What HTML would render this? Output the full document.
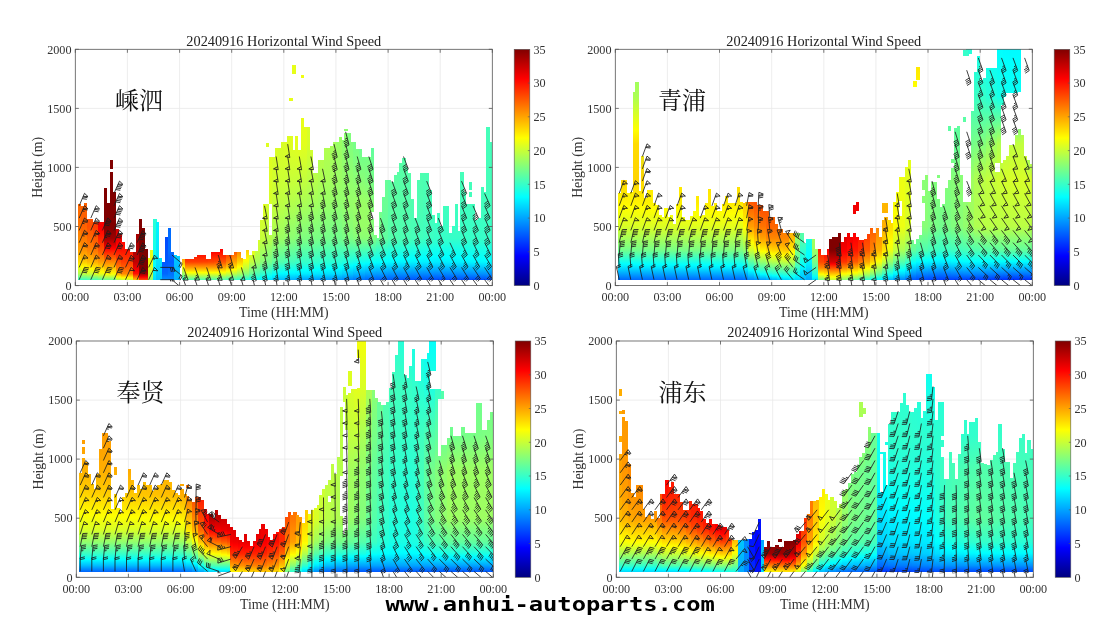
<!DOCTYPE html>
<html lang="zh"><head><meta charset="utf-8"><title>20240916 Horizontal Wind Speed</title>
<style>
html,body{margin:0;padding:0;background:#fff}
body{width:1105px;height:624px;overflow:hidden;position:relative}
svg{display:block;position:absolute;left:0;top:0}
text{font-family:"Liberation Serif","Noto Serif CJK SC",serif;fill:#333}
.tk{font-size:12.2px}
.lb{font-size:13.8px}
.tt{font-size:14.3px;fill:#222}
.cn{font-size:24px;fill:#111;font-family:"Liberation Serif","Noto Serif CJK SC",serif}
.wm{font-family:"DejaVu Sans Mono","Liberation Mono",monospace;font-weight:bold;font-size:20px;fill:#000}
</style></head><body>
<svg width="1105" height="624" viewBox="0 0 1105 624">
<defs>
<linearGradient id="cb" x1="0" x2="0" y1="1" y2="0"><stop offset="0" stop-color="#000080"/><stop offset="0.125" stop-color="#0000ff"/><stop offset="0.375" stop-color="#00ffff"/><stop offset="0.625" stop-color="#ffff00"/><stop offset="0.875" stop-color="#ff0000"/><stop offset="1" stop-color="#800000"/></linearGradient>
<linearGradient id="g0_0" gradientUnits="userSpaceOnUse" x1="0" x2="0" y1="285.6" y2="49.3"><stop offset="0.025" stop-color="#38ffc7"/><stop offset="0.05" stop-color="#afff50"/><stop offset="0.075" stop-color="#e9ff16"/><stop offset="0.08438" stop-color="#ffff00"/><stop offset="0.1" stop-color="#ffdb00"/><stop offset="0.15" stop-color="#ffa000"/><stop offset="0.2" stop-color="#ff8a00"/><stop offset="0.25" stop-color="#ff7400"/><stop offset="0.35" stop-color="#ff6800"/><stop offset="0.6" stop-color="#ff6800"/></linearGradient>
<linearGradient id="g0_1" gradientUnits="userSpaceOnUse" x1="0" x2="0" y1="285.6" y2="49.3"><stop offset="0.025" stop-color="#40ffbf"/><stop offset="0.05" stop-color="#bdff42"/><stop offset="0.075" stop-color="#f8ff07"/><stop offset="0.07812" stop-color="#ffff00"/><stop offset="0.1" stop-color="#ffcc00"/><stop offset="0.15" stop-color="#ff9200"/><stop offset="0.2" stop-color="#ff7a00"/><stop offset="0.25" stop-color="#ff6100"/><stop offset="0.35" stop-color="#ff6100"/><stop offset="0.6" stop-color="#ff6100"/></linearGradient>
<linearGradient id="g0_2" gradientUnits="userSpaceOnUse" x1="0" x2="0" y1="285.6" y2="49.3"><stop offset="0.025" stop-color="#47ffb8"/><stop offset="0.05" stop-color="#ccff33"/><stop offset="0.07187" stop-color="#ffff00"/><stop offset="0.075" stop-color="#fff800"/><stop offset="0.1" stop-color="#ffbd00"/><stop offset="0.15" stop-color="#ff8300"/><stop offset="0.2" stop-color="#ff6900"/><stop offset="0.25" stop-color="#ff4f00"/><stop offset="0.45" stop-color="#ff5900"/></linearGradient>
<linearGradient id="g0_3" gradientUnits="userSpaceOnUse" x1="0" x2="0" y1="285.6" y2="49.3"><stop offset="0.025" stop-color="#4effb1"/><stop offset="0.05" stop-color="#dbff24"/><stop offset="0.06563" stop-color="#ffff00"/><stop offset="0.075" stop-color="#ffe900"/><stop offset="0.1" stop-color="#ffaf00"/><stop offset="0.15" stop-color="#ff7500"/><stop offset="0.2" stop-color="#ff5900"/><stop offset="0.25" stop-color="#ff3d00"/><stop offset="0.45" stop-color="#ff5200"/></linearGradient>
<linearGradient id="g0_4" gradientUnits="userSpaceOnUse" x1="0" x2="0" y1="285.6" y2="49.3"><stop offset="0.025" stop-color="#5bffa4"/><stop offset="0.05" stop-color="#edff12"/><stop offset="0.05781" stop-color="#ffff00"/><stop offset="0.075" stop-color="#ffd700"/><stop offset="0.1" stop-color="#ff9d00"/><stop offset="0.15" stop-color="#ff5400"/><stop offset="0.2" stop-color="#ff2100"/><stop offset="0.2375" stop-color="#ff0000"/><stop offset="0.25" stop-color="#f40000"/><stop offset="0.3" stop-color="#ff0000"/><stop offset="0.45" stop-color="#ff0b00"/></linearGradient>
<linearGradient id="g0_5" gradientUnits="userSpaceOnUse" x1="0" x2="0" y1="285.6" y2="49.3"><stop offset="0.025" stop-color="#71ff8e"/><stop offset="0.04937" stop-color="#ffff00"/><stop offset="0.05" stop-color="#fffb00"/><stop offset="0.075" stop-color="#ffc100"/><stop offset="0.1" stop-color="#ff8700"/><stop offset="0.15" stop-color="#ff1200"/><stop offset="0.1578" stop-color="#ff0000"/><stop offset="0.2" stop-color="#9d0000"/><stop offset="0.25" stop-color="#800000"/><stop offset="0.35" stop-color="#800000"/><stop offset="0.6" stop-color="#800000"/></linearGradient>
<linearGradient id="g0_6" gradientUnits="userSpaceOnUse" x1="0" x2="0" y1="285.6" y2="49.3"><stop offset="0.025" stop-color="#71ff8e"/><stop offset="0.04938" stop-color="#ffff00"/><stop offset="0.05" stop-color="#fffb00"/><stop offset="0.075" stop-color="#ffc100"/><stop offset="0.1" stop-color="#ff8700"/><stop offset="0.15" stop-color="#ff1200"/><stop offset="0.1578" stop-color="#ff0000"/><stop offset="0.2" stop-color="#9d0000"/><stop offset="0.25" stop-color="#800000"/><stop offset="0.35" stop-color="#800000"/><stop offset="0.45" stop-color="#800000"/><stop offset="0.8" stop-color="#800000"/></linearGradient>
<linearGradient id="g0_7" gradientUnits="userSpaceOnUse" x1="0" x2="0" y1="285.6" y2="49.3"><stop offset="0.025" stop-color="#b3ff4c"/><stop offset="0.03641" stop-color="#ffff00"/><stop offset="0.05" stop-color="#ffa400"/><stop offset="0.075" stop-color="#ff7a00"/><stop offset="0.1" stop-color="#ff5000"/><stop offset="0.15" stop-color="#ff1200"/><stop offset="0.1727" stop-color="#ff0000"/><stop offset="0.2" stop-color="#e90000"/><stop offset="0.25" stop-color="#c80000"/><stop offset="0.45" stop-color="#c80000"/></linearGradient>
<linearGradient id="g0_8" gradientUnits="userSpaceOnUse" x1="0" x2="0" y1="285.6" y2="49.3"><stop offset="0.025" stop-color="#c8ff37"/><stop offset="0.03281" stop-color="#ffff00"/><stop offset="0.05" stop-color="#ff8700"/><stop offset="0.075" stop-color="#ff6200"/><stop offset="0.1" stop-color="#ff3e00"/><stop offset="0.15" stop-color="#ff1200"/><stop offset="0.2" stop-color="#ff0400"/><stop offset="0.2125" stop-color="#ff0000"/><stop offset="0.35" stop-color="#f40000"/></linearGradient>
<linearGradient id="g0_9" gradientUnits="userSpaceOnUse" x1="0" x2="0" y1="285.6" y2="49.3"><stop offset="0.025" stop-color="#c8ff37"/><stop offset="0.03281" stop-color="#ffff00"/><stop offset="0.05" stop-color="#ff8700"/><stop offset="0.075" stop-color="#ff6200"/><stop offset="0.1" stop-color="#ff3e00"/><stop offset="0.15" stop-color="#ff1200"/><stop offset="0.25" stop-color="#f40000"/></linearGradient>
<linearGradient id="g0_10" gradientUnits="userSpaceOnUse" x1="0" x2="0" y1="285.6" y2="49.3"><stop offset="0.025" stop-color="#ffc100"/><stop offset="0.05" stop-color="#ff1200"/><stop offset="0.06136" stop-color="#ff0000"/><stop offset="0.075" stop-color="#e90000"/><stop offset="0.1" stop-color="#c10000"/><stop offset="0.15" stop-color="#ab0000"/><stop offset="0.2" stop-color="#a40000"/><stop offset="0.35" stop-color="#9d0000"/></linearGradient>
<linearGradient id="g0_11" gradientUnits="userSpaceOnUse" x1="0" x2="0" y1="285.6" y2="49.3"><stop offset="0.025" stop-color="#ff4c00"/><stop offset="0.03594" stop-color="#ff0000"/><stop offset="0.05" stop-color="#9d0000"/><stop offset="0.075" stop-color="#800000"/><stop offset="0.1" stop-color="#800000"/><stop offset="0.15" stop-color="#800000"/><stop offset="0.2" stop-color="#800000"/><stop offset="0.25" stop-color="#800000"/><stop offset="0.45" stop-color="#800000"/></linearGradient>
<linearGradient id="o0_24" gradientUnits="userSpaceOnUse" x1="0" x2="0" y1="285.6" y2="49.3"><stop offset="0.025" stop-color="#ff4c00"/><stop offset="0.03594" stop-color="#ff0000"/><stop offset="0.05" stop-color="#9d0000"/><stop offset="0.075" stop-color="#800000"/><stop offset="0.1" stop-color="#800000"/><stop offset="0.15" stop-color="#800000"/><stop offset="0.25" stop-color="#800000"/></linearGradient>
<linearGradient id="o0_25" gradientUnits="userSpaceOnUse" x1="0" x2="0" y1="285.6" y2="49.3"><stop offset="0.025" stop-color="#abff54"/><stop offset="0.05" stop-color="#d7ff28"/><stop offset="0.075" stop-color="#e5ff1a"/><stop offset="0.1" stop-color="#f4ff0b"/><stop offset="0.15" stop-color="#f4ff0b"/><stop offset="0.25" stop-color="#f4ff0b"/></linearGradient>
<linearGradient id="o0_26" gradientUnits="userSpaceOnUse" x1="0" x2="0" y1="285.6" y2="49.3"><stop offset="0.025" stop-color="#8eff71"/><stop offset="0.05" stop-color="#c8ff37"/><stop offset="0.075" stop-color="#d7ff28"/><stop offset="0.1" stop-color="#e5ff1a"/><stop offset="0.15" stop-color="#e5ff1a"/><stop offset="0.2" stop-color="#e5ff1a"/><stop offset="0.25" stop-color="#e5ff1a"/><stop offset="0.45" stop-color="#e5ff1a"/></linearGradient>
<linearGradient id="o0_27" gradientUnits="userSpaceOnUse" x1="0" x2="0" y1="285.6" y2="49.3"><stop offset="0.025" stop-color="#00deff"/><stop offset="0.05" stop-color="#00edff"/><stop offset="0.075" stop-color="#00fbff"/><stop offset="0.08125" stop-color="#00ffff"/><stop offset="0.1" stop-color="#0bfff4"/><stop offset="0.15" stop-color="#15ffea"/><stop offset="0.2" stop-color="#1effe1"/><stop offset="0.25" stop-color="#28ffd7"/><stop offset="0.45" stop-color="#28ffd7"/></linearGradient>
<linearGradient id="g0_14" gradientUnits="userSpaceOnUse" x1="0" x2="0" y1="285.6" y2="49.3"><stop offset="0.025" stop-color="#00c1ff"/><stop offset="0.05" stop-color="#00cdff"/><stop offset="0.075" stop-color="#00d9ff"/><stop offset="0.1" stop-color="#00e5ff"/><stop offset="0.15" stop-color="#00eaff"/><stop offset="0.2" stop-color="#00efff"/><stop offset="0.25" stop-color="#00f4ff"/><stop offset="0.45" stop-color="#00f4ff"/></linearGradient>
<linearGradient id="g0_15" gradientUnits="userSpaceOnUse" x1="0" x2="0" y1="285.6" y2="49.3"><stop offset="0.025" stop-color="#008eff"/><stop offset="0.05" stop-color="#0066ff"/><stop offset="0.075" stop-color="#005fff"/><stop offset="0.1" stop-color="#0057ff"/><stop offset="0.15" stop-color="#0051ff"/><stop offset="0.2" stop-color="#004bff"/><stop offset="0.35" stop-color="#0045ff"/></linearGradient>
<linearGradient id="g0_16" gradientUnits="userSpaceOnUse" x1="0" x2="0" y1="285.6" y2="49.3"><stop offset="0.025" stop-color="#0087ff"/><stop offset="0.05" stop-color="#0071ff"/><stop offset="0.075" stop-color="#0066ff"/><stop offset="0.1" stop-color="#005bff"/><stop offset="0.15" stop-color="#006eff"/><stop offset="0.2" stop-color="#006cff"/><stop offset="0.25" stop-color="#006aff"/><stop offset="0.45" stop-color="#006aff"/></linearGradient>
<linearGradient id="g0_17" gradientUnits="userSpaceOnUse" x1="0" x2="0" y1="285.6" y2="49.3"><stop offset="0.025" stop-color="#00b2ff"/><stop offset="0.05" stop-color="#00b7ff"/><stop offset="0.075" stop-color="#00bcff"/><stop offset="0.1" stop-color="#00c1ff"/><stop offset="0.15" stop-color="#00deff"/><stop offset="0.25" stop-color="#00deff"/></linearGradient>
<linearGradient id="g0_18" gradientUnits="userSpaceOnUse" x1="0" x2="0" y1="285.6" y2="49.3"><stop offset="0.025" stop-color="#2fffd0"/><stop offset="0.05" stop-color="#9fff60"/><stop offset="0.075" stop-color="#f9ff06"/><stop offset="0.07692" stop-color="#ffff00"/><stop offset="0.1" stop-color="#ffb600"/><stop offset="0.2" stop-color="#ff7800"/></linearGradient>
<linearGradient id="g0_19" gradientUnits="userSpaceOnUse" x1="0" x2="0" y1="285.6" y2="49.3"><stop offset="0.025" stop-color="#54ffab"/><stop offset="0.05" stop-color="#e5ff1a"/><stop offset="0.05547" stop-color="#ffff00"/><stop offset="0.075" stop-color="#ffa400"/><stop offset="0.1" stop-color="#ff3e00"/><stop offset="0.1425" stop-color="#ff0000"/><stop offset="0.2" stop-color="#f40000"/></linearGradient>
<linearGradient id="g0_20" gradientUnits="userSpaceOnUse" x1="0" x2="0" y1="285.6" y2="49.3"><stop offset="0.025" stop-color="#54ffab"/><stop offset="0.05" stop-color="#e5ff1a"/><stop offset="0.05547" stop-color="#ffff00"/><stop offset="0.075" stop-color="#ffa400"/><stop offset="0.1" stop-color="#ff3e00"/><stop offset="0.1425" stop-color="#ff0000"/><stop offset="0.2" stop-color="#f40000"/></linearGradient>
<linearGradient id="g0_21" gradientUnits="userSpaceOnUse" x1="0" x2="0" y1="285.6" y2="49.3"><stop offset="0.025" stop-color="#54ffab"/><stop offset="0.05" stop-color="#e5ff1a"/><stop offset="0.05547" stop-color="#ffff00"/><stop offset="0.075" stop-color="#ffa400"/><stop offset="0.1" stop-color="#ff3e00"/><stop offset="0.1425" stop-color="#ff0000"/><stop offset="0.15" stop-color="#f40000"/><stop offset="0.25" stop-color="#f40000"/></linearGradient>
<linearGradient id="g0_22" gradientUnits="userSpaceOnUse" x1="0" x2="0" y1="285.6" y2="49.3"><stop offset="0.025" stop-color="#54ffab"/><stop offset="0.05" stop-color="#e5ff1a"/><stop offset="0.05547" stop-color="#ffff00"/><stop offset="0.075" stop-color="#ffa400"/><stop offset="0.1" stop-color="#ff3f00"/><stop offset="0.1426" stop-color="#ff0000"/><stop offset="0.15" stop-color="#f40000"/><stop offset="0.25" stop-color="#f40000"/></linearGradient>
<linearGradient id="g0_23" gradientUnits="userSpaceOnUse" x1="0" x2="0" y1="285.6" y2="49.3"><stop offset="0.025" stop-color="#54ffab"/><stop offset="0.05" stop-color="#e5ff1a"/><stop offset="0.05547" stop-color="#ffff00"/><stop offset="0.075" stop-color="#ffa400"/><stop offset="0.1" stop-color="#ff4400"/><stop offset="0.1431" stop-color="#ff0000"/><stop offset="0.15" stop-color="#f40000"/><stop offset="0.25" stop-color="#f40000"/></linearGradient>
<linearGradient id="g0_24" gradientUnits="userSpaceOnUse" x1="0" x2="0" y1="285.6" y2="49.3"><stop offset="0.025" stop-color="#54ffab"/><stop offset="0.05" stop-color="#e5ff1a"/><stop offset="0.05547" stop-color="#ffff00"/><stop offset="0.075" stop-color="#ffa400"/><stop offset="0.1" stop-color="#ff4900"/><stop offset="0.1435" stop-color="#ff0000"/><stop offset="0.15" stop-color="#f40000"/><stop offset="0.25" stop-color="#f40000"/></linearGradient>
<linearGradient id="g0_25" gradientUnits="userSpaceOnUse" x1="0" x2="0" y1="285.6" y2="49.3"><stop offset="0.025" stop-color="#51ffae"/><stop offset="0.05" stop-color="#e1ff1e"/><stop offset="0.05665" stop-color="#ffff00"/><stop offset="0.075" stop-color="#ffab00"/><stop offset="0.1" stop-color="#ff5600"/><stop offset="0.1493" stop-color="#ff0000"/><stop offset="0.15" stop-color="#fe0000"/><stop offset="0.25" stop-color="#fe0000"/></linearGradient>
<linearGradient id="g0_26" gradientUnits="userSpaceOnUse" x1="0" x2="0" y1="285.6" y2="49.3"><stop offset="0.025" stop-color="#48ffb7"/><stop offset="0.05" stop-color="#cdff32"/><stop offset="0.06192" stop-color="#ffff00"/><stop offset="0.075" stop-color="#ffc800"/><stop offset="0.1" stop-color="#ff7d00"/><stop offset="0.15" stop-color="#ff2600"/><stop offset="0.25" stop-color="#ff2600"/></linearGradient>
<linearGradient id="g0_27" gradientUnits="userSpaceOnUse" x1="0" x2="0" y1="285.6" y2="49.3"><stop offset="0.025" stop-color="#3effc1"/><stop offset="0.05" stop-color="#baff45"/><stop offset="0.06827" stop-color="#ffff00"/><stop offset="0.075" stop-color="#ffe500"/><stop offset="0.1" stop-color="#ffa400"/><stop offset="0.15" stop-color="#ff4c00"/><stop offset="0.25" stop-color="#ff4c00"/></linearGradient>
<linearGradient id="g0_28" gradientUnits="userSpaceOnUse" x1="0" x2="0" y1="285.6" y2="49.3"><stop offset="0.025" stop-color="#33ffcc"/><stop offset="0.05" stop-color="#a4ff5b"/><stop offset="0.075" stop-color="#f6ff09"/><stop offset="0.07903" stop-color="#ffff00"/><stop offset="0.1" stop-color="#ffd000"/><stop offset="0.15" stop-color="#ff7e00"/><stop offset="0.25" stop-color="#ff7e00"/></linearGradient>
<linearGradient id="g0_29" gradientUnits="userSpaceOnUse" x1="0" x2="0" y1="285.6" y2="49.3"><stop offset="0.025" stop-color="#24ffdb"/><stop offset="0.05" stop-color="#87ff78"/><stop offset="0.075" stop-color="#c3ff3c"/><stop offset="0.1" stop-color="#f4ff0b"/><stop offset="0.1091" stop-color="#ffff00"/><stop offset="0.15" stop-color="#ffce00"/><stop offset="0.25" stop-color="#ffce00"/></linearGradient>
<linearGradient id="g0_30" gradientUnits="userSpaceOnUse" x1="0" x2="0" y1="285.6" y2="49.3"><stop offset="0.025" stop-color="#16ffe9"/><stop offset="0.05" stop-color="#6aff95"/><stop offset="0.075" stop-color="#95ff6a"/><stop offset="0.1" stop-color="#c1ff3e"/><stop offset="0.15" stop-color="#ebff14"/><stop offset="0.25" stop-color="#f0ff0f"/></linearGradient>
<linearGradient id="g0_31" gradientUnits="userSpaceOnUse" x1="0" x2="0" y1="285.6" y2="49.3"><stop offset="0.025" stop-color="#07fff8"/><stop offset="0.05" stop-color="#4dffb2"/><stop offset="0.075" stop-color="#78ff87"/><stop offset="0.1" stop-color="#a4ff5b"/><stop offset="0.15" stop-color="#c7ff38"/><stop offset="0.2" stop-color="#d9ff26"/><stop offset="0.35" stop-color="#ebff14"/></linearGradient>
<linearGradient id="g0_32" gradientUnits="userSpaceOnUse" x1="0" x2="0" y1="285.6" y2="49.3"><stop offset="0.025" stop-color="#00f6ff"/><stop offset="0.02865" stop-color="#00ffff"/><stop offset="0.05" stop-color="#32ffcd"/><stop offset="0.075" stop-color="#5dffa2"/><stop offset="0.1" stop-color="#89ff76"/><stop offset="0.15" stop-color="#a7ff58"/><stop offset="0.2" stop-color="#c5ff3a"/><stop offset="0.25" stop-color="#cfff30"/><stop offset="0.35" stop-color="#e2ff1d"/><stop offset="0.6" stop-color="#e4ff1b"/></linearGradient>
<linearGradient id="g0_33" gradientUnits="userSpaceOnUse" x1="0" x2="0" y1="285.6" y2="49.3"><stop offset="0.025" stop-color="#00e3ff"/><stop offset="0.03698" stop-color="#00ffff"/><stop offset="0.05" stop-color="#1effe1"/><stop offset="0.075" stop-color="#4affb5"/><stop offset="0.1" stop-color="#76ff89"/><stop offset="0.15" stop-color="#96ff69"/><stop offset="0.2" stop-color="#b6ff49"/><stop offset="0.25" stop-color="#c0ff3f"/><stop offset="0.35" stop-color="#d5ff2a"/><stop offset="0.45" stop-color="#dbff24"/><stop offset="0.6" stop-color="#dfff20"/><stop offset="1" stop-color="#dfff20"/></linearGradient>
<linearGradient id="g0_34" gradientUnits="userSpaceOnUse" x1="0" x2="0" y1="285.6" y2="49.3"><stop offset="0.025" stop-color="#00d0ff"/><stop offset="0.04531" stop-color="#00ffff"/><stop offset="0.05" stop-color="#0bfff4"/><stop offset="0.075" stop-color="#37ffc8"/><stop offset="0.1" stop-color="#62ff9d"/><stop offset="0.15" stop-color="#85ff7a"/><stop offset="0.2" stop-color="#a8ff57"/><stop offset="0.25" stop-color="#b2ff4d"/><stop offset="0.35" stop-color="#c7ff38"/><stop offset="0.45" stop-color="#d2ff2d"/><stop offset="0.6" stop-color="#dbff24"/><stop offset="1" stop-color="#dbff24"/></linearGradient>
<linearGradient id="g0_35" gradientUnits="userSpaceOnUse" x1="0" x2="0" y1="285.6" y2="49.3"><stop offset="0.025" stop-color="#00bfff"/><stop offset="0.05" stop-color="#00faff"/><stop offset="0.05263" stop-color="#00ffff"/><stop offset="0.075" stop-color="#27ffd8"/><stop offset="0.1" stop-color="#52ffad"/><stop offset="0.15" stop-color="#76ff89"/><stop offset="0.2" stop-color="#9bff64"/><stop offset="0.25" stop-color="#a6ff59"/><stop offset="0.35" stop-color="#bcff43"/><stop offset="0.45" stop-color="#ccff33"/><stop offset="0.6" stop-color="#d8ff27"/><stop offset="1" stop-color="#d9ff26"/></linearGradient>
<linearGradient id="g0_36" gradientUnits="userSpaceOnUse" x1="0" x2="0" y1="285.6" y2="49.3"><stop offset="0.025" stop-color="#00b8ff"/><stop offset="0.05" stop-color="#00f7ff"/><stop offset="0.05495" stop-color="#00ffff"/><stop offset="0.075" stop-color="#21ffde"/><stop offset="0.1" stop-color="#4bffb4"/><stop offset="0.15" stop-color="#6fff90"/><stop offset="0.2" stop-color="#94ff6b"/><stop offset="0.25" stop-color="#a0ff5f"/><stop offset="0.35" stop-color="#b8ff47"/><stop offset="0.45" stop-color="#caff35"/><stop offset="0.6" stop-color="#dbff24"/><stop offset="1" stop-color="#e0ff1f"/></linearGradient>
<linearGradient id="g0_37" gradientUnits="userSpaceOnUse" x1="0" x2="0" y1="285.6" y2="49.3"><stop offset="0.025" stop-color="#00b1ff"/><stop offset="0.05" stop-color="#00f3ff"/><stop offset="0.05747" stop-color="#00ffff"/><stop offset="0.075" stop-color="#1cffe3"/><stop offset="0.1" stop-color="#43ffbc"/><stop offset="0.15" stop-color="#68ff97"/><stop offset="0.2" stop-color="#8cff73"/><stop offset="0.25" stop-color="#99ff66"/><stop offset="0.35" stop-color="#b3ff4c"/><stop offset="0.45" stop-color="#c8ff37"/><stop offset="0.6" stop-color="#dfff20"/><stop offset="0.8" stop-color="#e7ff18"/><stop offset="1" stop-color="#e7ff18"/></linearGradient>
<linearGradient id="g0_38" gradientUnits="userSpaceOnUse" x1="0" x2="0" y1="285.6" y2="49.3"><stop offset="0.025" stop-color="#00a9ff"/><stop offset="0.05" stop-color="#00f0ff"/><stop offset="0.06024" stop-color="#00ffff"/><stop offset="0.075" stop-color="#16ffe9"/><stop offset="0.1" stop-color="#3cffc3"/><stop offset="0.15" stop-color="#61ff9e"/><stop offset="0.2" stop-color="#85ff7a"/><stop offset="0.25" stop-color="#93ff6c"/><stop offset="0.35" stop-color="#afff50"/><stop offset="0.45" stop-color="#c6ff39"/><stop offset="0.6" stop-color="#e3ff1c"/><stop offset="1" stop-color="#efff10"/></linearGradient>
<linearGradient id="g0_39" gradientUnits="userSpaceOnUse" x1="0" x2="0" y1="285.6" y2="49.3"><stop offset="0.025" stop-color="#00a3ff"/><stop offset="0.05" stop-color="#00ecff"/><stop offset="0.06292" stop-color="#00ffff"/><stop offset="0.075" stop-color="#12ffed"/><stop offset="0.1" stop-color="#36ffc9"/><stop offset="0.15" stop-color="#5affa5"/><stop offset="0.2" stop-color="#7fff80"/><stop offset="0.25" stop-color="#8dff72"/><stop offset="0.35" stop-color="#aaff55"/><stop offset="0.45" stop-color="#c3ff3c"/><stop offset="0.6" stop-color="#e2ff1d"/><stop offset="0.8" stop-color="#f0ff0f"/><stop offset="1" stop-color="#f0ff0f"/></linearGradient>
<linearGradient id="g0_40" gradientUnits="userSpaceOnUse" x1="0" x2="0" y1="285.6" y2="49.3"><stop offset="0.025" stop-color="#00a1ff"/><stop offset="0.05" stop-color="#00eaff"/><stop offset="0.06458" stop-color="#00ffff"/><stop offset="0.075" stop-color="#0ffff0"/><stop offset="0.1" stop-color="#34ffcb"/><stop offset="0.15" stop-color="#58ffa7"/><stop offset="0.2" stop-color="#7cff83"/><stop offset="0.25" stop-color="#8aff75"/><stop offset="0.35" stop-color="#a6ff59"/><stop offset="0.45" stop-color="#bcff43"/><stop offset="0.6" stop-color="#d6ff29"/><stop offset="1" stop-color="#e2ff1d"/></linearGradient>
<linearGradient id="g0_41" gradientUnits="userSpaceOnUse" x1="0" x2="0" y1="285.6" y2="49.3"><stop offset="0.025" stop-color="#009eff"/><stop offset="0.05" stop-color="#00e7ff"/><stop offset="0.06625" stop-color="#00ffff"/><stop offset="0.075" stop-color="#0dfff2"/><stop offset="0.1" stop-color="#31ffce"/><stop offset="0.15" stop-color="#56ffa9"/><stop offset="0.2" stop-color="#7aff85"/><stop offset="0.25" stop-color="#87ff78"/><stop offset="0.35" stop-color="#a2ff5d"/><stop offset="0.45" stop-color="#b6ff49"/><stop offset="0.8" stop-color="#d3ff2c"/></linearGradient>
<linearGradient id="g0_42" gradientUnits="userSpaceOnUse" x1="0" x2="0" y1="285.6" y2="49.3"><stop offset="0.025" stop-color="#009cff"/><stop offset="0.05" stop-color="#00e5ff"/><stop offset="0.06792" stop-color="#00ffff"/><stop offset="0.075" stop-color="#0afff5"/><stop offset="0.1" stop-color="#2fffd0"/><stop offset="0.15" stop-color="#53ffac"/><stop offset="0.2" stop-color="#78ff87"/><stop offset="0.25" stop-color="#84ff7b"/><stop offset="0.35" stop-color="#9dff62"/><stop offset="0.45" stop-color="#afff50"/><stop offset="0.8" stop-color="#c5ff3a"/></linearGradient>
<linearGradient id="g0_43" gradientUnits="userSpaceOnUse" x1="0" x2="0" y1="285.6" y2="49.3"><stop offset="0.025" stop-color="#009aff"/><stop offset="0.05" stop-color="#00e2ff"/><stop offset="0.06958" stop-color="#00ffff"/><stop offset="0.075" stop-color="#08fff7"/><stop offset="0.1" stop-color="#2cffd3"/><stop offset="0.15" stop-color="#51ffae"/><stop offset="0.2" stop-color="#75ff8a"/><stop offset="0.25" stop-color="#81ff7e"/><stop offset="0.35" stop-color="#99ff66"/><stop offset="0.45" stop-color="#a8ff57"/><stop offset="0.6" stop-color="#b2ff4d"/><stop offset="1" stop-color="#b6ff49"/></linearGradient>
<linearGradient id="g0_44" gradientUnits="userSpaceOnUse" x1="0" x2="0" y1="285.6" y2="49.3"><stop offset="0.025" stop-color="#0097ff"/><stop offset="0.05" stop-color="#00e0ff"/><stop offset="0.07125" stop-color="#00ffff"/><stop offset="0.075" stop-color="#05fffa"/><stop offset="0.1" stop-color="#2affd5"/><stop offset="0.15" stop-color="#4effb1"/><stop offset="0.2" stop-color="#73ff8c"/><stop offset="0.25" stop-color="#7eff81"/><stop offset="0.35" stop-color="#95ff6a"/><stop offset="0.45" stop-color="#a2ff5d"/><stop offset="0.6" stop-color="#a6ff59"/><stop offset="1" stop-color="#a8ff57"/></linearGradient>
<linearGradient id="g0_45" gradientUnits="userSpaceOnUse" x1="0" x2="0" y1="285.6" y2="49.3"><stop offset="0.025" stop-color="#0093ff"/><stop offset="0.05" stop-color="#00dbff"/><stop offset="0.07402" stop-color="#00ffff"/><stop offset="0.075" stop-color="#01fffe"/><stop offset="0.1" stop-color="#27ffd8"/><stop offset="0.15" stop-color="#4cffb3"/><stop offset="0.2" stop-color="#72ff8d"/><stop offset="0.25" stop-color="#7dff82"/><stop offset="0.35" stop-color="#92ff6d"/><stop offset="0.45" stop-color="#9bff64"/><stop offset="0.6" stop-color="#9aff65"/><stop offset="1" stop-color="#9aff65"/></linearGradient>
<linearGradient id="g0_46" gradientUnits="userSpaceOnUse" x1="0" x2="0" y1="285.6" y2="49.3"><stop offset="0.025" stop-color="#008aff"/><stop offset="0.05" stop-color="#00d0ff"/><stop offset="0.075" stop-color="#00f8ff"/><stop offset="0.07955" stop-color="#00ffff"/><stop offset="0.1" stop-color="#21ffde"/><stop offset="0.15" stop-color="#4dffb2"/><stop offset="0.2" stop-color="#78ff87"/><stop offset="0.25" stop-color="#84ff7b"/><stop offset="0.35" stop-color="#94ff6b"/><stop offset="0.45" stop-color="#96ff69"/><stop offset="0.6" stop-color="#8eff71"/><stop offset="1" stop-color="#8eff71"/></linearGradient>
<linearGradient id="g0_47" gradientUnits="userSpaceOnUse" x1="0" x2="0" y1="285.6" y2="49.3"><stop offset="0.025" stop-color="#0082ff"/><stop offset="0.05" stop-color="#00c4ff"/><stop offset="0.075" stop-color="#00efff"/><stop offset="0.08432" stop-color="#00ffff"/><stop offset="0.1" stop-color="#1bffe4"/><stop offset="0.15" stop-color="#4dffb2"/><stop offset="0.2" stop-color="#7eff81"/><stop offset="0.25" stop-color="#8bff74"/><stop offset="0.35" stop-color="#97ff68"/><stop offset="0.45" stop-color="#91ff6e"/><stop offset="0.6" stop-color="#82ff7d"/><stop offset="1" stop-color="#82ff7d"/></linearGradient>
<linearGradient id="g0_48" gradientUnits="userSpaceOnUse" x1="0" x2="0" y1="285.6" y2="49.3"><stop offset="0.025" stop-color="#0079ff"/><stop offset="0.05" stop-color="#00b8ff"/><stop offset="0.075" stop-color="#00e6ff"/><stop offset="0.08849" stop-color="#00ffff"/><stop offset="0.1" stop-color="#15ffea"/><stop offset="0.15" stop-color="#4dffb2"/><stop offset="0.2" stop-color="#84ff7b"/><stop offset="0.25" stop-color="#91ff6e"/><stop offset="0.35" stop-color="#99ff66"/><stop offset="0.45" stop-color="#8cff73"/><stop offset="0.6" stop-color="#77ff88"/><stop offset="1" stop-color="#77ff88"/></linearGradient>
<linearGradient id="g0_49" gradientUnits="userSpaceOnUse" x1="0" x2="0" y1="285.6" y2="49.3"><stop offset="0.025" stop-color="#0070ff"/><stop offset="0.05" stop-color="#00adff"/><stop offset="0.075" stop-color="#00ddff"/><stop offset="0.09216" stop-color="#00ffff"/><stop offset="0.1" stop-color="#0ffff0"/><stop offset="0.15" stop-color="#4dffb2"/><stop offset="0.2" stop-color="#8aff75"/><stop offset="0.25" stop-color="#98ff67"/><stop offset="0.35" stop-color="#9bff64"/><stop offset="0.45" stop-color="#87ff78"/><stop offset="0.6" stop-color="#6bff94"/><stop offset="1" stop-color="#6bff94"/></linearGradient>
<linearGradient id="g0_50" gradientUnits="userSpaceOnUse" x1="0" x2="0" y1="285.6" y2="49.3"><stop offset="0.025" stop-color="#0069ff"/><stop offset="0.05" stop-color="#00a3ff"/><stop offset="0.075" stop-color="#00d6ff"/><stop offset="0.09509" stop-color="#00ffff"/><stop offset="0.1" stop-color="#0afff5"/><stop offset="0.15" stop-color="#4affb5"/><stop offset="0.2" stop-color="#8aff75"/><stop offset="0.25" stop-color="#98ff67"/><stop offset="0.35" stop-color="#99ff66"/><stop offset="0.45" stop-color="#81ff7e"/><stop offset="0.8" stop-color="#61ff9e"/></linearGradient>
<linearGradient id="g0_51" gradientUnits="userSpaceOnUse" x1="0" x2="0" y1="285.6" y2="49.3"><stop offset="0.025" stop-color="#0065ff"/><stop offset="0.05" stop-color="#009fff"/><stop offset="0.075" stop-color="#00d2ff"/><stop offset="0.09688" stop-color="#00ffff"/><stop offset="0.1" stop-color="#06fff9"/><stop offset="0.15" stop-color="#41ffbe"/><stop offset="0.2" stop-color="#7cff83"/><stop offset="0.25" stop-color="#87ff78"/><stop offset="0.35" stop-color="#89ff76"/><stop offset="0.45" stop-color="#78ff87"/><stop offset="0.6" stop-color="#5effa1"/><stop offset="1" stop-color="#5effa1"/></linearGradient>
<linearGradient id="g0_52" gradientUnits="userSpaceOnUse" x1="0" x2="0" y1="285.6" y2="49.3"><stop offset="0.025" stop-color="#0061ff"/><stop offset="0.05" stop-color="#009cff"/><stop offset="0.075" stop-color="#00cfff"/><stop offset="0.09866" stop-color="#00ffff"/><stop offset="0.1" stop-color="#03fffc"/><stop offset="0.15" stop-color="#38ffc7"/><stop offset="0.2" stop-color="#6dff92"/><stop offset="0.25" stop-color="#76ff89"/><stop offset="0.45" stop-color="#6fff90"/></linearGradient>
<linearGradient id="g0_53" gradientUnits="userSpaceOnUse" x1="0" x2="0" y1="285.6" y2="49.3"><stop offset="0.025" stop-color="#005eff"/><stop offset="0.05" stop-color="#0098ff"/><stop offset="0.075" stop-color="#00cbff"/><stop offset="0.1" stop-color="#00feff"/><stop offset="0.101" stop-color="#00ffff"/><stop offset="0.15" stop-color="#2fffd0"/><stop offset="0.2" stop-color="#5fffa0"/><stop offset="0.25" stop-color="#64ff9b"/><stop offset="0.35" stop-color="#6aff95"/><stop offset="0.45" stop-color="#66ff99"/><stop offset="0.8" stop-color="#57ffa8"/></linearGradient>
<linearGradient id="g0_54" gradientUnits="userSpaceOnUse" x1="0" x2="0" y1="285.6" y2="49.3"><stop offset="0.025" stop-color="#005bff"/><stop offset="0.05" stop-color="#0095ff"/><stop offset="0.075" stop-color="#00c8ff"/><stop offset="0.1" stop-color="#00fbff"/><stop offset="0.1047" stop-color="#00ffff"/><stop offset="0.15" stop-color="#27ffd8"/><stop offset="0.2" stop-color="#53ffac"/><stop offset="0.25" stop-color="#57ffa8"/><stop offset="0.35" stop-color="#5effa1"/><stop offset="0.45" stop-color="#5effa1"/><stop offset="0.8" stop-color="#53ffac"/></linearGradient>
<linearGradient id="g0_55" gradientUnits="userSpaceOnUse" x1="0" x2="0" y1="285.6" y2="49.3"><stop offset="0.025" stop-color="#0059ff"/><stop offset="0.05" stop-color="#0093ff"/><stop offset="0.075" stop-color="#00c6ff"/><stop offset="0.1" stop-color="#00f9ff"/><stop offset="0.1068" stop-color="#00ffff"/><stop offset="0.15" stop-color="#25ffda"/><stop offset="0.2" stop-color="#4fffb0"/><stop offset="0.25" stop-color="#53ffac"/><stop offset="0.35" stop-color="#5affa5"/><stop offset="0.45" stop-color="#5bffa4"/><stop offset="0.8" stop-color="#52ffad"/></linearGradient>
<linearGradient id="g0_56" gradientUnits="userSpaceOnUse" x1="0" x2="0" y1="285.6" y2="49.3"><stop offset="0.025" stop-color="#0057ff"/><stop offset="0.05" stop-color="#0092ff"/><stop offset="0.075" stop-color="#00c5ff"/><stop offset="0.1" stop-color="#00f7ff"/><stop offset="0.109" stop-color="#00ffff"/><stop offset="0.15" stop-color="#22ffdd"/><stop offset="0.2" stop-color="#4cffb3"/><stop offset="0.25" stop-color="#50ffaf"/><stop offset="0.35" stop-color="#57ffa8"/><stop offset="0.45" stop-color="#58ffa7"/><stop offset="0.8" stop-color="#50ffaf"/></linearGradient>
<linearGradient id="g0_57" gradientUnits="userSpaceOnUse" x1="0" x2="0" y1="285.6" y2="49.3"><stop offset="0.025" stop-color="#0056ff"/><stop offset="0.05" stop-color="#0090ff"/><stop offset="0.075" stop-color="#00c3ff"/><stop offset="0.1" stop-color="#00f6ff"/><stop offset="0.1113" stop-color="#00ffff"/><stop offset="0.15" stop-color="#20ffdf"/><stop offset="0.2" stop-color="#49ffb6"/><stop offset="0.25" stop-color="#4cffb3"/><stop offset="0.35" stop-color="#54ffab"/><stop offset="0.45" stop-color="#55ffaa"/><stop offset="0.8" stop-color="#4effb1"/></linearGradient>
<linearGradient id="g0_58" gradientUnits="userSpaceOnUse" x1="0" x2="0" y1="285.6" y2="49.3"><stop offset="0.025" stop-color="#0054ff"/><stop offset="0.05" stop-color="#008eff"/><stop offset="0.075" stop-color="#00c1ff"/><stop offset="0.1" stop-color="#00f4ff"/><stop offset="0.1136" stop-color="#00ffff"/><stop offset="0.15" stop-color="#1dffe2"/><stop offset="0.2" stop-color="#45ffba"/><stop offset="0.25" stop-color="#49ffb6"/><stop offset="0.35" stop-color="#50ffaf"/><stop offset="0.6" stop-color="#4dffb2"/></linearGradient>
<linearGradient id="g0_59" gradientUnits="userSpaceOnUse" x1="0" x2="0" y1="285.6" y2="49.3"><stop offset="0.025" stop-color="#0052ff"/><stop offset="0.05" stop-color="#008cff"/><stop offset="0.075" stop-color="#00bfff"/><stop offset="0.1" stop-color="#00f2ff"/><stop offset="0.1161" stop-color="#00ffff"/><stop offset="0.15" stop-color="#1bffe4"/><stop offset="0.2" stop-color="#42ffbd"/><stop offset="0.25" stop-color="#45ffba"/><stop offset="0.35" stop-color="#4dffb2"/><stop offset="0.45" stop-color="#4fffb0"/><stop offset="0.8" stop-color="#4bffb4"/></linearGradient>
<linearGradient id="g0_60" gradientUnits="userSpaceOnUse" x1="0" x2="0" y1="285.6" y2="49.3"><stop offset="0.025" stop-color="#0050ff"/><stop offset="0.05" stop-color="#008bff"/><stop offset="0.075" stop-color="#00beff"/><stop offset="0.1" stop-color="#00f1ff"/><stop offset="0.1187" stop-color="#00ffff"/><stop offset="0.15" stop-color="#18ffe7"/><stop offset="0.2" stop-color="#3effc1"/><stop offset="0.25" stop-color="#42ffbd"/><stop offset="0.35" stop-color="#49ffb6"/><stop offset="0.45" stop-color="#4cffb3"/><stop offset="0.8" stop-color="#49ffb6"/></linearGradient>
<linearGradient id="g0_61" gradientUnits="userSpaceOnUse" x1="0" x2="0" y1="285.6" y2="49.3"><stop offset="0.025" stop-color="#004fff"/><stop offset="0.05" stop-color="#0089ff"/><stop offset="0.075" stop-color="#00bcff"/><stop offset="0.1" stop-color="#00efff"/><stop offset="0.1214" stop-color="#00ffff"/><stop offset="0.15" stop-color="#15ffea"/><stop offset="0.2" stop-color="#3bffc4"/><stop offset="0.25" stop-color="#3fffc0"/><stop offset="0.35" stop-color="#46ffb9"/><stop offset="0.6" stop-color="#47ffb8"/></linearGradient>
<linearGradient id="g0_62" gradientUnits="userSpaceOnUse" x1="0" x2="0" y1="285.6" y2="49.3"><stop offset="0.025" stop-color="#004dff"/><stop offset="0.05" stop-color="#0087ff"/><stop offset="0.075" stop-color="#00baff"/><stop offset="0.1" stop-color="#00edff"/><stop offset="0.1243" stop-color="#00ffff"/><stop offset="0.15" stop-color="#13ffec"/><stop offset="0.2" stop-color="#37ffc8"/><stop offset="0.25" stop-color="#3bffc4"/><stop offset="0.45" stop-color="#46ffb9"/></linearGradient>
<linearGradient id="g0_63" gradientUnits="userSpaceOnUse" x1="0" x2="0" y1="285.6" y2="49.3"><stop offset="0.025" stop-color="#004cff"/><stop offset="0.05" stop-color="#0088ff"/><stop offset="0.075" stop-color="#00bbff"/><stop offset="0.1" stop-color="#00eeff"/><stop offset="0.1237" stop-color="#00ffff"/><stop offset="0.15" stop-color="#13ffec"/><stop offset="0.2" stop-color="#37ffc8"/><stop offset="0.25" stop-color="#3affc5"/><stop offset="0.35" stop-color="#42ffbd"/><stop offset="0.6" stop-color="#45ffba"/></linearGradient>
<linearGradient id="g0_64" gradientUnits="userSpaceOnUse" x1="0" x2="0" y1="285.6" y2="49.3"><stop offset="0.025" stop-color="#004dff"/><stop offset="0.05" stop-color="#008aff"/><stop offset="0.075" stop-color="#00bdff"/><stop offset="0.1" stop-color="#00f0ff"/><stop offset="0.122" stop-color="#00ffff"/><stop offset="0.15" stop-color="#14ffeb"/><stop offset="0.2" stop-color="#37ffc8"/><stop offset="0.25" stop-color="#3affc5"/><stop offset="0.35" stop-color="#42ffbd"/><stop offset="0.6" stop-color="#45ffba"/></linearGradient>
<linearGradient id="g0_65" gradientUnits="userSpaceOnUse" x1="0" x2="0" y1="285.6" y2="49.3"><stop offset="0.025" stop-color="#004dff"/><stop offset="0.05" stop-color="#008bff"/><stop offset="0.075" stop-color="#00beff"/><stop offset="0.1" stop-color="#00f1ff"/><stop offset="0.1201" stop-color="#00ffff"/><stop offset="0.15" stop-color="#14ffeb"/><stop offset="0.2" stop-color="#37ffc8"/><stop offset="0.25" stop-color="#3affc5"/><stop offset="0.35" stop-color="#42ffbd"/><stop offset="0.6" stop-color="#45ffba"/></linearGradient>
<linearGradient id="g0_66" gradientUnits="userSpaceOnUse" x1="0" x2="0" y1="285.6" y2="49.3"><stop offset="0.025" stop-color="#004dff"/><stop offset="0.05" stop-color="#008dff"/><stop offset="0.075" stop-color="#00c0ff"/><stop offset="0.1" stop-color="#00f3ff"/><stop offset="0.1182" stop-color="#00ffff"/><stop offset="0.15" stop-color="#15ffea"/><stop offset="0.2" stop-color="#37ffc8"/><stop offset="0.25" stop-color="#3affc5"/><stop offset="0.35" stop-color="#42ffbd"/><stop offset="0.45" stop-color="#45ffba"/><stop offset="0.8" stop-color="#45ffba"/></linearGradient>
<linearGradient id="g0_67" gradientUnits="userSpaceOnUse" x1="0" x2="0" y1="285.6" y2="49.3"><stop offset="0.025" stop-color="#004dff"/><stop offset="0.05" stop-color="#008eff"/><stop offset="0.075" stop-color="#00c1ff"/><stop offset="0.1" stop-color="#00f4ff"/><stop offset="0.1161" stop-color="#00ffff"/><stop offset="0.15" stop-color="#16ffe9"/><stop offset="0.2" stop-color="#37ffc8"/><stop offset="0.25" stop-color="#3affc5"/><stop offset="0.35" stop-color="#42ffbd"/><stop offset="0.6" stop-color="#45ffba"/></linearGradient>
<linearGradient id="g0_68" gradientUnits="userSpaceOnUse" x1="0" x2="0" y1="285.6" y2="49.3"><stop offset="0.025" stop-color="#004dff"/><stop offset="0.05" stop-color="#0090ff"/><stop offset="0.075" stop-color="#00c3ff"/><stop offset="0.1" stop-color="#00f6ff"/><stop offset="0.114" stop-color="#00ffff"/><stop offset="0.15" stop-color="#17ffe8"/><stop offset="0.2" stop-color="#37ffc8"/><stop offset="0.25" stop-color="#3affc5"/><stop offset="0.35" stop-color="#42ffbd"/><stop offset="0.45" stop-color="#45ffba"/><stop offset="0.8" stop-color="#45ffba"/></linearGradient>
<linearGradient id="g0_69" gradientUnits="userSpaceOnUse" x1="0" x2="0" y1="285.6" y2="49.3"><stop offset="0.025" stop-color="#004dff"/><stop offset="0.05" stop-color="#0092ff"/><stop offset="0.075" stop-color="#00c5ff"/><stop offset="0.1" stop-color="#00f8ff"/><stop offset="0.1118" stop-color="#00ffff"/><stop offset="0.15" stop-color="#18ffe7"/><stop offset="0.2" stop-color="#37ffc8"/><stop offset="0.25" stop-color="#3affc5"/><stop offset="0.45" stop-color="#45ffba"/></linearGradient>
<linearGradient id="g0_70" gradientUnits="userSpaceOnUse" x1="0" x2="0" y1="285.6" y2="49.3"><stop offset="0.025" stop-color="#004dff"/><stop offset="0.05" stop-color="#0093ff"/><stop offset="0.075" stop-color="#00c6ff"/><stop offset="0.1" stop-color="#00f9ff"/><stop offset="0.1094" stop-color="#00ffff"/><stop offset="0.15" stop-color="#18ffe7"/><stop offset="0.2" stop-color="#37ffc8"/><stop offset="0.25" stop-color="#3affc5"/><stop offset="0.35" stop-color="#42ffbd"/><stop offset="0.6" stop-color="#45ffba"/></linearGradient>
<linearGradient id="g0_71" gradientUnits="userSpaceOnUse" x1="0" x2="0" y1="285.6" y2="49.3"><stop offset="0.025" stop-color="#004dff"/><stop offset="0.05" stop-color="#0095ff"/><stop offset="0.075" stop-color="#00c8ff"/><stop offset="0.1" stop-color="#00fbff"/><stop offset="0.1069" stop-color="#00ffff"/><stop offset="0.15" stop-color="#19ffe6"/><stop offset="0.2" stop-color="#37ffc8"/><stop offset="0.25" stop-color="#3affc5"/><stop offset="0.35" stop-color="#42ffbd"/><stop offset="0.45" stop-color="#45ffba"/><stop offset="0.6" stop-color="#45ffba"/><stop offset="1" stop-color="#45ffba"/></linearGradient>
<clipPath id="clip0"><rect x="75.3" y="49.3" width="417.0" height="236.3"/></clipPath>
<clipPath id="clipf0"><rect x="75.3" y="49.3" width="417.0" height="232.2"/></clipPath>
<linearGradient id="g1_0" gradientUnits="userSpaceOnUse" x1="0" x2="0" y1="285.6" y2="49.3"><stop offset="0.025" stop-color="#006aff"/><stop offset="0.05" stop-color="#00a4ff"/><stop offset="0.075" stop-color="#00deff"/><stop offset="0.09179" stop-color="#00ffff"/><stop offset="0.1" stop-color="#10ffef"/><stop offset="0.15" stop-color="#71ff8e"/><stop offset="0.2" stop-color="#a4ff5b"/><stop offset="0.25" stop-color="#d7ff28"/><stop offset="0.3322" stop-color="#ffff00"/><stop offset="0.35" stop-color="#fff600"/><stop offset="0.6" stop-color="#ffde00"/></linearGradient>
<linearGradient id="g1_1" gradientUnits="userSpaceOnUse" x1="0" x2="0" y1="285.6" y2="49.3"><stop offset="0.025" stop-color="#006aff"/><stop offset="0.05" stop-color="#00a4ff"/><stop offset="0.075" stop-color="#00dfff"/><stop offset="0.09145" stop-color="#00ffff"/><stop offset="0.1" stop-color="#11ffee"/><stop offset="0.15" stop-color="#72ff8d"/><stop offset="0.2" stop-color="#a5ff5a"/><stop offset="0.25" stop-color="#d8ff27"/><stop offset="0.3308" stop-color="#ffff00"/><stop offset="0.35" stop-color="#fff600"/><stop offset="0.45" stop-color="#ffd400"/><stop offset="0.8" stop-color="#9eff61"/></linearGradient>
<linearGradient id="g1_2" gradientUnits="userSpaceOnUse" x1="0" x2="0" y1="285.6" y2="49.3"><stop offset="0.025" stop-color="#006aff"/><stop offset="0.05" stop-color="#00a5ff"/><stop offset="0.075" stop-color="#00e0ff"/><stop offset="0.09111" stop-color="#00ffff"/><stop offset="0.1" stop-color="#11ffee"/><stop offset="0.15" stop-color="#72ff8d"/><stop offset="0.2" stop-color="#a5ff5a"/><stop offset="0.25" stop-color="#d8ff27"/><stop offset="0.3294" stop-color="#ffff00"/><stop offset="0.35" stop-color="#fff500"/><stop offset="0.6" stop-color="#ffdd00"/></linearGradient>
<linearGradient id="g1_3" gradientUnits="userSpaceOnUse" x1="0" x2="0" y1="285.6" y2="49.3"><stop offset="0.025" stop-color="#006aff"/><stop offset="0.05" stop-color="#00a5ff"/><stop offset="0.075" stop-color="#00e0ff"/><stop offset="0.09077" stop-color="#00ffff"/><stop offset="0.1" stop-color="#12ffed"/><stop offset="0.15" stop-color="#73ff8c"/><stop offset="0.2" stop-color="#a6ff59"/><stop offset="0.25" stop-color="#d9ff26"/><stop offset="0.3281" stop-color="#ffff00"/><stop offset="0.35" stop-color="#fff400"/><stop offset="0.45" stop-color="#ffd400"/><stop offset="0.6" stop-color="#ffdc00"/><stop offset="0.6592" stop-color="#ffff00"/><stop offset="0.8" stop-color="#acff53"/><stop offset="1" stop-color="#8dff72"/></linearGradient>
<linearGradient id="g1_4" gradientUnits="userSpaceOnUse" x1="0" x2="0" y1="285.6" y2="49.3"><stop offset="0.025" stop-color="#006aff"/><stop offset="0.05" stop-color="#00a5ff"/><stop offset="0.075" stop-color="#00e1ff"/><stop offset="0.09043" stop-color="#00ffff"/><stop offset="0.1" stop-color="#13ffec"/><stop offset="0.15" stop-color="#74ff8b"/><stop offset="0.2" stop-color="#a7ff58"/><stop offset="0.25" stop-color="#daff25"/><stop offset="0.3267" stop-color="#ffff00"/><stop offset="0.35" stop-color="#fff400"/><stop offset="0.45" stop-color="#ffd400"/><stop offset="0.8" stop-color="#b3ff4c"/></linearGradient>
<linearGradient id="g1_5" gradientUnits="userSpaceOnUse" x1="0" x2="0" y1="285.6" y2="49.3"><stop offset="0.025" stop-color="#006aff"/><stop offset="0.05" stop-color="#00a6ff"/><stop offset="0.075" stop-color="#00e2ff"/><stop offset="0.09009" stop-color="#00ffff"/><stop offset="0.1" stop-color="#13ffec"/><stop offset="0.15" stop-color="#74ff8b"/><stop offset="0.2" stop-color="#a7ff58"/><stop offset="0.25" stop-color="#daff25"/><stop offset="0.3253" stop-color="#ffff00"/><stop offset="0.35" stop-color="#fff300"/><stop offset="0.6" stop-color="#ffdb00"/></linearGradient>
<linearGradient id="g1_6" gradientUnits="userSpaceOnUse" x1="0" x2="0" y1="285.6" y2="49.3"><stop offset="0.025" stop-color="#006aff"/><stop offset="0.05" stop-color="#00a6ff"/><stop offset="0.075" stop-color="#00e2ff"/><stop offset="0.08974" stop-color="#00ffff"/><stop offset="0.1" stop-color="#14ffeb"/><stop offset="0.15" stop-color="#75ff8a"/><stop offset="0.2" stop-color="#a8ff57"/><stop offset="0.25" stop-color="#dbff24"/><stop offset="0.324" stop-color="#ffff00"/><stop offset="0.35" stop-color="#fff200"/><stop offset="0.6" stop-color="#ffda00"/></linearGradient>
<linearGradient id="g1_7" gradientUnits="userSpaceOnUse" x1="0" x2="0" y1="285.6" y2="49.3"><stop offset="0.025" stop-color="#006aff"/><stop offset="0.05" stop-color="#00a6ff"/><stop offset="0.075" stop-color="#00e3ff"/><stop offset="0.0894" stop-color="#00ffff"/><stop offset="0.1" stop-color="#15ffea"/><stop offset="0.15" stop-color="#76ff89"/><stop offset="0.2" stop-color="#a9ff56"/><stop offset="0.25" stop-color="#dcff23"/><stop offset="0.3226" stop-color="#ffff00"/><stop offset="0.35" stop-color="#fff200"/><stop offset="0.6" stop-color="#ffd900"/></linearGradient>
<linearGradient id="g1_8" gradientUnits="userSpaceOnUse" x1="0" x2="0" y1="285.6" y2="49.3"><stop offset="0.025" stop-color="#006aff"/><stop offset="0.05" stop-color="#00a7ff"/><stop offset="0.075" stop-color="#00e4ff"/><stop offset="0.08906" stop-color="#00ffff"/><stop offset="0.1" stop-color="#15ffea"/><stop offset="0.15" stop-color="#76ff89"/><stop offset="0.2" stop-color="#a9ff56"/><stop offset="0.25" stop-color="#dcff23"/><stop offset="0.3212" stop-color="#ffff00"/><stop offset="0.35" stop-color="#fff100"/><stop offset="0.6" stop-color="#ffd900"/></linearGradient>
<linearGradient id="g1_9" gradientUnits="userSpaceOnUse" x1="0" x2="0" y1="285.6" y2="49.3"><stop offset="0.025" stop-color="#006aff"/><stop offset="0.05" stop-color="#00a7ff"/><stop offset="0.075" stop-color="#00e4ff"/><stop offset="0.08872" stop-color="#00ffff"/><stop offset="0.1" stop-color="#16ffe9"/><stop offset="0.15" stop-color="#77ff88"/><stop offset="0.2" stop-color="#aaff55"/><stop offset="0.25" stop-color="#ddff22"/><stop offset="0.3199" stop-color="#ffff00"/><stop offset="0.45" stop-color="#ffd200"/></linearGradient>
<linearGradient id="g1_10" gradientUnits="userSpaceOnUse" x1="0" x2="0" y1="285.6" y2="49.3"><stop offset="0.025" stop-color="#006aff"/><stop offset="0.05" stop-color="#00a7ff"/><stop offset="0.075" stop-color="#00e5ff"/><stop offset="0.08838" stop-color="#00ffff"/><stop offset="0.1" stop-color="#17ffe8"/><stop offset="0.15" stop-color="#78ff87"/><stop offset="0.2" stop-color="#abff54"/><stop offset="0.25" stop-color="#deff21"/><stop offset="0.3185" stop-color="#ffff00"/><stop offset="0.35" stop-color="#fff000"/><stop offset="0.6" stop-color="#ffd700"/></linearGradient>
<linearGradient id="g1_11" gradientUnits="userSpaceOnUse" x1="0" x2="0" y1="285.6" y2="49.3"><stop offset="0.025" stop-color="#006aff"/><stop offset="0.05" stop-color="#00a8ff"/><stop offset="0.075" stop-color="#00e6ff"/><stop offset="0.08804" stop-color="#00ffff"/><stop offset="0.1" stop-color="#17ffe8"/><stop offset="0.15" stop-color="#78ff87"/><stop offset="0.2" stop-color="#abff54"/><stop offset="0.25" stop-color="#deff21"/><stop offset="0.3172" stop-color="#ffff00"/><stop offset="0.35" stop-color="#ffef00"/><stop offset="0.6" stop-color="#ffd700"/></linearGradient>
<linearGradient id="g1_12" gradientUnits="userSpaceOnUse" x1="0" x2="0" y1="285.6" y2="49.3"><stop offset="0.025" stop-color="#006aff"/><stop offset="0.05" stop-color="#00a8ff"/><stop offset="0.075" stop-color="#00e6ff"/><stop offset="0.0877" stop-color="#00ffff"/><stop offset="0.1" stop-color="#18ffe7"/><stop offset="0.15" stop-color="#79ff86"/><stop offset="0.2" stop-color="#acff53"/><stop offset="0.25" stop-color="#dfff20"/><stop offset="0.3158" stop-color="#ffff00"/><stop offset="0.45" stop-color="#ffd200"/></linearGradient>
<linearGradient id="g1_13" gradientUnits="userSpaceOnUse" x1="0" x2="0" y1="285.6" y2="49.3"><stop offset="0.025" stop-color="#006aff"/><stop offset="0.05" stop-color="#00a8ff"/><stop offset="0.075" stop-color="#00e7ff"/><stop offset="0.08736" stop-color="#00ffff"/><stop offset="0.1" stop-color="#19ffe6"/><stop offset="0.15" stop-color="#7aff85"/><stop offset="0.2" stop-color="#adff52"/><stop offset="0.25" stop-color="#e0ff1f"/><stop offset="0.3144" stop-color="#ffff00"/><stop offset="0.45" stop-color="#ffd200"/></linearGradient>
<linearGradient id="g1_14" gradientUnits="userSpaceOnUse" x1="0" x2="0" y1="285.6" y2="49.3"><stop offset="0.025" stop-color="#006aff"/><stop offset="0.05" stop-color="#00a9ff"/><stop offset="0.075" stop-color="#00e8ff"/><stop offset="0.08702" stop-color="#00ffff"/><stop offset="0.1" stop-color="#19ffe6"/><stop offset="0.15" stop-color="#7aff85"/><stop offset="0.2" stop-color="#adff52"/><stop offset="0.25" stop-color="#e0ff1f"/><stop offset="0.3131" stop-color="#ffff00"/><stop offset="0.35" stop-color="#ffed00"/><stop offset="0.6" stop-color="#ffd500"/></linearGradient>
<linearGradient id="g1_15" gradientUnits="userSpaceOnUse" x1="0" x2="0" y1="285.6" y2="49.3"><stop offset="0.025" stop-color="#006aff"/><stop offset="0.05" stop-color="#00a9ff"/><stop offset="0.075" stop-color="#00e8ff"/><stop offset="0.08668" stop-color="#00ffff"/><stop offset="0.1" stop-color="#1affe5"/><stop offset="0.15" stop-color="#7bff84"/><stop offset="0.2" stop-color="#aeff51"/><stop offset="0.25" stop-color="#e1ff1e"/><stop offset="0.3117" stop-color="#ffff00"/><stop offset="0.35" stop-color="#ffec00"/><stop offset="0.6" stop-color="#ffd400"/></linearGradient>
<linearGradient id="g1_16" gradientUnits="userSpaceOnUse" x1="0" x2="0" y1="285.6" y2="49.3"><stop offset="0.025" stop-color="#006aff"/><stop offset="0.05" stop-color="#00a9ff"/><stop offset="0.075" stop-color="#00e9ff"/><stop offset="0.08634" stop-color="#00ffff"/><stop offset="0.1" stop-color="#1bffe4"/><stop offset="0.15" stop-color="#7cff83"/><stop offset="0.2" stop-color="#afff50"/><stop offset="0.25" stop-color="#e2ff1d"/><stop offset="0.3103" stop-color="#ffff00"/><stop offset="0.35" stop-color="#ffec00"/><stop offset="0.6" stop-color="#ffd300"/></linearGradient>
<linearGradient id="g1_17" gradientUnits="userSpaceOnUse" x1="0" x2="0" y1="285.6" y2="49.3"><stop offset="0.025" stop-color="#006aff"/><stop offset="0.05" stop-color="#00aaff"/><stop offset="0.075" stop-color="#00eaff"/><stop offset="0.08599" stop-color="#00ffff"/><stop offset="0.1" stop-color="#1bffe4"/><stop offset="0.15" stop-color="#7cff83"/><stop offset="0.2" stop-color="#afff50"/><stop offset="0.25" stop-color="#e2ff1d"/><stop offset="0.309" stop-color="#ffff00"/><stop offset="0.35" stop-color="#ffeb00"/><stop offset="0.6" stop-color="#ffd300"/></linearGradient>
<linearGradient id="g1_18" gradientUnits="userSpaceOnUse" x1="0" x2="0" y1="285.6" y2="49.3"><stop offset="0.025" stop-color="#006aff"/><stop offset="0.05" stop-color="#00aaff"/><stop offset="0.075" stop-color="#00eaff"/><stop offset="0.08565" stop-color="#00ffff"/><stop offset="0.1" stop-color="#1cffe3"/><stop offset="0.15" stop-color="#7dff82"/><stop offset="0.2" stop-color="#b0ff4f"/><stop offset="0.25" stop-color="#e3ff1c"/><stop offset="0.3076" stop-color="#ffff00"/><stop offset="0.35" stop-color="#ffea00"/><stop offset="0.6" stop-color="#ffd200"/></linearGradient>
<linearGradient id="g1_19" gradientUnits="userSpaceOnUse" x1="0" x2="0" y1="285.6" y2="49.3"><stop offset="0.025" stop-color="#006aff"/><stop offset="0.05" stop-color="#00aaff"/><stop offset="0.075" stop-color="#00ebff"/><stop offset="0.08531" stop-color="#00ffff"/><stop offset="0.1" stop-color="#1dffe2"/><stop offset="0.15" stop-color="#7eff81"/><stop offset="0.2" stop-color="#b1ff4e"/><stop offset="0.25" stop-color="#e4ff1b"/><stop offset="0.3062" stop-color="#ffff00"/><stop offset="0.35" stop-color="#ffea00"/><stop offset="0.6" stop-color="#ffd100"/></linearGradient>
<linearGradient id="g1_20" gradientUnits="userSpaceOnUse" x1="0" x2="0" y1="285.6" y2="49.3"><stop offset="0.025" stop-color="#006aff"/><stop offset="0.05" stop-color="#00abff"/><stop offset="0.075" stop-color="#00ecff"/><stop offset="0.08497" stop-color="#00ffff"/><stop offset="0.1" stop-color="#1dffe2"/><stop offset="0.15" stop-color="#7eff81"/><stop offset="0.2" stop-color="#b1ff4e"/><stop offset="0.25" stop-color="#e4ff1b"/><stop offset="0.3049" stop-color="#ffff00"/><stop offset="0.35" stop-color="#ffe900"/><stop offset="0.6" stop-color="#ffd100"/></linearGradient>
<linearGradient id="g1_21" gradientUnits="userSpaceOnUse" x1="0" x2="0" y1="285.6" y2="49.3"><stop offset="0.025" stop-color="#006aff"/><stop offset="0.05" stop-color="#00abff"/><stop offset="0.075" stop-color="#00ecff"/><stop offset="0.08463" stop-color="#00ffff"/><stop offset="0.1" stop-color="#1effe1"/><stop offset="0.15" stop-color="#7fff80"/><stop offset="0.2" stop-color="#b2ff4d"/><stop offset="0.25" stop-color="#e5ff1a"/><stop offset="0.3035" stop-color="#ffff00"/><stop offset="0.35" stop-color="#ffe800"/><stop offset="0.6" stop-color="#ffd000"/></linearGradient>
<linearGradient id="g1_22" gradientUnits="userSpaceOnUse" x1="0" x2="0" y1="285.6" y2="49.3"><stop offset="0.025" stop-color="#0071ff"/><stop offset="0.05" stop-color="#00b4ff"/><stop offset="0.075" stop-color="#00f8ff"/><stop offset="0.07857" stop-color="#00ffff"/><stop offset="0.1" stop-color="#2cffd3"/><stop offset="0.15" stop-color="#92ff6d"/><stop offset="0.2" stop-color="#caff35"/><stop offset="0.2468" stop-color="#ffff00"/><stop offset="0.25" stop-color="#fffb00"/><stop offset="0.35" stop-color="#ffc500"/><stop offset="0.6" stop-color="#ffb300"/></linearGradient>
<linearGradient id="g1_23" gradientUnits="userSpaceOnUse" x1="0" x2="0" y1="285.6" y2="49.3"><stop offset="0.025" stop-color="#0089ff"/><stop offset="0.05" stop-color="#00d6ff"/><stop offset="0.06417" stop-color="#00ffff"/><stop offset="0.075" stop-color="#20ffdf"/><stop offset="0.1" stop-color="#5bffa4"/><stop offset="0.15" stop-color="#d0ff2f"/><stop offset="0.182" stop-color="#ffff00"/><stop offset="0.2" stop-color="#ffe400"/><stop offset="0.25" stop-color="#ff9e00"/><stop offset="0.35" stop-color="#ff5900"/><stop offset="0.6" stop-color="#ff5900"/></linearGradient>
<linearGradient id="g1_24" gradientUnits="userSpaceOnUse" x1="0" x2="0" y1="285.6" y2="49.3"><stop offset="0.025" stop-color="#0093ff"/><stop offset="0.05" stop-color="#00eeff"/><stop offset="0.05583" stop-color="#00ffff"/><stop offset="0.075" stop-color="#38ffc7"/><stop offset="0.1" stop-color="#78ff87"/><stop offset="0.15" stop-color="#edff12"/><stop offset="0.1615" stop-color="#ffff00"/><stop offset="0.2" stop-color="#ffc200"/><stop offset="0.25" stop-color="#ff8900"/><stop offset="0.35" stop-color="#ff4f00"/><stop offset="0.6" stop-color="#ff4f00"/></linearGradient>
<linearGradient id="g1_25" gradientUnits="userSpaceOnUse" x1="0" x2="0" y1="285.6" y2="49.3"><stop offset="0.025" stop-color="#009dff"/><stop offset="0.04828" stop-color="#00ffff"/><stop offset="0.05" stop-color="#07fff8"/><stop offset="0.075" stop-color="#50ffaf"/><stop offset="0.1" stop-color="#95ff6a"/><stop offset="0.1453" stop-color="#ffff00"/><stop offset="0.15" stop-color="#fff400"/><stop offset="0.2" stop-color="#ffa000"/><stop offset="0.25" stop-color="#ff7300"/><stop offset="0.35" stop-color="#ff4500"/><stop offset="0.6" stop-color="#ff4500"/></linearGradient>
<linearGradient id="g1_26" gradientUnits="userSpaceOnUse" x1="0" x2="0" y1="285.6" y2="49.3"><stop offset="0.025" stop-color="#00a8ff"/><stop offset="0.04405" stop-color="#00ffff"/><stop offset="0.05" stop-color="#1bffe4"/><stop offset="0.075" stop-color="#64ff9b"/><stop offset="0.1" stop-color="#adff52"/><stop offset="0.1352" stop-color="#ffff00"/><stop offset="0.15" stop-color="#ffdc00"/><stop offset="0.2" stop-color="#ff8700"/><stop offset="0.25" stop-color="#ff6300"/><stop offset="0.45" stop-color="#ff4100"/></linearGradient>
<linearGradient id="g1_27" gradientUnits="userSpaceOnUse" x1="0" x2="0" y1="285.6" y2="49.3"><stop offset="0.025" stop-color="#00b6ff"/><stop offset="0.04195" stop-color="#00ffff"/><stop offset="0.05" stop-color="#23ffdc"/><stop offset="0.075" stop-color="#6bff94"/><stop offset="0.1" stop-color="#b4ff4b"/><stop offset="0.132" stop-color="#ffff00"/><stop offset="0.15" stop-color="#ffd500"/><stop offset="0.2" stop-color="#ff8700"/><stop offset="0.25" stop-color="#ff6500"/><stop offset="0.45" stop-color="#ff4c00"/></linearGradient>
<linearGradient id="g1_28" gradientUnits="userSpaceOnUse" x1="0" x2="0" y1="285.6" y2="49.3"><stop offset="0.025" stop-color="#00c5ff"/><stop offset="0.03955" stop-color="#00ffff"/><stop offset="0.05" stop-color="#2affd5"/><stop offset="0.075" stop-color="#73ff8c"/><stop offset="0.1" stop-color="#bcff43"/><stop offset="0.1289" stop-color="#ffff00"/><stop offset="0.15" stop-color="#ffce00"/><stop offset="0.2" stop-color="#ff8700"/><stop offset="0.25" stop-color="#ff6600"/><stop offset="0.45" stop-color="#ff5700"/></linearGradient>
<linearGradient id="g1_29" gradientUnits="userSpaceOnUse" x1="0" x2="0" y1="285.6" y2="49.3"><stop offset="0.025" stop-color="#00d3ff"/><stop offset="0.03676" stop-color="#00ffff"/><stop offset="0.05" stop-color="#31ffce"/><stop offset="0.075" stop-color="#7aff85"/><stop offset="0.1" stop-color="#c3ff3c"/><stop offset="0.1258" stop-color="#ffff00"/><stop offset="0.15" stop-color="#ffc700"/><stop offset="0.2" stop-color="#ff8700"/><stop offset="0.35" stop-color="#ff6100"/></linearGradient>
<linearGradient id="g1_30" gradientUnits="userSpaceOnUse" x1="0" x2="0" y1="285.6" y2="49.3"><stop offset="0.025" stop-color="#00deff"/><stop offset="0.03523" stop-color="#00ffff"/><stop offset="0.05" stop-color="#2fffd0"/><stop offset="0.075" stop-color="#71ff8e"/><stop offset="0.1" stop-color="#b3ff4c"/><stop offset="0.1404" stop-color="#ffff00"/><stop offset="0.15" stop-color="#ffed00"/><stop offset="0.2" stop-color="#ffba00"/><stop offset="0.35" stop-color="#ffa400"/></linearGradient>
<linearGradient id="g1_31" gradientUnits="userSpaceOnUse" x1="0" x2="0" y1="285.6" y2="49.3"><stop offset="0.025" stop-color="#00d7ff"/><stop offset="0.04464" stop-color="#00ffff"/><stop offset="0.05" stop-color="#0bfff4"/><stop offset="0.075" stop-color="#33ffcc"/><stop offset="0.1" stop-color="#5bffa4"/><stop offset="0.15" stop-color="#7aff85"/><stop offset="0.2" stop-color="#99ff66"/><stop offset="0.35" stop-color="#99ff66"/></linearGradient>
<linearGradient id="g1_32" gradientUnits="userSpaceOnUse" x1="0" x2="0" y1="285.6" y2="49.3"><stop offset="0.025" stop-color="#00bcff"/><stop offset="0.05" stop-color="#00d9ff"/><stop offset="0.075" stop-color="#00f5ff"/><stop offset="0.08393" stop-color="#00ffff"/><stop offset="0.1" stop-color="#12ffed"/><stop offset="0.15" stop-color="#33ffcc"/><stop offset="0.2" stop-color="#54ffab"/><stop offset="0.35" stop-color="#54ffab"/></linearGradient>
<linearGradient id="g1_33" gradientUnits="userSpaceOnUse" x1="0" x2="0" y1="285.6" y2="49.3"><stop offset="0.025" stop-color="#00a9ff"/><stop offset="0.05" stop-color="#00c2ff"/><stop offset="0.075" stop-color="#00dbff"/><stop offset="0.1" stop-color="#00f4ff"/><stop offset="0.13" stop-color="#00ffff"/><stop offset="0.15" stop-color="#07fff8"/><stop offset="0.2" stop-color="#1affe5"/><stop offset="0.35" stop-color="#1affe5"/></linearGradient>
<linearGradient id="g1_34" gradientUnits="userSpaceOnUse" x1="0" x2="0" y1="285.6" y2="49.3"><stop offset="0.025" stop-color="#00deff"/><stop offset="0.03664" stop-color="#00ffff"/><stop offset="0.05" stop-color="#26ffd9"/><stop offset="0.075" stop-color="#4fffb0"/><stop offset="0.1" stop-color="#78ff87"/><stop offset="0.15" stop-color="#9dff62"/><stop offset="0.2" stop-color="#a4ff5b"/><stop offset="0.35" stop-color="#a4ff5b"/></linearGradient>
<linearGradient id="g1_35" gradientUnits="userSpaceOnUse" x1="0" x2="0" y1="285.6" y2="49.3"><stop offset="0.025" stop-color="#7bff84"/><stop offset="0.04849" stop-color="#ffff00"/><stop offset="0.05" stop-color="#fff600"/><stop offset="0.075" stop-color="#ff8700"/><stop offset="0.1" stop-color="#ff4800"/><stop offset="0.15" stop-color="#ff1a00"/><stop offset="0.25" stop-color="#ff1a00"/></linearGradient>
<linearGradient id="g1_36" gradientUnits="userSpaceOnUse" x1="0" x2="0" y1="285.6" y2="49.3"><stop offset="0.025" stop-color="#a2ff5e"/><stop offset="0.04425" stop-color="#ffff00"/><stop offset="0.05" stop-color="#ffe300"/><stop offset="0.075" stop-color="#ff8700"/><stop offset="0.1" stop-color="#ff3400"/><stop offset="0.1467" stop-color="#ff0000"/><stop offset="0.15" stop-color="#fb0000"/><stop offset="0.25" stop-color="#fb0000"/></linearGradient>
<linearGradient id="g1_37" gradientUnits="userSpaceOnUse" x1="0" x2="0" y1="285.6" y2="49.3"><stop offset="0.025" stop-color="#c8ff37"/><stop offset="0.03672" stop-color="#ffff00"/><stop offset="0.05" stop-color="#ffc100"/><stop offset="0.075" stop-color="#ff4c00"/><stop offset="0.09141" stop-color="#ff0000"/><stop offset="0.1" stop-color="#d70000"/><stop offset="0.15" stop-color="#800000"/><stop offset="0.2" stop-color="#800000"/><stop offset="0.35" stop-color="#800000"/></linearGradient>
<linearGradient id="g1_38" gradientUnits="userSpaceOnUse" x1="0" x2="0" y1="285.6" y2="49.3"><stop offset="0.025" stop-color="#c8ff37"/><stop offset="0.03672" stop-color="#ffff00"/><stop offset="0.05" stop-color="#ffc100"/><stop offset="0.075" stop-color="#ff4c00"/><stop offset="0.09141" stop-color="#ff0000"/><stop offset="0.1" stop-color="#d70000"/><stop offset="0.15" stop-color="#800000"/><stop offset="0.2" stop-color="#800000"/><stop offset="0.35" stop-color="#800000"/></linearGradient>
<linearGradient id="g1_39" gradientUnits="userSpaceOnUse" x1="0" x2="0" y1="285.6" y2="49.3"><stop offset="0.025" stop-color="#89ff76"/><stop offset="0.04974" stop-color="#ffff00"/><stop offset="0.05" stop-color="#fffe00"/><stop offset="0.075" stop-color="#ff8c00"/><stop offset="0.1" stop-color="#ff3400"/><stop offset="0.1439" stop-color="#ff0000"/><stop offset="0.15" stop-color="#f80000"/><stop offset="0.2" stop-color="#e40000"/><stop offset="0.35" stop-color="#da0000"/></linearGradient>
<linearGradient id="g1_40" gradientUnits="userSpaceOnUse" x1="0" x2="0" y1="285.6" y2="49.3"><stop offset="0.025" stop-color="#76ff89"/><stop offset="0.05" stop-color="#f6ff09"/><stop offset="0.05203" stop-color="#ffff00"/><stop offset="0.075" stop-color="#ff9f00"/><stop offset="0.1" stop-color="#ff4800"/><stop offset="0.15" stop-color="#ff0700"/><stop offset="0.1688" stop-color="#ff0000"/><stop offset="0.2" stop-color="#f30000"/><stop offset="0.35" stop-color="#e50000"/></linearGradient>
<linearGradient id="g1_41" gradientUnits="userSpaceOnUse" x1="0" x2="0" y1="285.6" y2="49.3"><stop offset="0.025" stop-color="#62ff9d"/><stop offset="0.05" stop-color="#edff12"/><stop offset="0.05481" stop-color="#ffff00"/><stop offset="0.075" stop-color="#ffb300"/><stop offset="0.1" stop-color="#ff5b00"/><stop offset="0.15" stop-color="#ff1600"/><stop offset="0.2" stop-color="#ff0200"/><stop offset="0.2108" stop-color="#ff0000"/><stop offset="0.25" stop-color="#f60000"/><stop offset="0.35" stop-color="#f00000"/><stop offset="0.6" stop-color="#ed0000"/></linearGradient>
<linearGradient id="g1_42" gradientUnits="userSpaceOnUse" x1="0" x2="0" y1="285.6" y2="49.3"><stop offset="0.025" stop-color="#4dffb2"/><stop offset="0.05" stop-color="#dcff23"/><stop offset="0.06021" stop-color="#ffff00"/><stop offset="0.075" stop-color="#ffcc00"/><stop offset="0.1" stop-color="#ff7600"/><stop offset="0.15" stop-color="#ff2c00"/><stop offset="0.2" stop-color="#ff1800"/><stop offset="0.35" stop-color="#ff0500"/></linearGradient>
<linearGradient id="g1_43" gradientUnits="userSpaceOnUse" x1="0" x2="0" y1="285.6" y2="49.3"><stop offset="0.025" stop-color="#2fffd0"/><stop offset="0.05" stop-color="#b5ff4a"/><stop offset="0.07276" stop-color="#ffff00"/><stop offset="0.075" stop-color="#fff800"/><stop offset="0.1" stop-color="#ffa600"/><stop offset="0.15" stop-color="#ff5700"/><stop offset="0.2" stop-color="#ff4300"/><stop offset="0.35" stop-color="#ff3200"/></linearGradient>
<linearGradient id="g1_44" gradientUnits="userSpaceOnUse" x1="0" x2="0" y1="285.6" y2="49.3"><stop offset="0.025" stop-color="#12ffed"/><stop offset="0.05" stop-color="#8eff71"/><stop offset="0.075" stop-color="#dbff24"/><stop offset="0.0869" stop-color="#ffff00"/><stop offset="0.1" stop-color="#ffd700"/><stop offset="0.15" stop-color="#ff8300"/><stop offset="0.2" stop-color="#ff6e00"/><stop offset="0.25" stop-color="#ff5b00"/><stop offset="0.45" stop-color="#ff6200"/></linearGradient>
<linearGradient id="g1_45" gradientUnits="userSpaceOnUse" x1="0" x2="0" y1="285.6" y2="49.3"><stop offset="0.025" stop-color="#00f4ff"/><stop offset="0.02739" stop-color="#00ffff"/><stop offset="0.05" stop-color="#67ff98"/><stop offset="0.075" stop-color="#afff50"/><stop offset="0.1" stop-color="#f6ff09"/><stop offset="0.1049" stop-color="#ffff00"/><stop offset="0.15" stop-color="#ffb000"/><stop offset="0.2" stop-color="#ff9a00"/><stop offset="0.25" stop-color="#ff8300"/><stop offset="0.45" stop-color="#ff9100"/></linearGradient>
<linearGradient id="g1_46" gradientUnits="userSpaceOnUse" x1="0" x2="0" y1="285.6" y2="49.3"><stop offset="0.025" stop-color="#00d7ff"/><stop offset="0.03459" stop-color="#00ffff"/><stop offset="0.05" stop-color="#40ffbf"/><stop offset="0.075" stop-color="#83ff7c"/><stop offset="0.1" stop-color="#c6ff39"/><stop offset="0.1326" stop-color="#ffff00"/><stop offset="0.15" stop-color="#ffe100"/><stop offset="0.2" stop-color="#ffc800"/><stop offset="0.25" stop-color="#ffaf00"/><stop offset="0.35" stop-color="#ffb700"/><stop offset="0.6" stop-color="#ffbd00"/></linearGradient>
<linearGradient id="g1_47" gradientUnits="userSpaceOnUse" x1="0" x2="0" y1="285.6" y2="49.3"><stop offset="0.025" stop-color="#00baff"/><stop offset="0.04327" stop-color="#00ffff"/><stop offset="0.05" stop-color="#1affe5"/><stop offset="0.075" stop-color="#57ffa8"/><stop offset="0.1" stop-color="#95ff6a"/><stop offset="0.15" stop-color="#edff12"/><stop offset="0.1833" stop-color="#ffff00"/><stop offset="0.2" stop-color="#fff600"/><stop offset="0.25" stop-color="#ffdb00"/><stop offset="0.45" stop-color="#ffe500"/></linearGradient>
<linearGradient id="g1_48" gradientUnits="userSpaceOnUse" x1="0" x2="0" y1="285.6" y2="49.3"><stop offset="0.025" stop-color="#009eff"/><stop offset="0.05" stop-color="#00f6ff"/><stop offset="0.05406" stop-color="#00ffff"/><stop offset="0.075" stop-color="#31ffce"/><stop offset="0.1" stop-color="#6bff94"/><stop offset="0.15" stop-color="#c3ff3c"/><stop offset="0.2" stop-color="#e0ff1f"/><stop offset="0.25" stop-color="#feff01"/><stop offset="0.35" stop-color="#faff05"/><stop offset="0.6" stop-color="#f3ff0c"/></linearGradient>
<linearGradient id="g1_49" gradientUnits="userSpaceOnUse" x1="0" x2="0" y1="285.6" y2="49.3"><stop offset="0.025" stop-color="#0087ff"/><stop offset="0.05" stop-color="#00deff"/><stop offset="0.06406" stop-color="#00ffff"/><stop offset="0.075" stop-color="#1affe5"/><stop offset="0.1" stop-color="#54ffab"/><stop offset="0.15" stop-color="#abff54"/><stop offset="0.2" stop-color="#ccff33"/><stop offset="0.25" stop-color="#edff12"/><stop offset="0.35" stop-color="#edff12"/><stop offset="0.45" stop-color="#edff12"/><stop offset="0.8" stop-color="#edff12"/></linearGradient>
<linearGradient id="g1_50" gradientUnits="userSpaceOnUse" x1="0" x2="0" y1="285.6" y2="49.3"><stop offset="0.025" stop-color="#006fff"/><stop offset="0.05" stop-color="#00c7ff"/><stop offset="0.07406" stop-color="#00ffff"/><stop offset="0.075" stop-color="#02fffd"/><stop offset="0.1" stop-color="#3cffc3"/><stop offset="0.15" stop-color="#94ff6b"/><stop offset="0.2" stop-color="#b8ff47"/><stop offset="0.25" stop-color="#dbff24"/><stop offset="0.35" stop-color="#dfff20"/><stop offset="0.45" stop-color="#e3ff1c"/><stop offset="0.8" stop-color="#e7ff18"/></linearGradient>
<linearGradient id="g1_51" gradientUnits="userSpaceOnUse" x1="0" x2="0" y1="285.6" y2="49.3"><stop offset="0.025" stop-color="#0054ff"/><stop offset="0.05" stop-color="#0095ff"/><stop offset="0.075" stop-color="#00d0ff"/><stop offset="0.09531" stop-color="#00ffff"/><stop offset="0.1" stop-color="#0bfff4"/><stop offset="0.15" stop-color="#62ff9d"/><stop offset="0.2" stop-color="#81ff7e"/><stop offset="0.25" stop-color="#a0ff5f"/><stop offset="0.35" stop-color="#a2ff5e"/><stop offset="0.45" stop-color="#a3ff5c"/><stop offset="0.6" stop-color="#c9ff36"/><stop offset="0.8" stop-color="#fbff04"/><stop offset="0.8333" stop-color="#ffff00"/><stop offset="1" stop-color="#ffed00"/></linearGradient>
<linearGradient id="g1_52" gradientUnits="userSpaceOnUse" x1="0" x2="0" y1="285.6" y2="49.3"><stop offset="0.025" stop-color="#004dff"/><stop offset="0.05" stop-color="#0087ff"/><stop offset="0.075" stop-color="#00c1ff"/><stop offset="0.1" stop-color="#00fbff"/><stop offset="0.1021" stop-color="#00ffff"/><stop offset="0.15" stop-color="#54ffab"/><stop offset="0.2" stop-color="#71ff8e"/><stop offset="0.25" stop-color="#8eff71"/><stop offset="0.35" stop-color="#8eff71"/><stop offset="0.45" stop-color="#8eff71"/><stop offset="0.6" stop-color="#c0ff3f"/><stop offset="0.7891" stop-color="#ffff00"/><stop offset="0.8" stop-color="#fffb00"/><stop offset="1" stop-color="#ffde00"/></linearGradient>
<linearGradient id="g1_53" gradientUnits="userSpaceOnUse" x1="0" x2="0" y1="285.6" y2="49.3"><stop offset="0.025" stop-color="#0049ff"/><stop offset="0.05" stop-color="#0084ff"/><stop offset="0.075" stop-color="#00beff"/><stop offset="0.1" stop-color="#00f8ff"/><stop offset="0.104" stop-color="#00ffff"/><stop offset="0.15" stop-color="#4effb1"/><stop offset="0.2" stop-color="#6bff94"/><stop offset="0.25" stop-color="#88ff77"/><stop offset="0.35" stop-color="#89ff76"/><stop offset="0.45" stop-color="#8bff74"/><stop offset="0.8" stop-color="#daff25"/></linearGradient>
<linearGradient id="g1_54" gradientUnits="userSpaceOnUse" x1="0" x2="0" y1="285.6" y2="49.3"><stop offset="0.025" stop-color="#0045ff"/><stop offset="0.05" stop-color="#0080ff"/><stop offset="0.075" stop-color="#00baff"/><stop offset="0.1" stop-color="#00f4ff"/><stop offset="0.1068" stop-color="#00ffff"/><stop offset="0.15" stop-color="#45ffba"/><stop offset="0.2" stop-color="#62ff9d"/><stop offset="0.25" stop-color="#80ff80"/><stop offset="0.35" stop-color="#83ff7c"/><stop offset="0.45" stop-color="#87ff78"/><stop offset="0.8" stop-color="#a4ff5b"/></linearGradient>
<linearGradient id="g1_55" gradientUnits="userSpaceOnUse" x1="0" x2="0" y1="285.6" y2="49.3"><stop offset="0.025" stop-color="#0041ff"/><stop offset="0.05" stop-color="#007bff"/><stop offset="0.075" stop-color="#00b6ff"/><stop offset="0.1" stop-color="#00f0ff"/><stop offset="0.1099" stop-color="#00ffff"/><stop offset="0.15" stop-color="#3dffc2"/><stop offset="0.2" stop-color="#5affa5"/><stop offset="0.25" stop-color="#77ff88"/><stop offset="0.35" stop-color="#7dff82"/><stop offset="0.45" stop-color="#83ff7c"/><stop offset="0.8" stop-color="#6eff91"/></linearGradient>
<linearGradient id="g1_56" gradientUnits="userSpaceOnUse" x1="0" x2="0" y1="285.6" y2="49.3"><stop offset="0.025" stop-color="#003eff"/><stop offset="0.05" stop-color="#0079ff"/><stop offset="0.075" stop-color="#00b3ff"/><stop offset="0.1" stop-color="#00eeff"/><stop offset="0.1119" stop-color="#00ffff"/><stop offset="0.15" stop-color="#38ffc7"/><stop offset="0.2" stop-color="#55ffaa"/><stop offset="0.25" stop-color="#73ff8c"/><stop offset="0.35" stop-color="#7aff85"/><stop offset="0.6" stop-color="#5dffa2"/></linearGradient>
<linearGradient id="g1_57" gradientUnits="userSpaceOnUse" x1="0" x2="0" y1="285.6" y2="49.3"><stop offset="0.025" stop-color="#003eff"/><stop offset="0.05" stop-color="#007dff"/><stop offset="0.075" stop-color="#00b7ff"/><stop offset="0.1" stop-color="#00f1ff"/><stop offset="0.1094" stop-color="#00ffff"/><stop offset="0.15" stop-color="#3bffc4"/><stop offset="0.2" stop-color="#5bffa4"/><stop offset="0.25" stop-color="#7aff85"/><stop offset="0.35" stop-color="#7fff80"/><stop offset="0.45" stop-color="#84ff7b"/><stop offset="0.6" stop-color="#61ff9e"/><stop offset="1" stop-color="#41ffbe"/></linearGradient>
<linearGradient id="g1_58" gradientUnits="userSpaceOnUse" x1="0" x2="0" y1="285.6" y2="49.3"><stop offset="0.025" stop-color="#003eff"/><stop offset="0.05" stop-color="#0080ff"/><stop offset="0.075" stop-color="#00bbff"/><stop offset="0.1" stop-color="#00f5ff"/><stop offset="0.1069" stop-color="#00ffff"/><stop offset="0.15" stop-color="#3fffc0"/><stop offset="0.2" stop-color="#60ff9f"/><stop offset="0.25" stop-color="#81ff7e"/><stop offset="0.35" stop-color="#85ff7a"/><stop offset="0.45" stop-color="#88ff77"/><stop offset="0.6" stop-color="#65ff9a"/><stop offset="1" stop-color="#3dffc2"/></linearGradient>
<linearGradient id="g1_59" gradientUnits="userSpaceOnUse" x1="0" x2="0" y1="285.6" y2="49.3"><stop offset="0.025" stop-color="#003eff"/><stop offset="0.05" stop-color="#0084ff"/><stop offset="0.075" stop-color="#00beff"/><stop offset="0.1" stop-color="#00f9ff"/><stop offset="0.1044" stop-color="#00ffff"/><stop offset="0.15" stop-color="#42ffbd"/><stop offset="0.2" stop-color="#66ff99"/><stop offset="0.25" stop-color="#89ff76"/><stop offset="0.35" stop-color="#8aff75"/><stop offset="0.45" stop-color="#8bff74"/><stop offset="0.6" stop-color="#68ff97"/><stop offset="1" stop-color="#39ffc6"/></linearGradient>
<linearGradient id="g1_60" gradientUnits="userSpaceOnUse" x1="0" x2="0" y1="285.6" y2="49.3"><stop offset="0.025" stop-color="#003eff"/><stop offset="0.05" stop-color="#0087ff"/><stop offset="0.075" stop-color="#00c1ff"/><stop offset="0.1" stop-color="#00fbff"/><stop offset="0.1025" stop-color="#00ffff"/><stop offset="0.15" stop-color="#46ffb9"/><stop offset="0.2" stop-color="#6cff93"/><stop offset="0.25" stop-color="#92ff6d"/><stop offset="0.35" stop-color="#92ff6d"/><stop offset="0.45" stop-color="#92ff6d"/><stop offset="0.6" stop-color="#6dff92"/><stop offset="0.8" stop-color="#48ffb7"/><stop offset="1" stop-color="#33ffcc"/></linearGradient>
<linearGradient id="g1_61" gradientUnits="userSpaceOnUse" x1="0" x2="0" y1="285.6" y2="49.3"><stop offset="0.025" stop-color="#003eff"/><stop offset="0.05" stop-color="#0087ff"/><stop offset="0.075" stop-color="#00c1ff"/><stop offset="0.1" stop-color="#00fbff"/><stop offset="0.1023" stop-color="#00ffff"/><stop offset="0.15" stop-color="#4bffb4"/><stop offset="0.2" stop-color="#76ff89"/><stop offset="0.25" stop-color="#a0ff5f"/><stop offset="0.35" stop-color="#a0ff5f"/><stop offset="0.45" stop-color="#a0ff5f"/><stop offset="0.6" stop-color="#74ff8b"/><stop offset="0.8" stop-color="#42ffbd"/><stop offset="1" stop-color="#24ffdb"/></linearGradient>
<linearGradient id="g1_62" gradientUnits="userSpaceOnUse" x1="0" x2="0" y1="285.6" y2="49.3"><stop offset="0.025" stop-color="#003eff"/><stop offset="0.05" stop-color="#0087ff"/><stop offset="0.075" stop-color="#00c1ff"/><stop offset="0.1" stop-color="#00fbff"/><stop offset="0.1022" stop-color="#00ffff"/><stop offset="0.15" stop-color="#50ffaf"/><stop offset="0.2" stop-color="#80ff80"/><stop offset="0.25" stop-color="#afff50"/><stop offset="0.35" stop-color="#afff50"/><stop offset="0.45" stop-color="#afff50"/><stop offset="0.6" stop-color="#7aff85"/><stop offset="0.8" stop-color="#3bffc4"/><stop offset="1" stop-color="#16ffe9"/></linearGradient>
<linearGradient id="g1_63" gradientUnits="userSpaceOnUse" x1="0" x2="0" y1="285.6" y2="49.3"><stop offset="0.025" stop-color="#003dff"/><stop offset="0.05" stop-color="#0086ff"/><stop offset="0.075" stop-color="#00c1ff"/><stop offset="0.1" stop-color="#00fbff"/><stop offset="0.1021" stop-color="#00ffff"/><stop offset="0.15" stop-color="#55ffaa"/><stop offset="0.2" stop-color="#87ff78"/><stop offset="0.25" stop-color="#baff45"/><stop offset="0.35" stop-color="#bbff44"/><stop offset="0.45" stop-color="#bbff44"/><stop offset="0.6" stop-color="#83ff7c"/><stop offset="0.8" stop-color="#34ffcb"/><stop offset="1" stop-color="#0afff5"/></linearGradient>
<linearGradient id="g1_64" gradientUnits="userSpaceOnUse" x1="0" x2="0" y1="285.6" y2="49.3"><stop offset="0.025" stop-color="#003aff"/><stop offset="0.05" stop-color="#0083ff"/><stop offset="0.075" stop-color="#00bfff"/><stop offset="0.1" stop-color="#00fbff"/><stop offset="0.102" stop-color="#00ffff"/><stop offset="0.15" stop-color="#58ffa7"/><stop offset="0.2" stop-color="#89ff76"/><stop offset="0.25" stop-color="#baff45"/><stop offset="0.35" stop-color="#beff41"/><stop offset="0.45" stop-color="#c2ff3d"/><stop offset="0.6" stop-color="#92ff6d"/><stop offset="0.8" stop-color="#2bffd4"/><stop offset="1" stop-color="#07fff8"/></linearGradient>
<linearGradient id="g1_65" gradientUnits="userSpaceOnUse" x1="0" x2="0" y1="285.6" y2="49.3"><stop offset="0.025" stop-color="#0037ff"/><stop offset="0.05" stop-color="#0080ff"/><stop offset="0.075" stop-color="#00bdff"/><stop offset="0.1" stop-color="#00fbff"/><stop offset="0.1019" stop-color="#00ffff"/><stop offset="0.15" stop-color="#5bffa4"/><stop offset="0.2" stop-color="#8aff75"/><stop offset="0.25" stop-color="#baff45"/><stop offset="0.35" stop-color="#c1ff3e"/><stop offset="0.45" stop-color="#c8ff37"/><stop offset="0.6" stop-color="#a0ff5f"/><stop offset="0.8" stop-color="#21ffde"/><stop offset="1" stop-color="#04fffb"/></linearGradient>
<linearGradient id="g1_66" gradientUnits="userSpaceOnUse" x1="0" x2="0" y1="285.6" y2="49.3"><stop offset="0.025" stop-color="#0033ff"/><stop offset="0.05" stop-color="#007cff"/><stop offset="0.075" stop-color="#00bcff"/><stop offset="0.1" stop-color="#00fbff"/><stop offset="0.1019" stop-color="#00ffff"/><stop offset="0.15" stop-color="#5effa1"/><stop offset="0.2" stop-color="#8cff73"/><stop offset="0.25" stop-color="#baff45"/><stop offset="0.35" stop-color="#c4ff3b"/><stop offset="0.45" stop-color="#cfff30"/><stop offset="0.6" stop-color="#afff50"/><stop offset="0.8" stop-color="#17ffe8"/><stop offset="1" stop-color="#00ffff"/></linearGradient>
<linearGradient id="g1_67" gradientUnits="userSpaceOnUse" x1="0" x2="0" y1="285.6" y2="49.3"><stop offset="0.025" stop-color="#0030ff"/><stop offset="0.05" stop-color="#0079ff"/><stop offset="0.075" stop-color="#00baff"/><stop offset="0.1" stop-color="#00fbff"/><stop offset="0.1018" stop-color="#00ffff"/><stop offset="0.15" stop-color="#62ff9d"/><stop offset="0.2" stop-color="#8eff71"/><stop offset="0.25" stop-color="#baff45"/><stop offset="0.35" stop-color="#c8ff37"/><stop offset="0.45" stop-color="#d5ff2a"/><stop offset="0.6" stop-color="#bdff42"/><stop offset="0.8" stop-color="#0dfff2"/><stop offset="0.965" stop-color="#00ffff"/><stop offset="1" stop-color="#00fcff"/></linearGradient>
<linearGradient id="g1_68" gradientUnits="userSpaceOnUse" x1="0" x2="0" y1="285.6" y2="49.3"><stop offset="0.025" stop-color="#002fff"/><stop offset="0.05" stop-color="#0078ff"/><stop offset="0.075" stop-color="#00baff"/><stop offset="0.1" stop-color="#00fbff"/><stop offset="0.1018" stop-color="#00ffff"/><stop offset="0.15" stop-color="#62ff9d"/><stop offset="0.2" stop-color="#8eff71"/><stop offset="0.25" stop-color="#baff45"/><stop offset="0.35" stop-color="#c8ff37"/><stop offset="0.45" stop-color="#d7ff28"/><stop offset="0.6" stop-color="#c1ff3e"/><stop offset="0.8" stop-color="#0bfff4"/><stop offset="0.95" stop-color="#00ffff"/><stop offset="1" stop-color="#00fbff"/></linearGradient>
<linearGradient id="g1_69" gradientUnits="userSpaceOnUse" x1="0" x2="0" y1="285.6" y2="49.3"><stop offset="0.025" stop-color="#002fff"/><stop offset="0.05" stop-color="#0078ff"/><stop offset="0.075" stop-color="#00baff"/><stop offset="0.1" stop-color="#00fbff"/><stop offset="0.1018" stop-color="#00ffff"/><stop offset="0.15" stop-color="#62ff9d"/><stop offset="0.2" stop-color="#8eff71"/><stop offset="0.25" stop-color="#baff45"/><stop offset="0.35" stop-color="#c8ff37"/><stop offset="0.45" stop-color="#d7ff28"/><stop offset="0.6" stop-color="#c1ff3e"/><stop offset="0.8" stop-color="#0bfff4"/><stop offset="0.95" stop-color="#00ffff"/><stop offset="1" stop-color="#00fbff"/></linearGradient>
<linearGradient id="g1_70" gradientUnits="userSpaceOnUse" x1="0" x2="0" y1="285.6" y2="49.3"><stop offset="0.025" stop-color="#002fff"/><stop offset="0.05" stop-color="#0078ff"/><stop offset="0.075" stop-color="#00baff"/><stop offset="0.1" stop-color="#00fbff"/><stop offset="0.1018" stop-color="#00ffff"/><stop offset="0.15" stop-color="#62ff9d"/><stop offset="0.2" stop-color="#8eff71"/><stop offset="0.25" stop-color="#baff45"/><stop offset="0.35" stop-color="#c8ff37"/><stop offset="0.45" stop-color="#d7ff28"/><stop offset="0.6" stop-color="#c1ff3e"/><stop offset="1" stop-color="#00fbff"/></linearGradient>
<linearGradient id="g1_71" gradientUnits="userSpaceOnUse" x1="0" x2="0" y1="285.6" y2="49.3"><stop offset="0.025" stop-color="#002fff"/><stop offset="0.05" stop-color="#0078ff"/><stop offset="0.075" stop-color="#00baff"/><stop offset="0.1" stop-color="#00fbff"/><stop offset="0.1018" stop-color="#00ffff"/><stop offset="0.15" stop-color="#62ff9d"/><stop offset="0.2" stop-color="#8eff71"/><stop offset="0.25" stop-color="#baff45"/><stop offset="0.35" stop-color="#c8ff37"/><stop offset="0.45" stop-color="#d7ff28"/><stop offset="0.8" stop-color="#0bfff4"/></linearGradient>
<clipPath id="clip1"><rect x="615.3" y="49.3" width="417.0" height="236.3"/></clipPath>
<clipPath id="clipf1"><rect x="615.3" y="49.3" width="417.0" height="232.2"/></clipPath>
<linearGradient id="g2_0" gradientUnits="userSpaceOnUse" x1="0" x2="0" y1="577.3" y2="341.0"><stop offset="0.025" stop-color="#006aff"/><stop offset="0.05" stop-color="#00bdff"/><stop offset="0.07469" stop-color="#00ffff"/><stop offset="0.075" stop-color="#01fffe"/><stop offset="0.1" stop-color="#39ffc6"/><stop offset="0.15" stop-color="#93ff6c"/><stop offset="0.2" stop-color="#d7ff28"/><stop offset="0.25" stop-color="#f4ff0b"/><stop offset="0.2709" stop-color="#ffff00"/><stop offset="0.35" stop-color="#ffd700"/><stop offset="0.45" stop-color="#ffb200"/><stop offset="0.8" stop-color="#ff9600"/></linearGradient>
<linearGradient id="g2_1" gradientUnits="userSpaceOnUse" x1="0" x2="0" y1="577.3" y2="341.0"><stop offset="0.025" stop-color="#006aff"/><stop offset="0.05" stop-color="#00bdff"/><stop offset="0.07469" stop-color="#00ffff"/><stop offset="0.075" stop-color="#01fffe"/><stop offset="0.1" stop-color="#39ffc6"/><stop offset="0.15" stop-color="#93ff6c"/><stop offset="0.2" stop-color="#d7ff28"/><stop offset="0.25" stop-color="#f5ff0a"/><stop offset="0.2691" stop-color="#ffff00"/><stop offset="0.35" stop-color="#ffd500"/><stop offset="0.45" stop-color="#ffb100"/><stop offset="0.6" stop-color="#ff9b00"/><stop offset="1" stop-color="#ff9600"/></linearGradient>
<linearGradient id="g2_2" gradientUnits="userSpaceOnUse" x1="0" x2="0" y1="577.3" y2="341.0"><stop offset="0.025" stop-color="#006aff"/><stop offset="0.05" stop-color="#00bdff"/><stop offset="0.07469" stop-color="#00ffff"/><stop offset="0.075" stop-color="#01fffe"/><stop offset="0.1" stop-color="#39ffc6"/><stop offset="0.15" stop-color="#93ff6c"/><stop offset="0.2" stop-color="#d7ff28"/><stop offset="0.25" stop-color="#f6ff09"/><stop offset="0.2672" stop-color="#ffff00"/><stop offset="0.35" stop-color="#ffd300"/><stop offset="0.45" stop-color="#ffb100"/><stop offset="0.8" stop-color="#ff9700"/></linearGradient>
<linearGradient id="g2_3" gradientUnits="userSpaceOnUse" x1="0" x2="0" y1="577.3" y2="341.0"><stop offset="0.025" stop-color="#006aff"/><stop offset="0.05" stop-color="#00bdff"/><stop offset="0.07469" stop-color="#00ffff"/><stop offset="0.075" stop-color="#01fffe"/><stop offset="0.1" stop-color="#39ffc6"/><stop offset="0.15" stop-color="#93ff6c"/><stop offset="0.2" stop-color="#d7ff28"/><stop offset="0.25" stop-color="#f7ff08"/><stop offset="0.2655" stop-color="#ffff00"/><stop offset="0.35" stop-color="#ffd200"/><stop offset="0.45" stop-color="#ffb000"/><stop offset="0.8" stop-color="#ff9800"/></linearGradient>
<linearGradient id="g2_4" gradientUnits="userSpaceOnUse" x1="0" x2="0" y1="577.3" y2="341.0"><stop offset="0.025" stop-color="#006aff"/><stop offset="0.05" stop-color="#00bdff"/><stop offset="0.07469" stop-color="#00ffff"/><stop offset="0.075" stop-color="#01fffe"/><stop offset="0.1" stop-color="#39ffc6"/><stop offset="0.15" stop-color="#93ff6c"/><stop offset="0.2" stop-color="#d7ff28"/><stop offset="0.25" stop-color="#f8ff07"/><stop offset="0.2638" stop-color="#ffff00"/><stop offset="0.35" stop-color="#ffd000"/><stop offset="0.45" stop-color="#ffaf00"/><stop offset="0.6" stop-color="#ff9d00"/><stop offset="1" stop-color="#ff9900"/></linearGradient>
<linearGradient id="g2_5" gradientUnits="userSpaceOnUse" x1="0" x2="0" y1="577.3" y2="341.0"><stop offset="0.025" stop-color="#006aff"/><stop offset="0.05" stop-color="#00bdff"/><stop offset="0.07469" stop-color="#00ffff"/><stop offset="0.075" stop-color="#01fffe"/><stop offset="0.1" stop-color="#39ffc6"/><stop offset="0.15" stop-color="#93ff6c"/><stop offset="0.2" stop-color="#d7ff28"/><stop offset="0.25" stop-color="#f8ff07"/><stop offset="0.2621" stop-color="#ffff00"/><stop offset="0.35" stop-color="#ffce00"/><stop offset="0.45" stop-color="#ffae00"/><stop offset="0.6" stop-color="#ff9d00"/><stop offset="1" stop-color="#ff9a00"/></linearGradient>
<linearGradient id="g2_6" gradientUnits="userSpaceOnUse" x1="0" x2="0" y1="577.3" y2="341.0"><stop offset="0.025" stop-color="#006aff"/><stop offset="0.05" stop-color="#00bdff"/><stop offset="0.07469" stop-color="#00ffff"/><stop offset="0.075" stop-color="#01fffe"/><stop offset="0.1" stop-color="#39ffc6"/><stop offset="0.15" stop-color="#93ff6c"/><stop offset="0.2" stop-color="#d7ff28"/><stop offset="0.25" stop-color="#f9ff06"/><stop offset="0.2605" stop-color="#ffff00"/><stop offset="0.35" stop-color="#ffcd00"/><stop offset="0.45" stop-color="#ffad00"/><stop offset="0.8" stop-color="#ff9a00"/></linearGradient>
<linearGradient id="g2_7" gradientUnits="userSpaceOnUse" x1="0" x2="0" y1="577.3" y2="341.0"><stop offset="0.025" stop-color="#006aff"/><stop offset="0.05" stop-color="#00bdff"/><stop offset="0.07469" stop-color="#00ffff"/><stop offset="0.075" stop-color="#01fffe"/><stop offset="0.1" stop-color="#39ffc6"/><stop offset="0.15" stop-color="#93ff6c"/><stop offset="0.2" stop-color="#d7ff28"/><stop offset="0.25" stop-color="#faff05"/><stop offset="0.2589" stop-color="#ffff00"/><stop offset="0.45" stop-color="#ffad00"/></linearGradient>
<linearGradient id="g2_8" gradientUnits="userSpaceOnUse" x1="0" x2="0" y1="577.3" y2="341.0"><stop offset="0.025" stop-color="#006aff"/><stop offset="0.05" stop-color="#00bdff"/><stop offset="0.07469" stop-color="#00ffff"/><stop offset="0.075" stop-color="#01fffe"/><stop offset="0.1" stop-color="#39ffc6"/><stop offset="0.15" stop-color="#93ff6c"/><stop offset="0.2" stop-color="#d7ff28"/><stop offset="0.25" stop-color="#fbff04"/><stop offset="0.2574" stop-color="#ffff00"/><stop offset="0.35" stop-color="#ffca00"/><stop offset="0.6" stop-color="#ff9f00"/></linearGradient>
<linearGradient id="g2_9" gradientUnits="userSpaceOnUse" x1="0" x2="0" y1="577.3" y2="341.0"><stop offset="0.025" stop-color="#006aff"/><stop offset="0.05" stop-color="#00bdff"/><stop offset="0.07469" stop-color="#00ffff"/><stop offset="0.075" stop-color="#01fffe"/><stop offset="0.1" stop-color="#39ffc6"/><stop offset="0.15" stop-color="#93ff6c"/><stop offset="0.2" stop-color="#d7ff28"/><stop offset="0.25" stop-color="#fcff03"/><stop offset="0.2559" stop-color="#ffff00"/><stop offset="0.35" stop-color="#ffc800"/><stop offset="0.45" stop-color="#ffab00"/><stop offset="0.8" stop-color="#ff9d00"/></linearGradient>
<linearGradient id="g2_10" gradientUnits="userSpaceOnUse" x1="0" x2="0" y1="577.3" y2="341.0"><stop offset="0.025" stop-color="#006aff"/><stop offset="0.05" stop-color="#00bdff"/><stop offset="0.07469" stop-color="#00ffff"/><stop offset="0.075" stop-color="#01fffe"/><stop offset="0.1" stop-color="#39ffc6"/><stop offset="0.15" stop-color="#93ff6c"/><stop offset="0.2" stop-color="#d7ff28"/><stop offset="0.25" stop-color="#fcff03"/><stop offset="0.2544" stop-color="#ffff00"/><stop offset="0.35" stop-color="#ffc600"/><stop offset="0.6" stop-color="#ffa000"/></linearGradient>
<linearGradient id="g2_11" gradientUnits="userSpaceOnUse" x1="0" x2="0" y1="577.3" y2="341.0"><stop offset="0.025" stop-color="#006aff"/><stop offset="0.05" stop-color="#00bdff"/><stop offset="0.07469" stop-color="#00ffff"/><stop offset="0.075" stop-color="#01fffe"/><stop offset="0.1" stop-color="#39ffc6"/><stop offset="0.15" stop-color="#93ff6c"/><stop offset="0.2" stop-color="#d7ff28"/><stop offset="0.25" stop-color="#fdff02"/><stop offset="0.253" stop-color="#ffff00"/><stop offset="0.35" stop-color="#ffc500"/><stop offset="0.6" stop-color="#ffa000"/></linearGradient>
<linearGradient id="g2_12" gradientUnits="userSpaceOnUse" x1="0" x2="0" y1="577.3" y2="341.0"><stop offset="0.025" stop-color="#006aff"/><stop offset="0.05" stop-color="#00bdff"/><stop offset="0.07469" stop-color="#00ffff"/><stop offset="0.075" stop-color="#01fffe"/><stop offset="0.1" stop-color="#39ffc6"/><stop offset="0.15" stop-color="#93ff6c"/><stop offset="0.2" stop-color="#d7ff28"/><stop offset="0.25" stop-color="#feff01"/><stop offset="0.2517" stop-color="#ffff00"/><stop offset="0.35" stop-color="#ffc300"/><stop offset="0.6" stop-color="#ffa100"/></linearGradient>
<linearGradient id="g2_13" gradientUnits="userSpaceOnUse" x1="0" x2="0" y1="577.3" y2="341.0"><stop offset="0.025" stop-color="#006aff"/><stop offset="0.05" stop-color="#00bdff"/><stop offset="0.07469" stop-color="#00ffff"/><stop offset="0.075" stop-color="#01fffe"/><stop offset="0.1" stop-color="#39ffc6"/><stop offset="0.15" stop-color="#93ff6c"/><stop offset="0.2" stop-color="#d7ff28"/><stop offset="0.25" stop-color="#ffff00"/><stop offset="0.2503" stop-color="#ffff00"/><stop offset="0.35" stop-color="#ffc100"/><stop offset="0.6" stop-color="#ffa100"/></linearGradient>
<linearGradient id="g2_14" gradientUnits="userSpaceOnUse" x1="0" x2="0" y1="577.3" y2="341.0"><stop offset="0.025" stop-color="#006aff"/><stop offset="0.05" stop-color="#00bdff"/><stop offset="0.07469" stop-color="#00ffff"/><stop offset="0.075" stop-color="#01fffe"/><stop offset="0.1" stop-color="#39ffc6"/><stop offset="0.15" stop-color="#93ff6c"/><stop offset="0.2" stop-color="#d7ff28"/><stop offset="0.2493" stop-color="#ffff00"/><stop offset="0.25" stop-color="#fffe00"/><stop offset="0.35" stop-color="#ffc000"/><stop offset="0.6" stop-color="#ffa200"/></linearGradient>
<linearGradient id="g2_15" gradientUnits="userSpaceOnUse" x1="0" x2="0" y1="577.3" y2="341.0"><stop offset="0.025" stop-color="#006aff"/><stop offset="0.05" stop-color="#00bdff"/><stop offset="0.07469" stop-color="#00ffff"/><stop offset="0.075" stop-color="#01fffe"/><stop offset="0.1" stop-color="#39ffc6"/><stop offset="0.15" stop-color="#93ff6c"/><stop offset="0.2" stop-color="#d7ff28"/><stop offset="0.2483" stop-color="#ffff00"/><stop offset="0.25" stop-color="#fffe00"/><stop offset="0.35" stop-color="#ffbe00"/><stop offset="0.6" stop-color="#ffa200"/></linearGradient>
<linearGradient id="g2_16" gradientUnits="userSpaceOnUse" x1="0" x2="0" y1="577.3" y2="341.0"><stop offset="0.025" stop-color="#006aff"/><stop offset="0.05" stop-color="#00bdff"/><stop offset="0.07469" stop-color="#00ffff"/><stop offset="0.075" stop-color="#01fffe"/><stop offset="0.1" stop-color="#39ffc6"/><stop offset="0.15" stop-color="#93ff6c"/><stop offset="0.2" stop-color="#d7ff28"/><stop offset="0.2474" stop-color="#ffff00"/><stop offset="0.25" stop-color="#fffd00"/><stop offset="0.35" stop-color="#ffbd00"/><stop offset="0.6" stop-color="#ffa300"/></linearGradient>
<linearGradient id="g2_17" gradientUnits="userSpaceOnUse" x1="0" x2="0" y1="577.3" y2="341.0"><stop offset="0.025" stop-color="#006aff"/><stop offset="0.05" stop-color="#00bdff"/><stop offset="0.07469" stop-color="#00ffff"/><stop offset="0.075" stop-color="#01fffe"/><stop offset="0.1" stop-color="#39ffc6"/><stop offset="0.15" stop-color="#93ff6c"/><stop offset="0.2" stop-color="#d7ff28"/><stop offset="0.2465" stop-color="#ffff00"/><stop offset="0.25" stop-color="#fffc00"/><stop offset="0.35" stop-color="#ffbb00"/><stop offset="0.6" stop-color="#ffa400"/></linearGradient>
<linearGradient id="g2_18" gradientUnits="userSpaceOnUse" x1="0" x2="0" y1="577.3" y2="341.0"><stop offset="0.025" stop-color="#006dff"/><stop offset="0.05" stop-color="#00c1ff"/><stop offset="0.07304" stop-color="#00ffff"/><stop offset="0.075" stop-color="#05fffa"/><stop offset="0.1" stop-color="#3fffc0"/><stop offset="0.15" stop-color="#9cff63"/><stop offset="0.2" stop-color="#e4ff1b"/><stop offset="0.2313" stop-color="#ffff00"/><stop offset="0.25" stop-color="#ffef00"/><stop offset="0.35" stop-color="#ffac00"/><stop offset="0.6" stop-color="#ff9900"/></linearGradient>
<linearGradient id="g2_19" gradientUnits="userSpaceOnUse" x1="0" x2="0" y1="577.3" y2="341.0"><stop offset="0.025" stop-color="#007cff"/><stop offset="0.05" stop-color="#00cfff"/><stop offset="0.06683" stop-color="#00ffff"/><stop offset="0.075" stop-color="#17ffe8"/><stop offset="0.1" stop-color="#56ffa9"/><stop offset="0.15" stop-color="#c0ff3f"/><stop offset="0.1863" stop-color="#ffff00"/><stop offset="0.2" stop-color="#ffe700"/><stop offset="0.25" stop-color="#ffbc00"/><stop offset="0.35" stop-color="#ff7500"/><stop offset="0.6" stop-color="#ff6d00"/></linearGradient>
<linearGradient id="g2_20" gradientUnits="userSpaceOnUse" x1="0" x2="0" y1="577.3" y2="341.0"><stop offset="0.025" stop-color="#008eff"/><stop offset="0.05" stop-color="#00e5ff"/><stop offset="0.05846" stop-color="#00ffff"/><stop offset="0.075" stop-color="#32ffcd"/><stop offset="0.1" stop-color="#78ff87"/><stop offset="0.15" stop-color="#efff10"/><stop offset="0.1582" stop-color="#ffff00"/><stop offset="0.2" stop-color="#ffaf00"/><stop offset="0.25" stop-color="#ff8500"/><stop offset="0.35" stop-color="#ff4200"/><stop offset="0.6" stop-color="#ff4200"/></linearGradient>
<linearGradient id="g2_21" gradientUnits="userSpaceOnUse" x1="0" x2="0" y1="577.3" y2="341.0"><stop offset="0.025" stop-color="#00abff"/><stop offset="0.04512" stop-color="#00ffff"/><stop offset="0.05" stop-color="#14ffeb"/><stop offset="0.075" stop-color="#67ff98"/><stop offset="0.1" stop-color="#b6ff49"/><stop offset="0.127" stop-color="#ffff00"/><stop offset="0.15" stop-color="#ffc100"/><stop offset="0.2" stop-color="#ff6600"/><stop offset="0.25" stop-color="#ff4300"/><stop offset="0.35" stop-color="#ff1600"/><stop offset="0.6" stop-color="#ff1600"/></linearGradient>
<linearGradient id="g2_22" gradientUnits="userSpaceOnUse" x1="0" x2="0" y1="577.3" y2="341.0"><stop offset="0.025" stop-color="#00c6ff"/><stop offset="0.03724" stop-color="#00ffff"/><stop offset="0.05" stop-color="#3bffc4"/><stop offset="0.075" stop-color="#93ff6c"/><stop offset="0.1" stop-color="#eaff15"/><stop offset="0.1071" stop-color="#ffff00"/><stop offset="0.15" stop-color="#ff8200"/><stop offset="0.2" stop-color="#ff2600"/><stop offset="0.2484" stop-color="#ff0000"/><stop offset="0.25" stop-color="#fe0000"/><stop offset="0.45" stop-color="#de0000"/></linearGradient>
<linearGradient id="g2_23" gradientUnits="userSpaceOnUse" x1="0" x2="0" y1="577.3" y2="341.0"><stop offset="0.025" stop-color="#00d9ff"/><stop offset="0.03307" stop-color="#00ffff"/><stop offset="0.05" stop-color="#4fffb0"/><stop offset="0.075" stop-color="#a6ff59"/><stop offset="0.1" stop-color="#feff01"/><stop offset="0.1004" stop-color="#ffff00"/><stop offset="0.15" stop-color="#ff6f00"/><stop offset="0.1995" stop-color="#ff0000"/><stop offset="0.2" stop-color="#fe0000"/><stop offset="0.25" stop-color="#b00000"/><stop offset="0.45" stop-color="#870000"/></linearGradient>
<linearGradient id="g2_24" gradientUnits="userSpaceOnUse" x1="0" x2="0" y1="577.3" y2="341.0"><stop offset="0.025" stop-color="#00deff"/><stop offset="0.03203" stop-color="#00ffff"/><stop offset="0.05" stop-color="#54ffab"/><stop offset="0.075" stop-color="#abff54"/><stop offset="0.09896" stop-color="#ffff00"/><stop offset="0.1" stop-color="#fffb00"/><stop offset="0.15" stop-color="#ff6a00"/><stop offset="0.1953" stop-color="#ff0000"/><stop offset="0.2" stop-color="#f40000"/><stop offset="0.25" stop-color="#c10000"/><stop offset="0.45" stop-color="#a80000"/></linearGradient>
<linearGradient id="g2_25" gradientUnits="userSpaceOnUse" x1="0" x2="0" y1="577.3" y2="341.0"><stop offset="0.025" stop-color="#00deff"/><stop offset="0.03203" stop-color="#00ffff"/><stop offset="0.05" stop-color="#54ffab"/><stop offset="0.075" stop-color="#b3ff4c"/><stop offset="0.09519" stop-color="#ffff00"/><stop offset="0.1" stop-color="#ffed00"/><stop offset="0.15" stop-color="#ff5b00"/><stop offset="0.1917" stop-color="#ff0000"/><stop offset="0.2" stop-color="#ed0000"/><stop offset="0.25" stop-color="#cb0000"/><stop offset="0.45" stop-color="#ba0000"/></linearGradient>
<linearGradient id="o2_52" gradientUnits="userSpaceOnUse" x1="0" x2="0" y1="577.3" y2="341.0"><stop offset="0.025" stop-color="#00deff"/><stop offset="0.03203" stop-color="#00ffff"/><stop offset="0.05" stop-color="#54ffab"/><stop offset="0.075" stop-color="#baff45"/><stop offset="0.09196" stop-color="#ffff00"/><stop offset="0.1" stop-color="#ffde00"/><stop offset="0.15" stop-color="#ff4c00"/><stop offset="0.1875" stop-color="#ff0000"/><stop offset="0.2" stop-color="#e50000"/><stop offset="0.35" stop-color="#ba0000"/></linearGradient>
<linearGradient id="o2_53" gradientUnits="userSpaceOnUse" x1="0" x2="0" y1="577.3" y2="341.0"><stop offset="0.025" stop-color="#fffb00"/><stop offset="0.05" stop-color="#ffa400"/><stop offset="0.075" stop-color="#ff6a00"/><stop offset="0.1" stop-color="#ff2f00"/><stop offset="0.1406" stop-color="#ff0000"/><stop offset="0.15" stop-color="#f40000"/><stop offset="0.2" stop-color="#e10000"/><stop offset="0.35" stop-color="#d70000"/></linearGradient>
<linearGradient id="g2_27" gradientUnits="userSpaceOnUse" x1="0" x2="0" y1="577.3" y2="341.0"><stop offset="0.025" stop-color="#fff300"/><stop offset="0.05" stop-color="#ff9b00"/><stop offset="0.075" stop-color="#ff6300"/><stop offset="0.1" stop-color="#ff2b00"/><stop offset="0.1369" stop-color="#ff0000"/><stop offset="0.15" stop-color="#f00000"/><stop offset="0.2" stop-color="#de0000"/><stop offset="0.35" stop-color="#d70000"/></linearGradient>
<linearGradient id="g2_28" gradientUnits="userSpaceOnUse" x1="0" x2="0" y1="577.3" y2="341.0"><stop offset="0.025" stop-color="#ffe700"/><stop offset="0.05" stop-color="#ff9000"/><stop offset="0.075" stop-color="#ff5a00"/><stop offset="0.1" stop-color="#ff2500"/><stop offset="0.1319" stop-color="#ff0000"/><stop offset="0.15" stop-color="#ea0000"/><stop offset="0.25" stop-color="#d70000"/></linearGradient>
<linearGradient id="g2_29" gradientUnits="userSpaceOnUse" x1="0" x2="0" y1="577.3" y2="341.0"><stop offset="0.025" stop-color="#ffdc00"/><stop offset="0.05" stop-color="#ff8600"/><stop offset="0.075" stop-color="#ff5300"/><stop offset="0.1" stop-color="#ff2100"/><stop offset="0.1287" stop-color="#ff0000"/><stop offset="0.15" stop-color="#e70000"/><stop offset="0.2" stop-color="#d90000"/><stop offset="0.35" stop-color="#d80000"/></linearGradient>
<linearGradient id="g2_30" gradientUnits="userSpaceOnUse" x1="0" x2="0" y1="577.3" y2="341.0"><stop offset="0.025" stop-color="#ffd200"/><stop offset="0.05" stop-color="#ff8100"/><stop offset="0.075" stop-color="#ff5100"/><stop offset="0.1" stop-color="#ff2100"/><stop offset="0.1314" stop-color="#ff0000"/><stop offset="0.15" stop-color="#ec0000"/><stop offset="0.25" stop-color="#dd0000"/></linearGradient>
<linearGradient id="g2_31" gradientUnits="userSpaceOnUse" x1="0" x2="0" y1="577.3" y2="341.0"><stop offset="0.025" stop-color="#ffc800"/><stop offset="0.05" stop-color="#ff7c00"/><stop offset="0.075" stop-color="#ff4e00"/><stop offset="0.1" stop-color="#ff2100"/><stop offset="0.1346" stop-color="#ff0000"/><stop offset="0.15" stop-color="#f00000"/><stop offset="0.2" stop-color="#e50000"/><stop offset="0.35" stop-color="#e20000"/></linearGradient>
<linearGradient id="g2_32" gradientUnits="userSpaceOnUse" x1="0" x2="0" y1="577.3" y2="341.0"><stop offset="0.025" stop-color="#ffc300"/><stop offset="0.05" stop-color="#ff7c00"/><stop offset="0.075" stop-color="#ff5000"/><stop offset="0.1" stop-color="#ff2400"/><stop offset="0.1405" stop-color="#ff0000"/><stop offset="0.15" stop-color="#f70000"/><stop offset="0.2" stop-color="#ee0000"/><stop offset="0.35" stop-color="#e90000"/></linearGradient>
<linearGradient id="g2_33" gradientUnits="userSpaceOnUse" x1="0" x2="0" y1="577.3" y2="341.0"><stop offset="0.025" stop-color="#ffcd00"/><stop offset="0.05" stop-color="#ff8a00"/><stop offset="0.075" stop-color="#ff5f00"/><stop offset="0.1" stop-color="#ff3300"/><stop offset="0.15" stop-color="#ff0100"/><stop offset="0.1607" stop-color="#ff0000"/><stop offset="0.25" stop-color="#f80000"/></linearGradient>
<linearGradient id="g2_34" gradientUnits="userSpaceOnUse" x1="0" x2="0" y1="577.3" y2="341.0"><stop offset="0.025" stop-color="#ffd700"/><stop offset="0.05" stop-color="#ff9900"/><stop offset="0.075" stop-color="#ff6d00"/><stop offset="0.1" stop-color="#ff4200"/><stop offset="0.15" stop-color="#ff0b00"/><stop offset="0.2" stop-color="#ff0900"/><stop offset="0.35" stop-color="#ff0700"/></linearGradient>
<linearGradient id="g2_35" gradientUnits="userSpaceOnUse" x1="0" x2="0" y1="577.3" y2="341.0"><stop offset="0.025" stop-color="#feff01"/><stop offset="0.02548" stop-color="#ffff00"/><stop offset="0.05" stop-color="#ffc100"/><stop offset="0.075" stop-color="#ff9300"/><stop offset="0.1" stop-color="#ff6500"/><stop offset="0.15" stop-color="#ff2600"/><stop offset="0.2" stop-color="#ff2200"/><stop offset="0.35" stop-color="#ff1e00"/></linearGradient>
<linearGradient id="g2_36" gradientUnits="userSpaceOnUse" x1="0" x2="0" y1="577.3" y2="341.0"><stop offset="0.025" stop-color="#76ff89"/><stop offset="0.05" stop-color="#c8ff37"/><stop offset="0.07446" stop-color="#ffff00"/><stop offset="0.075" stop-color="#fffe00"/><stop offset="0.1" stop-color="#ffc600"/><stop offset="0.15" stop-color="#ff7300"/><stop offset="0.2" stop-color="#ff6100"/><stop offset="0.25" stop-color="#ff4f00"/><stop offset="0.45" stop-color="#ff4f00"/></linearGradient>
<linearGradient id="g2_37" gradientUnits="userSpaceOnUse" x1="0" x2="0" y1="577.3" y2="341.0"><stop offset="0.025" stop-color="#33ffcc"/><stop offset="0.05" stop-color="#8aff75"/><stop offset="0.075" stop-color="#caff35"/><stop offset="0.09571" stop-color="#ffff00"/><stop offset="0.1" stop-color="#fff400"/><stop offset="0.15" stop-color="#ff9d00"/><stop offset="0.2" stop-color="#ff8a00"/><stop offset="0.25" stop-color="#ff7600"/><stop offset="0.45" stop-color="#ff7600"/></linearGradient>
<linearGradient id="g2_38" gradientUnits="userSpaceOnUse" x1="0" x2="0" y1="577.3" y2="341.0"><stop offset="0.025" stop-color="#07fff8"/><stop offset="0.05" stop-color="#5fffa0"/><stop offset="0.075" stop-color="#a6ff59"/><stop offset="0.1" stop-color="#edff12"/><stop offset="0.1104" stop-color="#ffff00"/><stop offset="0.15" stop-color="#ffba00"/><stop offset="0.2" stop-color="#ffaa00"/><stop offset="0.25" stop-color="#ff9b00"/><stop offset="0.45" stop-color="#ff9b00"/></linearGradient>
<linearGradient id="g2_39" gradientUnits="userSpaceOnUse" x1="0" x2="0" y1="577.3" y2="341.0"><stop offset="0.025" stop-color="#00dbff"/><stop offset="0.03542" stop-color="#00ffff"/><stop offset="0.05" stop-color="#33ffcc"/><stop offset="0.075" stop-color="#74ff8b"/><stop offset="0.1" stop-color="#b4ff4b"/><stop offset="0.1456" stop-color="#ffff00"/><stop offset="0.15" stop-color="#fff800"/><stop offset="0.2" stop-color="#ffe400"/><stop offset="0.25" stop-color="#ffd000"/><stop offset="0.45" stop-color="#ffd000"/></linearGradient>
<linearGradient id="g2_40" gradientUnits="userSpaceOnUse" x1="0" x2="0" y1="577.3" y2="341.0"><stop offset="0.025" stop-color="#00afff"/><stop offset="0.04792" stop-color="#00ffff"/><stop offset="0.05" stop-color="#07fff8"/><stop offset="0.075" stop-color="#3dffc2"/><stop offset="0.1" stop-color="#73ff8c"/><stop offset="0.15" stop-color="#bdff42"/><stop offset="0.2" stop-color="#d9ff26"/><stop offset="0.25" stop-color="#f4ff0b"/><stop offset="0.45" stop-color="#f4ff0b"/></linearGradient>
<linearGradient id="g2_41" gradientUnits="userSpaceOnUse" x1="0" x2="0" y1="577.3" y2="341.0"><stop offset="0.025" stop-color="#0092ff"/><stop offset="0.05" stop-color="#00eaff"/><stop offset="0.05993" stop-color="#00ffff"/><stop offset="0.075" stop-color="#20ffdf"/><stop offset="0.1" stop-color="#55ffaa"/><stop offset="0.15" stop-color="#9eff61"/><stop offset="0.2" stop-color="#bbff44"/><stop offset="0.25" stop-color="#d8ff27"/><stop offset="0.45" stop-color="#ddff22"/></linearGradient>
<linearGradient id="g2_42" gradientUnits="userSpaceOnUse" x1="0" x2="0" y1="577.3" y2="341.0"><stop offset="0.025" stop-color="#007bff"/><stop offset="0.05" stop-color="#00d3ff"/><stop offset="0.06981" stop-color="#00ffff"/><stop offset="0.075" stop-color="#0cfff3"/><stop offset="0.1" stop-color="#44ffbb"/><stop offset="0.15" stop-color="#8dff72"/><stop offset="0.2" stop-color="#aaff55"/><stop offset="0.25" stop-color="#c7ff38"/><stop offset="0.35" stop-color="#ccff33"/><stop offset="0.6" stop-color="#d1ff2e"/></linearGradient>
<linearGradient id="g2_43" gradientUnits="userSpaceOnUse" x1="0" x2="0" y1="577.3" y2="341.0"><stop offset="0.025" stop-color="#006aff"/><stop offset="0.05" stop-color="#00c0ff"/><stop offset="0.075" stop-color="#00faff"/><stop offset="0.07708" stop-color="#00ffff"/><stop offset="0.1" stop-color="#35ffca"/><stop offset="0.15" stop-color="#7eff81"/><stop offset="0.2" stop-color="#9bff64"/><stop offset="0.25" stop-color="#b9ff46"/><stop offset="0.35" stop-color="#bfff40"/><stop offset="0.6" stop-color="#c7ff38"/></linearGradient>
<linearGradient id="g2_44" gradientUnits="userSpaceOnUse" x1="0" x2="0" y1="577.3" y2="341.0"><stop offset="0.025" stop-color="#006aff"/><stop offset="0.05" stop-color="#00bbff"/><stop offset="0.075" stop-color="#00f5ff"/><stop offset="0.07917" stop-color="#00ffff"/><stop offset="0.1" stop-color="#31ffce"/><stop offset="0.15" stop-color="#79ff86"/><stop offset="0.2" stop-color="#97ff68"/><stop offset="0.25" stop-color="#b4ff4b"/><stop offset="0.35" stop-color="#b8ff47"/><stop offset="0.45" stop-color="#bcff43"/><stop offset="0.8" stop-color="#c8ff37"/></linearGradient>
<linearGradient id="g2_45" gradientUnits="userSpaceOnUse" x1="0" x2="0" y1="577.3" y2="341.0"><stop offset="0.025" stop-color="#006aff"/><stop offset="0.05" stop-color="#00b6ff"/><stop offset="0.075" stop-color="#00f0ff"/><stop offset="0.08125" stop-color="#00ffff"/><stop offset="0.1" stop-color="#2cffd3"/><stop offset="0.15" stop-color="#75ff8a"/><stop offset="0.2" stop-color="#92ff6d"/><stop offset="0.25" stop-color="#afff50"/><stop offset="0.35" stop-color="#b1ff4e"/><stop offset="0.45" stop-color="#b3ff4c"/><stop offset="0.6" stop-color="#bbff44"/><stop offset="1" stop-color="#c8ff37"/></linearGradient>
<linearGradient id="g2_46" gradientUnits="userSpaceOnUse" x1="0" x2="0" y1="577.3" y2="341.0"><stop offset="0.025" stop-color="#0068ff"/><stop offset="0.05" stop-color="#00b1ff"/><stop offset="0.075" stop-color="#00ebff"/><stop offset="0.08359" stop-color="#00ffff"/><stop offset="0.1" stop-color="#26ffd9"/><stop offset="0.15" stop-color="#6fff90"/><stop offset="0.2" stop-color="#8bff74"/><stop offset="0.25" stop-color="#a8ff57"/><stop offset="0.35" stop-color="#a8ff57"/><stop offset="0.45" stop-color="#a9ff56"/><stop offset="0.6" stop-color="#b8ff47"/><stop offset="0.8" stop-color="#ccff33"/><stop offset="1" stop-color="#ceff31"/></linearGradient>
<linearGradient id="g2_47" gradientUnits="userSpaceOnUse" x1="0" x2="0" y1="577.3" y2="341.0"><stop offset="0.025" stop-color="#0061ff"/><stop offset="0.05" stop-color="#00a9ff"/><stop offset="0.075" stop-color="#00e4ff"/><stop offset="0.08672" stop-color="#00ffff"/><stop offset="0.1" stop-color="#1fffe0"/><stop offset="0.15" stop-color="#68ff97"/><stop offset="0.2" stop-color="#80ff7f"/><stop offset="0.25" stop-color="#99ff66"/><stop offset="0.35" stop-color="#9eff61"/><stop offset="0.45" stop-color="#a2ff5d"/><stop offset="0.6" stop-color="#c2ff3d"/><stop offset="0.8" stop-color="#dbff24"/><stop offset="1" stop-color="#e4ff1b"/></linearGradient>
<linearGradient id="g2_48" gradientUnits="userSpaceOnUse" x1="0" x2="0" y1="577.3" y2="341.0"><stop offset="0.025" stop-color="#005bff"/><stop offset="0.05" stop-color="#00a4ff"/><stop offset="0.075" stop-color="#00deff"/><stop offset="0.08906" stop-color="#00ffff"/><stop offset="0.1" stop-color="#1affe5"/><stop offset="0.15" stop-color="#60ff9f"/><stop offset="0.2" stop-color="#76ff89"/><stop offset="0.25" stop-color="#8cff73"/><stop offset="0.35" stop-color="#93ff6c"/><stop offset="0.45" stop-color="#9aff65"/><stop offset="0.6" stop-color="#c2ff3d"/><stop offset="0.8" stop-color="#e3ff1c"/><stop offset="1" stop-color="#f4ff0b"/></linearGradient>
<linearGradient id="g2_49" gradientUnits="userSpaceOnUse" x1="0" x2="0" y1="577.3" y2="341.0"><stop offset="0.025" stop-color="#005bff"/><stop offset="0.05" stop-color="#00a4ff"/><stop offset="0.075" stop-color="#00deff"/><stop offset="0.08906" stop-color="#00ffff"/><stop offset="0.1" stop-color="#1affe5"/><stop offset="0.15" stop-color="#56ffa9"/><stop offset="0.2" stop-color="#6cff93"/><stop offset="0.25" stop-color="#82ff7d"/><stop offset="0.35" stop-color="#89ff76"/><stop offset="0.45" stop-color="#90ff6f"/><stop offset="0.6" stop-color="#aaff55"/><stop offset="0.8" stop-color="#d9ff26"/><stop offset="1" stop-color="#f4ff0b"/></linearGradient>
<linearGradient id="g2_50" gradientUnits="userSpaceOnUse" x1="0" x2="0" y1="577.3" y2="341.0"><stop offset="0.025" stop-color="#005bff"/><stop offset="0.05" stop-color="#00a4ff"/><stop offset="0.075" stop-color="#00d9ff"/><stop offset="0.0931" stop-color="#00ffff"/><stop offset="0.1" stop-color="#0ffff0"/><stop offset="0.15" stop-color="#49ffb6"/><stop offset="0.2" stop-color="#59ffa6"/><stop offset="0.25" stop-color="#6aff95"/><stop offset="0.35" stop-color="#71ff8e"/><stop offset="0.45" stop-color="#78ff87"/><stop offset="0.6" stop-color="#8eff71"/><stop offset="0.8" stop-color="#abff54"/><stop offset="1" stop-color="#b3ff4c"/></linearGradient>
<linearGradient id="g2_51" gradientUnits="userSpaceOnUse" x1="0" x2="0" y1="577.3" y2="341.0"><stop offset="0.025" stop-color="#005bff"/><stop offset="0.05" stop-color="#00a4ff"/><stop offset="0.075" stop-color="#00d5ff"/><stop offset="0.09605" stop-color="#00ffff"/><stop offset="0.1" stop-color="#08fff7"/><stop offset="0.15" stop-color="#3cffc3"/><stop offset="0.2" stop-color="#49ffb6"/><stop offset="0.25" stop-color="#56ffa9"/><stop offset="0.35" stop-color="#5dffa2"/><stop offset="0.45" stop-color="#64ff9b"/><stop offset="0.6" stop-color="#78ff87"/><stop offset="0.8" stop-color="#8aff75"/><stop offset="1" stop-color="#87ff78"/></linearGradient>
<linearGradient id="g2_52" gradientUnits="userSpaceOnUse" x1="0" x2="0" y1="577.3" y2="341.0"><stop offset="0.025" stop-color="#005bff"/><stop offset="0.05" stop-color="#00a4ff"/><stop offset="0.075" stop-color="#00d3ff"/><stop offset="0.09808" stop-color="#00ffff"/><stop offset="0.1" stop-color="#04fffb"/><stop offset="0.15" stop-color="#2fffd0"/><stop offset="0.2" stop-color="#3affc5"/><stop offset="0.25" stop-color="#45ffba"/><stop offset="0.35" stop-color="#4dffb2"/><stop offset="0.45" stop-color="#54ffab"/><stop offset="0.6" stop-color="#64ff9b"/><stop offset="1" stop-color="#6aff95"/></linearGradient>
<linearGradient id="g2_53" gradientUnits="userSpaceOnUse" x1="0" x2="0" y1="577.3" y2="341.0"><stop offset="0.025" stop-color="#005bff"/><stop offset="0.05" stop-color="#00a4ff"/><stop offset="0.075" stop-color="#00d1ff"/><stop offset="0.1" stop-color="#00feff"/><stop offset="0.1007" stop-color="#00ffff"/><stop offset="0.15" stop-color="#23ffdc"/><stop offset="0.2" stop-color="#2cffd3"/><stop offset="0.25" stop-color="#35ffca"/><stop offset="0.35" stop-color="#3cffc3"/><stop offset="0.45" stop-color="#43ffbc"/><stop offset="0.6" stop-color="#50ffaf"/><stop offset="1" stop-color="#4dffb2"/></linearGradient>
<linearGradient id="g2_54" gradientUnits="userSpaceOnUse" x1="0" x2="0" y1="577.3" y2="341.0"><stop offset="0.025" stop-color="#005bff"/><stop offset="0.05" stop-color="#00a4ff"/><stop offset="0.075" stop-color="#00d0ff"/><stop offset="0.1" stop-color="#00fbff"/><stop offset="0.1062" stop-color="#00ffff"/><stop offset="0.15" stop-color="#1affe5"/><stop offset="0.2" stop-color="#20ffdf"/><stop offset="0.25" stop-color="#27ffd8"/><stop offset="0.35" stop-color="#2effd1"/><stop offset="0.45" stop-color="#36ffc9"/><stop offset="0.6" stop-color="#41ffbe"/><stop offset="0.8" stop-color="#44ffbb"/><stop offset="1" stop-color="#35ffca"/></linearGradient>
<linearGradient id="g2_55" gradientUnits="userSpaceOnUse" x1="0" x2="0" y1="577.3" y2="341.0"><stop offset="0.025" stop-color="#005bff"/><stop offset="0.05" stop-color="#00a4ff"/><stop offset="0.075" stop-color="#00d0ff"/><stop offset="0.1" stop-color="#00fbff"/><stop offset="0.1062" stop-color="#00ffff"/><stop offset="0.15" stop-color="#1affe5"/><stop offset="0.2" stop-color="#1fffe0"/><stop offset="0.25" stop-color="#24ffdb"/><stop offset="0.35" stop-color="#2bffd4"/><stop offset="0.45" stop-color="#32ffcd"/><stop offset="0.6" stop-color="#3dffc2"/><stop offset="0.8" stop-color="#41ffbe"/><stop offset="1" stop-color="#2effd1"/></linearGradient>
<linearGradient id="g2_56" gradientUnits="userSpaceOnUse" x1="0" x2="0" y1="577.3" y2="341.0"><stop offset="0.025" stop-color="#005bff"/><stop offset="0.05" stop-color="#00a4ff"/><stop offset="0.075" stop-color="#00d0ff"/><stop offset="0.1" stop-color="#00fbff"/><stop offset="0.1062" stop-color="#00ffff"/><stop offset="0.15" stop-color="#1affe5"/><stop offset="0.2" stop-color="#1dffe2"/><stop offset="0.25" stop-color="#20ffdf"/><stop offset="0.35" stop-color="#27ffd8"/><stop offset="0.45" stop-color="#2effd1"/><stop offset="0.6" stop-color="#39ffc6"/><stop offset="0.8" stop-color="#3dffc2"/><stop offset="1" stop-color="#26ffd9"/></linearGradient>
<linearGradient id="g2_57" gradientUnits="userSpaceOnUse" x1="0" x2="0" y1="577.3" y2="341.0"><stop offset="0.025" stop-color="#005bff"/><stop offset="0.05" stop-color="#00a4ff"/><stop offset="0.075" stop-color="#00d0ff"/><stop offset="0.1" stop-color="#00fbff"/><stop offset="0.1062" stop-color="#00ffff"/><stop offset="0.15" stop-color="#1affe5"/><stop offset="0.2" stop-color="#1bffe4"/><stop offset="0.25" stop-color="#1cffe3"/><stop offset="0.35" stop-color="#24ffdb"/><stop offset="0.45" stop-color="#2bffd4"/><stop offset="0.6" stop-color="#36ffc9"/><stop offset="0.8" stop-color="#39ffc6"/><stop offset="1" stop-color="#1fffe0"/></linearGradient>
<linearGradient id="g2_58" gradientUnits="userSpaceOnUse" x1="0" x2="0" y1="577.3" y2="341.0"><stop offset="0.025" stop-color="#005bff"/><stop offset="0.05" stop-color="#00a4ff"/><stop offset="0.075" stop-color="#00d0ff"/><stop offset="0.1" stop-color="#00fdff"/><stop offset="0.1038" stop-color="#00ffff"/><stop offset="0.15" stop-color="#1dffe2"/><stop offset="0.2" stop-color="#1fffe0"/><stop offset="0.25" stop-color="#21ffde"/><stop offset="0.35" stop-color="#27ffd8"/><stop offset="0.45" stop-color="#2effd1"/><stop offset="0.6" stop-color="#35ffca"/><stop offset="0.8" stop-color="#34ffcb"/><stop offset="1" stop-color="#17ffe8"/></linearGradient>
<linearGradient id="g2_59" gradientUnits="userSpaceOnUse" x1="0" x2="0" y1="577.3" y2="341.0"><stop offset="0.025" stop-color="#005bff"/><stop offset="0.05" stop-color="#00a4ff"/><stop offset="0.075" stop-color="#00d3ff"/><stop offset="0.0987" stop-color="#00ffff"/><stop offset="0.1" stop-color="#02fffd"/><stop offset="0.15" stop-color="#2cffd3"/><stop offset="0.2" stop-color="#35ffca"/><stop offset="0.25" stop-color="#3effc1"/><stop offset="0.35" stop-color="#42ffbd"/><stop offset="0.45" stop-color="#46ffb9"/><stop offset="0.6" stop-color="#3fffc0"/><stop offset="0.8" stop-color="#2affd5"/><stop offset="1" stop-color="#0dfff2"/></linearGradient>
<linearGradient id="g2_60" gradientUnits="userSpaceOnUse" x1="0" x2="0" y1="577.3" y2="341.0"><stop offset="0.025" stop-color="#005bff"/><stop offset="0.05" stop-color="#00a4ff"/><stop offset="0.075" stop-color="#00d5ff"/><stop offset="0.0963" stop-color="#00ffff"/><stop offset="0.1" stop-color="#07fff8"/><stop offset="0.15" stop-color="#3affc5"/><stop offset="0.2" stop-color="#4bffb4"/><stop offset="0.25" stop-color="#5bffa4"/><stop offset="0.35" stop-color="#5dffa2"/><stop offset="0.45" stop-color="#5fffa0"/><stop offset="0.6" stop-color="#49ffb6"/><stop offset="0.8" stop-color="#21ffde"/><stop offset="1" stop-color="#04fffb"/></linearGradient>
<linearGradient id="g2_61" gradientUnits="userSpaceOnUse" x1="0" x2="0" y1="577.3" y2="341.0"><stop offset="0.025" stop-color="#005bff"/><stop offset="0.05" stop-color="#00a4ff"/><stop offset="0.075" stop-color="#00d8ff"/><stop offset="0.09412" stop-color="#00ffff"/><stop offset="0.1" stop-color="#0cfff3"/><stop offset="0.15" stop-color="#48ffb7"/><stop offset="0.2" stop-color="#5effa1"/><stop offset="0.25" stop-color="#75ff8a"/><stop offset="0.35" stop-color="#75ff8a"/><stop offset="0.45" stop-color="#75ff8a"/><stop offset="0.6" stop-color="#53ffac"/><stop offset="0.8" stop-color="#20ffdf"/><stop offset="1" stop-color="#05fffa"/></linearGradient>
<linearGradient id="g2_62" gradientUnits="userSpaceOnUse" x1="0" x2="0" y1="577.3" y2="341.0"><stop offset="0.025" stop-color="#005bff"/><stop offset="0.05" stop-color="#00a4ff"/><stop offset="0.075" stop-color="#00daff"/><stop offset="0.09213" stop-color="#00ffff"/><stop offset="0.1" stop-color="#11ffee"/><stop offset="0.15" stop-color="#51ffae"/><stop offset="0.2" stop-color="#6aff95"/><stop offset="0.25" stop-color="#83ff7c"/><stop offset="0.35" stop-color="#83ff7c"/><stop offset="0.45" stop-color="#83ff7c"/><stop offset="0.6" stop-color="#5effa1"/><stop offset="0.8" stop-color="#38ffc7"/><stop offset="1" stop-color="#27ffd8"/></linearGradient>
<linearGradient id="g2_63" gradientUnits="userSpaceOnUse" x1="0" x2="0" y1="577.3" y2="341.0"><stop offset="0.025" stop-color="#005bff"/><stop offset="0.05" stop-color="#00a4ff"/><stop offset="0.075" stop-color="#00dcff"/><stop offset="0.09032" stop-color="#00ffff"/><stop offset="0.1" stop-color="#16ffe9"/><stop offset="0.15" stop-color="#5bffa4"/><stop offset="0.2" stop-color="#76ff89"/><stop offset="0.25" stop-color="#92ff6d"/><stop offset="0.35" stop-color="#92ff6d"/><stop offset="0.45" stop-color="#92ff6d"/><stop offset="0.6" stop-color="#69ff96"/><stop offset="0.8" stop-color="#50ffaf"/><stop offset="1" stop-color="#49ffb6"/></linearGradient>
<linearGradient id="g2_64" gradientUnits="userSpaceOnUse" x1="0" x2="0" y1="577.3" y2="341.0"><stop offset="0.025" stop-color="#005bff"/><stop offset="0.05" stop-color="#00a4ff"/><stop offset="0.075" stop-color="#00deff"/><stop offset="0.08906" stop-color="#00ffff"/><stop offset="0.1" stop-color="#1affe5"/><stop offset="0.15" stop-color="#62ff9d"/><stop offset="0.2" stop-color="#80ff80"/><stop offset="0.25" stop-color="#9dff62"/><stop offset="0.35" stop-color="#9dff62"/><stop offset="0.45" stop-color="#9dff62"/><stop offset="0.6" stop-color="#71ff8e"/><stop offset="1" stop-color="#62ff9d"/></linearGradient>
<linearGradient id="g2_65" gradientUnits="userSpaceOnUse" x1="0" x2="0" y1="577.3" y2="341.0"><stop offset="0.025" stop-color="#005bff"/><stop offset="0.05" stop-color="#00a4ff"/><stop offset="0.075" stop-color="#00deff"/><stop offset="0.08906" stop-color="#00ffff"/><stop offset="0.1" stop-color="#1affe5"/><stop offset="0.15" stop-color="#62ff9d"/><stop offset="0.2" stop-color="#80ff80"/><stop offset="0.25" stop-color="#9dff62"/><stop offset="0.35" stop-color="#9dff62"/><stop offset="0.45" stop-color="#9dff62"/><stop offset="0.6" stop-color="#73ff8c"/><stop offset="1" stop-color="#62ff9d"/></linearGradient>
<linearGradient id="g2_66" gradientUnits="userSpaceOnUse" x1="0" x2="0" y1="577.3" y2="341.0"><stop offset="0.025" stop-color="#005bff"/><stop offset="0.05" stop-color="#00a4ff"/><stop offset="0.075" stop-color="#00deff"/><stop offset="0.08906" stop-color="#00ffff"/><stop offset="0.1" stop-color="#1affe5"/><stop offset="0.15" stop-color="#62ff9d"/><stop offset="0.2" stop-color="#80ff80"/><stop offset="0.25" stop-color="#9dff62"/><stop offset="0.35" stop-color="#9dff62"/><stop offset="0.45" stop-color="#9dff62"/><stop offset="0.6" stop-color="#75ff8a"/><stop offset="1" stop-color="#62ff9d"/></linearGradient>
<linearGradient id="g2_67" gradientUnits="userSpaceOnUse" x1="0" x2="0" y1="577.3" y2="341.0"><stop offset="0.025" stop-color="#005bff"/><stop offset="0.05" stop-color="#00a4ff"/><stop offset="0.075" stop-color="#00deff"/><stop offset="0.08906" stop-color="#00ffff"/><stop offset="0.1" stop-color="#1affe5"/><stop offset="0.15" stop-color="#62ff9d"/><stop offset="0.2" stop-color="#80ff80"/><stop offset="0.25" stop-color="#9dff62"/><stop offset="0.35" stop-color="#9dff62"/><stop offset="0.45" stop-color="#9dff62"/><stop offset="0.6" stop-color="#77ff88"/><stop offset="1" stop-color="#62ff9d"/></linearGradient>
<linearGradient id="g2_68" gradientUnits="userSpaceOnUse" x1="0" x2="0" y1="577.3" y2="341.0"><stop offset="0.025" stop-color="#005bff"/><stop offset="0.05" stop-color="#00a4ff"/><stop offset="0.075" stop-color="#00deff"/><stop offset="0.08906" stop-color="#00ffff"/><stop offset="0.1" stop-color="#1affe5"/><stop offset="0.15" stop-color="#62ff9d"/><stop offset="0.2" stop-color="#80ff80"/><stop offset="0.25" stop-color="#9dff62"/><stop offset="0.35" stop-color="#9dff62"/><stop offset="0.45" stop-color="#9dff62"/><stop offset="0.6" stop-color="#79ff86"/><stop offset="1" stop-color="#62ff9d"/></linearGradient>
<linearGradient id="g2_69" gradientUnits="userSpaceOnUse" x1="0" x2="0" y1="577.3" y2="341.0"><stop offset="0.025" stop-color="#005bff"/><stop offset="0.05" stop-color="#00a4ff"/><stop offset="0.075" stop-color="#00deff"/><stop offset="0.08906" stop-color="#00ffff"/><stop offset="0.1" stop-color="#1affe5"/><stop offset="0.15" stop-color="#62ff9d"/><stop offset="0.2" stop-color="#80ff80"/><stop offset="0.25" stop-color="#9dff62"/><stop offset="0.35" stop-color="#9dff62"/><stop offset="0.45" stop-color="#9dff62"/><stop offset="0.6" stop-color="#7bff84"/><stop offset="1" stop-color="#62ff9d"/></linearGradient>
<linearGradient id="g2_70" gradientUnits="userSpaceOnUse" x1="0" x2="0" y1="577.3" y2="341.0"><stop offset="0.025" stop-color="#005bff"/><stop offset="0.05" stop-color="#00a4ff"/><stop offset="0.075" stop-color="#00deff"/><stop offset="0.08906" stop-color="#00ffff"/><stop offset="0.1" stop-color="#1affe5"/><stop offset="0.15" stop-color="#62ff9d"/><stop offset="0.2" stop-color="#80ff80"/><stop offset="0.25" stop-color="#9dff62"/><stop offset="0.35" stop-color="#9dff62"/><stop offset="0.45" stop-color="#9dff62"/><stop offset="0.6" stop-color="#7dff82"/><stop offset="1" stop-color="#62ff9d"/></linearGradient>
<linearGradient id="g2_71" gradientUnits="userSpaceOnUse" x1="0" x2="0" y1="577.3" y2="341.0"><stop offset="0.025" stop-color="#005bff"/><stop offset="0.05" stop-color="#00a4ff"/><stop offset="0.075" stop-color="#00deff"/><stop offset="0.08906" stop-color="#00ffff"/><stop offset="0.1" stop-color="#1affe5"/><stop offset="0.15" stop-color="#62ff9d"/><stop offset="0.2" stop-color="#80ff80"/><stop offset="0.25" stop-color="#9dff62"/><stop offset="0.35" stop-color="#9dff62"/><stop offset="0.45" stop-color="#9dff62"/><stop offset="0.6" stop-color="#7fff80"/><stop offset="1" stop-color="#62ff9d"/></linearGradient>
<clipPath id="clip2"><rect x="76.3" y="341.0" width="417.0" height="236.3"/></clipPath>
<clipPath id="clipf2"><rect x="76.3" y="341.0" width="417.0" height="232.2"/></clipPath>
<linearGradient id="g3_0" gradientUnits="userSpaceOnUse" x1="0" x2="0" y1="577.3" y2="341.0"><stop offset="0.025" stop-color="#00deff"/><stop offset="0.03438" stop-color="#00ffff"/><stop offset="0.05" stop-color="#37ffc8"/><stop offset="0.075" stop-color="#71ff8e"/><stop offset="0.1" stop-color="#abff54"/><stop offset="0.15" stop-color="#f6ff09"/><stop offset="0.1627" stop-color="#ffff00"/><stop offset="0.2" stop-color="#ffe300"/><stop offset="0.25" stop-color="#ffbe00"/><stop offset="0.35" stop-color="#ffab00"/><stop offset="0.45" stop-color="#ffa300"/><stop offset="0.6" stop-color="#ffaa00"/><stop offset="0.8" stop-color="#ffae00"/><stop offset="1" stop-color="#ffae00"/></linearGradient>
<linearGradient id="g3_1" gradientUnits="userSpaceOnUse" x1="0" x2="0" y1="577.3" y2="341.0"><stop offset="0.025" stop-color="#00deff"/><stop offset="0.03438" stop-color="#00ffff"/><stop offset="0.05" stop-color="#37ffc8"/><stop offset="0.075" stop-color="#71ff8e"/><stop offset="0.1" stop-color="#abff54"/><stop offset="0.15" stop-color="#fbff04"/><stop offset="0.1545" stop-color="#ffff00"/><stop offset="0.2" stop-color="#ffdb00"/><stop offset="0.25" stop-color="#ffb300"/><stop offset="0.35" stop-color="#ff9f00"/><stop offset="0.45" stop-color="#ff9700"/><stop offset="0.6" stop-color="#ff9a00"/><stop offset="1" stop-color="#ff9d00"/></linearGradient>
<linearGradient id="g3_2" gradientUnits="userSpaceOnUse" x1="0" x2="0" y1="577.3" y2="341.0"><stop offset="0.025" stop-color="#00deff"/><stop offset="0.03438" stop-color="#00ffff"/><stop offset="0.05" stop-color="#37ffc8"/><stop offset="0.075" stop-color="#71ff8e"/><stop offset="0.1" stop-color="#abff54"/><stop offset="0.1487" stop-color="#ffff00"/><stop offset="0.15" stop-color="#fffd00"/><stop offset="0.2" stop-color="#ffd200"/><stop offset="0.25" stop-color="#ffa700"/><stop offset="0.35" stop-color="#ff9300"/><stop offset="0.45" stop-color="#ff8a00"/><stop offset="0.8" stop-color="#ff8b00"/></linearGradient>
<linearGradient id="g3_3" gradientUnits="userSpaceOnUse" x1="0" x2="0" y1="577.3" y2="341.0"><stop offset="0.025" stop-color="#00deff"/><stop offset="0.03438" stop-color="#00ffff"/><stop offset="0.05" stop-color="#37ffc8"/><stop offset="0.075" stop-color="#71ff8e"/><stop offset="0.1" stop-color="#abff54"/><stop offset="0.1479" stop-color="#ffff00"/><stop offset="0.15" stop-color="#fffb00"/><stop offset="0.2" stop-color="#ffce00"/><stop offset="0.25" stop-color="#ffa100"/><stop offset="0.35" stop-color="#ff9000"/><stop offset="0.6" stop-color="#ff8700"/></linearGradient>
<linearGradient id="g3_4" gradientUnits="userSpaceOnUse" x1="0" x2="0" y1="577.3" y2="341.0"><stop offset="0.025" stop-color="#00deff"/><stop offset="0.03438" stop-color="#00ffff"/><stop offset="0.05" stop-color="#37ffc8"/><stop offset="0.075" stop-color="#71ff8e"/><stop offset="0.1" stop-color="#abff54"/><stop offset="0.1479" stop-color="#ffff00"/><stop offset="0.15" stop-color="#fffb00"/><stop offset="0.2" stop-color="#ffcc00"/><stop offset="0.25" stop-color="#ff9e00"/><stop offset="0.35" stop-color="#ff8e00"/><stop offset="0.6" stop-color="#ff8700"/></linearGradient>
<linearGradient id="g3_5" gradientUnits="userSpaceOnUse" x1="0" x2="0" y1="577.3" y2="341.0"><stop offset="0.025" stop-color="#00deff"/><stop offset="0.03438" stop-color="#00ffff"/><stop offset="0.05" stop-color="#37ffc8"/><stop offset="0.075" stop-color="#71ff8e"/><stop offset="0.1" stop-color="#abff54"/><stop offset="0.1479" stop-color="#ffff00"/><stop offset="0.15" stop-color="#fffb00"/><stop offset="0.2" stop-color="#ffcb00"/><stop offset="0.25" stop-color="#ff9a00"/><stop offset="0.45" stop-color="#ff8700"/></linearGradient>
<linearGradient id="g3_6" gradientUnits="userSpaceOnUse" x1="0" x2="0" y1="577.3" y2="341.0"><stop offset="0.025" stop-color="#00deff"/><stop offset="0.03438" stop-color="#00ffff"/><stop offset="0.05" stop-color="#37ffc8"/><stop offset="0.075" stop-color="#71ff8e"/><stop offset="0.1" stop-color="#abff54"/><stop offset="0.1479" stop-color="#ffff00"/><stop offset="0.15" stop-color="#fffb00"/><stop offset="0.2" stop-color="#ffc900"/><stop offset="0.25" stop-color="#ff9600"/><stop offset="0.45" stop-color="#ff8700"/></linearGradient>
<linearGradient id="g3_7" gradientUnits="userSpaceOnUse" x1="0" x2="0" y1="577.3" y2="341.0"><stop offset="0.025" stop-color="#00deff"/><stop offset="0.03304" stop-color="#00ffff"/><stop offset="0.05" stop-color="#45ffba"/><stop offset="0.075" stop-color="#80ff80"/><stop offset="0.1" stop-color="#baff45"/><stop offset="0.1396" stop-color="#ffff00"/><stop offset="0.15" stop-color="#ffed00"/><stop offset="0.2" stop-color="#ffaf00"/><stop offset="0.25" stop-color="#ff7100"/><stop offset="0.35" stop-color="#ff4f00"/><stop offset="0.6" stop-color="#ff3e00"/></linearGradient>
<linearGradient id="g3_8" gradientUnits="userSpaceOnUse" x1="0" x2="0" y1="577.3" y2="341.0"><stop offset="0.025" stop-color="#00deff"/><stop offset="0.03203" stop-color="#00ffff"/><stop offset="0.05" stop-color="#54ffab"/><stop offset="0.075" stop-color="#8eff71"/><stop offset="0.1" stop-color="#c8ff37"/><stop offset="0.1313" stop-color="#ffff00"/><stop offset="0.15" stop-color="#ffde00"/><stop offset="0.2" stop-color="#ff9500"/><stop offset="0.25" stop-color="#ff4c00"/><stop offset="0.35" stop-color="#ff1500"/><stop offset="0.4239" stop-color="#ff0000"/><stop offset="0.6" stop-color="#f80000"/></linearGradient>
<linearGradient id="g3_9" gradientUnits="userSpaceOnUse" x1="0" x2="0" y1="577.3" y2="341.0"><stop offset="0.025" stop-color="#00deff"/><stop offset="0.03203" stop-color="#00ffff"/><stop offset="0.05" stop-color="#54ffab"/><stop offset="0.075" stop-color="#8eff71"/><stop offset="0.1" stop-color="#c8ff37"/><stop offset="0.1313" stop-color="#ffff00"/><stop offset="0.15" stop-color="#ffde00"/><stop offset="0.2" stop-color="#ff9500"/><stop offset="0.25" stop-color="#ff4c00"/><stop offset="0.35" stop-color="#ff1e00"/><stop offset="0.6" stop-color="#ff0700"/></linearGradient>
<linearGradient id="g3_10" gradientUnits="userSpaceOnUse" x1="0" x2="0" y1="577.3" y2="341.0"><stop offset="0.025" stop-color="#00e0ff"/><stop offset="0.03172" stop-color="#00ffff"/><stop offset="0.05" stop-color="#55ffaa"/><stop offset="0.075" stop-color="#90ff6f"/><stop offset="0.1" stop-color="#cbff34"/><stop offset="0.1291" stop-color="#ffff00"/><stop offset="0.15" stop-color="#ffda00"/><stop offset="0.2" stop-color="#ff9000"/><stop offset="0.25" stop-color="#ff4a00"/><stop offset="0.35" stop-color="#ff2300"/><stop offset="0.6" stop-color="#ff1100"/></linearGradient>
<linearGradient id="g3_11" gradientUnits="userSpaceOnUse" x1="0" x2="0" y1="577.3" y2="341.0"><stop offset="0.025" stop-color="#00e5ff"/><stop offset="0.03047" stop-color="#00ffff"/><stop offset="0.05" stop-color="#5bffa4"/><stop offset="0.075" stop-color="#99ff66"/><stop offset="0.1" stop-color="#d7ff28"/><stop offset="0.1212" stop-color="#ffff00"/><stop offset="0.15" stop-color="#ffc800"/><stop offset="0.2" stop-color="#ff7c00"/><stop offset="0.25" stop-color="#ff3e00"/><stop offset="0.45" stop-color="#ff0b00"/></linearGradient>
<linearGradient id="g3_12" gradientUnits="userSpaceOnUse" x1="0" x2="0" y1="577.3" y2="341.0"><stop offset="0.025" stop-color="#00ebff"/><stop offset="0.02922" stop-color="#00ffff"/><stop offset="0.05" stop-color="#61ff9e"/><stop offset="0.075" stop-color="#a2ff5d"/><stop offset="0.1" stop-color="#e3ff1c"/><stop offset="0.1141" stop-color="#ffff00"/><stop offset="0.15" stop-color="#ffb700"/><stop offset="0.2" stop-color="#ff6700"/><stop offset="0.25" stop-color="#ff3200"/><stop offset="0.45" stop-color="#ff0500"/></linearGradient>
<linearGradient id="g3_13" gradientUnits="userSpaceOnUse" x1="0" x2="0" y1="577.3" y2="341.0"><stop offset="0.025" stop-color="#00f1ff"/><stop offset="0.02797" stop-color="#00ffff"/><stop offset="0.05" stop-color="#67ff98"/><stop offset="0.075" stop-color="#aaff55"/><stop offset="0.1" stop-color="#eeff11"/><stop offset="0.1079" stop-color="#ffff00"/><stop offset="0.15" stop-color="#ffa500"/><stop offset="0.2" stop-color="#ff5300"/><stop offset="0.25" stop-color="#ff2700"/><stop offset="0.45" stop-color="#fe0000"/></linearGradient>
<linearGradient id="g3_14" gradientUnits="userSpaceOnUse" x1="0" x2="0" y1="577.3" y2="341.0"><stop offset="0.025" stop-color="#00f7ff"/><stop offset="0.02672" stop-color="#00ffff"/><stop offset="0.05" stop-color="#6dff92"/><stop offset="0.075" stop-color="#b3ff4c"/><stop offset="0.1" stop-color="#faff05"/><stop offset="0.1023" stop-color="#ffff00"/><stop offset="0.15" stop-color="#ff9400"/><stop offset="0.2" stop-color="#ff3f00"/><stop offset="0.25" stop-color="#ff1b00"/><stop offset="0.3381" stop-color="#ff0000"/><stop offset="0.45" stop-color="#f80000"/></linearGradient>
<linearGradient id="g3_15" gradientUnits="userSpaceOnUse" x1="0" x2="0" y1="577.3" y2="341.0"><stop offset="0.025" stop-color="#00fdff"/><stop offset="0.02539" stop-color="#00ffff"/><stop offset="0.05" stop-color="#73ff8c"/><stop offset="0.075" stop-color="#bdff42"/><stop offset="0.09753" stop-color="#ffff00"/><stop offset="0.1" stop-color="#fff800"/><stop offset="0.15" stop-color="#ff8100"/><stop offset="0.2" stop-color="#ff2a00"/><stop offset="0.25" stop-color="#ff0f00"/><stop offset="0.3033" stop-color="#ff0000"/><stop offset="0.45" stop-color="#f20000"/></linearGradient>
<linearGradient id="g3_16" gradientUnits="userSpaceOnUse" x1="0" x2="0" y1="577.3" y2="341.0"><stop offset="0.025" stop-color="#05fffa"/><stop offset="0.05" stop-color="#7aff85"/><stop offset="0.075" stop-color="#c7ff38"/><stop offset="0.09294" stop-color="#ffff00"/><stop offset="0.1" stop-color="#ffe900"/><stop offset="0.15" stop-color="#ff6b00"/><stop offset="0.2" stop-color="#ff1400"/><stop offset="0.25" stop-color="#ff0000"/><stop offset="0.45" stop-color="#eb0000"/></linearGradient>
<linearGradient id="g3_17" gradientUnits="userSpaceOnUse" x1="0" x2="0" y1="577.3" y2="341.0"><stop offset="0.025" stop-color="#0dfff2"/><stop offset="0.05" stop-color="#81ff7e"/><stop offset="0.075" stop-color="#d2ff2d"/><stop offset="0.08876" stop-color="#ffff00"/><stop offset="0.1" stop-color="#ffdb00"/><stop offset="0.15" stop-color="#ff5600"/><stop offset="0.199" stop-color="#ff0000"/><stop offset="0.2" stop-color="#fd0000"/><stop offset="0.35" stop-color="#e40000"/></linearGradient>
<linearGradient id="g3_18" gradientUnits="userSpaceOnUse" x1="0" x2="0" y1="577.3" y2="341.0"><stop offset="0.025" stop-color="#14ffeb"/><stop offset="0.05" stop-color="#89ff76"/><stop offset="0.075" stop-color="#ddff22"/><stop offset="0.08495" stop-color="#ffff00"/><stop offset="0.1" stop-color="#ffcc00"/><stop offset="0.15" stop-color="#ff4000"/><stop offset="0.1865" stop-color="#ff0000"/><stop offset="0.2" stop-color="#e70000"/><stop offset="0.35" stop-color="#dc0000"/></linearGradient>
<linearGradient id="g3_19" gradientUnits="userSpaceOnUse" x1="0" x2="0" y1="577.3" y2="341.0"><stop offset="0.025" stop-color="#1affe5"/><stop offset="0.05" stop-color="#87ff78"/><stop offset="0.075" stop-color="#dbff24"/><stop offset="0.08587" stop-color="#ffff00"/><stop offset="0.1" stop-color="#ffd000"/><stop offset="0.15" stop-color="#ff4c00"/><stop offset="0.2" stop-color="#ff0b00"/><stop offset="0.35" stop-color="#ff0b00"/></linearGradient>
<linearGradient id="g3_20" gradientUnits="userSpaceOnUse" x1="0" x2="0" y1="577.3" y2="341.0"><stop offset="0.025" stop-color="#1affe5"/><stop offset="0.05" stop-color="#71ff8e"/><stop offset="0.075" stop-color="#b3ff4c"/><stop offset="0.1" stop-color="#f4ff0b"/><stop offset="0.1075" stop-color="#ffff00"/><stop offset="0.15" stop-color="#ffc100"/><stop offset="0.25" stop-color="#ffc100"/></linearGradient>
<linearGradient id="g3_21" gradientUnits="userSpaceOnUse" x1="0" x2="0" y1="577.3" y2="341.0"><stop offset="0.025" stop-color="#00abff"/><stop offset="0.05" stop-color="#00b0ff"/><stop offset="0.075" stop-color="#00b5ff"/><stop offset="0.1" stop-color="#00baff"/><stop offset="0.15" stop-color="#00c5ff"/><stop offset="0.25" stop-color="#00c5ff"/></linearGradient>
<linearGradient id="g3_22" gradientUnits="userSpaceOnUse" x1="0" x2="0" y1="577.3" y2="341.0"><stop offset="0.025" stop-color="#0083ff"/><stop offset="0.05" stop-color="#0086ff"/><stop offset="0.075" stop-color="#0088ff"/><stop offset="0.1" stop-color="#008aff"/><stop offset="0.15" stop-color="#008aff"/><stop offset="0.25" stop-color="#008aff"/></linearGradient>
<linearGradient id="g3_23" gradientUnits="userSpaceOnUse" x1="0" x2="0" y1="577.3" y2="341.0"><stop offset="0.025" stop-color="#002fff"/><stop offset="0.05" stop-color="#0028ff"/><stop offset="0.075" stop-color="#0021ff"/><stop offset="0.1" stop-color="#0019ff"/><stop offset="0.15" stop-color="#0017ff"/><stop offset="0.2" stop-color="#0015ff"/><stop offset="0.35" stop-color="#0012ff"/></linearGradient>
<linearGradient id="g3_24" gradientUnits="userSpaceOnUse" x1="0" x2="0" y1="577.3" y2="341.0"><stop offset="0.025" stop-color="#0012ff"/><stop offset="0.05" stop-color="#000cff"/><stop offset="0.075" stop-color="#0006ff"/><stop offset="0.1" stop-color="#0000ff"/><stop offset="0.15" stop-color="#0002ff"/><stop offset="0.2" stop-color="#0005ff"/><stop offset="0.25" stop-color="#0007ff"/><stop offset="0.45" stop-color="#0007ff"/></linearGradient>
<linearGradient id="o3_49" gradientUnits="userSpaceOnUse" x1="0" x2="0" y1="577.3" y2="341.0"><stop offset="0.025" stop-color="#0012ff"/><stop offset="0.05" stop-color="#000dff"/><stop offset="0.075" stop-color="#0008ff"/><stop offset="0.1" stop-color="#0004ff"/><stop offset="0.15" stop-color="#0008ff"/><stop offset="0.2" stop-color="#000dff"/><stop offset="0.25" stop-color="#0012ff"/><stop offset="0.45" stop-color="#0012ff"/></linearGradient>
<linearGradient id="o3_50" gradientUnits="userSpaceOnUse" x1="0" x2="0" y1="577.3" y2="341.0"><stop offset="0.025" stop-color="#00deff"/><stop offset="0.05" stop-color="#00d4ff"/><stop offset="0.075" stop-color="#00cbff"/><stop offset="0.1" stop-color="#00c1ff"/><stop offset="0.15" stop-color="#00a4ff"/><stop offset="0.25" stop-color="#00a4ff"/></linearGradient>
<linearGradient id="o3_51" gradientUnits="userSpaceOnUse" x1="0" x2="0" y1="577.3" y2="341.0"><stop offset="0.025" stop-color="#fffb00"/><stop offset="0.05" stop-color="#ff8700"/><stop offset="0.075" stop-color="#ff1200"/><stop offset="0.07891" stop-color="#ff0000"/><stop offset="0.1" stop-color="#9d0000"/><stop offset="0.15" stop-color="#800000"/><stop offset="0.25" stop-color="#800000"/></linearGradient>
<linearGradient id="g3_26" gradientUnits="userSpaceOnUse" x1="0" x2="0" y1="577.3" y2="341.0"><stop offset="0.025" stop-color="#fff600"/><stop offset="0.05" stop-color="#ff8200"/><stop offset="0.075" stop-color="#ff0d00"/><stop offset="0.07799" stop-color="#ff0000"/><stop offset="0.1" stop-color="#9d0000"/><stop offset="0.15" stop-color="#800000"/><stop offset="0.25" stop-color="#800000"/></linearGradient>
<linearGradient id="g3_27" gradientUnits="userSpaceOnUse" x1="0" x2="0" y1="577.3" y2="341.0"><stop offset="0.025" stop-color="#fff000"/><stop offset="0.05" stop-color="#ff7b00"/><stop offset="0.075" stop-color="#ff0700"/><stop offset="0.07663" stop-color="#ff0000"/><stop offset="0.1" stop-color="#9d0000"/><stop offset="0.15" stop-color="#800000"/><stop offset="0.25" stop-color="#800000"/></linearGradient>
<linearGradient id="g3_28" gradientUnits="userSpaceOnUse" x1="0" x2="0" y1="577.3" y2="341.0"><stop offset="0.025" stop-color="#ffea00"/><stop offset="0.05" stop-color="#ff7500"/><stop offset="0.075" stop-color="#ff0000"/><stop offset="0.0751" stop-color="#ff0000"/><stop offset="0.1" stop-color="#9d0000"/><stop offset="0.15" stop-color="#800000"/><stop offset="0.25" stop-color="#800000"/></linearGradient>
<linearGradient id="g3_29" gradientUnits="userSpaceOnUse" x1="0" x2="0" y1="577.3" y2="341.0"><stop offset="0.025" stop-color="#ffe300"/><stop offset="0.05" stop-color="#ff6f00"/><stop offset="0.0737" stop-color="#ff0000"/><stop offset="0.075" stop-color="#f90000"/><stop offset="0.1" stop-color="#9d0000"/><stop offset="0.15" stop-color="#800000"/><stop offset="0.25" stop-color="#800000"/></linearGradient>
<linearGradient id="g3_30" gradientUnits="userSpaceOnUse" x1="0" x2="0" y1="577.3" y2="341.0"><stop offset="0.025" stop-color="#ffed00"/><stop offset="0.05" stop-color="#ff7800"/><stop offset="0.075" stop-color="#ff0d00"/><stop offset="0.07904" stop-color="#ff0000"/><stop offset="0.1" stop-color="#ba0000"/><stop offset="0.15" stop-color="#800000"/><stop offset="0.25" stop-color="#800000"/></linearGradient>
<linearGradient id="g3_31" gradientUnits="userSpaceOnUse" x1="0" x2="0" y1="577.3" y2="341.0"><stop offset="0.025" stop-color="#d7ff28"/><stop offset="0.03359" stop-color="#ffff00"/><stop offset="0.05" stop-color="#ffb300"/><stop offset="0.075" stop-color="#ff6f00"/><stop offset="0.1" stop-color="#ff2f00"/><stop offset="0.1375" stop-color="#ff0000"/><stop offset="0.15" stop-color="#ef0000"/><stop offset="0.2" stop-color="#d70000"/><stop offset="0.35" stop-color="#d70000"/></linearGradient>
<linearGradient id="g3_32" gradientUnits="userSpaceOnUse" x1="0" x2="0" y1="577.3" y2="341.0"><stop offset="0.025" stop-color="#80ff80"/><stop offset="0.05" stop-color="#f4ff0b"/><stop offset="0.05469" stop-color="#ffff00"/><stop offset="0.075" stop-color="#ffd000"/><stop offset="0.1" stop-color="#ff9500"/><stop offset="0.15" stop-color="#ff5400"/><stop offset="0.2" stop-color="#ff3a00"/><stop offset="0.25" stop-color="#ff2f00"/><stop offset="0.45" stop-color="#ff2f00"/></linearGradient>
<linearGradient id="g3_33" gradientUnits="userSpaceOnUse" x1="0" x2="0" y1="577.3" y2="341.0"><stop offset="0.025" stop-color="#28ffd7"/><stop offset="0.05" stop-color="#99ff66"/><stop offset="0.075" stop-color="#d3ff2c"/><stop offset="0.09375" stop-color="#ffff00"/><stop offset="0.1" stop-color="#fff000"/><stop offset="0.15" stop-color="#ffa800"/><stop offset="0.2" stop-color="#ff9200"/><stop offset="0.25" stop-color="#ff7c00"/><stop offset="0.45" stop-color="#ff7800"/></linearGradient>
<linearGradient id="g3_34" gradientUnits="userSpaceOnUse" x1="0" x2="0" y1="577.3" y2="341.0"><stop offset="0.025" stop-color="#00edff"/><stop offset="0.02963" stop-color="#00ffff"/><stop offset="0.05" stop-color="#50ffaf"/><stop offset="0.075" stop-color="#8aff75"/><stop offset="0.1" stop-color="#c5ff3a"/><stop offset="0.14" stop-color="#ffff00"/><stop offset="0.15" stop-color="#fff000"/><stop offset="0.2" stop-color="#ffdb00"/><stop offset="0.25" stop-color="#ffc500"/><stop offset="0.35" stop-color="#ffb900"/><stop offset="0.6" stop-color="#ffb300"/></linearGradient>
<linearGradient id="g3_35" gradientUnits="userSpaceOnUse" x1="0" x2="0" y1="577.3" y2="341.0"><stop offset="0.025" stop-color="#00bbff"/><stop offset="0.04437" stop-color="#00ffff"/><stop offset="0.05" stop-color="#14ffeb"/><stop offset="0.075" stop-color="#4effb1"/><stop offset="0.1" stop-color="#88ff77"/><stop offset="0.15" stop-color="#d0ff2f"/><stop offset="0.2" stop-color="#e6ff19"/><stop offset="0.25" stop-color="#fdff02"/><stop offset="0.2625" stop-color="#ffff00"/><stop offset="0.35" stop-color="#fff000"/><stop offset="0.6" stop-color="#ffe700"/></linearGradient>
<linearGradient id="g3_36" gradientUnits="userSpaceOnUse" x1="0" x2="0" y1="577.3" y2="341.0"><stop offset="0.025" stop-color="#00a4ff"/><stop offset="0.05" stop-color="#00fbff"/><stop offset="0.05156" stop-color="#00ffff"/><stop offset="0.075" stop-color="#37ffc8"/><stop offset="0.1" stop-color="#71ff8e"/><stop offset="0.15" stop-color="#b3ff4c"/><stop offset="0.2" stop-color="#ccff33"/><stop offset="0.25" stop-color="#e5ff1a"/><stop offset="0.35" stop-color="#efff10"/><stop offset="0.6" stop-color="#f4ff0b"/></linearGradient>
<linearGradient id="g3_37" gradientUnits="userSpaceOnUse" x1="0" x2="0" y1="577.3" y2="341.0"><stop offset="0.025" stop-color="#008dff"/><stop offset="0.05" stop-color="#00e4ff"/><stop offset="0.06156" stop-color="#00ffff"/><stop offset="0.075" stop-color="#1fffe0"/><stop offset="0.1" stop-color="#5affa5"/><stop offset="0.15" stop-color="#95ff6a"/><stop offset="0.2" stop-color="#b2ff4d"/><stop offset="0.25" stop-color="#ceff31"/><stop offset="0.35" stop-color="#d0ff2f"/><stop offset="0.6" stop-color="#d1ff2e"/></linearGradient>
<linearGradient id="g3_38" gradientUnits="userSpaceOnUse" x1="0" x2="0" y1="577.3" y2="341.0"><stop offset="0.025" stop-color="#007eff"/><stop offset="0.05" stop-color="#00d5ff"/><stop offset="0.06851" stop-color="#00ffff"/><stop offset="0.075" stop-color="#0ffff0"/><stop offset="0.1" stop-color="#47ffb8"/><stop offset="0.15" stop-color="#81ff7e"/><stop offset="0.2" stop-color="#9aff65"/><stop offset="0.25" stop-color="#b3ff4c"/><stop offset="0.45" stop-color="#b3ff4c"/></linearGradient>
<linearGradient id="g3_39" gradientUnits="userSpaceOnUse" x1="0" x2="0" y1="577.3" y2="341.0"><stop offset="0.025" stop-color="#0072ff"/><stop offset="0.05" stop-color="#00caff"/><stop offset="0.075" stop-color="#00ffff"/><stop offset="0.1" stop-color="#35ffca"/><stop offset="0.15" stop-color="#6fff90"/><stop offset="0.2" stop-color="#82ff7d"/><stop offset="0.25" stop-color="#95ff6a"/><stop offset="0.35" stop-color="#95ff6a"/><stop offset="0.6" stop-color="#95ff6a"/></linearGradient>
<linearGradient id="g3_40" gradientUnits="userSpaceOnUse" x1="0" x2="0" y1="577.3" y2="341.0"><stop offset="0.025" stop-color="#006aff"/><stop offset="0.05" stop-color="#00c0ff"/><stop offset="0.075" stop-color="#00f3ff"/><stop offset="0.08107" stop-color="#00ffff"/><stop offset="0.1" stop-color="#27ffd8"/><stop offset="0.15" stop-color="#61ff9e"/><stop offset="0.2" stop-color="#6fff90"/><stop offset="0.25" stop-color="#7eff81"/><stop offset="0.35" stop-color="#7eff81"/><stop offset="0.45" stop-color="#7eff81"/><stop offset="0.8" stop-color="#87ff78"/></linearGradient>
<linearGradient id="g3_41" gradientUnits="userSpaceOnUse" x1="0" x2="0" y1="577.3" y2="341.0"><stop offset="0.025" stop-color="#006aff"/><stop offset="0.05" stop-color="#00baff"/><stop offset="0.075" stop-color="#00edff"/><stop offset="0.08393" stop-color="#00ffff"/><stop offset="0.1" stop-color="#21ffde"/><stop offset="0.15" stop-color="#5bffa4"/><stop offset="0.2" stop-color="#6aff95"/><stop offset="0.25" stop-color="#78ff87"/><stop offset="0.35" stop-color="#78ff87"/><stop offset="0.45" stop-color="#78ff87"/><stop offset="0.8" stop-color="#a4ff5b"/></linearGradient>
<linearGradient id="g3_42" gradientUnits="userSpaceOnUse" x1="0" x2="0" y1="577.3" y2="341.0"><stop offset="0.025" stop-color="#006aff"/><stop offset="0.05" stop-color="#00b4ff"/><stop offset="0.075" stop-color="#00e7ff"/><stop offset="0.08679" stop-color="#00ffff"/><stop offset="0.1" stop-color="#1bffe4"/><stop offset="0.15" stop-color="#55ffaa"/><stop offset="0.2" stop-color="#64ff9b"/><stop offset="0.25" stop-color="#72ff8d"/><stop offset="0.35" stop-color="#72ff8d"/><stop offset="0.45" stop-color="#72ff8d"/><stop offset="0.6" stop-color="#a2ff5d"/><stop offset="1" stop-color="#c1ff3e"/></linearGradient>
<linearGradient id="g3_43" gradientUnits="userSpaceOnUse" x1="0" x2="0" y1="577.3" y2="341.0"><stop offset="0.025" stop-color="#0064ff"/><stop offset="0.05" stop-color="#00adff"/><stop offset="0.075" stop-color="#00e0ff"/><stop offset="0.09018" stop-color="#00ffff"/><stop offset="0.1" stop-color="#14ffeb"/><stop offset="0.15" stop-color="#4effb1"/><stop offset="0.2" stop-color="#5dffa2"/><stop offset="0.25" stop-color="#6bff94"/><stop offset="0.35" stop-color="#6bff94"/><stop offset="0.45" stop-color="#6bff94"/><stop offset="0.6" stop-color="#8cff73"/><stop offset="1" stop-color="#a2ff5d"/></linearGradient>
<linearGradient id="g3_44" gradientUnits="userSpaceOnUse" x1="0" x2="0" y1="577.3" y2="341.0"><stop offset="0.025" stop-color="#005dff"/><stop offset="0.05" stop-color="#00a6ff"/><stop offset="0.075" stop-color="#00d9ff"/><stop offset="0.09375" stop-color="#00ffff"/><stop offset="0.1" stop-color="#0dfff2"/><stop offset="0.15" stop-color="#47ffb8"/><stop offset="0.2" stop-color="#56ffa9"/><stop offset="0.25" stop-color="#64ff9b"/><stop offset="0.35" stop-color="#64ff9b"/><stop offset="0.45" stop-color="#64ff9b"/><stop offset="0.6" stop-color="#6bff94"/><stop offset="1" stop-color="#6fff90"/></linearGradient>
<linearGradient id="g3_45" gradientUnits="userSpaceOnUse" x1="0" x2="0" y1="577.3" y2="341.0"><stop offset="0.025" stop-color="#0031ff"/><stop offset="0.05" stop-color="#006bff"/><stop offset="0.075" stop-color="#0089ff"/><stop offset="0.1" stop-color="#00a7ff"/><stop offset="0.15" stop-color="#00d1ff"/><stop offset="0.2" stop-color="#00d9ff"/><stop offset="0.25" stop-color="#00e0ff"/><stop offset="0.35" stop-color="#00f0ff"/><stop offset="0.4491" stop-color="#00ffff"/><stop offset="0.45" stop-color="#00ffff"/><stop offset="0.6" stop-color="#16ffe9"/><stop offset="1" stop-color="#1cffe3"/></linearGradient>
<linearGradient id="g3_46" gradientUnits="userSpaceOnUse" x1="0" x2="0" y1="577.3" y2="341.0"><stop offset="0.025" stop-color="#0037ff"/><stop offset="0.05" stop-color="#0071ff"/><stop offset="0.075" stop-color="#0092ff"/><stop offset="0.1" stop-color="#00b2ff"/><stop offset="0.15" stop-color="#00d7ff"/><stop offset="0.2" stop-color="#00e0ff"/><stop offset="0.25" stop-color="#00e8ff"/><stop offset="0.35" stop-color="#00fbff"/><stop offset="0.3692" stop-color="#00ffff"/><stop offset="0.45" stop-color="#0ffff0"/><stop offset="0.8" stop-color="#28ffd7"/></linearGradient>
<linearGradient id="g3_47" gradientUnits="userSpaceOnUse" x1="0" x2="0" y1="577.3" y2="341.0"><stop offset="0.025" stop-color="#003cff"/><stop offset="0.05" stop-color="#0077ff"/><stop offset="0.075" stop-color="#009aff"/><stop offset="0.1" stop-color="#00beff"/><stop offset="0.15" stop-color="#00ddff"/><stop offset="0.2" stop-color="#00e7ff"/><stop offset="0.25" stop-color="#00f1ff"/><stop offset="0.3143" stop-color="#00ffff"/><stop offset="0.35" stop-color="#08fff7"/><stop offset="0.45" stop-color="#1effe1"/><stop offset="0.6" stop-color="#32ffcd"/><stop offset="1" stop-color="#34ffcb"/></linearGradient>
<linearGradient id="g3_48" gradientUnits="userSpaceOnUse" x1="0" x2="0" y1="577.3" y2="341.0"><stop offset="0.025" stop-color="#0040ff"/><stop offset="0.05" stop-color="#007aff"/><stop offset="0.075" stop-color="#009eff"/><stop offset="0.1" stop-color="#00c3ff"/><stop offset="0.15" stop-color="#00e0ff"/><stop offset="0.2" stop-color="#00eaff"/><stop offset="0.25" stop-color="#00f4ff"/><stop offset="0.298" stop-color="#00ffff"/><stop offset="0.35" stop-color="#0cfff3"/><stop offset="0.45" stop-color="#22ffdd"/><stop offset="0.6" stop-color="#35ffca"/><stop offset="1" stop-color="#31ffce"/></linearGradient>
<linearGradient id="g3_49" gradientUnits="userSpaceOnUse" x1="0" x2="0" y1="577.3" y2="341.0"><stop offset="0.025" stop-color="#0042ff"/><stop offset="0.05" stop-color="#007cff"/><stop offset="0.075" stop-color="#00a1ff"/><stop offset="0.1" stop-color="#00c5ff"/><stop offset="0.15" stop-color="#00e2ff"/><stop offset="0.2" stop-color="#00ecff"/><stop offset="0.25" stop-color="#00f7ff"/><stop offset="0.2904" stop-color="#00ffff"/><stop offset="0.35" stop-color="#0cfff3"/><stop offset="0.45" stop-color="#21ffde"/><stop offset="0.6" stop-color="#33ffcc"/><stop offset="0.8" stop-color="#2cffd3"/><stop offset="1" stop-color="#29ffd6"/></linearGradient>
<linearGradient id="g3_50" gradientUnits="userSpaceOnUse" x1="0" x2="0" y1="577.3" y2="341.0"><stop offset="0.025" stop-color="#0044ff"/><stop offset="0.05" stop-color="#007eff"/><stop offset="0.075" stop-color="#00a3ff"/><stop offset="0.1" stop-color="#00c7ff"/><stop offset="0.15" stop-color="#00e4ff"/><stop offset="0.2" stop-color="#00efff"/><stop offset="0.25" stop-color="#00f9ff"/><stop offset="0.2817" stop-color="#00ffff"/><stop offset="0.35" stop-color="#0dfff2"/><stop offset="0.45" stop-color="#21ffde"/><stop offset="0.6" stop-color="#32ffcd"/><stop offset="1" stop-color="#22ffdd"/></linearGradient>
<linearGradient id="g3_51" gradientUnits="userSpaceOnUse" x1="0" x2="0" y1="577.3" y2="341.0"><stop offset="0.025" stop-color="#0046ff"/><stop offset="0.05" stop-color="#0081ff"/><stop offset="0.075" stop-color="#00a5ff"/><stop offset="0.1" stop-color="#00c9ff"/><stop offset="0.15" stop-color="#00e7ff"/><stop offset="0.2" stop-color="#00f1ff"/><stop offset="0.25" stop-color="#00fbff"/><stop offset="0.2718" stop-color="#00ffff"/><stop offset="0.35" stop-color="#0efff1"/><stop offset="0.45" stop-color="#21ffde"/><stop offset="0.6" stop-color="#30ffcf"/><stop offset="1" stop-color="#1affe5"/></linearGradient>
<linearGradient id="g3_52" gradientUnits="userSpaceOnUse" x1="0" x2="0" y1="577.3" y2="341.0"><stop offset="0.025" stop-color="#0049ff"/><stop offset="0.05" stop-color="#0083ff"/><stop offset="0.075" stop-color="#00a7ff"/><stop offset="0.1" stop-color="#00ccff"/><stop offset="0.15" stop-color="#00e9ff"/><stop offset="0.2" stop-color="#00f3ff"/><stop offset="0.25" stop-color="#00fdff"/><stop offset="0.2603" stop-color="#00ffff"/><stop offset="0.35" stop-color="#0ffff0"/><stop offset="0.45" stop-color="#20ffdf"/><stop offset="0.6" stop-color="#2fffd0"/><stop offset="1" stop-color="#12ffed"/></linearGradient>
<linearGradient id="g3_53" gradientUnits="userSpaceOnUse" x1="0" x2="0" y1="577.3" y2="341.0"><stop offset="0.025" stop-color="#004bff"/><stop offset="0.05" stop-color="#0085ff"/><stop offset="0.075" stop-color="#00aaff"/><stop offset="0.1" stop-color="#00ceff"/><stop offset="0.15" stop-color="#00ebff"/><stop offset="0.2" stop-color="#00f5ff"/><stop offset="0.2475" stop-color="#00ffff"/><stop offset="0.25" stop-color="#01fffe"/><stop offset="0.35" stop-color="#10ffef"/><stop offset="0.45" stop-color="#20ffdf"/><stop offset="0.6" stop-color="#2effd1"/><stop offset="0.8" stop-color="#14ffeb"/><stop offset="1" stop-color="#0bfff4"/></linearGradient>
<linearGradient id="g3_54" gradientUnits="userSpaceOnUse" x1="0" x2="0" y1="577.3" y2="341.0"><stop offset="0.025" stop-color="#004cff"/><stop offset="0.05" stop-color="#0088ff"/><stop offset="0.075" stop-color="#00adff"/><stop offset="0.1" stop-color="#00d2ff"/><stop offset="0.15" stop-color="#00f0ff"/><stop offset="0.2" stop-color="#00fcff"/><stop offset="0.2152" stop-color="#00ffff"/><stop offset="0.25" stop-color="#08fff7"/><stop offset="0.35" stop-color="#15ffea"/><stop offset="0.45" stop-color="#22ffdd"/><stop offset="0.6" stop-color="#2dffd2"/><stop offset="0.8" stop-color="#12ffed"/><stop offset="1" stop-color="#08fff7"/></linearGradient>
<linearGradient id="g3_55" gradientUnits="userSpaceOnUse" x1="0" x2="0" y1="577.3" y2="341.0"><stop offset="0.025" stop-color="#004dff"/><stop offset="0.05" stop-color="#008dff"/><stop offset="0.075" stop-color="#00b4ff"/><stop offset="0.1" stop-color="#00dcff"/><stop offset="0.15" stop-color="#00ffff"/><stop offset="0.2" stop-color="#0ffff0"/><stop offset="0.25" stop-color="#1effe1"/><stop offset="0.35" stop-color="#27ffd8"/><stop offset="0.45" stop-color="#2fffd0"/><stop offset="0.6" stop-color="#2effd1"/><stop offset="1" stop-color="#14ffeb"/></linearGradient>
<linearGradient id="g3_56" gradientUnits="userSpaceOnUse" x1="0" x2="0" y1="577.3" y2="341.0"><stop offset="0.025" stop-color="#004dff"/><stop offset="0.05" stop-color="#0092ff"/><stop offset="0.075" stop-color="#00bcff"/><stop offset="0.1" stop-color="#00e5ff"/><stop offset="0.1318" stop-color="#00ffff"/><stop offset="0.15" stop-color="#0ffff0"/><stop offset="0.2" stop-color="#22ffdd"/><stop offset="0.25" stop-color="#34ffcb"/><stop offset="0.35" stop-color="#38ffc7"/><stop offset="0.45" stop-color="#3cffc3"/><stop offset="0.6" stop-color="#2fffd0"/><stop offset="1" stop-color="#1fffe0"/></linearGradient>
<linearGradient id="g3_57" gradientUnits="userSpaceOnUse" x1="0" x2="0" y1="577.3" y2="341.0"><stop offset="0.025" stop-color="#004dff"/><stop offset="0.05" stop-color="#0095ff"/><stop offset="0.075" stop-color="#00c1ff"/><stop offset="0.1" stop-color="#00edff"/><stop offset="0.1198" stop-color="#00ffff"/><stop offset="0.15" stop-color="#1bffe4"/><stop offset="0.2" stop-color="#31ffce"/><stop offset="0.25" stop-color="#47ffb8"/><stop offset="0.35" stop-color="#46ffb9"/><stop offset="0.45" stop-color="#46ffb9"/><stop offset="0.8" stop-color="#28ffd7"/></linearGradient>
<linearGradient id="g3_58" gradientUnits="userSpaceOnUse" x1="0" x2="0" y1="577.3" y2="341.0"><stop offset="0.025" stop-color="#004dff"/><stop offset="0.05" stop-color="#0095ff"/><stop offset="0.075" stop-color="#00c3ff"/><stop offset="0.1" stop-color="#00f0ff"/><stop offset="0.1158" stop-color="#00ffff"/><stop offset="0.15" stop-color="#20ffdf"/><stop offset="0.2" stop-color="#36ffc9"/><stop offset="0.25" stop-color="#4cffb3"/><stop offset="0.35" stop-color="#4affb5"/><stop offset="0.45" stop-color="#49ffb6"/><stop offset="0.8" stop-color="#28ffd7"/></linearGradient>
<linearGradient id="g3_59" gradientUnits="userSpaceOnUse" x1="0" x2="0" y1="577.3" y2="341.0"><stop offset="0.025" stop-color="#004dff"/><stop offset="0.05" stop-color="#0095ff"/><stop offset="0.075" stop-color="#00c4ff"/><stop offset="0.1" stop-color="#00f3ff"/><stop offset="0.1123" stop-color="#00ffff"/><stop offset="0.15" stop-color="#25ffda"/><stop offset="0.2" stop-color="#3bffc4"/><stop offset="0.25" stop-color="#51ffae"/><stop offset="0.35" stop-color="#4effb1"/><stop offset="0.45" stop-color="#4bffb4"/><stop offset="0.6" stop-color="#31ffce"/><stop offset="1" stop-color="#28ffd7"/></linearGradient>
<linearGradient id="g3_60" gradientUnits="userSpaceOnUse" x1="0" x2="0" y1="577.3" y2="341.0"><stop offset="0.025" stop-color="#004dff"/><stop offset="0.05" stop-color="#0095ff"/><stop offset="0.075" stop-color="#00c5ff"/><stop offset="0.1" stop-color="#00f5ff"/><stop offset="0.1092" stop-color="#00ffff"/><stop offset="0.15" stop-color="#2bffd4"/><stop offset="0.2" stop-color="#41ffbe"/><stop offset="0.25" stop-color="#56ffa9"/><stop offset="0.35" stop-color="#52ffad"/><stop offset="0.45" stop-color="#4effb1"/><stop offset="0.6" stop-color="#32ffcd"/><stop offset="1" stop-color="#28ffd7"/></linearGradient>
<linearGradient id="g3_61" gradientUnits="userSpaceOnUse" x1="0" x2="0" y1="577.3" y2="341.0"><stop offset="0.025" stop-color="#004dff"/><stop offset="0.05" stop-color="#0095ff"/><stop offset="0.075" stop-color="#00c7ff"/><stop offset="0.1" stop-color="#00f8ff"/><stop offset="0.1063" stop-color="#00ffff"/><stop offset="0.15" stop-color="#30ffcf"/><stop offset="0.2" stop-color="#46ffb9"/><stop offset="0.25" stop-color="#5cffa3"/><stop offset="0.35" stop-color="#56ffa9"/><stop offset="0.45" stop-color="#50ffaf"/><stop offset="0.6" stop-color="#32ffcd"/><stop offset="1" stop-color="#28ffd7"/></linearGradient>
<linearGradient id="g3_62" gradientUnits="userSpaceOnUse" x1="0" x2="0" y1="577.3" y2="341.0"><stop offset="0.025" stop-color="#004dff"/><stop offset="0.05" stop-color="#0095ff"/><stop offset="0.075" stop-color="#00c8ff"/><stop offset="0.1" stop-color="#00fbff"/><stop offset="0.1037" stop-color="#00ffff"/><stop offset="0.15" stop-color="#35ffca"/><stop offset="0.2" stop-color="#4bffb4"/><stop offset="0.25" stop-color="#61ff9e"/><stop offset="0.35" stop-color="#5affa5"/><stop offset="0.45" stop-color="#53ffac"/><stop offset="0.6" stop-color="#33ffcc"/><stop offset="1" stop-color="#28ffd7"/></linearGradient>
<linearGradient id="g3_63" gradientUnits="userSpaceOnUse" x1="0" x2="0" y1="577.3" y2="341.0"><stop offset="0.025" stop-color="#004cff"/><stop offset="0.05" stop-color="#0095ff"/><stop offset="0.075" stop-color="#00c8ff"/><stop offset="0.1" stop-color="#00fbff"/><stop offset="0.1032" stop-color="#00ffff"/><stop offset="0.15" stop-color="#35ffca"/><stop offset="0.2" stop-color="#4bffb4"/><stop offset="0.25" stop-color="#60ff9f"/><stop offset="0.35" stop-color="#59ffa6"/><stop offset="0.45" stop-color="#53ffac"/><stop offset="0.8" stop-color="#29ffd6"/></linearGradient>
<linearGradient id="g3_64" gradientUnits="userSpaceOnUse" x1="0" x2="0" y1="577.3" y2="341.0"><stop offset="0.025" stop-color="#004dff"/><stop offset="0.05" stop-color="#0095ff"/><stop offset="0.075" stop-color="#00c8ff"/><stop offset="0.1" stop-color="#00fbff"/><stop offset="0.1033" stop-color="#00ffff"/><stop offset="0.15" stop-color="#34ffcb"/><stop offset="0.2" stop-color="#48ffb7"/><stop offset="0.25" stop-color="#5dffa2"/><stop offset="0.35" stop-color="#57ffa8"/><stop offset="0.45" stop-color="#51ffae"/><stop offset="0.8" stop-color="#2bffd4"/></linearGradient>
<linearGradient id="g3_65" gradientUnits="userSpaceOnUse" x1="0" x2="0" y1="577.3" y2="341.0"><stop offset="0.025" stop-color="#004dff"/><stop offset="0.05" stop-color="#0095ff"/><stop offset="0.075" stop-color="#00c8ff"/><stop offset="0.1" stop-color="#00fbff"/><stop offset="0.1034" stop-color="#00ffff"/><stop offset="0.15" stop-color="#32ffcd"/><stop offset="0.2" stop-color="#46ffb9"/><stop offset="0.25" stop-color="#59ffa6"/><stop offset="0.35" stop-color="#54ffab"/><stop offset="0.45" stop-color="#4fffb0"/><stop offset="0.8" stop-color="#2dffd2"/></linearGradient>
<linearGradient id="g3_66" gradientUnits="userSpaceOnUse" x1="0" x2="0" y1="577.3" y2="341.0"><stop offset="0.025" stop-color="#004dff"/><stop offset="0.05" stop-color="#0095ff"/><stop offset="0.075" stop-color="#00c8ff"/><stop offset="0.1" stop-color="#00fbff"/><stop offset="0.1035" stop-color="#00ffff"/><stop offset="0.15" stop-color="#31ffce"/><stop offset="0.2" stop-color="#43ffbc"/><stop offset="0.25" stop-color="#56ffa9"/><stop offset="0.35" stop-color="#52ffad"/><stop offset="0.45" stop-color="#4effb1"/><stop offset="0.6" stop-color="#36ffc9"/><stop offset="1" stop-color="#2effd1"/></linearGradient>
<linearGradient id="g3_67" gradientUnits="userSpaceOnUse" x1="0" x2="0" y1="577.3" y2="341.0"><stop offset="0.025" stop-color="#004dff"/><stop offset="0.05" stop-color="#0095ff"/><stop offset="0.075" stop-color="#00c8ff"/><stop offset="0.1" stop-color="#00fbff"/><stop offset="0.1036" stop-color="#00ffff"/><stop offset="0.15" stop-color="#2fffd0"/><stop offset="0.2" stop-color="#41ffbe"/><stop offset="0.25" stop-color="#53ffac"/><stop offset="0.35" stop-color="#50ffaf"/><stop offset="0.45" stop-color="#4cffb3"/><stop offset="0.8" stop-color="#30ffcf"/></linearGradient>
<linearGradient id="g3_68" gradientUnits="userSpaceOnUse" x1="0" x2="0" y1="577.3" y2="341.0"><stop offset="0.025" stop-color="#004dff"/><stop offset="0.05" stop-color="#0095ff"/><stop offset="0.075" stop-color="#00c8ff"/><stop offset="0.1" stop-color="#00fbff"/><stop offset="0.1037" stop-color="#00ffff"/><stop offset="0.15" stop-color="#2dffd2"/><stop offset="0.2" stop-color="#3fffc0"/><stop offset="0.25" stop-color="#50ffaf"/><stop offset="0.35" stop-color="#4dffb2"/><stop offset="0.45" stop-color="#4affb5"/><stop offset="0.8" stop-color="#31ffce"/></linearGradient>
<linearGradient id="g3_69" gradientUnits="userSpaceOnUse" x1="0" x2="0" y1="577.3" y2="341.0"><stop offset="0.025" stop-color="#004dff"/><stop offset="0.05" stop-color="#0095ff"/><stop offset="0.075" stop-color="#00c8ff"/><stop offset="0.1" stop-color="#00fbff"/><stop offset="0.1038" stop-color="#00ffff"/><stop offset="0.15" stop-color="#2cffd3"/><stop offset="0.2" stop-color="#3cffc3"/><stop offset="0.25" stop-color="#4dffb2"/><stop offset="0.35" stop-color="#4bffb4"/><stop offset="0.45" stop-color="#49ffb6"/><stop offset="0.6" stop-color="#38ffc7"/><stop offset="1" stop-color="#33ffcc"/></linearGradient>
<linearGradient id="g3_70" gradientUnits="userSpaceOnUse" x1="0" x2="0" y1="577.3" y2="341.0"><stop offset="0.025" stop-color="#004dff"/><stop offset="0.05" stop-color="#0095ff"/><stop offset="0.075" stop-color="#00c8ff"/><stop offset="0.1" stop-color="#00fbff"/><stop offset="0.104" stop-color="#00ffff"/><stop offset="0.15" stop-color="#2affd5"/><stop offset="0.2" stop-color="#3affc5"/><stop offset="0.25" stop-color="#49ffb6"/><stop offset="0.35" stop-color="#48ffb7"/><stop offset="0.45" stop-color="#47ffb8"/><stop offset="0.6" stop-color="#39ffc6"/><stop offset="1" stop-color="#35ffca"/></linearGradient>
<linearGradient id="g3_71" gradientUnits="userSpaceOnUse" x1="0" x2="0" y1="577.3" y2="341.0"><stop offset="0.025" stop-color="#004dff"/><stop offset="0.05" stop-color="#0095ff"/><stop offset="0.075" stop-color="#00c8ff"/><stop offset="0.1" stop-color="#00fbff"/><stop offset="0.1041" stop-color="#00ffff"/><stop offset="0.15" stop-color="#28ffd7"/><stop offset="0.2" stop-color="#37ffc8"/><stop offset="0.25" stop-color="#46ffb9"/><stop offset="0.35" stop-color="#46ffb9"/><stop offset="0.45" stop-color="#46ffb9"/><stop offset="0.6" stop-color="#3affc5"/><stop offset="1" stop-color="#36ffc9"/></linearGradient>
<clipPath id="clip3"><rect x="616.3" y="341.0" width="417.0" height="236.3"/></clipPath>
<clipPath id="clipf3"><rect x="616.3" y="341.0" width="417.0" height="232.2"/></clipPath>
</defs>
<rect width="1105" height="624" fill="#fff"/>
<path d="M127.4 49.3V285.6M179.6 49.3V285.6M231.7 49.3V285.6M283.8 49.3V285.6M335.9 49.3V285.6M388.1 49.3V285.6M440.2 49.3V285.6M75.3 108.4H492.3M75.3 167.4H492.3M75.3 226.5H492.3" stroke="#e9e9e9" stroke-width="0.8" fill="none"/>
<g shape-rendering="crispEdges"><rect x="78.05" y="204.1" width="3.20" height="76.2" fill="url(#g0_0)"/><rect x="80.94" y="206.3" width="3.20" height="74.0" fill="url(#g0_1)"/><rect x="83.84" y="203.4" width="3.20" height="76.9" fill="url(#g0_1)"/><rect x="86.73" y="218.6" width="3.20" height="61.7" fill="url(#g0_2)"/><rect x="89.63" y="218.6" width="3.20" height="61.7" fill="url(#g0_2)"/><rect x="92.52" y="221.6" width="3.20" height="58.7" fill="url(#g0_3)"/><rect x="95.42" y="221.6" width="3.20" height="58.7" fill="url(#g0_3)"/><rect x="98.32" y="222.4" width="3.20" height="57.9" fill="url(#g0_4)"/><rect x="101.21" y="222.4" width="3.20" height="57.9" fill="url(#g0_4)"/><rect x="104.11" y="188.4" width="3.20" height="91.9" fill="url(#g0_5)"/><rect x="107.00" y="202.9" width="3.20" height="77.4" fill="url(#g0_5)"/><rect x="109.90" y="172.2" width="3.20" height="108.1" fill="url(#g0_6)"/><rect x="109.90" y="160.4" width="3.20" height="8.3" fill="url(#g0_6)"/><rect x="112.80" y="191.7" width="3.20" height="88.6" fill="url(#g0_6)"/><rect x="115.69" y="228.7" width="3.20" height="51.6" fill="url(#g0_7)"/><rect x="118.59" y="234.3" width="3.20" height="46.0" fill="url(#g0_7)"/><rect x="121.48" y="242.1" width="3.20" height="38.2" fill="url(#g0_8)"/><rect x="124.38" y="248.9" width="3.20" height="31.4" fill="url(#g0_8)"/><rect x="127.27" y="248.9" width="3.20" height="31.4" fill="url(#g0_9)"/><rect x="130.17" y="252.3" width="3.20" height="28.0" fill="url(#g0_9)"/><rect x="133.07" y="252.3" width="3.20" height="28.0" fill="url(#g0_10)"/><rect x="135.96" y="234.3" width="3.20" height="46.0" fill="url(#g0_10)"/><rect x="138.86" y="218.6" width="3.20" height="61.7" fill="url(#g0_11)"/><rect x="141.75" y="227.6" width="3.20" height="52.7" fill="url(#g0_11)"/><rect x="144.65" y="248.9" width="3.20" height="31.4" fill="url(#o0_24)"/><rect x="147.55" y="257.8" width="3.20" height="22.4" fill="url(#o0_25)"/><rect x="150.44" y="250.0" width="3.20" height="30.2" fill="url(#o0_26)"/><rect x="153.34" y="218.6" width="3.20" height="61.7" fill="url(#o0_27)"/><rect x="156.23" y="221.9" width="3.20" height="58.4" fill="url(#g0_14)"/><rect x="159.13" y="257.8" width="3.20" height="22.4" fill="url(#g0_14)"/><rect x="162.03" y="262.3" width="3.20" height="18.0" fill="url(#g0_15)"/><rect x="164.92" y="236.6" width="3.20" height="43.7" fill="url(#g0_15)"/><rect x="167.82" y="227.6" width="3.20" height="52.7" fill="url(#g0_16)"/><rect x="170.71" y="252.3" width="3.20" height="28.0" fill="url(#g0_16)"/><rect x="173.61" y="254.5" width="3.20" height="25.8" fill="url(#g0_17)"/><rect x="176.50" y="255.6" width="3.20" height="24.7" fill="url(#g0_17)"/><rect x="182.30" y="259.0" width="3.20" height="21.3" fill="url(#g0_18)"/><rect x="185.19" y="259.0" width="3.20" height="21.3" fill="url(#g0_19)"/><rect x="188.09" y="259.0" width="3.20" height="21.3" fill="url(#g0_19)"/><rect x="190.98" y="259.0" width="3.20" height="21.3" fill="url(#g0_20)"/><rect x="193.88" y="256.8" width="3.20" height="23.5" fill="url(#g0_20)"/><rect x="196.78" y="255.1" width="3.20" height="25.2" fill="url(#g0_21)"/><rect x="199.67" y="255.1" width="3.20" height="25.2" fill="url(#g0_21)"/><rect x="202.57" y="255.1" width="3.20" height="25.2" fill="url(#g0_22)"/><rect x="205.46" y="259.0" width="3.20" height="21.3" fill="url(#g0_22)"/><rect x="208.36" y="259.0" width="3.20" height="21.3" fill="url(#g0_23)"/><rect x="211.25" y="252.3" width="3.20" height="28.0" fill="url(#g0_23)"/><rect x="214.15" y="252.3" width="3.20" height="28.0" fill="url(#g0_24)"/><rect x="217.05" y="252.3" width="3.20" height="28.0" fill="url(#g0_24)"/><rect x="219.94" y="248.9" width="3.20" height="31.4" fill="url(#g0_25)"/><rect x="222.84" y="255.1" width="3.20" height="25.2" fill="url(#g0_25)"/><rect x="225.73" y="255.1" width="3.20" height="25.2" fill="url(#g0_26)"/><rect x="228.63" y="255.1" width="3.20" height="25.2" fill="url(#g0_26)"/><rect x="231.53" y="255.1" width="3.20" height="25.2" fill="url(#g0_27)"/><rect x="234.42" y="252.3" width="3.20" height="28.0" fill="url(#g0_27)"/><rect x="237.32" y="252.3" width="3.20" height="28.0" fill="url(#g0_28)"/><rect x="240.21" y="257.8" width="3.20" height="22.4" fill="url(#g0_28)"/><rect x="243.11" y="259.0" width="3.20" height="21.3" fill="url(#g0_29)"/><rect x="246.00" y="250.0" width="3.20" height="30.2" fill="url(#g0_29)"/><rect x="248.90" y="254.5" width="3.20" height="25.8" fill="url(#g0_30)"/><rect x="251.80" y="251.1" width="3.20" height="29.2" fill="url(#g0_30)"/><rect x="254.69" y="251.1" width="3.20" height="29.2" fill="url(#g0_31)"/><rect x="257.59" y="239.9" width="3.20" height="40.4" fill="url(#g0_31)"/><rect x="260.48" y="219.7" width="3.20" height="60.6" fill="url(#g0_32)"/><rect x="263.38" y="204.1" width="3.20" height="76.2" fill="url(#g0_32)"/><rect x="266.28" y="204.1" width="3.20" height="76.2" fill="url(#g0_33)"/><rect x="266.28" y="142.6" width="3.20" height="4.7" fill="url(#g0_33)"/><rect x="269.17" y="235.4" width="3.20" height="44.9" fill="url(#g0_33)"/><rect x="269.17" y="157.1" width="3.20" height="47.0" fill="url(#g0_33)"/><rect x="272.07" y="157.1" width="3.20" height="123.2" fill="url(#g0_34)"/><rect x="274.96" y="148.0" width="3.20" height="132.3" fill="url(#g0_34)"/><rect x="277.86" y="148.0" width="3.20" height="132.3" fill="url(#g0_35)"/><rect x="280.75" y="142.3" width="3.20" height="138.0" fill="url(#g0_35)"/><rect x="283.65" y="142.3" width="3.20" height="138.0" fill="url(#g0_36)"/><rect x="286.55" y="136.3" width="3.20" height="144.0" fill="url(#g0_36)"/><rect x="289.44" y="136.3" width="3.20" height="144.0" fill="url(#g0_37)"/><rect x="289.44" y="98.3" width="3.20" height="3.0" fill="url(#g0_37)"/><rect x="292.34" y="149.7" width="3.20" height="130.6" fill="url(#g0_37)"/><rect x="292.34" y="64.7" width="3.20" height="9.5" fill="url(#g0_37)"/><rect x="295.23" y="136.3" width="3.20" height="144.0" fill="url(#g0_38)"/><rect x="298.13" y="150.2" width="3.20" height="130.1" fill="url(#g0_38)"/><rect x="301.03" y="117.7" width="3.20" height="162.6" fill="url(#g0_39)"/><rect x="301.03" y="74.7" width="3.20" height="3.0" fill="url(#g0_39)"/><rect x="303.92" y="126.7" width="3.20" height="153.6" fill="url(#g0_39)"/><rect x="306.82" y="126.7" width="3.20" height="153.6" fill="url(#g0_40)"/><rect x="309.71" y="150.2" width="3.20" height="130.1" fill="url(#g0_40)"/><rect x="312.61" y="172.6" width="3.20" height="107.6" fill="url(#g0_41)"/><rect x="315.50" y="172.6" width="3.20" height="107.6" fill="url(#g0_41)"/><rect x="318.40" y="160.2" width="3.20" height="120.0" fill="url(#g0_42)"/><rect x="321.30" y="160.2" width="3.20" height="120.0" fill="url(#g0_42)"/><rect x="324.19" y="148.0" width="3.20" height="132.3" fill="url(#g0_43)"/><rect x="327.09" y="148.0" width="3.20" height="132.3" fill="url(#g0_43)"/><rect x="329.98" y="145.6" width="3.20" height="134.7" fill="url(#g0_44)"/><rect x="332.88" y="142.3" width="3.20" height="138.0" fill="url(#g0_44)"/><rect x="335.78" y="142.3" width="3.20" height="138.0" fill="url(#g0_45)"/><rect x="338.67" y="136.7" width="3.20" height="143.6" fill="url(#g0_45)"/><rect x="341.57" y="140.3" width="3.20" height="140.0" fill="url(#g0_46)"/><rect x="344.46" y="133.2" width="3.20" height="147.1" fill="url(#g0_46)"/><rect x="344.46" y="128.5" width="3.20" height="2.4" fill="url(#g0_46)"/><rect x="347.36" y="133.2" width="3.20" height="147.1" fill="url(#g0_47)"/><rect x="350.25" y="142.3" width="3.20" height="138.0" fill="url(#g0_47)"/><rect x="353.15" y="142.3" width="3.20" height="138.0" fill="url(#g0_48)"/><rect x="356.05" y="148.5" width="3.20" height="131.7" fill="url(#g0_48)"/><rect x="358.94" y="148.5" width="3.20" height="131.7" fill="url(#g0_49)"/><rect x="361.84" y="157.1" width="3.20" height="123.2" fill="url(#g0_49)"/><rect x="364.73" y="157.1" width="3.20" height="123.2" fill="url(#g0_50)"/><rect x="367.63" y="157.1" width="3.20" height="123.2" fill="url(#g0_50)"/><rect x="370.53" y="219.4" width="3.20" height="60.8" fill="url(#g0_51)"/><rect x="370.53" y="148.1" width="3.20" height="64.3" fill="url(#g0_51)"/><rect x="373.42" y="235.1" width="3.20" height="45.1" fill="url(#g0_51)"/><rect x="376.32" y="237.5" width="3.20" height="42.8" fill="url(#g0_52)"/><rect x="379.21" y="211.6" width="3.20" height="68.6" fill="url(#g0_52)"/><rect x="382.11" y="197.1" width="3.20" height="83.2" fill="url(#g0_53)"/><rect x="385.00" y="180.0" width="3.20" height="100.3" fill="url(#g0_53)"/><rect x="387.90" y="180.0" width="3.20" height="100.3" fill="url(#g0_54)"/><rect x="390.80" y="182.2" width="3.20" height="98.1" fill="url(#g0_54)"/><rect x="393.69" y="175.0" width="3.20" height="105.3" fill="url(#g0_55)"/><rect x="396.59" y="172.2" width="3.20" height="108.1" fill="url(#g0_55)"/><rect x="399.48" y="163.2" width="3.20" height="117.1" fill="url(#g0_56)"/><rect x="402.38" y="157.5" width="3.20" height="122.8" fill="url(#g0_56)"/><rect x="405.28" y="166.5" width="3.20" height="113.8" fill="url(#g0_57)"/><rect x="408.17" y="173.2" width="3.20" height="107.0" fill="url(#g0_57)"/><rect x="411.07" y="199.4" width="3.20" height="80.9" fill="url(#g0_58)"/><rect x="413.96" y="218.4" width="3.20" height="61.9" fill="url(#g0_58)"/><rect x="416.86" y="180.3" width="3.20" height="100.0" fill="url(#g0_59)"/><rect x="419.75" y="173.2" width="3.20" height="107.0" fill="url(#g0_59)"/><rect x="422.65" y="173.2" width="3.20" height="107.0" fill="url(#g0_60)"/><rect x="425.55" y="173.2" width="3.20" height="107.0" fill="url(#g0_60)"/><rect x="428.44" y="189.9" width="3.20" height="90.4" fill="url(#g0_61)"/><rect x="431.34" y="215.1" width="3.20" height="65.2" fill="url(#g0_61)"/><rect x="434.23" y="222.9" width="3.20" height="57.4" fill="url(#g0_62)"/><rect x="437.13" y="212.8" width="3.20" height="67.5" fill="url(#g0_62)"/><rect x="440.03" y="226.3" width="3.20" height="54.0" fill="url(#g0_63)"/><rect x="442.92" y="206.1" width="3.20" height="74.2" fill="url(#g0_63)"/><rect x="445.82" y="206.1" width="3.20" height="74.2" fill="url(#g0_64)"/><rect x="448.71" y="233.0" width="3.20" height="47.3" fill="url(#g0_64)"/><rect x="451.61" y="226.3" width="3.20" height="54.0" fill="url(#g0_65)"/><rect x="454.50" y="203.8" width="3.20" height="76.4" fill="url(#g0_65)"/><rect x="457.40" y="230.8" width="3.20" height="49.5" fill="url(#g0_66)"/><rect x="460.30" y="172.4" width="3.20" height="107.9" fill="url(#g0_66)"/><rect x="463.19" y="191.6" width="3.20" height="88.7" fill="url(#g0_67)"/><rect x="466.09" y="203.8" width="3.20" height="76.4" fill="url(#g0_67)"/><rect x="468.98" y="203.8" width="3.20" height="76.4" fill="url(#g0_68)"/><rect x="468.98" y="192.3" width="3.20" height="4.7" fill="url(#g0_68)"/><rect x="468.98" y="181.6" width="3.20" height="8.3" fill="url(#g0_68)"/><rect x="471.88" y="203.8" width="3.20" height="76.4" fill="url(#g0_68)"/><rect x="474.78" y="219.6" width="3.20" height="60.7" fill="url(#g0_69)"/><rect x="477.67" y="218.4" width="3.20" height="61.9" fill="url(#g0_69)"/><rect x="480.57" y="187.1" width="3.20" height="93.2" fill="url(#g0_70)"/><rect x="483.46" y="191.6" width="3.20" height="88.7" fill="url(#g0_70)"/><rect x="486.36" y="126.8" width="3.20" height="153.5" fill="url(#g0_71)"/><rect x="489.25" y="142.3" width="3.20" height="138.0" fill="url(#g0_71)"/></g>
<path clip-path="url(#clip0)" d="M79.2 279.7L84.5 267.3M79.2 267.4L84.5 254.9M79.2 255.0L84.5 242.6M79.2 242.7L84.5 230.3M79.2 230.4L84.5 218.0M79.2 218.1L84.5 205.7M79.2 205.8L84.5 193.3M90.8 279.7L96.2 267.3M90.8 267.4L96.2 255.0M90.8 255.0L96.2 242.7M90.8 242.7L96.2 230.3M90.8 230.4L96.2 218.0M90.8 218.1L96.2 205.7M102.4 279.7L107.8 267.3M102.4 267.4L107.8 255.0M102.4 255.0L107.8 242.7M102.4 242.7L107.8 230.4M102.4 230.4L107.8 218.0M114.0 279.7L119.5 267.4M114.0 267.4L119.5 255.0M114.0 255.0L119.5 242.7M114.0 242.7L119.5 230.4M114.0 230.4L119.5 218.1M114.0 218.1L119.5 205.7M114.0 205.8L119.5 193.4M114.0 193.4L119.5 181.1M125.5 279.7L131.1 267.4M125.5 267.4L131.1 255.1M125.5 255.0L131.1 242.7M137.1 279.7L142.7 267.4M137.1 267.4L142.7 255.1M137.1 255.0L142.7 242.8M137.1 242.7L142.7 230.5M148.7 279.7L154.4 267.4M148.7 267.4L154.4 255.1M160.3 279.7L173.8 279.7M160.3 267.4L173.8 267.4M171.9 279.7L182.2 288.4M171.9 267.4L182.2 276.0M171.9 255.0L182.2 263.7M183.5 279.7L188.1 292.4M183.5 267.4L188.1 280.1M195.0 279.7L199.5 292.4M195.0 267.4L199.5 280.1M206.6 279.7L210.9 292.5M206.6 267.4L210.9 280.2M218.2 279.7L222.2 292.6M218.2 267.4L222.2 280.3M218.2 255.0L222.2 267.9M229.8 279.7L233.6 292.6M229.8 267.4L233.6 280.3M229.8 255.0L233.6 268.0M241.4 279.7L245.0 292.7M241.4 267.4L245.0 280.4M253.0 279.7L256.3 292.8M253.0 267.4L256.3 280.5M253.0 255.0L256.3 268.1M264.5 279.7L267.2 292.9M264.5 267.4L267.2 280.6M264.5 255.0L267.2 268.3M264.5 242.7L267.2 256.0M264.5 230.4L267.2 243.6M264.5 218.1L267.2 231.3M264.5 205.8L267.2 219.0M276.1 279.7L278.2 293.0M276.1 267.4L278.2 280.7M276.1 255.0L278.2 268.4M276.1 242.7L278.2 256.1M276.1 230.4L278.2 243.7M276.1 218.1L278.2 231.4M276.1 205.8L278.2 219.1M276.1 193.4L278.2 206.8M276.1 181.1L278.2 194.5M276.1 168.8L278.2 182.1M276.1 156.5L278.2 169.8M287.7 279.7L289.8 293.0M287.7 267.4L289.8 280.7M287.7 255.0L289.8 268.4M287.7 242.7L289.8 256.1M287.7 230.4L289.8 243.7M287.7 218.1L289.8 231.4M287.7 205.8L289.8 219.1M287.7 193.4L289.8 206.8M287.7 181.1L289.8 194.4M287.7 168.8L289.8 182.1M287.7 156.5L289.8 169.8M287.7 144.1L289.8 157.5M299.3 279.7L301.6 293.0M299.3 267.4L301.6 280.7M299.3 255.0L301.6 268.3M299.3 242.7L301.6 256.0M299.3 230.4L301.6 243.7M299.3 218.1L301.6 231.4M299.3 205.8L301.6 219.1M299.3 193.4L301.6 206.7M299.3 181.1L301.6 194.4M299.3 168.8L301.6 182.1M299.3 156.5L301.6 169.8M310.9 279.7L313.5 292.9M310.9 267.4L313.5 280.6M310.9 255.0L313.5 268.3M310.9 242.7L313.5 256.0M310.9 230.4L313.5 243.6M310.9 218.1L313.5 231.3M310.9 205.8L313.5 219.0M310.9 193.4L313.5 206.7M310.9 181.1L313.5 194.4M310.9 168.8L313.5 182.0M310.9 156.5L313.5 169.7M322.5 279.7L325.3 292.9M322.5 267.4L325.3 280.6M322.5 255.0L325.3 268.2M322.5 242.7L325.3 255.9M322.5 230.4L325.3 243.6M322.5 218.1L325.3 231.3M322.5 205.8L325.3 218.9M322.5 193.4L325.3 206.6M322.5 181.1L325.3 194.3M322.5 168.8L325.3 182.0M334.0 279.7L337.2 292.8M334.0 267.4L337.2 280.5M334.0 255.0L337.2 268.2M334.0 242.7L337.2 255.9M334.0 230.4L337.2 243.5M334.0 218.1L337.2 231.2M334.0 205.8L337.2 218.9M334.0 193.4L337.2 206.6M334.0 181.1L337.2 194.2M334.0 168.8L337.2 181.9M334.0 156.5L337.2 169.6M334.0 144.1L337.2 157.3M345.6 279.7L349.0 292.8M345.6 267.4L349.0 280.4M345.6 255.0L349.0 268.1M345.6 242.7L349.0 255.8M345.6 230.4L349.0 243.5M345.6 218.1L349.0 231.2M345.6 205.8L349.0 218.8M345.6 193.4L349.0 206.5M345.6 181.1L349.0 194.2M345.6 168.8L349.0 181.9M345.6 156.5L349.0 169.5M345.6 144.1L349.0 157.2M345.6 131.8L349.0 144.9M357.2 279.7L361.4 292.5M357.2 267.4L361.3 280.2M357.2 255.0L361.1 268.0M357.2 242.7L361.0 255.7M357.2 230.4L360.9 243.4M357.2 218.1L360.9 231.1M357.2 205.8L360.9 218.7M357.2 193.4L360.9 206.4M357.2 181.1L360.9 194.1M357.2 168.8L360.9 181.8M357.2 156.5L360.9 169.4M368.8 279.7L374.3 292.0M368.8 267.4L373.9 279.8M368.8 255.0L373.6 267.7M368.8 242.7L373.3 255.5M368.8 230.4L373.0 243.2M368.8 218.1L373.0 230.9M368.8 205.8L373.0 218.6M368.8 193.4L373.0 206.3M368.8 181.1L373.0 193.9M368.8 168.8L373.0 181.6M368.8 156.5L373.0 169.3M380.4 279.7L387.1 291.4M380.4 267.4L386.6 279.4M380.4 255.0L386.0 267.3M380.4 242.7L385.5 255.2M380.4 230.4L385.0 243.1M380.4 218.1L385.0 230.8M392.0 279.7L398.9 291.3M392.0 267.4L398.3 279.3M392.0 255.0L397.7 267.2M392.0 242.7L397.2 255.2M392.0 230.4L396.7 243.1M392.0 218.1L396.7 230.7M392.0 205.8L396.7 218.4M392.0 193.4L396.7 206.1M392.0 181.1L396.7 193.8M403.5 279.7L410.6 291.2M403.5 267.4L410.0 279.2M403.5 255.0L409.4 267.2M403.5 242.7L408.9 255.1M403.5 230.4L408.3 243.0M403.5 218.1L408.3 230.7M403.5 205.8L408.3 218.4M403.5 193.4L408.3 206.0M403.5 181.1L408.3 193.7M403.5 168.8L408.3 181.4M403.5 156.5L408.3 169.1M415.1 279.7L422.3 291.1M415.1 267.4L421.7 279.1M415.1 255.0L421.2 267.1M415.1 242.7L420.5 255.1M415.1 230.4L420.0 243.0M415.1 218.1L420.0 230.7M426.7 279.7L434.1 291.0M426.7 267.4L433.5 279.1M426.7 255.0L432.9 267.1M426.7 242.7L432.2 255.0M426.7 230.4L431.7 242.9M426.7 218.1L431.7 230.6M426.7 205.8L431.7 218.3M426.7 193.4L431.7 206.0M426.7 181.1L431.7 193.7M438.3 279.7L445.8 290.9M438.3 267.4L445.2 279.0M438.3 255.0L444.6 267.0M438.3 242.7L443.9 255.0M438.3 230.4L443.4 242.9M438.3 218.1L443.4 230.6M449.9 279.7L457.5 290.8M449.9 267.4L456.9 278.9M449.9 255.0L456.3 266.9M449.9 242.7L455.6 254.9M461.5 279.7L469.2 290.7M461.5 267.4L468.6 278.8M461.5 255.0L468.0 266.9M461.5 242.7L467.3 254.9M461.5 230.4L466.7 242.8M461.5 218.1L466.7 230.5M461.5 205.8L466.7 218.2M461.5 193.4L466.7 205.9M461.5 181.1L466.7 193.5M473.0 279.7L481.0 290.6M473.0 267.4L480.3 278.7M473.0 255.0L479.7 266.8M473.0 242.7L479.0 254.8M473.0 230.4L478.4 242.8M473.0 218.1L478.4 230.5M473.0 205.8L478.4 218.1M484.6 279.7L492.7 290.5M484.6 267.4L492.0 278.7M484.6 255.0L491.4 266.7M484.6 242.7L490.7 254.8M484.6 230.4L490.1 242.8M484.6 218.1L490.1 230.4M484.6 205.8L490.1 218.1M484.6 193.4L490.1 205.8" fill="none" stroke="#1c1c1c" stroke-opacity="0.88" stroke-width="0.95"/><path clip-path="url(#clipf0)" d="M84.5 267.3l4.6 0.7M83.8 268.9l4.6 0.7M83.1 270.5l4.6 0.7M82.4 272.1l4.6 0.7M84.5 254.9L88.0 258.2L83.2 257.9M82.9 258.6l2.3 0.4M84.5 242.6L88.0 245.8L83.2 245.6M82.9 246.3l4.6 0.7M84.5 230.3L88.0 233.5L83.2 233.2M82.9 234.0l4.6 0.7M82.2 235.6l2.3 0.4M84.5 218.0L88.0 221.2L83.2 220.9M82.9 221.7l4.6 0.7M82.2 223.3l2.3 0.4M84.5 205.7L88.0 208.9L83.2 208.6M82.9 209.3l4.6 0.7M82.2 210.9l2.3 0.4M84.5 193.3L88.0 196.6L83.2 196.3M82.9 197.0l4.6 0.7M82.2 198.6l4.6 0.7M96.2 267.3l4.6 0.8M95.5 268.9l4.6 0.8M94.8 270.5l4.6 0.8M94.1 272.1l4.6 0.8M96.2 255.0L99.6 258.2L94.9 257.9M94.6 258.6l2.3 0.4M96.2 242.7L99.6 245.9L94.9 245.6M94.6 246.3l4.6 0.8M93.9 247.9l2.3 0.4M96.2 230.3L99.6 233.6L94.9 233.3M94.6 234.0l4.6 0.8M93.9 235.6l2.3 0.4M96.2 218.0L99.6 221.2L94.9 220.9M94.6 221.7l4.6 0.8M93.9 223.3l4.6 0.8M96.2 205.7L99.6 208.9L94.9 208.6M94.6 209.4l4.6 0.8M93.9 211.0l4.6 0.8M107.8 267.3l4.6 0.8M107.1 268.9l4.6 0.8M106.4 270.5l4.6 0.8M105.7 272.1l4.6 0.8M107.8 255.0L111.2 258.3L106.5 257.9M106.2 258.7l4.6 0.8M107.8 242.7L111.2 245.9L106.5 245.6M106.2 246.3l4.6 0.8M105.5 247.9l4.6 0.8M107.8 230.4L111.2 233.6L106.5 233.3M106.2 234.0l4.6 0.8M105.5 235.6l4.6 0.8M104.8 237.2l2.3 0.4M107.8 218.0L111.2 221.3L106.5 221.0M106.2 221.7l4.6 0.8M105.5 223.3l4.6 0.8M104.8 224.9l4.6 0.8M119.5 267.4l4.6 0.8M118.7 269.0l4.6 0.8M118.0 270.6l4.6 0.8M117.3 272.2l4.6 0.8M119.5 255.0L122.9 258.3L118.1 258.0M117.8 258.7l4.6 0.8M119.5 242.7L122.9 246.0L118.1 245.6M117.8 246.4l4.6 0.8M117.1 248.0l4.6 0.8M119.5 230.4L122.9 233.7L118.1 233.3M117.8 234.0l4.6 0.8M117.1 235.6l4.6 0.8M116.4 237.2l4.6 0.8M119.5 218.1L122.9 221.3L118.1 221.0M117.8 221.7l4.6 0.8M117.1 223.3l4.6 0.8M116.4 224.9l4.6 0.8M115.7 226.5l4.6 0.8M119.5 205.7L122.9 209.0L118.1 208.7M117.8 209.4l4.6 0.8M117.1 211.0l4.6 0.8M116.4 212.6l4.6 0.8M115.7 214.2l4.6 0.8M119.5 193.4L122.9 196.7L118.1 196.3M117.8 197.1l4.6 0.8M117.1 198.7l4.6 0.8M116.4 200.3l4.6 0.8M115.7 201.9l4.6 0.8M119.5 181.1L122.9 184.4L118.1 184.0M117.8 184.8l4.6 0.8M117.1 186.4l4.6 0.8M116.4 187.9l4.6 0.8M115.7 189.5l4.6 0.8M131.1 267.4L134.5 270.7L129.8 270.3M131.1 255.1L134.5 258.4L129.8 258.0M129.5 258.7l4.6 0.8M128.7 260.3l4.6 0.8M131.1 242.7L134.5 246.0L129.8 245.7M129.5 246.4l4.6 0.8M128.7 248.0l4.6 0.8M128.0 249.6l2.3 0.4M142.7 267.4L146.1 270.7L141.4 270.3M141.1 271.1l4.6 0.9M140.4 272.6l4.6 0.9M142.7 255.1L146.1 258.4L141.4 258.0M141.1 258.7l4.6 0.9M140.4 260.3l4.6 0.9M139.6 261.9l4.6 0.9M138.9 263.5l4.6 0.9M142.7 242.8L146.1 246.1L141.4 245.7M141.1 246.4l4.6 0.9M140.4 248.0l4.6 0.9M139.6 249.6l4.6 0.9M138.9 251.2l4.6 0.9M142.7 230.5L146.1 233.8L141.4 233.4M141.1 234.1l4.6 0.9M140.4 235.7l4.6 0.9M139.6 237.3l4.6 0.9M138.9 238.9l4.6 0.9M154.4 267.4L157.8 270.8L153.0 270.4M154.4 255.1L157.8 258.5L153.0 258.0M152.7 258.8l2.3 0.4M173.8 279.7l1.1 4.6M172.0 279.7l1.1 4.6M170.3 279.7l0.6 2.3M173.8 267.4l1.1 4.6M172.0 267.4l1.1 4.6M170.3 267.4l1.1 4.6M182.2 288.4l-2.1 4.2M180.9 287.2l-2.1 4.2M182.2 276.0l-2.1 4.2M180.9 274.9l-2.1 4.2M182.2 263.7l-2.1 4.2M180.9 262.6l-2.1 4.2M188.1 292.4l-3.9 2.6M187.5 290.7l-3.9 2.6M186.9 289.1l-3.9 2.6M186.3 287.4l-3.9 2.6M188.1 280.1L183.3 280.1L187.0 277.0M186.7 276.3l-3.9 2.6M186.1 274.7l-1.9 1.3M199.5 292.4l-3.9 2.6M198.9 290.8l-3.9 2.6M198.3 289.1l-3.9 2.6M197.7 287.5l-3.9 2.6M199.5 280.1L194.7 280.1L198.4 277.1M198.2 276.3l-3.9 2.6M197.6 274.7l-2.0 1.3M210.9 292.5l-4.0 2.5M210.3 290.9l-4.0 2.5M209.8 289.2l-4.0 2.5M209.2 287.5l-4.0 2.5M210.9 280.2L206.1 280.1L209.9 277.2M209.6 276.4l-4.0 2.5M209.1 274.7l-2.0 1.2M222.2 292.6l-4.0 2.4M221.7 290.9l-4.0 2.4M221.2 289.2l-4.0 2.4M220.7 287.6l-4.0 2.4M222.2 280.3L217.5 280.1L221.3 277.2M221.0 276.4l-4.0 2.4M220.5 274.8l-2.0 1.2M222.2 267.9L217.5 267.7L221.3 264.9M221.0 264.1l-4.0 2.4M220.5 262.4l-4.0 2.4M220.0 260.8l-2.0 1.2M233.6 292.6l-4.0 2.4M233.1 291.0l-4.0 2.4M232.6 289.3l-4.0 2.4M232.1 287.6l-4.0 2.4M233.6 280.3L228.9 280.0L232.7 277.2M232.5 276.5l-4.0 2.4M233.6 268.0L228.9 267.7L232.7 264.9M232.5 264.2l-4.0 2.4M232.0 262.5l-4.0 2.4M245.0 292.7l-4.1 2.3M244.5 291.0l-4.1 2.3M244.1 289.3l-4.1 2.3M243.6 287.6l-2.0 1.2M245.0 280.4L240.3 280.0L244.2 277.3M243.9 276.5l-2.0 1.2M256.3 292.8l-4.1 2.2M255.9 291.1l-4.1 2.2M255.4 289.4l-4.1 2.2M255.0 287.7l-2.1 1.1M256.3 280.5l-4.1 2.2M255.9 278.8l-4.1 2.2M255.4 277.1l-4.1 2.2M255.0 275.4l-4.1 2.2M254.6 273.7l-2.1 1.1M256.3 268.1L251.6 267.7L255.5 265.0M267.2 292.9l-4.2 2.0M266.9 291.2l-4.2 2.0M266.5 289.5l-4.2 2.0M267.2 280.6l-4.2 2.0M266.9 278.9l-4.2 2.0M266.5 277.2l-4.2 2.0M266.2 275.5l-4.2 2.0M267.2 268.3l-4.2 2.0M266.9 266.6l-4.2 2.0M266.5 264.8l-4.2 2.0M266.2 263.1l-4.2 2.0M265.8 261.4l-2.1 1.0M267.2 256.0L262.5 255.3L266.6 252.8M267.2 243.6L262.5 243.0L266.6 240.5M267.2 231.3L262.5 230.6L266.6 228.2M267.2 219.0L262.5 218.3L266.6 215.8M278.2 293.0l-4.3 1.8M277.9 291.3l-4.3 1.8M277.6 289.6l-4.3 1.8M278.2 280.7l-4.3 1.8M277.9 279.0l-4.3 1.8M277.6 277.3l-4.3 1.8M277.4 275.5l-2.2 0.9M278.2 268.4l-4.3 1.8M277.9 266.7l-4.3 1.8M277.6 264.9l-4.3 1.8M277.4 263.2l-4.3 1.8M277.1 261.5l-2.2 0.9M278.2 256.1l-4.3 1.8M277.9 254.3l-4.3 1.8M277.6 252.6l-4.3 1.8M277.4 250.9l-4.3 1.8M277.1 249.1l-2.2 0.9M278.2 243.7l-4.3 1.8M277.9 242.0l-4.3 1.8M277.6 240.3l-4.3 1.8M277.4 238.6l-4.3 1.8M277.1 236.8l-2.2 0.9M278.2 231.4L273.5 230.5L277.7 228.3M278.2 219.1L273.5 218.2L277.7 215.9M278.2 206.8L273.5 205.9L277.7 203.6M278.2 194.5L273.5 193.5L277.7 191.3M278.2 182.1L273.5 181.2L277.7 179.0M278.2 169.8L273.5 168.9L277.7 166.6M289.8 293.0l-4.3 1.8M289.5 291.3l-4.3 1.8M289.2 289.6l-2.2 0.9M289.8 280.7l-4.3 1.8M289.5 279.0l-4.3 1.8M289.2 277.3l-4.3 1.8M289.0 275.5l-2.2 0.9M289.8 268.4l-4.3 1.8M289.5 266.7l-4.3 1.8M289.2 264.9l-4.3 1.8M289.0 263.2l-4.3 1.8M289.8 256.1l-4.3 1.8M289.5 254.3l-4.3 1.8M289.2 252.6l-4.3 1.8M289.0 250.9l-4.3 1.8M288.7 249.1l-2.2 0.9M289.8 243.7l-4.3 1.8M289.5 242.0l-4.3 1.8M289.2 240.3l-4.3 1.8M289.0 238.6l-4.3 1.8M288.7 236.8l-2.2 0.9M289.8 231.4l-4.3 1.8M289.5 229.7l-4.3 1.8M289.2 228.0l-4.3 1.8M289.0 226.2l-4.3 1.8M288.7 224.5l-2.2 0.9M289.8 219.1L285.1 218.2L289.3 215.9M289.8 206.8L285.1 205.9L289.3 203.6M289.8 194.4L285.1 193.6L289.3 191.3M289.8 182.1L285.1 181.2L289.3 179.0M289.8 169.8L285.1 168.9L289.3 166.6M289.8 157.5L285.1 156.6L289.3 154.3M301.6 293.0l-4.3 1.9M301.3 291.3l-4.3 1.9M301.0 289.5l-2.1 0.9M301.6 280.7l-4.3 1.9M301.3 278.9l-4.3 1.9M301.0 277.2l-4.3 1.9M300.7 275.5l-2.1 0.9M301.6 268.3l-4.3 1.9M301.3 266.6l-4.3 1.9M301.0 264.9l-4.3 1.9M300.7 263.2l-4.3 1.9M301.6 256.0l-4.3 1.9M301.3 254.3l-4.3 1.9M301.0 252.6l-4.3 1.9M300.7 250.8l-4.3 1.9M300.4 249.1l-2.1 0.9M301.6 243.7l-4.3 1.9M301.3 242.0l-4.3 1.9M301.0 240.2l-4.3 1.9M300.7 238.5l-4.3 1.9M300.4 236.8l-2.1 0.9M301.6 231.4l-4.3 1.9M301.3 229.7l-4.3 1.9M301.0 227.9l-4.3 1.9M300.7 226.2l-4.3 1.9M300.4 224.5l-2.1 0.9M301.6 219.1l-4.3 1.9M301.3 217.3l-4.3 1.9M301.0 215.6l-4.3 1.9M300.7 213.9l-4.3 1.9M300.4 212.2l-2.1 0.9M301.6 206.7L297.0 205.9L301.1 203.6M301.6 194.4L297.0 193.6L301.1 191.3M301.6 182.1L297.0 181.3L301.1 178.9M301.6 169.8L297.0 169.0L301.1 166.6M313.5 292.9l-4.3 2.0M313.1 291.2l-4.3 2.0M312.8 289.5l-2.1 1.0M313.5 280.6l-4.3 2.0M313.1 278.9l-4.3 2.0M312.8 277.2l-4.3 2.0M312.5 275.5l-2.1 1.0M313.5 268.3l-4.3 2.0M313.1 266.6l-4.3 2.0M312.8 264.9l-4.3 2.0M312.5 263.1l-4.3 2.0M313.5 256.0l-4.3 2.0M313.1 254.3l-4.3 2.0M312.8 252.5l-4.3 2.0M312.5 250.8l-4.3 2.0M313.5 243.6l-4.3 2.0M313.1 241.9l-4.3 2.0M312.8 240.2l-4.3 2.0M312.5 238.5l-4.3 2.0M312.1 236.8l-2.1 1.0M313.5 231.3l-4.3 2.0M313.1 229.6l-4.3 2.0M312.8 227.9l-4.3 2.0M312.5 226.2l-4.3 2.0M312.1 224.5l-2.1 1.0M313.5 219.0l-4.3 2.0M313.1 217.3l-4.3 2.0M312.8 215.6l-4.3 2.0M312.5 213.9l-4.3 2.0M312.1 212.1l-2.1 1.0M313.5 206.7L308.8 206.0L312.9 203.5M313.5 194.4L308.8 193.6L312.9 191.2M313.5 182.0L308.8 181.3L312.9 178.9M313.5 169.7L308.8 169.0L312.9 166.6M325.3 292.9l-4.2 2.1M324.9 291.2l-4.2 2.1M324.6 289.5l-2.1 1.0M325.3 280.6l-4.2 2.1M324.9 278.9l-4.2 2.1M324.6 277.1l-4.2 2.1M324.2 275.4l-2.1 1.0M325.3 268.2l-4.2 2.1M324.9 266.5l-4.2 2.1M324.6 264.8l-4.2 2.1M324.2 263.1l-4.2 2.1M325.3 255.9l-4.2 2.1M324.9 254.2l-4.2 2.1M324.6 252.5l-4.2 2.1M324.2 250.8l-4.2 2.1M325.3 243.6l-4.2 2.1M324.9 241.9l-4.2 2.1M324.6 240.2l-4.2 2.1M324.2 238.5l-4.2 2.1M323.8 236.8l-2.1 1.0M325.3 231.3l-4.2 2.1M324.9 229.6l-4.2 2.1M324.6 227.9l-4.2 2.1M324.2 226.1l-4.2 2.1M323.8 224.4l-2.1 1.0M325.3 218.9l-4.2 2.1M324.9 217.2l-4.2 2.1M324.6 215.5l-4.2 2.1M324.2 213.8l-4.2 2.1M323.8 212.1l-2.1 1.0M325.3 206.6l-4.2 2.1M324.9 204.9l-4.2 2.1M324.6 203.2l-4.2 2.1M324.2 201.5l-4.2 2.1M323.8 199.8l-2.1 1.0M325.3 194.3L320.6 193.7L324.6 191.2M325.3 182.0L320.6 181.4L324.6 178.9M337.2 292.8l-4.2 2.1M336.7 291.1l-4.2 2.1M336.3 289.4l-2.1 1.1M337.2 280.5l-4.2 2.1M336.7 278.8l-4.2 2.1M336.3 277.1l-4.2 2.1M335.9 275.4l-2.1 1.1M337.2 268.2l-4.2 2.1M336.7 266.5l-4.2 2.1M336.3 264.8l-4.2 2.1M335.9 263.1l-4.2 2.1M337.2 255.9l-4.2 2.1M336.7 254.2l-4.2 2.1M336.3 252.5l-4.2 2.1M335.9 250.8l-4.2 2.1M337.2 243.5l-4.2 2.1M336.7 241.8l-4.2 2.1M336.3 240.1l-4.2 2.1M335.9 238.4l-4.2 2.1M335.5 236.7l-2.1 1.1M337.2 231.2l-4.2 2.1M336.7 229.5l-4.2 2.1M336.3 227.8l-4.2 2.1M335.9 226.1l-4.2 2.1M335.5 224.4l-2.1 1.1M337.2 218.9l-4.2 2.1M336.7 217.2l-4.2 2.1M336.3 215.5l-4.2 2.1M335.9 213.8l-4.2 2.1M335.5 212.1l-2.1 1.1M337.2 206.6l-4.2 2.1M336.7 204.9l-4.2 2.1M336.3 203.2l-4.2 2.1M335.9 201.5l-4.2 2.1M335.5 199.8l-2.1 1.1M337.2 194.2l-4.2 2.1M336.7 192.5l-4.2 2.1M336.3 190.8l-4.2 2.1M335.9 189.1l-4.2 2.1M335.5 187.4l-2.1 1.1M337.2 181.9l-4.2 2.1M336.7 180.2l-4.2 2.1M336.3 178.5l-4.2 2.1M335.9 176.8l-4.2 2.1M335.5 175.1l-2.1 1.1M337.2 169.6l-4.2 2.1M336.7 167.9l-4.2 2.1M336.3 166.2l-4.2 2.1M335.9 164.5l-4.2 2.1M335.5 162.8l-2.1 1.1M337.2 157.3l-4.2 2.1M336.7 155.6l-4.2 2.1M336.3 153.9l-4.2 2.1M335.9 152.2l-4.2 2.1M335.5 150.5l-2.1 1.1M349.0 292.8l-4.1 2.2M348.6 291.1l-4.1 2.2M348.1 289.4l-2.1 1.1M349.0 280.4l-4.1 2.2M348.6 278.7l-4.1 2.2M348.1 277.1l-4.1 2.2M349.0 268.1l-4.1 2.2M348.6 266.4l-4.1 2.2M348.1 264.7l-4.1 2.2M347.7 263.0l-4.1 2.2M349.0 255.8l-4.1 2.2M348.6 254.1l-4.1 2.2M348.1 252.4l-4.1 2.2M347.7 250.7l-4.1 2.2M349.0 243.5l-4.1 2.2M348.6 241.8l-4.1 2.2M348.1 240.1l-4.1 2.2M347.7 238.4l-4.1 2.2M347.2 236.7l-2.1 1.1M349.0 231.2l-4.1 2.2M348.6 229.5l-4.1 2.2M348.1 227.8l-4.1 2.2M347.7 226.1l-4.1 2.2M347.2 224.4l-2.1 1.1M349.0 218.8l-4.1 2.2M348.6 217.1l-4.1 2.2M348.1 215.4l-4.1 2.2M347.7 213.7l-4.1 2.2M347.2 212.0l-2.1 1.1M349.0 206.5l-4.1 2.2M348.6 204.8l-4.1 2.2M348.1 203.1l-4.1 2.2M347.7 201.4l-4.1 2.2M347.2 199.7l-2.1 1.1M349.0 194.2l-4.1 2.2M348.6 192.5l-4.1 2.2M348.1 190.8l-4.1 2.2M347.7 189.1l-4.1 2.2M347.2 187.4l-2.1 1.1M349.0 181.9l-4.1 2.2M348.6 180.2l-4.1 2.2M348.1 178.5l-4.1 2.2M347.7 176.8l-4.1 2.2M347.2 175.1l-2.1 1.1M349.0 169.5l-4.1 2.2M348.6 167.8l-4.1 2.2M348.1 166.1l-4.1 2.2M347.7 164.5l-4.1 2.2M347.2 162.8l-2.1 1.1M349.0 157.2l-4.1 2.2M348.6 155.5l-4.1 2.2M348.1 153.8l-4.1 2.2M347.7 152.1l-4.1 2.2M347.2 150.4l-2.1 1.1M349.0 144.9l-4.1 2.2M348.6 143.2l-4.1 2.2M348.1 141.5l-4.1 2.2M347.7 139.8l-4.1 2.2M347.2 138.1l-2.1 1.1M361.4 292.5l-4.0 2.5M360.8 290.9l-4.0 2.5M361.3 280.2l-4.0 2.4M360.7 278.6l-4.0 2.4M360.2 276.9l-4.0 2.4M361.1 268.0l-4.0 2.4M360.6 266.3l-4.0 2.4M360.1 264.6l-4.0 2.4M359.6 262.9l-2.0 1.2M361.0 255.7l-4.1 2.4M360.5 254.0l-4.1 2.4M360.0 252.3l-4.1 2.4M359.5 250.6l-4.1 2.4M360.9 243.4l-4.1 2.3M360.4 241.7l-4.1 2.3M360.0 240.0l-4.1 2.3M359.5 238.3l-4.1 2.3M359.0 236.6l-2.0 1.2M360.9 231.1l-4.1 2.3M360.4 229.4l-4.1 2.3M360.0 227.7l-4.1 2.3M359.5 226.0l-4.1 2.3M359.0 224.3l-2.0 1.2M360.9 218.7l-4.1 2.3M360.4 217.0l-4.1 2.3M360.0 215.4l-4.1 2.3M359.5 213.7l-4.1 2.3M359.0 212.0l-2.0 1.2M360.9 206.4l-4.1 2.3M360.4 204.7l-4.1 2.3M360.0 203.0l-4.1 2.3M359.5 201.4l-4.1 2.3M359.0 199.7l-2.0 1.2M360.9 194.1l-4.1 2.3M360.4 192.4l-4.1 2.3M360.0 190.7l-4.1 2.3M359.5 189.0l-4.1 2.3M359.0 187.4l-2.0 1.2M360.9 181.8l-4.1 2.3M360.4 180.1l-4.1 2.3M360.0 178.4l-4.1 2.3M359.5 176.7l-4.1 2.3M359.0 175.0l-2.0 1.2M360.9 169.4l-4.1 2.3M360.4 167.8l-4.1 2.3M360.0 166.1l-4.1 2.3M359.5 164.4l-4.1 2.3M359.0 162.7l-2.0 1.2M374.3 292.0l-3.7 2.9M373.6 290.4l-3.7 2.9M373.9 279.8l-3.8 2.8M373.3 278.2l-3.8 2.8M372.6 276.6l-3.8 2.8M373.6 267.7l-3.9 2.7M373.0 266.0l-3.9 2.7M372.4 264.4l-3.9 2.7M371.7 262.8l-1.9 1.3M373.3 255.5l-3.9 2.6M372.7 253.8l-3.9 2.6M372.1 252.2l-3.9 2.6M371.5 250.5l-3.9 2.6M373.0 243.2l-4.0 2.5M372.4 241.6l-4.0 2.5M371.9 239.9l-4.0 2.5M371.3 238.2l-4.0 2.5M370.8 236.6l-2.0 1.2M373.0 230.9l-4.0 2.5M372.4 229.3l-4.0 2.5M371.9 227.6l-4.0 2.5M371.3 225.9l-4.0 2.5M370.8 224.3l-2.0 1.2M373.0 218.6l-4.0 2.5M372.4 216.9l-4.0 2.5M371.9 215.3l-4.0 2.5M371.3 213.6l-4.0 2.5M370.8 211.9l-2.0 1.2M373.0 206.3l-4.0 2.5M372.4 204.6l-4.0 2.5M371.9 202.9l-4.0 2.5M371.3 201.3l-4.0 2.5M370.8 199.6l-2.0 1.2M373.0 193.9l-4.0 2.5M372.4 192.3l-4.0 2.5M371.9 190.6l-4.0 2.5M371.3 189.0l-4.0 2.5M370.8 187.3l-2.0 1.2M373.0 181.6l-4.0 2.5M372.4 180.0l-4.0 2.5M371.9 178.3l-4.0 2.5M371.3 176.6l-4.0 2.5M370.8 175.0l-2.0 1.2M373.0 169.3l-4.0 2.5M372.4 167.6l-4.0 2.5M371.9 166.0l-4.0 2.5M371.3 164.3l-4.0 2.5M387.1 291.4l-3.4 3.3M386.3 289.9l-3.4 3.3M386.6 279.4l-3.5 3.1M385.8 277.8l-3.5 3.1M385.0 276.2l-3.5 3.1M386.0 267.3l-3.7 2.9M385.3 265.7l-3.7 2.9M384.6 264.1l-3.7 2.9M383.8 262.5l-1.8 1.5M385.5 255.2l-3.8 2.8M384.8 253.6l-3.8 2.8M384.2 252.0l-3.8 2.8M383.5 250.4l-3.8 2.8M385.0 243.1l-3.9 2.6M384.4 241.4l-3.9 2.6M383.8 239.8l-3.9 2.6M383.2 238.2l-3.9 2.6M385.0 230.8l-3.9 2.6M384.4 229.1l-3.9 2.6M383.8 227.5l-3.9 2.6M383.2 225.8l-3.9 2.6M382.6 224.2l-1.9 1.3M398.9 291.3l-3.3 3.3M398.0 289.8l-3.3 3.3M398.3 279.3l-3.5 3.1M397.5 277.7l-3.5 3.1M396.7 276.2l-3.5 3.1M397.7 267.2l-3.6 3.0M397.0 265.7l-3.6 3.0M396.2 264.1l-3.6 3.0M395.5 262.5l-1.8 1.5M397.2 255.2l-3.8 2.8M396.5 253.6l-3.8 2.8M395.8 252.0l-3.8 2.8M395.1 250.3l-3.8 2.8M396.7 243.1l-3.9 2.6M396.1 241.4l-3.9 2.6M395.4 239.8l-3.9 2.6M394.8 238.1l-3.9 2.6M396.7 230.7l-3.9 2.6M396.1 229.1l-3.9 2.6M395.4 227.4l-3.9 2.6M394.8 225.8l-3.9 2.6M396.7 218.4l-3.9 2.6M396.1 216.8l-3.9 2.6M395.4 215.1l-3.9 2.6M394.8 213.5l-3.9 2.6M396.7 206.1l-3.9 2.6M396.1 204.4l-3.9 2.6M395.4 202.8l-3.9 2.6M394.8 201.2l-3.9 2.6M396.7 193.8l-3.9 2.6M396.1 192.1l-3.9 2.6M395.4 190.5l-3.9 2.6M394.8 188.8l-3.9 2.6M410.6 291.2l-3.3 3.3M409.7 289.7l-3.3 3.3M410.0 279.2l-3.5 3.2M409.2 277.7l-3.5 3.2M408.3 276.1l-3.5 3.2M409.4 267.2l-3.6 3.0M408.7 265.6l-3.6 3.0M407.9 264.0l-3.6 3.0M407.2 262.5l-1.8 1.5M408.9 255.1l-3.7 2.8M408.2 253.5l-3.7 2.8M407.5 251.9l-3.7 2.8M406.8 250.3l-3.7 2.8M408.3 243.0l-3.9 2.7M407.7 241.4l-3.9 2.7M407.1 239.7l-3.9 2.7M406.5 238.1l-3.9 2.7M408.3 230.7l-3.9 2.7M407.7 229.1l-3.9 2.7M407.1 227.4l-3.9 2.7M406.5 225.8l-3.9 2.7M408.3 218.4l-3.9 2.7M407.7 216.7l-3.9 2.7M407.1 215.1l-3.9 2.7M406.5 213.5l-3.9 2.7M408.3 206.0l-3.9 2.7M407.7 204.4l-3.9 2.7M407.1 202.8l-3.9 2.7M406.5 201.1l-3.9 2.7M408.3 193.7l-3.9 2.7M407.7 192.1l-3.9 2.7M407.1 190.5l-3.9 2.7M406.5 188.8l-3.9 2.7M408.3 181.4l-3.9 2.7M407.7 179.8l-3.9 2.7M407.1 178.1l-3.9 2.7M406.5 176.5l-3.9 2.7M408.3 169.1l-3.9 2.7M407.7 167.4l-3.9 2.7M407.1 165.8l-3.9 2.7M406.5 164.2l-3.9 2.7M422.3 291.1l-3.3 3.4M421.4 289.6l-3.3 3.4M421.7 279.1l-3.4 3.2M420.9 277.6l-3.4 3.2M420.0 276.1l-3.4 3.2M421.2 267.1l-3.6 3.0M420.4 265.6l-3.6 3.0M419.6 264.0l-3.6 3.0M418.8 262.4l-1.8 1.5M420.5 255.1l-3.7 2.9M419.8 253.5l-3.7 2.9M419.1 251.9l-3.7 2.9M418.4 250.3l-1.9 1.4M420.0 243.0l-3.8 2.7M419.4 241.4l-3.8 2.7M418.8 239.7l-3.8 2.7M418.1 238.1l-3.8 2.7M420.0 230.7l-3.8 2.7M419.4 229.0l-3.8 2.7M418.8 227.4l-3.8 2.7M418.1 225.8l-3.8 2.7M434.1 291.0l-3.2 3.4M433.1 289.6l-3.2 3.4M433.5 279.1l-3.4 3.3M432.6 277.5l-3.4 3.3M431.7 276.0l-3.4 3.3M432.9 267.1l-3.5 3.1M432.1 265.5l-3.5 3.1M431.3 264.0l-3.5 3.1M430.5 262.4l-1.8 1.5M432.2 255.0l-3.7 2.9M431.5 253.4l-3.7 2.9M430.8 251.8l-3.7 2.9M430.1 250.3l-1.8 1.4M431.7 242.9l-3.8 2.7M431.1 241.3l-3.8 2.7M430.4 239.7l-3.8 2.7M429.8 238.1l-3.8 2.7M431.7 230.6l-3.8 2.7M431.1 229.0l-3.8 2.7M430.4 227.4l-3.8 2.7M429.8 225.7l-3.8 2.7M431.7 218.3l-3.8 2.7M431.1 216.7l-3.8 2.7M430.4 215.0l-3.8 2.7M429.8 213.4l-3.8 2.7M431.7 206.0l-3.8 2.7M431.1 204.3l-3.8 2.7M430.4 202.7l-3.8 2.7M429.8 201.1l-3.8 2.7M431.7 193.7l-3.8 2.7M431.1 192.0l-3.8 2.7M430.4 190.4l-3.8 2.7M429.8 188.8l-3.8 2.7M445.8 290.9l-3.2 3.5M444.8 289.5l-3.2 3.5M445.2 279.0l-3.3 3.3M444.3 277.5l-3.3 3.3M443.4 276.0l-1.7 1.6M444.6 267.0l-3.5 3.1M443.7 265.5l-3.5 3.1M442.9 263.9l-3.5 3.1M442.1 262.4l-1.8 1.6M443.9 255.0l-3.7 2.9M443.2 253.4l-3.7 2.9M442.5 251.8l-3.7 2.9M441.7 250.2l-1.8 1.5M443.4 242.9l-3.8 2.8M442.7 241.3l-3.8 2.8M442.1 239.7l-3.8 2.8M441.4 238.0l-3.8 2.8M443.4 230.6l-3.8 2.8M442.7 229.0l-3.8 2.8M442.1 227.3l-3.8 2.8M441.4 225.7l-3.8 2.8M457.5 290.8l-3.1 3.5M456.5 289.4l-3.1 3.5M456.9 278.9l-3.3 3.3M456.0 277.4l-3.3 3.3M455.1 275.9l-3.3 3.3M456.3 266.9l-3.5 3.1M455.4 265.4l-3.5 3.1M454.6 263.9l-3.5 3.1M453.8 262.3l-1.7 1.6M455.6 254.9l-3.6 3.0M454.9 253.4l-3.6 3.0M454.1 251.8l-3.6 3.0M453.4 250.2l-1.8 1.5M469.2 290.7l-3.1 3.5M468.2 289.3l-3.1 3.5M468.6 278.8l-3.3 3.4M467.7 277.3l-3.3 3.4M466.8 275.9l-3.3 3.4M468.0 266.9l-3.5 3.2M467.1 265.3l-3.5 3.2M466.3 263.8l-3.5 3.2M465.4 262.3l-1.7 1.6M467.3 254.9l-3.6 3.0M466.5 253.3l-3.6 3.0M465.8 251.7l-3.6 3.0M465.0 250.2l-1.8 1.5M466.7 242.8l-3.8 2.8M466.0 241.2l-3.8 2.8M465.4 239.6l-3.8 2.8M464.7 238.0l-3.8 2.8M466.7 230.5l-3.8 2.8M466.0 228.9l-3.8 2.8M465.4 227.3l-3.8 2.8M464.7 225.7l-3.8 2.8M466.7 218.2l-3.8 2.8M466.0 216.6l-3.8 2.8M465.4 215.0l-3.8 2.8M464.7 213.4l-3.8 2.8M466.7 205.9l-3.8 2.8M466.0 204.3l-3.8 2.8M465.4 202.6l-3.8 2.8M464.7 201.0l-3.8 2.8M466.7 193.5l-3.8 2.8M466.0 191.9l-3.8 2.8M465.4 190.3l-3.8 2.8M464.7 188.7l-3.8 2.8M481.0 290.6l-3.0 3.6M479.9 289.2l-3.0 3.6M480.3 278.7l-3.2 3.4M479.4 277.3l-3.2 3.4M478.4 275.8l-3.2 3.4M479.7 266.8l-3.4 3.2M478.8 265.3l-3.4 3.2M477.9 263.8l-3.4 3.2M477.1 262.2l-1.7 1.6M479.0 254.8l-3.6 3.0M478.2 253.3l-3.6 3.0M477.4 251.7l-3.6 3.0M476.7 250.1l-1.8 1.5M478.4 242.8l-3.7 2.8M477.7 241.2l-3.7 2.8M477.0 239.6l-3.7 2.8M476.3 238.0l-3.7 2.8M478.4 230.5l-3.7 2.8M477.7 228.9l-3.7 2.8M477.0 227.3l-3.7 2.8M476.3 225.7l-3.7 2.8M478.4 218.1l-3.7 2.8M477.7 216.5l-3.7 2.8M477.0 214.9l-3.7 2.8M476.3 213.3l-3.7 2.8M492.7 290.5l-3.0 3.6M491.6 289.1l-3.0 3.6M492.0 278.7l-3.2 3.4M491.1 277.2l-3.2 3.4M490.1 275.7l-3.2 3.4M491.4 266.7l-3.4 3.3M490.5 265.2l-3.4 3.3M489.6 263.7l-3.4 3.3M488.7 262.2l-1.7 1.6M490.7 254.8l-3.6 3.0M489.9 253.2l-3.6 3.0M489.1 251.7l-3.6 3.0M488.3 250.1l-1.8 1.5M490.1 242.8l-3.7 2.9M489.4 241.2l-3.7 2.9M488.7 239.6l-3.7 2.9M488.0 237.9l-3.7 2.9M490.1 230.4l-3.7 2.9M489.4 228.8l-3.7 2.9M488.7 227.2l-3.7 2.9M488.0 225.6l-3.7 2.9M490.1 218.1l-3.7 2.9M489.4 216.5l-3.7 2.9M488.7 214.9l-3.7 2.9M488.0 213.3l-3.7 2.9M490.1 205.8l-3.7 2.9M489.4 204.2l-3.7 2.9M488.7 202.6l-3.7 2.9M488.0 201.0l-3.7 2.9" fill="none" stroke="#1c1c1c" stroke-opacity="0.88" stroke-width="1"/>
<rect x="75.3" y="49.3" width="417.0" height="236.3" fill="none" stroke="#555" stroke-width="0.8"/>
<path d="M75.3 285.6v-3.5M75.3 49.3v3.5M127.4 285.6v-3.5M127.4 49.3v3.5M179.6 285.6v-3.5M179.6 49.3v3.5M231.7 285.6v-3.5M231.7 49.3v3.5M283.8 285.6v-3.5M283.8 49.3v3.5M335.9 285.6v-3.5M335.9 49.3v3.5M388.1 285.6v-3.5M388.1 49.3v3.5M440.2 285.6v-3.5M440.2 49.3v3.5M492.3 285.6v-3.5M492.3 49.3v3.5M75.3 49.3h3.5M492.3 49.3h-3.5M75.3 108.4h3.5M492.3 108.4h-3.5M75.3 167.4h3.5M492.3 167.4h-3.5M75.3 226.5h3.5M492.3 226.5h-3.5M75.3 285.6h3.5M492.3 285.6h-3.5" stroke="#555" stroke-width="0.8" fill="none"/>
<text x="75.3" y="300.9" text-anchor="middle" class="tk">00:00</text>
<text x="127.4" y="300.9" text-anchor="middle" class="tk">03:00</text>
<text x="179.6" y="300.9" text-anchor="middle" class="tk">06:00</text>
<text x="231.7" y="300.9" text-anchor="middle" class="tk">09:00</text>
<text x="283.8" y="300.9" text-anchor="middle" class="tk">12:00</text>
<text x="335.9" y="300.9" text-anchor="middle" class="tk">15:00</text>
<text x="388.1" y="300.9" text-anchor="middle" class="tk">18:00</text>
<text x="440.2" y="300.9" text-anchor="middle" class="tk">21:00</text>
<text x="492.3" y="300.9" text-anchor="middle" class="tk">00:00</text>
<text x="71.5" y="53.5" text-anchor="end" class="tk">2000</text>
<text x="71.5" y="112.6" text-anchor="end" class="tk">1500</text>
<text x="71.5" y="171.6" text-anchor="end" class="tk">1000</text>
<text x="71.5" y="230.7" text-anchor="end" class="tk">500</text>
<text x="71.5" y="289.8" text-anchor="end" class="tk">0</text>
<text x="283.8" y="317.1" text-anchor="middle" class="lb">Time (HH:MM)</text>
<text transform="translate(42.0 167.4) rotate(-90)" text-anchor="middle" class="lb">Height (m)</text>
<text x="283.8" y="45.7" text-anchor="middle" class="tt">20240916 Horizontal Wind Speed</text>
<text x="115.0" y="109.0" class="cn">嵊泗</text>
<rect x="514.2" y="49.3" width="15.6" height="236.3" fill="url(#cb)" stroke="#555" stroke-width="0.6"/>
<text x="533.4" y="289.8" class="tk">0</text>
<text x="533.4" y="256.0" class="tk">5</text>
<path d="M529.8 251.8h-2" stroke="#555" stroke-width="0.6"/>
<text x="533.4" y="222.3" class="tk">10</text>
<path d="M529.8 218.1h-2" stroke="#555" stroke-width="0.6"/>
<text x="533.4" y="188.5" class="tk">15</text>
<path d="M529.8 184.3h-2" stroke="#555" stroke-width="0.6"/>
<text x="533.4" y="154.8" class="tk">20</text>
<path d="M529.8 150.6h-2" stroke="#555" stroke-width="0.6"/>
<text x="533.4" y="121.0" class="tk">25</text>
<path d="M529.8 116.8h-2" stroke="#555" stroke-width="0.6"/>
<text x="533.4" y="87.3" class="tk">30</text>
<path d="M529.8 83.1h-2" stroke="#555" stroke-width="0.6"/>
<text x="533.4" y="53.5" class="tk">35</text>
<path d="M667.4 49.3V285.6M719.5 49.3V285.6M771.7 49.3V285.6M823.8 49.3V285.6M875.9 49.3V285.6M928.0 49.3V285.6M980.2 49.3V285.6M615.3 108.4H1032.3M615.3 167.4H1032.3M615.3 226.5H1032.3" stroke="#e9e9e9" stroke-width="0.8" fill="none"/>
<g shape-rendering="crispEdges"><rect x="618.05" y="192.9" width="3.20" height="87.4" fill="url(#g1_0)"/><rect x="620.94" y="180.4" width="3.20" height="99.8" fill="url(#g1_1)"/><rect x="623.84" y="180.4" width="3.20" height="99.8" fill="url(#g1_1)"/><rect x="626.73" y="192.9" width="3.20" height="87.4" fill="url(#g1_2)"/><rect x="629.63" y="191.7" width="3.20" height="88.6" fill="url(#g1_2)"/><rect x="632.52" y="91.8" width="3.20" height="188.4" fill="url(#g1_3)"/><rect x="635.42" y="81.8" width="3.20" height="198.5" fill="url(#g1_3)"/><rect x="638.32" y="190.6" width="3.20" height="89.7" fill="url(#g1_4)"/><rect x="641.21" y="155.9" width="3.20" height="124.4" fill="url(#g1_4)"/><rect x="644.11" y="198.4" width="3.20" height="81.9" fill="url(#g1_5)"/><rect x="647.00" y="190.1" width="3.20" height="90.1" fill="url(#g1_5)"/><rect x="649.90" y="190.1" width="3.20" height="90.1" fill="url(#g1_6)"/><rect x="652.80" y="202.9" width="3.20" height="77.4" fill="url(#g1_6)"/><rect x="655.69" y="205.1" width="3.20" height="75.1" fill="url(#g1_7)"/><rect x="658.59" y="215.2" width="3.20" height="65.1" fill="url(#g1_7)"/><rect x="661.48" y="217.4" width="3.20" height="62.9" fill="url(#g1_8)"/><rect x="664.38" y="208.4" width="3.20" height="71.8" fill="url(#g1_8)"/><rect x="667.27" y="217.4" width="3.20" height="62.9" fill="url(#g1_9)"/><rect x="670.17" y="215.2" width="3.20" height="65.1" fill="url(#g1_9)"/><rect x="673.07" y="224.2" width="3.20" height="56.1" fill="url(#g1_10)"/><rect x="675.96" y="204.1" width="3.20" height="76.2" fill="url(#g1_10)"/><rect x="678.86" y="187.2" width="3.20" height="93.1" fill="url(#g1_11)"/><rect x="681.75" y="217.4" width="3.20" height="62.9" fill="url(#g1_11)"/><rect x="684.65" y="219.7" width="3.20" height="60.6" fill="url(#g1_12)"/><rect x="687.55" y="219.7" width="3.20" height="60.6" fill="url(#g1_12)"/><rect x="690.44" y="216.4" width="3.20" height="63.9" fill="url(#g1_13)"/><rect x="693.34" y="210.7" width="3.20" height="69.6" fill="url(#g1_13)"/><rect x="696.23" y="196.2" width="3.20" height="84.1" fill="url(#g1_14)"/><rect x="699.13" y="216.4" width="3.20" height="63.9" fill="url(#g1_14)"/><rect x="702.02" y="215.2" width="3.20" height="65.1" fill="url(#g1_15)"/><rect x="704.92" y="202.9" width="3.20" height="77.4" fill="url(#g1_15)"/><rect x="707.82" y="189.4" width="3.20" height="90.9" fill="url(#g1_16)"/><rect x="710.71" y="206.3" width="3.20" height="74.0" fill="url(#g1_16)"/><rect x="713.61" y="202.9" width="3.20" height="77.4" fill="url(#g1_17)"/><rect x="716.50" y="210.7" width="3.20" height="69.6" fill="url(#g1_17)"/><rect x="719.40" y="210.7" width="3.20" height="69.6" fill="url(#g1_18)"/><rect x="722.30" y="204.1" width="3.20" height="76.2" fill="url(#g1_18)"/><rect x="725.19" y="196.2" width="3.20" height="84.1" fill="url(#g1_19)"/><rect x="728.09" y="202.9" width="3.20" height="77.4" fill="url(#g1_19)"/><rect x="730.98" y="202.9" width="3.20" height="77.4" fill="url(#g1_20)"/><rect x="733.88" y="202.9" width="3.20" height="77.4" fill="url(#g1_20)"/><rect x="736.77" y="187.2" width="3.20" height="93.1" fill="url(#g1_21)"/><rect x="739.67" y="201.8" width="3.20" height="78.5" fill="url(#g1_21)"/><rect x="742.57" y="202.9" width="3.20" height="77.4" fill="url(#g1_22)"/><rect x="745.46" y="201.8" width="3.20" height="78.5" fill="url(#g1_22)"/><rect x="748.36" y="201.8" width="3.20" height="78.5" fill="url(#g1_23)"/><rect x="751.25" y="202.3" width="3.20" height="78.0" fill="url(#g1_23)"/><rect x="754.15" y="202.3" width="3.20" height="78.0" fill="url(#g1_24)"/><rect x="757.05" y="205.1" width="3.20" height="75.1" fill="url(#g1_24)"/><rect x="759.94" y="205.1" width="3.20" height="75.1" fill="url(#g1_25)"/><rect x="762.84" y="210.7" width="3.20" height="69.6" fill="url(#g1_25)"/><rect x="765.73" y="210.7" width="3.20" height="69.6" fill="url(#g1_26)"/><rect x="768.63" y="217.4" width="3.20" height="62.9" fill="url(#g1_26)"/><rect x="771.52" y="217.4" width="3.20" height="62.9" fill="url(#g1_27)"/><rect x="774.42" y="224.2" width="3.20" height="56.1" fill="url(#g1_27)"/><rect x="777.32" y="228.7" width="3.20" height="51.6" fill="url(#g1_28)"/><rect x="780.21" y="228.7" width="3.20" height="51.6" fill="url(#g1_28)"/><rect x="783.11" y="233.3" width="3.20" height="47.0" fill="url(#g1_29)"/><rect x="786.00" y="233.3" width="3.20" height="47.0" fill="url(#g1_29)"/><rect x="788.90" y="233.3" width="3.20" height="47.0" fill="url(#g1_30)"/><rect x="791.80" y="233.3" width="3.20" height="47.0" fill="url(#g1_30)"/><rect x="794.69" y="233.3" width="3.20" height="47.0" fill="url(#g1_31)"/><rect x="797.59" y="233.3" width="3.20" height="47.0" fill="url(#g1_31)"/><rect x="800.48" y="233.3" width="3.20" height="47.0" fill="url(#g1_32)"/><rect x="803.38" y="242.8" width="3.20" height="37.5" fill="url(#g1_32)"/><rect x="806.27" y="239.4" width="3.20" height="40.9" fill="url(#g1_33)"/><rect x="809.17" y="239.4" width="3.20" height="40.9" fill="url(#g1_33)"/><rect x="812.07" y="239.4" width="3.20" height="40.9" fill="url(#g1_34)"/><rect x="814.96" y="248.6" width="3.20" height="31.7" fill="url(#g1_34)"/><rect x="817.86" y="248.6" width="3.20" height="31.7" fill="url(#g1_35)"/><rect x="820.75" y="254.5" width="3.20" height="25.8" fill="url(#g1_35)"/><rect x="823.65" y="254.5" width="3.20" height="25.8" fill="url(#g1_36)"/><rect x="826.55" y="248.6" width="3.20" height="31.7" fill="url(#g1_36)"/><rect x="829.44" y="238.9" width="3.20" height="41.4" fill="url(#g1_37)"/><rect x="832.34" y="236.6" width="3.20" height="43.7" fill="url(#g1_37)"/><rect x="835.23" y="236.6" width="3.20" height="43.7" fill="url(#g1_38)"/><rect x="838.13" y="233.3" width="3.20" height="47.0" fill="url(#g1_38)"/><rect x="841.02" y="242.2" width="3.20" height="38.0" fill="url(#g1_39)"/><rect x="843.92" y="236.6" width="3.20" height="43.7" fill="url(#g1_39)"/><rect x="846.82" y="233.3" width="3.20" height="47.0" fill="url(#g1_40)"/><rect x="849.71" y="236.6" width="3.20" height="43.7" fill="url(#g1_40)"/><rect x="852.61" y="233.3" width="3.20" height="47.0" fill="url(#g1_41)"/><rect x="852.61" y="205.1" width="3.20" height="9.0" fill="url(#g1_41)"/><rect x="855.50" y="236.6" width="3.20" height="43.7" fill="url(#g1_41)"/><rect x="855.50" y="202.4" width="3.20" height="8.4" fill="url(#g1_41)"/><rect x="858.40" y="239.9" width="3.20" height="40.4" fill="url(#g1_42)"/><rect x="861.30" y="239.9" width="3.20" height="40.4" fill="url(#g1_42)"/><rect x="864.19" y="238.9" width="3.20" height="41.4" fill="url(#g1_43)"/><rect x="867.09" y="234.3" width="3.20" height="46.0" fill="url(#g1_43)"/><rect x="869.98" y="227.6" width="3.20" height="52.7" fill="url(#g1_44)"/><rect x="872.88" y="233.3" width="3.20" height="47.0" fill="url(#g1_44)"/><rect x="875.77" y="227.6" width="3.20" height="52.7" fill="url(#g1_45)"/><rect x="878.67" y="236.6" width="3.20" height="43.7" fill="url(#g1_45)"/><rect x="881.57" y="219.7" width="3.20" height="60.6" fill="url(#g1_46)"/><rect x="881.57" y="202.9" width="3.20" height="10.2" fill="url(#g1_46)"/><rect x="884.46" y="217.4" width="3.20" height="62.9" fill="url(#g1_46)"/><rect x="884.46" y="202.9" width="3.20" height="10.2" fill="url(#g1_46)"/><rect x="887.36" y="219.7" width="3.20" height="60.6" fill="url(#g1_47)"/><rect x="890.25" y="223.1" width="3.20" height="57.2" fill="url(#g1_47)"/><rect x="893.15" y="201.8" width="3.20" height="78.5" fill="url(#g1_48)"/><rect x="896.05" y="191.7" width="3.20" height="88.6" fill="url(#g1_48)"/><rect x="898.94" y="216.2" width="3.20" height="64.0" fill="url(#g1_49)"/><rect x="898.94" y="177.1" width="3.20" height="23.4" fill="url(#g1_49)"/><rect x="901.84" y="177.1" width="3.20" height="103.1" fill="url(#g1_49)"/><rect x="904.73" y="167.1" width="3.20" height="113.2" fill="url(#g1_50)"/><rect x="907.63" y="159.7" width="3.20" height="120.6" fill="url(#g1_50)"/><rect x="910.52" y="239.9" width="3.20" height="40.4" fill="url(#g1_51)"/><rect x="913.42" y="244.4" width="3.20" height="35.9" fill="url(#g1_51)"/><rect x="913.42" y="81.2" width="3.20" height="5.9" fill="url(#g1_51)"/><rect x="916.32" y="238.8" width="3.20" height="41.5" fill="url(#g1_52)"/><rect x="916.32" y="67.0" width="3.20" height="13.0" fill="url(#g1_52)"/><rect x="919.21" y="234.8" width="3.20" height="45.5" fill="url(#g1_52)"/><rect x="922.11" y="220.7" width="3.20" height="59.5" fill="url(#g1_53)"/><rect x="922.11" y="195.9" width="3.20" height="7.2" fill="url(#g1_53)"/><rect x="922.11" y="179.9" width="3.20" height="9.7" fill="url(#g1_53)"/><rect x="925.00" y="175.1" width="3.20" height="105.2" fill="url(#g1_53)"/><rect x="927.90" y="191.1" width="3.20" height="89.2" fill="url(#g1_54)"/><rect x="930.80" y="181.5" width="3.20" height="98.8" fill="url(#g1_54)"/><rect x="933.69" y="181.5" width="3.20" height="98.8" fill="url(#g1_55)"/><rect x="936.59" y="199.1" width="3.20" height="81.2" fill="url(#g1_55)"/><rect x="936.59" y="175.1" width="3.20" height="2.4" fill="url(#g1_55)"/><rect x="939.48" y="207.1" width="3.20" height="73.1" fill="url(#g1_56)"/><rect x="942.38" y="204.1" width="3.20" height="76.2" fill="url(#g1_56)"/><rect x="945.27" y="187.9" width="3.20" height="92.4" fill="url(#g1_57)"/><rect x="948.17" y="179.9" width="3.20" height="100.4" fill="url(#g1_57)"/><rect x="948.17" y="126.1" width="3.20" height="4.7" fill="url(#g1_57)"/><rect x="951.07" y="167.5" width="3.20" height="112.8" fill="url(#g1_58)"/><rect x="951.07" y="158.6" width="3.20" height="4.1" fill="url(#g1_58)"/><rect x="953.96" y="128.3" width="3.20" height="151.9" fill="url(#g1_58)"/><rect x="956.86" y="126.0" width="3.20" height="154.3" fill="url(#g1_59)"/><rect x="959.75" y="175.2" width="3.20" height="105.0" fill="url(#g1_59)"/><rect x="962.65" y="202.3" width="3.20" height="78.0" fill="url(#g1_60)"/><rect x="962.65" y="117.2" width="3.20" height="4.8" fill="url(#g1_60)"/><rect x="962.65" y="49.9" width="3.20" height="6.5" fill="url(#g1_60)"/><rect x="965.55" y="202.3" width="3.20" height="78.0" fill="url(#g1_60)"/><rect x="965.55" y="49.3" width="3.20" height="7.1" fill="url(#g1_60)"/><rect x="968.44" y="202.3" width="3.20" height="78.0" fill="url(#g1_61)"/><rect x="968.44" y="49.3" width="3.20" height="4.7" fill="url(#g1_61)"/><rect x="971.34" y="110.7" width="3.20" height="169.5" fill="url(#g1_61)"/><rect x="974.23" y="71.5" width="3.20" height="208.8" fill="url(#g1_62)"/><rect x="977.13" y="56.4" width="3.20" height="223.9" fill="url(#g1_62)"/><rect x="980.02" y="80.4" width="3.20" height="199.9" fill="url(#g1_63)"/><rect x="982.92" y="77.7" width="3.20" height="202.6" fill="url(#g1_63)"/><rect x="985.82" y="67.6" width="3.20" height="212.7" fill="url(#g1_64)"/><rect x="988.71" y="67.6" width="3.20" height="212.7" fill="url(#g1_64)"/><rect x="991.61" y="67.6" width="3.20" height="212.7" fill="url(#g1_65)"/><rect x="994.50" y="172.4" width="3.20" height="107.9" fill="url(#g1_65)"/><rect x="994.50" y="67.6" width="3.20" height="95.1" fill="url(#g1_65)"/><rect x="997.40" y="172.4" width="3.20" height="107.9" fill="url(#g1_66)"/><rect x="997.40" y="49.3" width="3.20" height="113.4" fill="url(#g1_66)"/><rect x="1000.30" y="162.7" width="3.20" height="117.6" fill="url(#g1_66)"/><rect x="1000.30" y="49.3" width="3.20" height="55.5" fill="url(#g1_66)"/><rect x="1003.19" y="160.4" width="3.20" height="119.9" fill="url(#g1_67)"/><rect x="1003.19" y="49.3" width="3.20" height="47.3" fill="url(#g1_67)"/><rect x="1006.09" y="156.3" width="3.20" height="123.9" fill="url(#g1_67)"/><rect x="1006.09" y="49.3" width="3.20" height="43.7" fill="url(#g1_67)"/><rect x="1008.98" y="145.1" width="3.20" height="135.2" fill="url(#g1_68)"/><rect x="1008.98" y="49.3" width="3.20" height="43.7" fill="url(#g1_68)"/><rect x="1011.88" y="145.1" width="3.20" height="135.2" fill="url(#g1_68)"/><rect x="1011.88" y="49.3" width="3.20" height="43.7" fill="url(#g1_68)"/><rect x="1014.77" y="134.7" width="3.20" height="145.6" fill="url(#g1_69)"/><rect x="1014.77" y="49.3" width="3.20" height="43.7" fill="url(#g1_69)"/><rect x="1017.67" y="129.1" width="3.20" height="151.2" fill="url(#g1_69)"/><rect x="1017.67" y="49.3" width="3.20" height="42.5" fill="url(#g1_69)"/><rect x="1020.57" y="134.7" width="3.20" height="145.6" fill="url(#g1_70)"/><rect x="1023.46" y="156.3" width="3.20" height="123.9" fill="url(#g1_70)"/><rect x="1026.36" y="159.5" width="3.20" height="120.7" fill="url(#g1_71)"/><rect x="1029.25" y="164.4" width="3.20" height="115.9" fill="url(#g1_71)"/></g>
<path clip-path="url(#clip1)" d="M619.2 279.7L616.4 266.5M619.2 267.4L618.3 253.9M619.2 255.0L620.3 241.6M619.2 242.7L622.3 229.6M619.2 230.4L623.8 217.7M619.2 218.1L623.8 205.4M619.2 205.8L623.8 193.1M619.2 193.4L623.8 180.7M630.8 279.7L628.0 266.5M630.8 267.4L629.9 253.9M630.8 255.0L631.9 241.6M630.8 242.7L633.8 229.6M630.8 230.4L635.4 217.7M630.8 218.1L635.4 205.4M630.8 205.8L635.4 193.1M630.8 193.4L635.4 180.7M642.4 279.7L639.6 266.5M642.4 267.4L641.5 253.9M642.4 255.0L643.5 241.6M642.4 242.7L645.4 229.6M642.4 230.4L647.0 217.7M642.4 218.1L647.0 205.4M642.4 205.8L647.0 193.1M642.4 193.4L647.0 180.7M642.4 181.1L647.0 168.4M642.4 168.8L647.0 156.1M642.4 156.5L647.0 143.8M654.0 279.7L651.2 266.5M654.0 267.4L653.1 253.9M654.0 255.0L655.1 241.6M654.0 242.7L657.0 229.6M654.0 230.4L658.6 217.7M654.0 218.1L658.6 205.4M654.0 205.8L658.6 193.1M665.5 279.7L662.7 266.5M665.5 267.4L664.7 253.9M665.5 255.0L666.6 241.6M665.5 242.7L668.6 229.6M665.5 230.4L670.2 217.7M665.5 218.1L670.2 205.4M677.1 279.7L674.3 266.5M677.1 267.4L676.3 253.9M677.1 255.0L678.2 241.6M677.1 242.7L680.2 229.6M677.1 230.4L681.7 217.7M677.1 218.1L681.7 205.4M677.1 205.8L681.7 193.1M688.7 279.7L685.9 266.5M688.7 267.4L687.8 253.9M688.7 255.0L689.8 241.6M688.7 242.7L691.8 229.6M688.7 230.4L693.3 217.7M700.3 279.7L697.5 266.5M700.3 267.4L699.4 253.9M700.3 255.0L701.4 241.6M700.3 242.7L703.3 229.6M700.3 230.4L704.9 217.7M700.3 218.1L704.9 205.4M711.9 279.7L709.1 266.5M711.9 267.4L711.0 253.9M711.9 255.0L713.0 241.6M711.9 242.7L714.9 229.6M711.9 230.4L716.5 217.7M711.9 218.1L716.5 205.4M711.9 205.8L716.5 193.1M723.5 279.7L720.7 266.5M723.5 267.4L722.6 253.9M723.5 255.0L724.6 241.6M723.5 242.7L726.5 229.6M723.5 230.4L728.1 217.7M723.5 218.1L728.1 205.4M723.5 205.8L728.1 193.1M735.0 279.7L732.1 266.5M735.0 267.4L733.9 253.9M735.0 255.0L735.8 241.6M735.0 242.7L737.7 229.5M735.0 230.4L739.2 217.6M735.0 218.1L739.2 205.2M735.0 205.8L739.2 192.9M746.6 279.7L743.0 266.7M746.6 267.4L744.4 254.0M746.6 255.0L746.0 241.6M746.6 242.7L747.5 229.3M746.6 230.4L748.9 217.1M746.6 218.1L749.1 204.8M746.6 205.8L749.1 192.5M758.2 279.7L753.8 266.9M758.2 267.4L755.0 254.3M758.2 255.0L756.2 241.7M758.2 242.7L757.4 229.2M758.2 230.4L758.6 216.9M758.2 218.1L758.9 204.6M758.2 205.8L758.9 192.3M769.8 279.7L764.7 267.2M769.8 267.4L765.6 254.5M769.8 255.0L766.5 241.9M769.8 242.7L767.5 229.4M769.8 230.4L768.5 217.0M769.8 218.1L768.8 204.6M781.4 279.7L775.0 267.8M781.4 267.4L775.7 255.1M781.4 255.0L776.4 242.5M781.4 242.7L777.1 229.9M781.4 230.4L777.9 217.4M793.0 279.7L784.3 269.4M793.0 267.4L784.7 256.7M793.0 255.0L785.1 244.0M793.0 242.7L785.6 231.4M804.5 279.7L793.5 271.9M804.5 267.4L793.5 259.6M804.5 255.0L793.5 247.3M804.5 242.7L793.5 235.0M816.1 279.7L805.1 287.4M816.1 267.4L805.1 275.1M816.1 255.0L805.1 262.8M827.7 279.7L829.6 293.1M827.7 267.4L829.6 280.7M827.7 255.0L829.6 268.4M839.3 279.7L841.2 293.1M839.3 267.4L841.2 280.7M839.3 255.0L841.2 268.4M839.3 242.7L841.2 256.1M850.9 279.7L852.9 293.0M850.9 267.4L852.9 280.7M850.9 255.0L852.9 268.4M850.9 242.7L852.9 256.1M862.5 279.7L864.5 293.0M862.5 267.4L864.5 280.7M862.5 255.0L864.5 268.4M862.5 242.7L864.5 256.1M874.0 279.7L876.2 293.0M874.0 267.4L876.2 280.7M874.0 255.0L876.2 268.4M874.0 242.7L876.2 256.1M885.6 279.7L887.8 293.0M885.6 267.4L887.8 280.7M885.6 255.0L887.8 268.4M885.6 242.7L887.8 256.0M885.6 230.4L887.8 243.7M885.6 218.1L887.8 231.4M897.2 279.7L899.5 293.0M897.2 267.4L899.5 280.7M897.2 255.0L899.5 268.4M897.2 242.7L899.5 256.0M897.2 230.4L899.5 243.7M897.2 218.1L899.5 231.4M897.2 205.8L899.5 219.1M897.2 193.4L899.5 206.7M908.8 279.7L911.4 292.9M908.8 267.4L911.4 280.6M908.8 255.0L911.4 268.3M908.8 242.7L911.4 256.0M908.8 230.4L911.4 243.6M908.8 218.1L911.4 231.3M908.8 205.8L911.4 219.0M908.8 193.4L911.4 206.7M908.8 181.1L911.4 194.3M908.8 168.8L911.4 182.0M920.4 279.7L924.0 292.7M920.4 267.4L924.0 280.4M920.4 255.0L924.0 268.1M920.4 242.7L924.0 255.7M932.0 279.7L936.2 292.5M932.0 267.4L936.1 280.2M932.0 255.0L936.0 267.9M932.0 242.7L935.9 255.6M932.0 230.4L935.9 243.3M932.0 218.1L935.8 231.0M932.0 205.8L935.7 218.7M932.0 193.4L935.6 206.4M932.0 181.1L935.6 194.1M943.5 279.7L948.7 292.2M943.5 267.4L948.5 279.9M943.5 255.0L948.4 267.7M943.5 242.7L948.2 255.4M943.5 230.4L948.0 243.1M943.5 218.1L947.9 230.9M943.5 205.8L947.7 218.6M955.1 279.7L962.2 291.2M955.1 267.4L961.9 279.1M955.1 255.0L961.6 266.9M955.1 242.7L961.2 254.8M955.1 230.4L960.9 242.6M955.1 218.1L960.6 230.4M955.1 205.8L960.3 218.2M955.1 193.4L959.9 206.0M955.1 181.1L959.6 193.8M955.1 168.8L959.3 181.6M955.1 156.5L959.1 169.4M955.1 144.1L959.1 157.1M955.1 131.8L959.1 144.7M966.7 279.7L975.5 289.9M966.7 267.4L975.1 277.9M966.7 255.0L974.7 266.0M966.7 242.7L974.2 253.9M966.7 230.4L973.8 241.9M966.7 218.1L973.3 229.9M966.7 205.8L972.8 217.8M966.7 181.1L971.8 193.6M966.7 144.1L971.0 156.9M966.7 131.8L971.0 144.6M966.7 70.2L971.0 83.0M978.3 279.7L988.6 288.4M978.3 267.4L988.1 276.6M978.3 255.0L987.6 264.8M978.3 242.7L987.1 253.0M978.3 230.4L986.5 241.1M978.3 218.1L985.9 229.2M978.3 205.8L985.3 217.3M978.3 193.4L984.7 205.3M978.3 181.1L984.0 193.3M978.3 168.8L983.3 181.3M978.3 156.5L982.9 169.1M978.3 144.1L982.9 156.8M978.3 131.8L982.9 144.5M978.3 119.5L982.9 132.2M978.3 107.2L982.9 119.9M978.3 94.8L982.9 107.5M978.3 82.5L982.9 95.2M978.3 70.2L982.9 82.9M978.3 57.9L982.9 70.6M989.9 279.7L1000.3 288.3M989.9 267.4L999.8 276.5M989.9 255.0L999.3 264.7M989.9 242.7L998.7 252.9M989.9 230.4L998.1 241.1M989.9 218.1L997.5 229.2M989.9 205.8L996.9 217.3M989.9 193.4L996.3 205.3M989.9 181.1L995.6 193.3M989.9 168.8L994.9 181.3M989.9 156.5L994.5 169.1M989.9 144.1L994.5 156.8M989.9 131.8L994.5 144.5M989.9 119.5L994.5 132.2M989.9 107.2L994.5 119.9M989.9 94.8L994.5 107.5M989.9 82.5L994.5 95.2M989.9 70.2L994.5 82.9M1001.5 279.7L1011.9 288.2M1001.5 267.4L1011.4 276.5M1001.5 255.0L1010.9 264.7M1001.5 242.7L1010.4 252.9M1001.5 230.4L1009.8 241.0M1001.5 218.1L1009.2 229.2M1001.5 205.8L1008.5 217.3M1001.5 193.4L1007.9 205.3M1001.5 181.1L1007.2 193.3M1001.5 168.8L1006.5 181.3M1001.5 119.5L1006.1 132.2M1001.5 107.2L1006.1 119.9M1001.5 94.8L1006.1 107.5M1001.5 82.5L1006.1 95.2M1001.5 70.2L1006.1 82.9M1001.5 57.9L1006.1 70.6M1013.0 279.7L1023.6 288.1M1013.0 267.4L1023.1 276.4M1013.0 255.0L1022.6 264.6M1013.0 242.7L1022.0 252.8M1013.0 230.4L1021.4 241.0M1013.0 218.1L1020.8 229.1M1013.0 205.8L1020.1 217.2M1013.0 193.4L1019.5 205.3M1013.0 181.1L1018.8 193.3M1013.0 168.8L1018.1 181.3M1013.0 156.5L1017.7 169.1M1013.0 144.1L1017.7 156.8M1013.0 119.5L1017.7 132.2M1013.0 107.2L1017.7 119.9M1013.0 94.8L1017.7 107.5M1013.0 82.5L1017.7 95.2M1013.0 70.2L1017.7 82.9M1013.0 57.9L1017.7 70.6M1024.6 279.7L1035.2 288.0M1024.6 267.4L1034.7 276.3M1024.6 255.0L1034.2 264.6M1024.6 242.7L1033.6 252.8M1024.6 230.4L1033.0 241.0M1024.6 218.1L1032.4 229.1M1024.6 205.8L1031.8 217.2M1024.6 193.4L1031.1 205.3M1024.6 181.1L1030.4 193.3M1024.6 168.8L1029.7 181.3M1024.6 156.5L1029.2 169.1M1024.6 57.9L1029.2 70.6" fill="none" stroke="#1c1c1c" stroke-opacity="0.88" stroke-width="0.95"/><path clip-path="url(#clipf1)" d="M616.4 266.5l4.2 -2.1M616.8 268.2l4.2 -2.1M618.3 253.9l4.5 -1.4M618.5 255.6l4.5 -1.4M618.6 257.4l4.5 -1.4M620.3 241.6l4.6 -0.8M620.2 243.3l4.6 -0.8M620.0 245.1l4.6 -0.8M619.9 246.8l4.6 -0.8M622.3 229.6l4.7 -0.1M621.9 231.3l4.7 -0.1M621.5 233.0l4.7 -0.1M621.1 234.7l4.7 -0.1M620.7 236.4l2.3 -0.0M623.8 217.7L627.5 220.7L622.7 220.7M623.8 205.4L627.5 208.4L622.7 208.4M622.5 209.2l2.3 0.2M623.8 193.1L627.5 196.1L622.7 196.1M622.5 196.8l2.3 0.2M623.8 180.7L627.5 183.8L622.7 183.8M622.5 184.5l2.3 0.2M628.0 266.5l4.2 -2.1M628.3 268.2l4.2 -2.1M629.9 253.9l4.5 -1.4M630.0 255.6l4.5 -1.4M630.2 257.4l4.5 -1.4M631.9 241.6l4.6 -0.8M631.8 243.3l4.6 -0.8M631.6 245.1l4.6 -0.8M631.5 246.8l4.6 -0.8M633.8 229.6l4.7 -0.1M633.4 231.3l4.7 -0.1M633.0 233.0l4.7 -0.1M632.7 234.7l4.7 -0.1M632.3 236.4l2.3 -0.0M635.4 217.7L639.1 220.7L634.3 220.7M635.4 205.4L639.1 208.4L634.3 208.4M634.0 209.2l2.3 0.2M635.4 193.1L639.1 196.1L634.3 196.1M634.0 196.8l2.3 0.2M635.4 180.7L639.1 183.8L634.3 183.8M634.0 184.5l2.3 0.2M639.6 266.5l4.2 -2.1M639.9 268.2l4.2 -2.1M641.5 253.9l4.5 -1.4M641.6 255.6l4.5 -1.4M641.7 257.4l4.5 -1.4M643.5 241.6l4.6 -0.8M643.3 243.3l4.6 -0.8M643.2 245.1l4.6 -0.8M643.1 246.8l4.6 -0.8M645.4 229.6l4.7 -0.1M645.0 231.3l4.7 -0.1M644.6 233.0l4.7 -0.1M644.2 234.7l4.7 -0.1M643.8 236.4l2.3 -0.0M647.0 217.7L650.6 220.7L645.9 220.7M647.0 205.4L650.6 208.4L645.9 208.4M645.6 209.2l2.3 0.2M647.0 193.1L650.6 196.1L645.9 196.1M645.6 196.8l2.3 0.2M647.0 180.7L650.6 183.8L645.9 183.8M645.6 184.5l2.3 0.2M647.0 168.4L650.6 171.5L645.9 171.4M645.6 172.2l4.7 0.5M647.0 156.1L650.6 159.1L645.9 159.1M645.6 159.9l4.7 0.5M647.0 143.8L650.6 146.8L645.9 146.8M645.6 147.5l4.7 0.5M651.2 266.5l4.2 -2.1M651.5 268.2l4.2 -2.1M653.1 253.9l4.5 -1.4M653.2 255.6l4.5 -1.4M653.3 257.4l4.5 -1.4M655.1 241.6l4.6 -0.8M654.9 243.3l4.6 -0.8M654.8 245.1l4.6 -0.8M654.6 246.8l4.6 -0.8M657.0 229.6l4.7 -0.1M656.6 231.3l4.7 -0.1M656.2 233.0l4.7 -0.1M655.8 234.7l4.7 -0.1M655.4 236.4l2.3 -0.0M658.6 217.7L662.2 220.7L657.5 220.7M658.6 205.4L662.2 208.4L657.5 208.4M657.2 209.2l2.3 0.2M658.6 193.1L662.2 196.1L657.5 196.1M657.2 196.8l2.3 0.2M662.7 266.5l4.2 -2.1M663.1 268.2l4.2 -2.1M664.7 253.9l4.5 -1.4M664.8 255.6l4.5 -1.4M664.9 257.4l4.5 -1.4M666.6 241.6l4.6 -0.8M666.5 243.3l4.6 -0.8M666.4 245.1l4.6 -0.8M666.2 246.8l4.6 -0.8M668.6 229.6l4.7 -0.1M668.2 231.3l4.7 -0.1M667.8 233.0l4.7 -0.1M667.4 234.7l4.7 -0.1M667.0 236.4l2.3 -0.0M670.2 217.7L673.8 220.7L669.1 220.7M670.2 205.4L673.8 208.4L669.1 208.4M668.8 209.2l2.3 0.2M674.3 266.5l4.2 -2.1M674.7 268.2l4.2 -2.1M676.3 253.9l4.5 -1.4M676.4 255.6l4.5 -1.4M676.5 257.4l4.5 -1.4M678.2 241.6l4.6 -0.8M678.1 243.3l4.6 -0.8M677.9 245.1l4.6 -0.8M677.8 246.8l4.6 -0.8M680.2 229.6l4.7 -0.1M679.8 231.3l4.7 -0.1M679.4 233.0l4.7 -0.1M679.0 234.7l4.7 -0.1M678.6 236.4l2.3 -0.0M681.7 217.7L685.4 220.7L680.6 220.7M681.7 205.4L685.4 208.4L680.6 208.4M680.4 209.2l2.3 0.2M681.7 193.1L685.4 196.1L680.6 196.1M680.4 196.8l2.3 0.2M685.9 266.5l4.2 -2.1M686.3 268.2l4.2 -2.1M687.8 253.9l4.5 -1.4M688.0 255.6l4.5 -1.4M688.1 257.4l4.5 -1.4M689.8 241.6l4.6 -0.8M689.7 243.3l4.6 -0.8M689.5 245.1l4.6 -0.8M689.4 246.8l4.6 -0.8M691.8 229.6l4.7 -0.1M691.4 231.3l4.7 -0.1M691.0 233.0l4.7 -0.1M690.6 234.7l4.7 -0.1M690.2 236.4l2.3 -0.0M693.3 217.7L697.0 220.7L692.2 220.7M697.5 266.5l4.2 -2.1M697.8 268.2l4.2 -2.1M699.4 253.9l4.5 -1.4M699.5 255.6l4.5 -1.4M699.7 257.4l4.5 -1.4M701.4 241.6l4.6 -0.8M701.3 243.3l4.6 -0.8M701.1 245.1l4.6 -0.8M701.0 246.8l4.6 -0.8M703.3 229.6l4.7 -0.1M702.9 231.3l4.7 -0.1M702.5 233.0l4.7 -0.1M702.2 234.7l4.7 -0.1M701.8 236.4l2.3 -0.0M704.9 217.7L708.6 220.7L703.8 220.7M704.9 205.4L708.6 208.4L703.8 208.4M703.5 209.2l2.3 0.2M709.1 266.5l4.2 -2.1M709.4 268.2l4.2 -2.1M711.0 253.9l4.5 -1.4M711.1 255.6l4.5 -1.4M711.2 257.4l4.5 -1.4M713.0 241.6l4.6 -0.8M712.8 243.3l4.6 -0.8M712.7 245.1l4.6 -0.8M712.6 246.8l4.6 -0.8M714.9 229.6l4.7 -0.1M714.5 231.3l4.7 -0.1M714.1 233.0l4.7 -0.1M713.7 234.7l4.7 -0.1M713.3 236.4l2.3 -0.0M716.5 217.7L720.1 220.7L715.4 220.7M716.5 205.4L720.1 208.4L715.4 208.4M715.1 209.2l2.3 0.2M716.5 193.1L720.1 196.1L715.4 196.1M715.1 196.8l2.3 0.2M720.7 266.5l4.2 -2.1M721.0 268.2l4.2 -2.1M722.6 253.9l4.5 -1.4M722.7 255.6l4.5 -1.4M722.8 257.4l4.5 -1.4M724.6 241.6l4.6 -0.8M724.4 243.3l4.6 -0.8M724.3 245.1l4.6 -0.8M724.1 246.8l4.6 -0.8M726.5 229.6l4.7 -0.1M726.1 231.3l4.7 -0.1M725.7 233.0l4.7 -0.1M725.3 234.7l4.7 -0.1M724.9 236.4l2.3 -0.0M728.1 217.7L731.7 220.7L727.0 220.7M728.1 205.4L731.7 208.4L727.0 208.4M726.7 209.2l2.3 0.2M728.1 193.1L731.7 196.1L727.0 196.1M726.7 196.8l2.3 0.2M732.1 266.5l4.2 -2.1M732.4 268.2l4.2 -2.1M733.9 253.9l4.4 -1.5M734.1 255.7l4.4 -1.5M734.2 257.4l4.4 -1.5M735.8 241.6l4.6 -0.9M735.7 243.3l4.6 -0.9M735.6 245.1l4.6 -0.9M735.5 246.8l4.6 -0.9M737.7 229.5l4.7 -0.2M737.3 231.2l4.7 -0.2M737.0 232.9l4.7 -0.2M736.6 234.6l4.7 -0.2M736.3 236.3l2.3 -0.1M739.2 217.6L743.0 220.5L738.2 220.6M739.2 205.2L743.0 208.2L738.2 208.3M738.0 209.0l2.3 0.2M739.2 192.9L743.0 195.8L738.2 196.0M738.0 196.7l2.3 0.2M743.0 266.7l4.1 -2.3M743.4 268.4l4.1 -2.3M744.4 254.0l4.3 -1.8M744.7 255.8l4.3 -1.8M745.0 257.5l4.3 -1.8M745.3 259.2l2.2 -0.9M746.0 241.6l4.5 -1.4M746.0 243.3l4.5 -1.4M746.1 245.1l4.5 -1.4M746.2 246.8l4.5 -1.4M746.3 248.6l2.2 -0.7M747.5 229.3L751.8 231.1L747.3 232.4M748.9 217.1L753.0 219.4L748.3 220.2M748.2 221.0l2.3 -0.2M749.1 204.8L753.2 207.2L748.5 208.0M748.4 208.7l4.7 -0.3M749.1 192.5L753.2 194.9L748.5 195.6M748.4 196.4l4.7 -0.3M753.8 266.9l3.9 -2.5M754.4 268.6l3.9 -2.5M755.0 270.2l2.0 -1.3M755.0 254.3l4.2 -2.2M755.4 256.0l4.2 -2.2M755.8 257.7l4.2 -2.2M756.2 259.4l4.2 -2.2M756.2 241.7L760.8 242.6L756.7 244.9M757.4 229.2L761.9 230.6L757.6 232.4M757.6 233.2l4.5 -1.4M758.6 216.9L763.0 218.6L758.5 220.1M758.5 220.9l4.6 -1.0M758.4 222.7l2.3 -0.5M758.9 204.6L763.3 206.4L758.8 207.8M758.7 208.6l4.6 -0.9M758.6 210.3l2.3 -0.4M758.9 192.3L763.3 194.1L758.8 195.5M758.7 196.3l4.6 -0.9M758.6 198.0l4.6 -0.9M764.7 267.2l3.8 -2.8M765.3 268.8l3.8 -2.8M766.0 270.4l1.9 -1.4M765.6 254.5l4.0 -2.5M766.1 256.2l4.0 -2.5M766.7 257.9l4.0 -2.5M767.2 259.5l4.0 -2.5M766.5 241.9L771.2 242.4L767.3 245.1M767.5 245.8l2.1 -1.1M767.5 229.4L772.2 230.2L768.0 232.6M768.2 233.4l4.3 -1.9M768.5 217.0L773.1 218.1L768.8 220.2M768.9 220.9l4.4 -1.6M769.0 222.7l2.2 -0.8M768.8 204.6L773.3 205.9L769.0 207.8M769.1 208.6l4.5 -1.5M769.2 210.3l4.5 -1.5M775.0 267.8l3.5 -3.1M775.9 269.3l3.5 -3.1M776.7 270.9l3.5 -3.1M775.7 255.1l3.7 -2.9M776.5 256.7l3.7 -2.9M777.2 258.3l3.7 -2.9M777.9 259.9l3.7 -2.9M778.7 261.5l1.8 -1.5M776.4 242.5L781.2 242.3L777.6 245.5M777.9 246.2l1.9 -1.4M777.1 229.9L781.9 230.0L778.1 232.9M778.4 233.7l4.0 -2.5M778.9 235.4l2.0 -1.3M777.9 217.4L782.6 217.7L778.7 220.5M778.9 221.2l4.1 -2.3M779.4 222.9l2.1 -1.1M784.3 269.4l2.8 -3.8M785.4 270.7l2.8 -3.8M786.5 272.0l2.8 -3.8M784.7 256.7l2.9 -3.7M785.8 258.1l2.9 -3.7M786.8 259.5l2.9 -3.7M787.9 260.8l2.9 -3.7M785.1 244.0L789.7 242.8L787.0 246.6M785.6 231.4L790.2 230.3L787.3 234.1M787.8 234.8l1.6 -1.7M793.5 271.9l1.7 -4.4M794.9 273.0l1.7 -4.4M796.4 274.0l0.8 -2.2M793.5 259.6l1.7 -4.4M794.9 260.6l1.7 -4.4M796.4 261.6l1.7 -4.4M793.5 247.3l1.7 -4.4M794.9 248.3l1.7 -4.4M796.4 249.3l1.7 -4.4M797.8 250.3l0.8 -2.2M793.5 235.0l1.7 -4.4M794.9 236.0l1.7 -4.4M796.4 237.0l1.7 -4.4M797.8 238.0l1.7 -4.4M805.1 287.4l-3.5 -3.1M806.5 286.4l-3.5 -3.1M807.9 285.4l-3.5 -3.1M809.4 284.4l-1.8 -1.5M805.1 275.1L803.8 270.5L807.7 273.3M805.1 262.8L803.8 258.2L807.7 261.0M808.3 260.5l-3.5 -3.1M829.6 293.1L824.9 292.1L829.1 289.9M829.6 280.7L824.9 279.8L829.1 277.6M829.0 276.8l-4.4 1.8M828.8 275.0l-2.2 0.9M829.6 268.4L824.9 267.5L829.1 265.2M829.0 264.5l-4.4 1.8M828.8 262.7l-4.4 1.8M828.5 261.0l-2.2 0.9M841.2 293.1L836.6 292.1L840.8 289.9M841.2 280.7L836.6 279.8L840.8 277.6M840.7 276.8l-4.3 1.8M840.4 275.0l-4.3 1.8M841.2 268.4L836.6 267.5L840.8 265.2M840.7 264.4l-4.3 1.8M840.4 262.7l-4.3 1.8M840.2 261.0l-4.3 1.8M839.9 259.3l-2.2 0.9M841.2 256.1L836.6 255.1L840.8 252.9M840.7 252.1l-4.3 1.8M840.4 250.4l-4.3 1.8M840.2 248.7l-4.3 1.8M839.9 246.9l-4.3 1.8M852.9 293.0l-4.3 1.8M852.6 291.3l-4.3 1.8M852.4 289.6l-4.3 1.8M852.1 287.8l-4.3 1.8M852.9 280.7L848.2 279.8L852.4 277.6M852.3 276.8l-4.3 1.8M852.0 275.0l-2.2 0.9M852.9 268.4L848.2 267.5L852.4 265.2M852.3 264.4l-4.3 1.8M852.0 262.7l-4.3 1.8M851.8 261.0l-2.2 0.9M852.9 256.1L848.2 255.2L852.4 252.9M852.3 252.1l-4.3 1.8M852.0 250.4l-4.3 1.8M851.8 248.7l-2.2 0.9M864.5 293.0l-4.3 1.8M864.3 291.3l-4.3 1.8M864.0 289.6l-4.3 1.8M863.7 287.8l-4.3 1.8M864.5 280.7L859.9 279.8L864.1 277.5M863.9 276.8l-4.3 1.8M864.5 268.4L859.9 267.5L864.1 265.2M863.9 264.4l-4.3 1.8M863.7 262.7l-4.3 1.8M864.5 256.1L859.9 255.2L864.1 252.9M863.9 252.1l-4.3 1.8M863.7 250.4l-4.3 1.8M863.4 248.7l-2.2 0.9M876.2 293.0l-4.3 1.8M875.9 291.3l-4.3 1.8M875.6 289.6l-4.3 1.8M875.4 287.8l-2.2 0.9M876.2 280.7L871.5 279.8L875.7 277.5M876.2 268.4L871.5 267.5L875.7 265.2M875.6 264.4l-4.3 1.8M876.2 256.1L871.5 255.2L875.7 252.9M875.6 252.1l-4.3 1.8M875.3 250.4l-2.2 0.9M887.8 293.0l-4.3 1.9M887.6 291.3l-4.3 1.9M887.3 289.6l-4.3 1.9M887.8 280.7l-4.3 1.9M887.6 279.0l-4.3 1.9M887.3 277.2l-4.3 1.9M887.0 275.5l-4.3 1.9M886.7 273.8l-2.2 0.9M887.8 268.4L883.2 267.5L887.3 265.2M887.2 264.4l-2.2 0.9M887.8 256.0L883.2 255.2L887.3 252.9M887.2 252.1l-4.3 1.9M887.8 243.7L883.2 242.9L887.3 240.6M887.2 239.8l-4.3 1.9M887.8 231.4L883.2 230.6L887.3 228.2M887.2 227.4l-4.3 1.9M899.5 293.0l-4.3 1.9M899.2 291.3l-4.3 1.9M898.9 289.5l-2.2 0.9M899.5 280.7l-4.3 1.9M899.2 278.9l-4.3 1.9M898.9 277.2l-4.3 1.9M898.6 275.5l-2.2 0.9M899.5 268.4l-4.3 1.9M899.2 266.6l-4.3 1.9M898.9 264.9l-4.3 1.9M898.6 263.2l-4.3 1.9M898.3 261.5l-2.2 0.9M899.5 256.0L894.8 255.2L899.0 252.9M899.5 243.7L894.8 242.9L899.0 240.6M898.8 239.8l-2.2 0.9M899.5 231.4L894.8 230.6L899.0 228.2M898.8 227.4l-2.2 0.9M899.5 219.1L894.8 218.2L899.0 215.9M898.8 215.1l-2.2 0.9M899.5 206.7L894.8 205.9L899.0 203.6M898.8 202.8l-2.2 0.9M911.4 292.9l-4.3 2.0M911.1 291.2l-4.3 2.0M911.4 280.6l-4.3 2.0M911.1 278.9l-4.3 2.0M910.7 277.2l-4.3 2.0M910.4 275.5l-2.1 1.0M911.4 268.3l-4.3 2.0M911.1 266.6l-4.3 2.0M910.7 264.9l-4.3 2.0M910.4 263.1l-4.3 2.0M911.4 256.0l-4.3 2.0M911.1 254.2l-4.3 2.0M910.7 252.5l-4.3 2.0M910.4 250.8l-4.3 2.0M910.1 249.1l-2.1 1.0M911.4 243.6L906.7 242.9L910.8 240.5M911.4 231.3L906.7 230.6L910.8 228.2M911.4 219.0L906.7 218.3L910.8 215.9M911.4 206.7L906.7 206.0L910.8 203.5M911.4 194.3L906.7 193.7L910.8 191.2M911.4 182.0L906.7 181.3L910.8 178.9M924.0 292.7l-4.1 2.3M923.5 291.0l-4.1 2.3M924.0 280.4l-4.1 2.3M923.5 278.7l-4.1 2.3M923.1 277.0l-4.1 2.3M924.0 268.1l-4.1 2.3M923.5 266.4l-4.1 2.3M923.0 264.7l-4.1 2.3M922.6 263.0l-2.0 1.2M924.0 255.7l-4.1 2.3M923.5 254.0l-4.1 2.3M923.0 252.4l-4.1 2.3M922.6 250.7l-4.1 2.3M936.2 292.5l-4.0 2.5M935.6 290.9l-2.0 1.2M936.1 280.2l-4.0 2.5M935.6 278.6l-4.0 2.5M935.0 276.9l-2.0 1.2M936.0 267.9l-4.0 2.4M935.5 266.3l-4.0 2.4M935.0 264.6l-4.0 2.4M934.4 262.9l-2.0 1.2M935.9 255.6l-4.0 2.4M935.4 254.0l-4.0 2.4M934.9 252.3l-4.0 2.4M934.4 250.6l-4.0 2.4M935.9 243.3l-4.0 2.4M935.4 241.6l-4.0 2.4M934.9 240.0l-4.0 2.4M934.3 238.3l-4.0 2.4M933.8 236.6l-2.0 1.2M935.8 231.0l-4.1 2.4M935.3 229.3l-4.1 2.4M934.8 227.7l-4.1 2.4M934.3 226.0l-4.1 2.4M933.8 224.3l-2.0 1.2M935.7 218.7l-4.1 2.4M935.2 217.0l-4.1 2.4M934.7 215.4l-4.1 2.4M934.3 213.7l-4.1 2.4M933.8 212.0l-2.0 1.2M935.6 206.4l-4.1 2.3M935.2 204.7l-4.1 2.3M934.7 203.1l-4.1 2.3M934.2 201.4l-4.1 2.3M933.7 199.7l-2.0 1.2M935.6 194.1l-4.1 2.3M935.1 192.4l-4.1 2.3M934.6 190.7l-4.1 2.3M934.2 189.1l-4.1 2.3M933.7 187.4l-2.0 1.2M948.7 292.2l-3.8 2.8M948.0 290.6l-1.9 1.4M948.5 279.9l-3.8 2.7M947.9 278.3l-3.8 2.7M947.2 276.7l-1.9 1.4M948.4 267.7l-3.9 2.7M947.7 266.0l-3.9 2.7M947.1 264.4l-3.9 2.7M946.5 262.8l-1.9 1.3M948.2 255.4l-3.9 2.6M947.6 253.8l-3.9 2.6M947.0 252.1l-3.9 2.6M946.4 250.5l-3.9 2.6M948.0 243.1l-3.9 2.6M947.4 241.5l-3.9 2.6M946.9 239.8l-3.9 2.6M946.3 238.2l-3.9 2.6M947.9 230.9l-4.0 2.5M947.3 229.2l-4.0 2.5M946.7 227.5l-4.0 2.5M946.2 225.9l-4.0 2.5M945.6 224.2l-2.0 1.3M947.7 218.6l-4.0 2.5M947.2 216.9l-4.0 2.5M946.6 215.3l-4.0 2.5M946.1 213.6l-4.0 2.5M945.5 211.9l-2.0 1.2M962.2 291.2l-3.3 3.3M961.3 289.7l-1.6 1.7M961.9 279.1l-3.4 3.3M961.0 277.5l-3.4 3.3M960.1 276.0l-1.7 1.6M961.6 266.9l-3.5 3.2M960.7 265.4l-3.5 3.2M959.9 263.8l-3.5 3.2M959.1 262.3l-1.7 1.6M961.2 254.8l-3.6 3.1M960.5 253.2l-3.6 3.1M959.7 251.6l-3.6 3.1M958.9 250.1l-3.6 3.1M960.9 242.6l-3.6 3.0M960.2 241.0l-3.6 3.0M959.4 239.4l-3.6 3.0M958.7 237.9l-3.6 3.0M957.9 236.3l-1.8 1.5M960.6 230.4l-3.7 2.9M959.9 228.8l-3.7 2.9M959.2 227.2l-3.7 2.9M958.5 225.6l-3.7 2.9M957.8 224.0l-1.9 1.4M960.3 218.2l-3.8 2.8M959.6 216.6l-3.8 2.8M958.9 215.0l-3.8 2.8M958.3 213.4l-3.8 2.8M957.6 211.8l-1.9 1.4M959.9 206.0l-3.9 2.7M959.3 204.4l-3.9 2.7M958.7 202.8l-3.9 2.7M958.1 201.1l-3.9 2.7M957.4 199.5l-1.9 1.3M959.6 193.8l-3.9 2.6M959.0 192.2l-3.9 2.6M958.4 190.5l-3.9 2.6M957.9 188.9l-3.9 2.6M957.3 187.2l-2.0 1.3M959.3 181.6l-4.0 2.5M958.7 180.0l-4.0 2.5M958.2 178.3l-4.0 2.5M957.7 176.6l-4.0 2.5M957.1 175.0l-2.0 1.2M959.1 169.4l-4.0 2.4M958.5 167.7l-4.0 2.4M958.0 166.0l-4.0 2.4M957.5 164.4l-4.0 2.4M957.0 162.7l-2.0 1.2M959.1 157.1l-4.0 2.4M958.5 155.4l-4.0 2.4M958.0 153.7l-4.0 2.4M957.5 152.0l-4.0 2.4M959.1 144.7l-4.0 2.4M958.5 143.1l-4.0 2.4M958.0 141.4l-4.0 2.4M957.5 139.7l-4.0 2.4M975.5 289.9l-2.7 3.8M974.4 288.6l-1.4 1.9M975.1 277.9l-2.9 3.7M974.0 276.6l-2.9 3.7M972.9 275.2l-2.9 3.7M974.7 266.0l-3.0 3.6M973.6 264.5l-3.0 3.6M972.6 263.1l-3.0 3.6M971.6 261.7l-1.5 1.8M974.2 253.9l-3.2 3.5M973.2 252.5l-3.2 3.5M972.3 251.0l-3.2 3.5M971.3 249.6l-3.2 3.5M973.8 241.9l-3.3 3.3M972.8 240.4l-3.3 3.3M971.9 238.9l-3.3 3.3M971.0 237.4l-3.3 3.3M970.1 235.9l-1.6 1.7M973.3 229.9l-3.4 3.2M972.4 228.3l-3.4 3.2M971.6 226.8l-3.4 3.2M970.7 225.3l-3.4 3.2M969.9 223.8l-1.7 1.6M972.8 217.8l-3.6 3.1M972.0 216.2l-3.6 3.1M971.2 214.7l-3.6 3.1M970.4 213.1l-3.6 3.1M969.6 211.6l-1.8 1.5M971.8 193.6l-3.8 2.8M971.1 192.0l-3.8 2.8M970.5 190.4l-3.8 2.8M969.8 188.7l-3.8 2.8M969.2 187.1l-1.9 1.4M971.0 156.9l-4.0 2.5M970.4 155.3l-4.0 2.5M969.9 153.6l-4.0 2.5M969.3 152.0l-4.0 2.5M971.0 144.6l-4.0 2.5M970.4 143.0l-4.0 2.5M969.9 141.3l-4.0 2.5M969.3 139.6l-4.0 2.5M971.0 83.0l-4.0 2.5M970.4 81.3l-4.0 2.5M969.9 79.7l-4.0 2.5M969.3 78.0l-4.0 2.5M988.6 288.4l-2.1 4.2M987.3 287.2l-1.0 2.1M988.1 276.6l-2.3 4.1M986.9 275.4l-2.3 4.1M985.6 274.2l-2.3 4.1M987.6 264.8l-2.5 4.0M986.4 263.5l-2.5 4.0M985.2 262.3l-2.5 4.0M984.0 261.0l-1.3 2.0M987.1 253.0l-2.7 3.8M985.9 251.6l-2.7 3.8M984.8 250.3l-2.7 3.8M983.7 249.0l-2.7 3.8M986.5 241.1l-2.9 3.7M985.4 239.7l-2.9 3.7M984.4 238.3l-2.9 3.7M983.3 236.9l-2.9 3.7M982.2 235.6l-1.5 1.8M985.9 229.2L981.3 230.4L984.1 226.6M985.3 217.3L980.6 218.2L983.6 214.6M984.7 205.3L980.0 206.0L983.1 202.5M984.0 193.3L979.3 193.8L982.6 190.4M983.3 181.3l-3.8 2.7M982.7 179.7l-3.8 2.7M982.0 178.1l-3.8 2.7M981.4 176.4l-3.8 2.7M980.7 174.8l-1.9 1.4M982.9 169.1l-3.9 2.6M982.3 167.5l-3.9 2.6M981.7 165.9l-3.9 2.6M981.1 164.2l-3.9 2.6M980.5 162.6l-1.9 1.3M982.9 156.8l-3.9 2.6M982.3 155.2l-3.9 2.6M981.7 153.5l-3.9 2.6M981.1 151.9l-3.9 2.6M980.5 150.2l-1.9 1.3M982.9 144.5l-3.9 2.6M982.3 142.9l-3.9 2.6M981.7 141.2l-3.9 2.6M981.1 139.6l-3.9 2.6M982.9 132.2l-3.9 2.6M982.3 130.5l-3.9 2.6M981.7 128.9l-3.9 2.6M981.1 127.2l-3.9 2.6M982.9 119.9l-3.9 2.6M982.3 118.2l-3.9 2.6M981.7 116.6l-3.9 2.6M981.1 114.9l-3.9 2.6M982.9 107.5l-3.9 2.6M982.3 105.9l-3.9 2.6M981.7 104.2l-3.9 2.6M981.1 102.6l-3.9 2.6M982.9 95.2l-3.9 2.6M982.3 93.6l-3.9 2.6M981.7 91.9l-3.9 2.6M981.1 90.3l-1.9 1.3M982.9 82.9l-3.9 2.6M982.3 81.2l-3.9 2.6M981.7 79.6l-3.9 2.6M981.1 78.0l-1.9 1.3M982.9 70.6l-3.9 2.6M982.3 68.9l-3.9 2.6M981.7 67.3l-3.9 2.6M981.1 65.6l-1.9 1.3M1000.3 288.3l-2.0 4.2M998.9 287.2l-1.0 2.1M999.8 276.5l-2.3 4.1M998.5 275.3l-2.3 4.1M997.2 274.2l-2.3 4.1M999.3 264.7l-2.5 4.0M998.1 263.5l-2.5 4.0M996.8 262.2l-2.5 4.0M995.6 261.0l-1.2 2.0M998.7 252.9l-2.7 3.8M997.6 251.6l-2.7 3.8M996.4 250.3l-2.7 3.8M995.3 249.0l-2.7 3.8M994.1 247.6l-1.4 1.9M998.1 241.1l-2.9 3.7M997.1 239.7l-2.9 3.7M996.0 238.3l-2.9 3.7M994.9 236.9l-2.9 3.7M993.9 235.5l-1.5 1.8M997.5 229.2L993.0 230.4L995.7 226.6M996.9 217.3L992.3 218.2L995.2 214.5M996.3 205.3L991.6 206.0L994.7 202.5M995.6 193.3L990.9 193.8L994.2 190.4M994.9 181.3L990.2 181.5L993.7 178.3M994.5 169.1l-3.9 2.6M993.9 167.5l-3.9 2.6M993.3 165.9l-3.9 2.6M992.7 164.2l-3.9 2.6M992.1 162.6l-1.9 1.3M994.5 156.8l-3.9 2.6M993.9 155.2l-3.9 2.6M993.3 153.5l-3.9 2.6M992.7 151.9l-3.9 2.6M992.1 150.2l-1.9 1.3M994.5 144.5l-3.9 2.6M993.9 142.9l-3.9 2.6M993.3 141.2l-3.9 2.6M992.7 139.6l-3.9 2.6M992.1 137.9l-1.9 1.3M994.5 132.2l-3.9 2.6M993.9 130.5l-3.9 2.6M993.3 128.9l-3.9 2.6M992.7 127.2l-3.9 2.6M994.5 119.9l-3.9 2.6M993.9 118.2l-3.9 2.6M993.3 116.6l-3.9 2.6M992.7 114.9l-3.9 2.6M994.5 107.5l-3.9 2.6M993.9 105.9l-3.9 2.6M993.3 104.2l-3.9 2.6M992.7 102.6l-1.9 1.3M994.5 95.2l-3.9 2.6M993.9 93.6l-3.9 2.6M993.3 91.9l-3.9 2.6M992.7 90.3l-1.9 1.3M994.5 82.9l-3.9 2.6M993.9 81.2l-3.9 2.6M993.3 79.6l-3.9 2.6M992.7 78.0l-1.9 1.3M1011.9 288.2l-2.0 4.2M1010.6 287.1l-1.0 2.1M1011.4 276.5l-2.2 4.1M1010.1 275.3l-2.2 4.1M1008.9 274.1l-1.1 2.1M1010.9 264.7l-2.5 4.0M1009.7 263.4l-2.5 4.0M1008.5 262.2l-2.5 4.0M1007.2 260.9l-1.2 2.0M1010.4 252.9l-2.7 3.9M1009.2 251.6l-2.7 3.9M1008.0 250.2l-2.7 3.9M1006.9 248.9l-2.7 3.9M1005.7 247.6l-1.3 1.9M1009.8 241.0l-2.9 3.7M1008.7 239.7l-2.9 3.7M1007.6 238.3l-2.9 3.7M1006.5 236.9l-2.9 3.7M1005.5 235.5l-1.4 1.8M1009.2 229.2L1004.6 230.4L1007.3 226.5M1008.5 217.3L1003.9 218.2L1006.9 214.5M1007.9 205.3L1003.2 206.0L1006.3 202.5M1007.2 193.3L1002.5 193.8L1005.8 190.4M1006.5 181.3L1001.8 181.5L1005.3 178.3M1006.1 132.2l-3.9 2.6M1005.5 130.5l-3.9 2.6M1004.9 128.9l-3.9 2.6M1004.3 127.2l-3.9 2.6M1006.1 119.9l-3.9 2.6M1005.5 118.2l-3.9 2.6M1004.9 116.6l-3.9 2.6M1004.3 114.9l-3.9 2.6M1006.1 107.5l-3.9 2.6M1005.5 105.9l-3.9 2.6M1004.9 104.2l-3.9 2.6M1004.3 102.6l-1.9 1.3M1006.1 95.2l-3.9 2.6M1005.5 93.6l-3.9 2.6M1004.9 91.9l-3.9 2.6M1004.3 90.3l-1.9 1.3M1006.1 82.9l-3.9 2.6M1005.5 81.2l-3.9 2.6M1004.9 79.6l-3.9 2.6M1004.3 78.0l-1.9 1.3M1006.1 70.6l-3.9 2.6M1005.5 68.9l-3.9 2.6M1004.9 67.3l-3.9 2.6M1004.3 65.6l-1.9 1.3M1023.6 288.1l-2.0 4.3M1022.2 287.0l-1.0 2.1M1023.1 276.4l-2.2 4.1M1021.8 275.2l-2.2 4.1M1020.5 274.1l-1.1 2.1M1022.6 264.6l-2.4 4.0M1021.3 263.4l-2.4 4.0M1020.1 262.1l-2.4 4.0M1018.9 260.9l-2.4 4.0M1022.0 252.8l-2.7 3.9M1020.8 251.5l-2.7 3.9M1019.7 250.2l-2.7 3.9M1018.5 248.9l-2.7 3.9M1017.4 247.6l-1.3 1.9M1021.4 241.0L1016.9 242.5L1019.4 238.5M1020.8 229.1L1016.2 230.4L1018.9 226.5M1020.1 217.2L1015.5 218.2L1018.5 214.5M1019.5 205.3L1014.8 206.0L1018.0 202.5M1018.8 193.3L1014.1 193.8L1017.4 190.4M1018.1 181.3L1013.3 181.5L1016.9 178.3M1017.7 169.1L1012.9 169.2L1016.6 166.1M1017.7 156.8L1012.9 156.8L1016.6 153.8M1017.7 132.2l-3.9 2.6M1017.1 130.5l-3.9 2.6M1016.5 128.9l-3.9 2.6M1015.9 127.2l-3.9 2.6M1017.7 119.9l-3.9 2.6M1017.1 118.2l-3.9 2.6M1016.5 116.6l-3.9 2.6M1015.9 114.9l-1.9 1.3M1017.7 107.5l-3.9 2.6M1017.1 105.9l-3.9 2.6M1016.5 104.2l-3.9 2.6M1015.9 102.6l-1.9 1.3M1017.7 95.2l-3.9 2.6M1017.1 93.6l-3.9 2.6M1016.5 91.9l-3.9 2.6M1015.9 90.3l-1.9 1.3M1017.7 82.9l-3.9 2.6M1017.1 81.2l-3.9 2.6M1016.5 79.6l-3.9 2.6M1015.9 78.0l-1.9 1.3M1017.7 70.6l-3.9 2.6M1017.1 68.9l-3.9 2.6M1016.5 67.3l-3.9 2.6M1015.9 65.6l-1.9 1.3M1035.2 288.0l-1.9 4.3M1033.9 287.0l-1.0 2.1M1034.7 276.3l-2.2 4.2M1033.4 275.2l-2.2 4.2M1032.1 274.0l-1.1 2.1M1034.2 264.6l-2.4 4.0M1033.0 263.3l-2.4 4.0M1031.7 262.1l-2.4 4.0M1030.5 260.9l-2.4 4.0M1033.6 252.8l-2.6 3.9M1032.5 251.5l-2.6 3.9M1031.3 250.2l-2.6 3.9M1030.1 248.9l-2.6 3.9M1029.0 247.6l-1.3 1.9M1033.0 241.0L1028.5 242.5L1031.0 238.5M1032.4 229.1L1027.8 230.4L1030.6 226.5M1031.8 217.2L1027.1 218.2L1030.1 214.5M1031.1 205.3L1026.4 206.0L1029.6 202.5M1030.4 193.3L1025.7 193.8L1029.0 190.4M1029.7 181.3L1024.9 181.5L1028.5 178.3M1029.2 169.1L1024.5 169.2L1028.1 166.1M1029.2 70.6l-3.9 2.6M1028.6 68.9l-3.9 2.6M1028.0 67.3l-3.9 2.6M1027.4 65.6l-1.9 1.3" fill="none" stroke="#1c1c1c" stroke-opacity="0.88" stroke-width="1"/>
<rect x="615.3" y="49.3" width="417.0" height="236.3" fill="none" stroke="#555" stroke-width="0.8"/>
<path d="M615.3 285.6v-3.5M615.3 49.3v3.5M667.4 285.6v-3.5M667.4 49.3v3.5M719.5 285.6v-3.5M719.5 49.3v3.5M771.7 285.6v-3.5M771.7 49.3v3.5M823.8 285.6v-3.5M823.8 49.3v3.5M875.9 285.6v-3.5M875.9 49.3v3.5M928.0 285.6v-3.5M928.0 49.3v3.5M980.2 285.6v-3.5M980.2 49.3v3.5M1032.3 285.6v-3.5M1032.3 49.3v3.5M615.3 49.3h3.5M1032.3 49.3h-3.5M615.3 108.4h3.5M1032.3 108.4h-3.5M615.3 167.4h3.5M1032.3 167.4h-3.5M615.3 226.5h3.5M1032.3 226.5h-3.5M615.3 285.6h3.5M1032.3 285.6h-3.5" stroke="#555" stroke-width="0.8" fill="none"/>
<text x="615.3" y="300.9" text-anchor="middle" class="tk">00:00</text>
<text x="667.4" y="300.9" text-anchor="middle" class="tk">03:00</text>
<text x="719.5" y="300.9" text-anchor="middle" class="tk">06:00</text>
<text x="771.7" y="300.9" text-anchor="middle" class="tk">09:00</text>
<text x="823.8" y="300.9" text-anchor="middle" class="tk">12:00</text>
<text x="875.9" y="300.9" text-anchor="middle" class="tk">15:00</text>
<text x="928.0" y="300.9" text-anchor="middle" class="tk">18:00</text>
<text x="980.2" y="300.9" text-anchor="middle" class="tk">21:00</text>
<text x="1032.3" y="300.9" text-anchor="middle" class="tk">00:00</text>
<text x="611.5" y="53.5" text-anchor="end" class="tk">2000</text>
<text x="611.5" y="112.6" text-anchor="end" class="tk">1500</text>
<text x="611.5" y="171.6" text-anchor="end" class="tk">1000</text>
<text x="611.5" y="230.7" text-anchor="end" class="tk">500</text>
<text x="611.5" y="289.8" text-anchor="end" class="tk">0</text>
<text x="823.8" y="317.1" text-anchor="middle" class="lb">Time (HH:MM)</text>
<text transform="translate(582.0 167.4) rotate(-90)" text-anchor="middle" class="lb">Height (m)</text>
<text x="823.8" y="45.7" text-anchor="middle" class="tt">20240916 Horizontal Wind Speed</text>
<text x="658.0" y="109.0" class="cn">青浦</text>
<rect x="1054.2" y="49.3" width="15.6" height="236.3" fill="url(#cb)" stroke="#555" stroke-width="0.6"/>
<text x="1073.4" y="289.8" class="tk">0</text>
<text x="1073.4" y="256.0" class="tk">5</text>
<path d="M1069.8 251.8h-2" stroke="#555" stroke-width="0.6"/>
<text x="1073.4" y="222.3" class="tk">10</text>
<path d="M1069.8 218.1h-2" stroke="#555" stroke-width="0.6"/>
<text x="1073.4" y="188.5" class="tk">15</text>
<path d="M1069.8 184.3h-2" stroke="#555" stroke-width="0.6"/>
<text x="1073.4" y="154.8" class="tk">20</text>
<path d="M1069.8 150.6h-2" stroke="#555" stroke-width="0.6"/>
<text x="1073.4" y="121.0" class="tk">25</text>
<path d="M1069.8 116.8h-2" stroke="#555" stroke-width="0.6"/>
<text x="1073.4" y="87.3" class="tk">30</text>
<path d="M1069.8 83.1h-2" stroke="#555" stroke-width="0.6"/>
<text x="1073.4" y="53.5" class="tk">35</text>
<path d="M128.4 341.0V577.3M180.6 341.0V577.3M232.7 341.0V577.3M284.8 341.0V577.3M336.9 341.0V577.3M389.1 341.0V577.3M441.2 341.0V577.3M76.3 400.1H493.3M76.3 459.1H493.3M76.3 518.2H493.3" stroke="#e9e9e9" stroke-width="0.8" fill="none"/>
<g shape-rendering="crispEdges"><rect x="79.05" y="472.7" width="3.20" height="99.2" fill="url(#g2_0)"/><rect x="81.94" y="458.0" width="3.20" height="114.0" fill="url(#g2_1)"/><rect x="81.94" y="447.3" width="3.20" height="7.1" fill="url(#g2_1)"/><rect x="81.94" y="440.2" width="3.20" height="3.5" fill="url(#g2_1)"/><rect x="84.84" y="461.5" width="3.20" height="110.5" fill="url(#g2_1)"/><rect x="87.73" y="473.9" width="3.20" height="98.1" fill="url(#g2_2)"/><rect x="90.63" y="484.0" width="3.20" height="88.0" fill="url(#g2_2)"/><rect x="93.52" y="488.5" width="3.20" height="83.5" fill="url(#g2_3)"/><rect x="96.42" y="473.9" width="3.20" height="98.1" fill="url(#g2_3)"/><rect x="99.32" y="449.2" width="3.20" height="122.8" fill="url(#g2_4)"/><rect x="102.21" y="433.2" width="3.20" height="138.8" fill="url(#g2_4)"/><rect x="105.11" y="433.2" width="3.20" height="138.8" fill="url(#g2_5)"/><rect x="108.00" y="441.4" width="3.20" height="130.6" fill="url(#g2_5)"/><rect x="110.90" y="508.7" width="3.20" height="63.3" fill="url(#g2_6)"/><rect x="113.80" y="494.1" width="3.20" height="77.9" fill="url(#g2_6)"/><rect x="113.80" y="467.2" width="3.20" height="7.8" fill="url(#g2_6)"/><rect x="116.69" y="507.6" width="3.20" height="64.4" fill="url(#g2_7)"/><rect x="119.59" y="512.1" width="3.20" height="59.9" fill="url(#g2_7)"/><rect x="122.48" y="497.4" width="3.20" height="74.6" fill="url(#g2_8)"/><rect x="125.38" y="492.9" width="3.20" height="79.0" fill="url(#g2_8)"/><rect x="128.28" y="469.4" width="3.20" height="102.6" fill="url(#g2_9)"/><rect x="131.17" y="479.5" width="3.20" height="92.5" fill="url(#g2_9)"/><rect x="134.07" y="492.9" width="3.20" height="79.0" fill="url(#g2_10)"/><rect x="136.96" y="485.1" width="3.20" height="86.8" fill="url(#g2_10)"/><rect x="139.86" y="488.5" width="3.20" height="83.5" fill="url(#g2_11)"/><rect x="142.75" y="481.7" width="3.20" height="90.3" fill="url(#g2_11)"/><rect x="145.65" y="485.1" width="3.20" height="86.8" fill="url(#g2_12)"/><rect x="148.55" y="485.1" width="3.20" height="86.8" fill="url(#g2_12)"/><rect x="151.44" y="490.7" width="3.20" height="81.3" fill="url(#g2_13)"/><rect x="154.34" y="488.5" width="3.20" height="83.5" fill="url(#g2_13)"/><rect x="157.23" y="485.1" width="3.20" height="86.8" fill="url(#g2_14)"/><rect x="160.13" y="484.0" width="3.20" height="88.0" fill="url(#g2_14)"/><rect x="163.03" y="479.5" width="3.20" height="92.5" fill="url(#g2_15)"/><rect x="165.92" y="479.5" width="3.20" height="92.5" fill="url(#g2_15)"/><rect x="168.82" y="481.7" width="3.20" height="90.3" fill="url(#g2_16)"/><rect x="171.71" y="489.6" width="3.20" height="82.4" fill="url(#g2_16)"/><rect x="174.61" y="492.9" width="3.20" height="79.0" fill="url(#g2_17)"/><rect x="177.50" y="495.2" width="3.20" height="76.8" fill="url(#g2_17)"/><rect x="180.40" y="488.5" width="3.20" height="83.5" fill="url(#g2_18)"/><rect x="180.40" y="484.0" width="3.20" height="2.4" fill="url(#g2_18)"/><rect x="183.30" y="494.1" width="3.20" height="77.9" fill="url(#g2_18)"/><rect x="186.19" y="496.4" width="3.20" height="75.6" fill="url(#g2_19)"/><rect x="186.19" y="485.1" width="3.20" height="3.3" fill="url(#g2_19)"/><rect x="189.09" y="499.7" width="3.20" height="72.3" fill="url(#g2_19)"/><rect x="191.98" y="501.7" width="3.20" height="70.3" fill="url(#g2_20)"/><rect x="194.88" y="497.4" width="3.20" height="74.6" fill="url(#g2_20)"/><rect x="197.78" y="497.4" width="3.20" height="74.6" fill="url(#g2_21)"/><rect x="200.67" y="499.7" width="3.20" height="72.3" fill="url(#g2_21)"/><rect x="203.57" y="508.7" width="3.20" height="63.3" fill="url(#g2_22)"/><rect x="206.46" y="514.3" width="3.20" height="57.7" fill="url(#g2_22)"/><rect x="209.36" y="514.3" width="3.20" height="57.7" fill="url(#g2_23)"/><rect x="212.25" y="517.6" width="3.20" height="54.3" fill="url(#g2_23)"/><rect x="215.15" y="509.8" width="3.20" height="62.1" fill="url(#g2_24)"/><rect x="218.05" y="515.4" width="3.20" height="56.6" fill="url(#g2_24)"/><rect x="220.94" y="518.7" width="3.20" height="53.3" fill="url(#g2_25)"/><rect x="223.84" y="518.7" width="3.20" height="53.3" fill="url(#g2_25)"/><rect x="226.73" y="524.4" width="3.20" height="47.6" fill="url(#o2_52)"/><rect x="229.63" y="526.6" width="3.20" height="45.4" fill="url(#o2_53)"/><rect x="232.53" y="530.0" width="3.20" height="41.9" fill="url(#g2_27)"/><rect x="235.42" y="537.1" width="3.20" height="34.9" fill="url(#g2_27)"/><rect x="238.32" y="540.1" width="3.20" height="31.9" fill="url(#g2_28)"/><rect x="241.21" y="542.3" width="3.20" height="29.7" fill="url(#g2_28)"/><rect x="244.11" y="534.4" width="3.20" height="37.6" fill="url(#g2_29)"/><rect x="247.00" y="541.1" width="3.20" height="30.8" fill="url(#g2_29)"/><rect x="249.90" y="545.6" width="3.20" height="26.3" fill="url(#g2_30)"/><rect x="252.80" y="541.1" width="3.20" height="30.8" fill="url(#g2_30)"/><rect x="255.69" y="534.4" width="3.20" height="37.6" fill="url(#g2_31)"/><rect x="258.59" y="528.9" width="3.20" height="43.1" fill="url(#g2_31)"/><rect x="261.48" y="524.4" width="3.20" height="47.6" fill="url(#g2_32)"/><rect x="264.38" y="528.9" width="3.20" height="43.1" fill="url(#g2_32)"/><rect x="267.28" y="536.7" width="3.20" height="35.3" fill="url(#g2_33)"/><rect x="270.17" y="540.1" width="3.20" height="31.9" fill="url(#g2_33)"/><rect x="273.07" y="534.4" width="3.20" height="37.6" fill="url(#g2_34)"/><rect x="275.96" y="532.2" width="3.20" height="39.8" fill="url(#g2_34)"/><rect x="278.86" y="528.9" width="3.20" height="43.1" fill="url(#g2_35)"/><rect x="281.75" y="526.6" width="3.20" height="45.4" fill="url(#g2_35)"/><rect x="284.65" y="516.5" width="3.20" height="55.5" fill="url(#g2_36)"/><rect x="287.55" y="512.0" width="3.20" height="60.0" fill="url(#g2_36)"/><rect x="290.44" y="515.4" width="3.20" height="56.6" fill="url(#g2_37)"/><rect x="293.34" y="512.0" width="3.20" height="60.0" fill="url(#g2_37)"/><rect x="296.23" y="515.4" width="3.20" height="56.6" fill="url(#g2_38)"/><rect x="299.13" y="516.5" width="3.20" height="55.5" fill="url(#g2_38)"/><rect x="302.03" y="523.2" width="3.20" height="48.8" fill="url(#g2_39)"/><rect x="304.92" y="509.8" width="3.20" height="62.1" fill="url(#g2_39)"/><rect x="307.82" y="514.2" width="3.20" height="57.8" fill="url(#g2_40)"/><rect x="310.71" y="509.8" width="3.20" height="62.1" fill="url(#g2_40)"/><rect x="313.61" y="507.6" width="3.20" height="64.4" fill="url(#g2_41)"/><rect x="316.50" y="505.3" width="3.20" height="66.6" fill="url(#g2_41)"/><rect x="319.40" y="495.2" width="3.20" height="76.8" fill="url(#g2_42)"/><rect x="322.30" y="488.5" width="3.20" height="83.5" fill="url(#g2_42)"/><rect x="325.19" y="485.1" width="3.20" height="86.8" fill="url(#g2_43)"/><rect x="328.09" y="501.9" width="3.20" height="70.1" fill="url(#g2_43)"/><rect x="328.09" y="479.5" width="3.20" height="16.8" fill="url(#g2_43)"/><rect x="330.98" y="463.8" width="3.20" height="108.2" fill="url(#g2_44)"/><rect x="333.88" y="473.9" width="3.20" height="98.1" fill="url(#g2_44)"/><rect x="336.78" y="457.0" width="3.20" height="115.0" fill="url(#g2_45)"/><rect x="339.67" y="515.9" width="3.20" height="56.1" fill="url(#g2_45)"/><rect x="339.67" y="406.5" width="3.20" height="69.2" fill="url(#g2_45)"/><rect x="342.57" y="534.1" width="3.20" height="37.9" fill="url(#g2_46)"/><rect x="342.57" y="387.4" width="3.20" height="15.0" fill="url(#g2_46)"/><rect x="345.46" y="530.0" width="3.20" height="41.9" fill="url(#g2_46)"/><rect x="345.46" y="395.3" width="3.20" height="34.3" fill="url(#g2_46)"/><rect x="348.36" y="393.0" width="3.20" height="179.0" fill="url(#g2_47)"/><rect x="348.36" y="370.5" width="3.20" height="15.4" fill="url(#g2_47)"/><rect x="351.25" y="389.4" width="3.20" height="182.5" fill="url(#g2_47)"/><rect x="354.15" y="389.4" width="3.20" height="182.5" fill="url(#g2_48)"/><rect x="357.05" y="388.3" width="3.20" height="183.7" fill="url(#g2_48)"/><rect x="357.05" y="341.0" width="3.20" height="16.5" fill="url(#g2_48)"/><rect x="359.94" y="341.0" width="3.20" height="231.0" fill="url(#g2_49)"/><rect x="362.84" y="341.0" width="3.20" height="231.0" fill="url(#g2_49)"/><rect x="365.73" y="389.7" width="3.20" height="182.3" fill="url(#g2_50)"/><rect x="368.63" y="389.7" width="3.20" height="182.3" fill="url(#g2_50)"/><rect x="371.53" y="389.7" width="3.20" height="182.3" fill="url(#g2_51)"/><rect x="374.42" y="397.7" width="3.20" height="174.3" fill="url(#g2_51)"/><rect x="377.32" y="402.0" width="3.20" height="170.0" fill="url(#g2_52)"/><rect x="380.21" y="405.4" width="3.20" height="166.6" fill="url(#g2_52)"/><rect x="383.11" y="405.4" width="3.20" height="166.6" fill="url(#g2_53)"/><rect x="386.00" y="402.0" width="3.20" height="170.0" fill="url(#g2_53)"/><rect x="388.90" y="388.3" width="3.20" height="183.7" fill="url(#g2_54)"/><rect x="391.80" y="371.7" width="3.20" height="200.3" fill="url(#g2_54)"/><rect x="394.69" y="354.9" width="3.20" height="217.0" fill="url(#g2_55)"/><rect x="397.59" y="341.0" width="3.20" height="231.0" fill="url(#g2_55)"/><rect x="400.48" y="341.0" width="3.20" height="231.0" fill="url(#g2_56)"/><rect x="403.38" y="375.3" width="3.20" height="196.7" fill="url(#g2_56)"/><rect x="406.28" y="377.6" width="3.20" height="194.4" fill="url(#g2_57)"/><rect x="409.17" y="366.0" width="3.20" height="205.9" fill="url(#g2_57)"/><rect x="412.07" y="349.3" width="3.20" height="222.7" fill="url(#g2_58)"/><rect x="414.96" y="380.6" width="3.20" height="191.4" fill="url(#g2_58)"/><rect x="417.86" y="380.6" width="3.20" height="191.4" fill="url(#g2_59)"/><rect x="420.75" y="359.4" width="3.20" height="212.6" fill="url(#g2_59)"/><rect x="423.65" y="359.4" width="3.20" height="212.6" fill="url(#g2_60)"/><rect x="426.55" y="352.8" width="3.20" height="219.2" fill="url(#g2_60)"/><rect x="429.44" y="389.4" width="3.20" height="182.5" fill="url(#g2_61)"/><rect x="429.44" y="341.0" width="3.20" height="29.5" fill="url(#g2_61)"/><rect x="432.34" y="389.4" width="3.20" height="182.5" fill="url(#g2_61)"/><rect x="432.34" y="341.0" width="3.20" height="29.5" fill="url(#g2_61)"/><rect x="435.23" y="389.0" width="3.20" height="183.0" fill="url(#g2_62)"/><rect x="438.13" y="455.8" width="3.20" height="116.1" fill="url(#g2_62)"/><rect x="438.13" y="389.0" width="3.20" height="10.2" fill="url(#g2_62)"/><rect x="441.03" y="444.6" width="3.20" height="127.4" fill="url(#g2_63)"/><rect x="441.03" y="390.6" width="3.20" height="8.5" fill="url(#g2_63)"/><rect x="443.92" y="444.6" width="3.20" height="127.4" fill="url(#g2_63)"/><rect x="446.82" y="437.9" width="3.20" height="134.1" fill="url(#g2_64)"/><rect x="449.71" y="426.7" width="3.20" height="145.3" fill="url(#g2_64)"/><rect x="452.61" y="435.6" width="3.20" height="136.3" fill="url(#g2_65)"/><rect x="455.50" y="435.6" width="3.20" height="136.3" fill="url(#g2_65)"/><rect x="458.40" y="435.6" width="3.20" height="136.3" fill="url(#g2_66)"/><rect x="461.30" y="426.7" width="3.20" height="145.3" fill="url(#g2_66)"/><rect x="464.19" y="433.4" width="3.20" height="138.6" fill="url(#g2_67)"/><rect x="467.09" y="433.4" width="3.20" height="138.6" fill="url(#g2_67)"/><rect x="469.98" y="433.4" width="3.20" height="138.6" fill="url(#g2_68)"/><rect x="472.88" y="433.4" width="3.20" height="138.6" fill="url(#g2_68)"/><rect x="475.78" y="403.1" width="3.20" height="168.8" fill="url(#g2_69)"/><rect x="478.67" y="403.1" width="3.20" height="168.8" fill="url(#g2_69)"/><rect x="481.57" y="430.1" width="3.20" height="141.9" fill="url(#g2_70)"/><rect x="484.46" y="430.1" width="3.20" height="141.9" fill="url(#g2_70)"/><rect x="487.36" y="419.9" width="3.20" height="152.1" fill="url(#g2_71)"/><rect x="490.25" y="412.1" width="3.20" height="159.9" fill="url(#g2_71)"/></g>
<path clip-path="url(#clip2)" d="M80.2 571.4L80.2 557.9M80.2 559.1L81.5 545.6M80.2 546.7L82.8 533.5M80.2 534.4L84.1 521.5M80.2 522.1L85.3 509.6M80.2 509.8L85.7 497.4M80.2 497.5L85.7 485.1M80.2 485.1L85.7 472.8M80.2 472.8L85.7 460.5M91.8 571.4L91.8 557.9M91.8 559.1L93.1 545.6M91.8 546.7L94.4 533.5M91.8 534.4L95.7 521.5M91.8 522.1L96.9 509.6M91.8 509.8L97.3 497.4M91.8 497.5L97.3 485.1M91.8 485.1L97.3 472.8M103.4 571.4L103.4 557.9M103.4 559.1L104.7 545.6M103.4 546.7L106.0 533.5M103.4 534.4L107.3 521.5M103.4 522.1L108.5 509.6M103.4 509.8L108.9 497.4M103.4 497.5L108.9 485.1M103.4 485.1L108.9 472.8M103.4 472.8L108.9 460.5M103.4 460.5L108.9 448.2M103.4 448.2L108.9 435.8M103.4 435.8L108.9 423.5M115.0 571.4L115.0 557.9M115.0 559.1L116.3 545.6M115.0 546.7L117.6 533.5M115.0 534.4L118.8 521.5M115.0 522.1L120.1 509.6M115.0 509.8L120.5 497.4M115.0 497.5L120.5 485.1M126.5 571.4L126.5 557.9M126.5 559.1L127.9 545.6M126.5 546.7L129.1 533.5M126.5 534.4L130.4 521.5M126.5 522.1L131.7 509.6M126.5 509.8L132.0 497.4M126.5 497.5L132.0 485.1M138.1 571.4L138.1 557.9M138.1 559.1L139.4 545.6M138.1 546.7L140.7 533.5M138.1 534.4L142.0 521.5M138.1 522.1L143.2 509.6M138.1 509.8L143.6 497.4M138.1 497.5L143.6 485.1M138.1 485.1L143.6 472.8M149.7 571.4L149.7 557.9M149.7 559.1L151.0 545.6M149.7 546.7L152.3 533.5M149.7 534.4L153.6 521.5M149.7 522.1L154.8 509.6M149.7 509.8L155.2 497.4M149.7 497.5L155.2 485.1M149.7 485.1L155.2 472.8M161.3 571.4L161.3 557.9M161.3 559.1L162.6 545.6M161.3 546.7L163.9 533.5M161.3 534.4L165.2 521.5M161.3 522.1L166.4 509.6M161.3 509.8L166.8 497.4M161.3 497.5L166.8 485.1M161.3 485.1L166.8 472.8M172.9 571.4L172.9 557.9M172.9 559.1L174.2 545.6M172.9 546.7L175.5 533.5M172.9 534.4L176.8 521.5M172.9 522.1L178.0 509.6M172.9 509.8L178.4 497.4M172.9 497.5L178.4 485.1M184.5 571.4L182.3 558.1M184.5 559.1L183.7 545.6M184.5 546.7L185.1 533.3M184.5 534.4L186.4 521.1M184.5 522.1L187.8 509.0M184.5 509.8L188.2 496.8M184.5 497.5L188.2 484.5M196.0 571.4L190.4 559.1M196.0 559.1L191.7 546.3M196.0 546.7L193.0 533.6M196.0 534.4L194.4 521.0M196.0 522.1L195.7 508.6M196.0 509.8L196.2 496.3M196.0 497.5L196.2 484.0M207.6 571.4L197.4 562.6M207.6 559.1L198.2 549.4M207.6 546.7L199.1 536.2M207.6 534.4L200.1 523.2M207.6 522.1L201.2 510.3M219.2 571.4L206.4 567.1M219.2 559.1L206.8 553.8M219.2 546.7L207.2 540.6M219.2 534.4L207.7 527.4M219.2 522.1L208.3 514.2M230.8 571.4L218.1 576.0M230.8 559.1L217.9 563.1M230.8 546.7L217.7 550.1M230.8 534.4L217.6 537.2M242.4 571.4L235.6 583.1M242.4 559.1L235.6 570.8M242.4 546.7L235.6 558.4M254.0 571.4L248.7 583.8M254.0 559.1L248.7 571.5M254.0 546.7L248.7 559.2M265.5 571.4L260.5 583.9M265.5 559.1L260.5 571.6M265.5 546.7L260.5 559.3M265.5 534.4L260.5 546.9M277.1 571.4L272.3 584.0M277.1 559.1L272.3 571.7M277.1 546.7L272.3 559.3M277.1 534.4L272.3 547.0M288.7 571.4L284.1 584.1M288.7 559.1L284.1 571.8M288.7 546.7L284.1 559.4M288.7 534.4L284.1 547.1M288.7 522.1L284.1 534.8M300.3 571.4L299.1 584.8M300.3 559.1L299.1 572.5M300.3 546.7L299.1 560.2M300.3 534.4L299.1 547.9M300.3 522.1L299.1 535.5M311.9 571.4L311.9 584.9M311.9 559.1L311.9 572.6M311.9 546.7L311.9 560.2M311.9 534.4L311.9 547.9M311.9 522.1L311.9 535.6M311.9 509.8L311.9 523.3M323.5 571.4L323.6 584.9M323.5 559.1L323.6 572.6M323.5 546.7L323.6 560.2M323.5 534.4L323.6 547.9M323.5 522.1L323.6 535.6M323.5 509.8L323.6 523.3M323.5 497.5L323.6 511.0M335.0 571.4L335.3 584.9M335.0 559.1L335.3 572.6M335.0 546.7L335.3 560.2M335.0 534.4L335.3 547.9M335.0 522.1L335.3 535.6M335.0 509.8L335.3 523.3M335.0 497.5L335.3 511.0M335.0 485.1L335.3 498.6M335.0 472.8L335.3 486.3M346.6 571.4L347.1 584.9M346.6 559.1L347.1 572.6M346.6 546.7L347.1 560.2M346.6 534.4L347.1 547.9M346.6 522.1L347.1 535.6M346.6 509.8L347.1 523.3M346.6 497.5L347.1 510.9M346.6 485.1L347.1 498.6M346.6 472.8L347.1 486.3M346.6 460.5L347.1 474.0M346.6 448.2L347.1 461.7M346.6 435.8L347.1 449.3M346.6 423.5L347.1 437.0M346.6 411.2L347.1 424.7M346.6 398.9L347.1 412.4M358.2 571.4L358.8 584.9M358.2 559.1L358.8 572.6M358.2 546.7L358.8 560.2M358.2 534.4L358.8 547.9M358.2 522.1L358.8 535.6M358.2 509.8L358.8 523.3M358.2 497.5L358.8 510.9M358.2 485.1L358.8 498.6M358.2 472.8L358.8 486.3M358.2 460.5L358.8 474.0M358.2 448.2L358.8 461.6M358.2 435.8L358.8 449.3M358.2 423.5L358.8 437.0M358.2 411.2L358.8 424.7M358.2 398.9L358.8 412.4M358.2 349.6L358.8 363.1M369.8 571.4L371.3 584.8M369.8 559.1L371.2 572.5M369.8 546.7L371.1 560.2M369.8 534.4L371.1 547.9M369.8 522.1L371.0 535.5M369.8 509.8L370.9 523.2M369.8 497.5L370.9 510.9M369.8 485.1L370.8 498.6M369.8 472.8L370.8 486.3M369.8 460.5L370.7 474.0M369.8 448.2L370.7 461.6M369.8 435.8L370.7 449.3M369.8 423.5L370.7 437.0M369.8 411.2L370.7 424.7M369.8 398.9L370.7 412.3M381.4 571.4L385.8 584.2M381.4 559.1L385.5 571.9M381.4 546.7L385.2 559.7M381.4 534.4L384.9 547.5M381.4 522.1L384.6 535.2M381.4 509.8L384.3 523.0M381.4 497.5L384.0 510.7M381.4 485.1L383.7 498.4M381.4 472.8L383.4 486.2M381.4 460.5L383.1 473.9M381.4 448.2L382.9 461.6M381.4 435.8L382.9 449.3M381.4 423.5L382.9 436.9M381.4 411.2L382.9 424.6M393.0 571.4L400.1 582.9M393.0 559.1L399.6 570.8M393.0 546.7L399.1 558.8M393.0 534.4L398.6 546.7M393.0 522.1L398.1 534.6M393.0 509.8L397.6 522.5M393.0 497.5L397.1 510.3M393.0 485.1L396.5 498.1M393.0 472.8L396.0 486.0M393.0 460.5L395.5 473.8M393.0 448.2L395.1 461.5M393.0 435.8L395.1 449.2M393.0 423.5L395.1 436.8M393.0 411.2L395.1 424.5M393.0 398.9L395.1 412.2M393.0 386.5L395.1 399.9M393.0 374.2L395.1 387.5M404.5 571.4L412.8 582.1M404.5 559.1L412.3 570.2M404.5 546.7L411.7 558.2M404.5 534.4L411.1 546.2M404.5 522.1L410.6 534.2M404.5 509.8L410.0 522.1M404.5 497.5L409.4 510.1M404.5 485.1L408.8 498.0M404.5 472.8L408.1 485.8M404.5 460.5L407.5 473.7M404.5 448.2L407.1 461.4M404.5 435.8L407.1 449.1M404.5 423.5L407.1 436.8M404.5 411.2L407.1 424.4M404.5 398.9L407.1 412.1M404.5 386.5L407.1 399.8M404.5 374.2L407.1 387.5M416.1 571.4L425.0 581.6M416.1 559.1L424.5 569.7M416.1 546.7L423.9 557.8M416.1 534.4L423.3 545.9M416.1 522.1L422.7 533.9M416.1 509.8L422.1 521.9M416.1 497.5L421.4 509.9M416.1 485.1L420.8 497.8M416.1 472.8L420.1 485.7M416.1 460.5L419.4 473.6M416.1 448.2L419.0 461.4M416.1 435.8L419.0 449.0M416.1 423.5L419.0 436.7M416.1 411.2L419.0 424.4M416.1 398.9L419.0 412.1M416.1 386.5L419.0 399.7M427.7 571.4L437.2 581.0M427.7 559.1L436.6 569.2M427.7 546.7L436.0 557.4M427.7 534.4L435.4 545.5M427.7 522.1L434.8 533.6M427.7 509.8L434.1 521.6M427.7 497.5L433.5 509.7M427.7 485.1L432.8 497.6M427.7 472.8L432.1 485.6M427.7 460.5L431.3 473.5M427.7 448.2L430.9 461.3M427.7 435.8L430.9 449.0M427.7 423.5L430.9 436.6M427.7 411.2L430.9 424.3M427.7 398.9L430.9 412.0M427.7 386.5L430.9 399.7M427.7 374.2L430.9 387.3M427.7 361.9L430.9 375.0M439.3 571.4L449.3 580.4M439.3 559.1L448.8 568.7M439.3 546.7L448.2 556.9M439.3 534.4L447.5 545.1M439.3 522.1L446.9 533.3M439.3 509.8L446.2 521.4M439.3 497.5L445.5 509.4M439.3 485.1L444.8 497.5M439.3 472.8L444.0 485.5M439.3 460.5L443.2 473.4M450.9 571.4L461.0 580.3M450.9 559.1L460.4 568.6M450.9 546.7L459.9 556.8M450.9 534.4L459.2 545.0M450.9 522.1L458.6 533.2M450.9 509.8L457.9 521.3M450.9 497.5L457.3 509.4M450.9 485.1L456.5 497.4M450.9 472.8L455.8 485.4M450.9 460.5L455.1 473.3M450.9 448.2L454.6 461.1M450.9 435.8L454.6 448.8M462.5 571.4L472.6 580.3M462.5 559.1L472.1 568.5M462.5 546.7L471.5 556.7M462.5 534.4L471.0 544.9M462.5 522.1L470.3 533.1M462.5 509.8L469.7 521.2M462.5 497.5L469.0 509.3M462.5 485.1L468.3 497.3M462.5 472.8L467.6 485.3M462.5 460.5L466.9 473.2M462.5 448.2L466.5 461.1M462.5 435.8L466.5 448.7M474.0 571.4L484.3 580.2M474.0 559.1L483.8 568.4M474.0 546.7L483.2 556.6M474.0 534.4L482.7 544.8M474.0 522.1L482.1 533.0M474.0 509.8L481.4 521.1M474.0 497.5L480.8 509.2M474.0 485.1L480.1 497.2M474.0 472.8L479.4 485.2M474.0 460.5L478.7 473.2M474.0 448.2L478.3 461.0M474.0 435.8L478.3 448.7M485.6 571.4L495.9 580.1M485.6 559.1L495.4 568.3M485.6 546.7L494.9 556.5M485.6 534.4L494.4 544.7M485.6 522.1L493.8 532.9M485.6 509.8L493.2 521.0M485.6 497.5L492.5 509.1M485.6 485.1L491.9 497.1M485.6 472.8L491.2 485.1M485.6 460.5L490.5 473.1M485.6 448.2L490.1 460.9M485.6 435.8L490.1 448.6" fill="none" stroke="#1c1c1c" stroke-opacity="0.88" stroke-width="0.95"/><path clip-path="url(#clipf2)" d="M80.2 557.9l4.6 -1.1M80.2 559.6l4.6 -1.1M81.5 545.6l4.6 -0.7M81.3 547.4l4.6 -0.7M81.2 549.1l4.6 -0.7M81.0 550.9l2.3 -0.3M82.8 533.5l4.7 -0.2M82.5 535.2l4.7 -0.2M82.1 536.9l4.7 -0.2M81.8 538.7l4.7 -0.2M84.1 521.5L87.9 524.3L83.2 524.6M85.3 509.6L88.8 512.8L84.1 512.6M83.8 513.3l2.3 0.3M85.7 497.4L89.1 500.7L84.4 500.4M84.1 501.1l2.3 0.4M85.7 485.1L89.1 488.4L84.4 488.0M84.1 488.8l4.6 0.8M85.7 472.8L89.1 476.1L84.4 475.7M84.1 476.5l4.6 0.8M85.7 460.5L89.1 463.8L84.4 463.4M84.1 464.1l4.6 0.8M91.8 557.9l4.6 -1.1M91.8 559.6l4.6 -1.1M93.1 545.6l4.6 -0.7M92.9 547.4l4.6 -0.7M92.8 549.1l4.6 -0.7M92.6 550.9l2.3 -0.3M94.4 533.5l4.7 -0.2M94.1 535.2l4.7 -0.2M93.7 536.9l4.7 -0.2M93.4 538.7l4.7 -0.2M95.7 521.5L99.5 524.3L94.8 524.6M96.9 509.6L100.4 512.8L95.7 512.6M95.4 513.3l2.3 0.3M97.3 497.4L100.7 500.7L96.0 500.4M95.7 501.1l2.3 0.4M97.3 485.1L100.7 488.4L96.0 488.0M95.7 488.8l4.6 0.8M97.3 472.8L100.7 476.1L96.0 475.7M95.7 476.5l4.6 0.8M103.4 557.9l4.6 -1.1M103.4 559.6l4.6 -1.1M104.7 545.6l4.6 -0.7M104.5 547.4l4.6 -0.7M104.3 549.1l4.6 -0.7M104.2 550.9l2.3 -0.3M106.0 533.5l4.7 -0.2M105.6 535.2l4.7 -0.2M105.3 536.9l4.7 -0.2M105.0 538.7l4.7 -0.2M107.3 521.5L111.1 524.3L106.3 524.6M108.5 509.6L112.0 512.8L107.3 512.6M107.0 513.3l2.3 0.3M108.9 497.4L112.3 500.7L107.6 500.4M107.2 501.1l2.3 0.4M108.9 485.1L112.3 488.4L107.6 488.0M107.2 488.8l4.6 0.8M108.9 472.8L112.3 476.1L107.6 475.7M107.2 476.5l4.6 0.8M108.9 460.5L112.3 463.8L107.6 463.4M107.2 464.1l4.6 0.8M108.9 448.2L112.3 451.4L107.6 451.1M107.2 451.8l4.6 0.8M108.9 435.8L112.3 439.1L107.6 438.8M107.2 439.5l4.6 0.8M106.5 441.1l2.3 0.4M108.9 423.5L112.3 426.8L107.6 426.4M107.2 427.2l4.6 0.8M106.5 428.8l2.3 0.4M115.0 557.9l4.6 -1.1M115.0 559.6l4.6 -1.1M116.3 545.6l4.6 -0.7M116.1 547.4l4.6 -0.7M115.9 549.1l4.6 -0.7M115.8 550.9l2.3 -0.3M117.6 533.5l4.7 -0.2M117.2 535.2l4.7 -0.2M116.9 536.9l4.7 -0.2M116.6 538.7l4.7 -0.2M118.8 521.5L122.7 524.3L117.9 524.6M120.1 509.6L123.6 512.8L118.9 512.6M118.6 513.3l2.3 0.3M120.5 497.4L123.9 500.7L119.1 500.4M118.8 501.1l2.3 0.4M120.5 485.1L123.9 488.4L119.1 488.0M118.8 488.8l4.6 0.8M126.5 557.9l4.6 -1.1M126.5 559.6l4.6 -1.1M127.9 545.6l4.6 -0.7M127.7 547.4l4.6 -0.7M127.5 549.1l4.6 -0.7M127.3 550.9l2.3 -0.3M129.1 533.5l4.7 -0.2M128.8 535.2l4.7 -0.2M128.5 536.9l4.7 -0.2M128.1 538.7l4.7 -0.2M130.4 521.5L134.2 524.3L129.5 524.6M131.7 509.6L135.2 512.8L130.4 512.6M130.1 513.3l2.3 0.3M132.0 497.4L135.5 500.7L130.7 500.4M130.4 501.1l2.3 0.4M132.0 485.1L135.5 488.4L130.7 488.0M130.4 488.8l4.6 0.8M138.1 557.9l4.6 -1.1M138.1 559.6l4.6 -1.1M139.4 545.6l4.6 -0.7M139.3 547.4l4.6 -0.7M139.1 549.1l4.6 -0.7M138.9 550.9l2.3 -0.3M140.7 533.5l4.7 -0.2M140.4 535.2l4.7 -0.2M140.1 536.9l4.7 -0.2M139.7 538.7l4.7 -0.2M142.0 521.5L145.8 524.3L141.1 524.6M143.2 509.6L146.8 512.8L142.0 512.6M141.7 513.3l2.3 0.3M143.6 497.4L147.0 500.7L142.3 500.4M142.0 501.1l2.3 0.4M143.6 485.1L147.0 488.4L142.3 488.0M142.0 488.8l4.6 0.8M143.6 472.8L147.0 476.1L142.3 475.7M142.0 476.5l4.6 0.8M149.7 557.9l4.6 -1.1M149.7 559.6l4.6 -1.1M151.0 545.6l4.6 -0.7M150.8 547.4l4.6 -0.7M150.7 549.1l4.6 -0.7M150.5 550.9l2.3 -0.3M152.3 533.5l4.7 -0.2M152.0 535.2l4.7 -0.2M151.6 536.9l4.7 -0.2M151.3 538.7l4.7 -0.2M153.6 521.5L157.4 524.3L152.7 524.6M154.8 509.6L158.3 512.8L153.6 512.6M153.3 513.3l2.3 0.3M155.2 497.4L158.6 500.7L153.9 500.4M153.6 501.1l2.3 0.4M155.2 485.1L158.6 488.4L153.9 488.0M153.6 488.8l4.6 0.8M155.2 472.8L158.6 476.1L153.9 475.7M153.6 476.5l4.6 0.8M161.3 557.9l4.6 -1.1M161.3 559.6l4.6 -1.1M162.6 545.6l4.6 -0.7M162.4 547.4l4.6 -0.7M162.3 549.1l4.6 -0.7M162.1 550.9l2.3 -0.3M163.9 533.5l4.7 -0.2M163.6 535.2l4.7 -0.2M163.2 536.9l4.7 -0.2M162.9 538.7l4.7 -0.2M165.2 521.5L169.0 524.3L164.3 524.6M166.4 509.6L169.9 512.8L165.2 512.6M164.9 513.3l2.3 0.3M166.8 497.4L170.2 500.7L165.5 500.4M165.2 501.1l2.3 0.4M166.8 485.1L170.2 488.4L165.5 488.0M165.2 488.8l4.6 0.8M166.8 472.8L170.2 476.1L165.5 475.7M165.2 476.5l4.6 0.8M172.9 557.9l4.6 -1.1M172.9 559.6l4.6 -1.1M174.2 545.6l4.6 -0.7M174.0 547.4l4.6 -0.7M173.8 549.1l4.6 -0.7M173.7 550.9l2.3 -0.3M175.5 533.5l4.7 -0.2M175.1 535.2l4.7 -0.2M174.8 536.9l4.7 -0.2M174.5 538.7l4.7 -0.2M176.8 521.5L180.6 524.3L175.8 524.6M178.0 509.6L181.5 512.8L176.8 512.6M176.5 513.3l2.3 0.3M178.4 497.4L181.8 500.7L177.1 500.4M176.7 501.1l2.3 0.4M178.4 485.1L181.8 488.4L177.1 488.0M176.7 488.8l4.6 0.8M182.3 558.1l4.3 -1.8M182.6 559.8l4.3 -1.8M183.7 545.6l4.5 -1.4M183.8 547.3l4.5 -1.4M183.9 549.1l4.5 -1.4M184.0 550.8l2.2 -0.7M185.1 533.3l4.6 -0.9M185.0 535.0l4.6 -0.9M184.9 536.8l4.6 -0.9M184.8 538.5l4.6 -0.9M184.8 540.3l2.3 -0.5M186.4 521.1L190.6 523.3L186.0 524.2M187.8 509.0L191.7 511.7L187.0 512.1M186.8 512.9l2.3 0.0M188.2 496.8L192.0 499.6L187.3 499.9M187.1 500.6l4.7 0.2M188.2 484.5L192.0 487.2L187.3 487.6M187.1 488.3l4.7 0.2M190.4 559.1l3.7 -2.9M191.1 560.7l3.7 -2.9M191.9 562.3l1.8 -1.5M191.7 546.3l3.9 -2.5M192.2 548.0l3.9 -2.5M192.8 549.6l3.9 -2.5M193.4 551.3l3.9 -2.5M193.0 533.6L197.7 534.1L193.7 536.7M194.4 521.0L199.0 522.1L194.8 524.2M194.9 525.0l4.4 -1.7M195.7 508.6L200.2 510.1L195.8 511.8M195.8 512.6l4.5 -1.2M195.9 514.4l2.3 -0.6M196.2 496.3L200.6 497.9L196.1 499.5M196.1 500.3l4.6 -1.1M196.1 502.0l4.6 -1.1M196.2 484.0L200.6 485.6L196.1 487.2M196.1 488.0l4.6 -1.1M196.1 489.7l4.6 -1.1M197.4 562.6l2.1 -4.2M198.7 563.7l2.1 -4.2M200.1 564.9l2.1 -4.2M198.2 549.4l2.5 -4.0M199.5 550.6l2.5 -4.0M200.7 551.9l2.5 -4.0M201.9 553.1l2.5 -4.0M203.1 554.4l1.2 -2.0M199.1 536.2L203.6 534.7L201.2 538.7M201.7 539.4l2.8 -3.7M200.1 523.2L204.7 522.0L201.9 525.9M202.3 526.5l3.2 -3.5M203.3 528.0l3.2 -3.5M201.2 510.3L205.8 509.5L202.7 513.1M203.1 513.8l3.5 -3.2M203.9 515.3l3.5 -3.2M204.8 516.8l1.7 -1.6M206.4 567.1l0.4 -4.7M208.1 567.7l0.4 -4.7M209.7 568.2l0.4 -4.7M206.8 553.8L210.0 550.3L209.7 555.1M207.2 540.6L210.7 537.3L210.0 542.0M210.8 542.4l1.1 -4.6M207.7 527.4L211.4 524.4L210.4 529.0M211.1 529.5l1.4 -4.5M212.6 530.4l1.4 -4.5M214.1 531.3l0.7 -2.2M208.3 514.2L212.2 511.5L210.9 516.1M211.5 516.5l1.8 -4.4M212.9 517.6l1.8 -4.4M214.3 518.6l1.8 -4.4M218.1 576.0L218.1 571.3L221.1 574.9M221.9 574.6l-1.3 -1.9M217.9 563.1L218.1 558.3L221.0 562.1M221.7 561.9l-2.4 -4.0M223.4 561.4l-2.4 -4.0M217.7 550.1L218.2 545.4L220.8 549.3M221.6 549.1l-2.2 -4.1M223.3 548.7l-2.2 -4.1M225.0 548.2l-1.1 -2.1M217.6 537.2L218.2 532.5L220.7 536.5M221.5 536.3l-2.0 -4.2M223.2 536.0l-2.0 -4.2M224.9 535.6l-2.0 -4.2M235.6 583.1L232.6 579.5L237.2 580.3M237.6 579.6l-2.3 -0.7M235.6 570.8L232.6 567.1L237.2 568.0M237.6 567.3l-4.5 -1.3M238.5 565.8l-4.5 -1.3M235.6 558.4L232.6 554.8L237.2 555.7M237.6 555.0l-4.5 -1.3M238.5 553.5l-4.5 -1.3M239.4 551.9l-2.3 -0.7M248.7 583.8L245.2 580.6L249.9 580.9M250.2 580.1l-4.6 -0.7M248.7 571.5L245.2 568.3L249.9 568.6M250.2 567.8l-4.6 -0.7M250.9 566.2l-4.6 -0.7M248.7 559.2L245.2 556.0L249.9 556.2M250.2 555.5l-4.6 -0.7M250.9 553.9l-4.6 -0.7M251.6 552.3l-2.3 -0.4M260.5 583.9L256.9 580.8L261.7 580.9M262.0 580.2l-4.6 -0.7M260.5 571.6L256.9 568.4L261.7 568.6M262.0 567.9l-4.6 -0.7M262.6 566.3l-4.6 -0.7M260.5 559.3L256.9 556.1L261.7 556.3M262.0 555.6l-4.6 -0.7M262.6 553.9l-4.6 -0.7M263.3 552.3l-2.3 -0.3M260.5 546.9L256.9 543.8L261.7 544.0M262.0 543.2l-4.6 -0.7M262.6 541.6l-4.6 -0.7M263.3 540.0l-4.6 -0.7M272.3 584.0L268.7 580.9L273.4 581.0M273.7 580.3l-4.7 -0.6M272.3 571.7L268.7 568.6L273.4 568.7M273.7 567.9l-4.7 -0.6M274.3 566.3l-2.3 -0.3M272.3 559.3L268.7 556.3L273.4 556.4M273.7 555.6l-4.7 -0.6M274.3 554.0l-4.7 -0.6M275.0 552.3l-2.3 -0.3M272.3 547.0L268.7 543.9L273.4 544.0M273.7 543.3l-4.7 -0.6M274.3 541.7l-4.7 -0.6M275.0 540.0l-2.3 -0.3M284.1 584.1l-4.7 -0.5M284.7 582.4l-4.7 -0.5M285.3 580.8l-4.7 -0.5M285.9 579.1l-4.7 -0.5M284.1 571.8L280.4 568.7L285.2 568.7M285.5 568.0l-2.3 -0.2M284.1 559.4L280.4 556.4L285.2 556.4M285.5 555.7l-4.7 -0.5M284.1 547.1L280.4 544.1L285.2 544.1M285.5 543.4l-4.7 -0.5M286.1 541.7l-2.3 -0.2M284.1 534.8L280.4 531.8L285.2 531.8M285.5 531.0l-4.7 -0.5M286.1 529.4l-4.7 -0.5M299.1 584.8l-4.6 0.7M299.3 583.1l-4.6 0.7M299.4 581.4l-4.6 0.7M299.1 572.5l-4.6 0.7M299.3 570.8l-4.6 0.7M299.4 569.0l-4.6 0.7M299.6 567.3l-4.6 0.7M299.7 565.5l-2.3 0.4M299.1 560.2L294.8 558.2L299.4 557.0M299.5 556.2l-2.3 0.4M299.1 547.9L294.8 545.9L299.4 544.7M299.5 543.9l-4.6 0.7M299.1 535.5L294.8 533.6L299.4 532.4M299.5 531.6l-4.6 0.7M311.9 584.9l-4.6 1.1M311.9 583.1l-4.6 1.1M311.9 581.4l-2.3 0.6M311.9 572.6l-4.6 1.1M311.9 570.8l-4.6 1.1M311.9 569.1l-4.6 1.1M311.9 567.3l-2.3 0.6M311.9 560.2l-4.6 1.1M311.9 558.5l-4.6 1.1M311.9 556.7l-4.6 1.1M311.9 555.0l-4.6 1.1M311.9 553.2l-2.3 0.6M311.9 547.9L307.4 546.3L311.9 544.7M311.9 535.6L307.4 534.0L311.9 532.4M311.9 523.3L307.4 521.7L311.9 520.1M323.6 584.9l-4.5 1.2M323.6 583.1l-4.5 1.2M323.6 572.6l-4.5 1.2M323.6 570.8l-4.5 1.2M323.6 569.1l-4.5 1.2M323.6 567.3l-2.3 0.6M323.6 560.2l-4.5 1.2M323.6 558.5l-4.5 1.2M323.6 556.7l-4.5 1.2M323.6 555.0l-4.5 1.2M323.6 547.9l-4.5 1.2M323.6 546.2l-4.5 1.2M323.6 544.4l-4.5 1.2M323.6 542.7l-4.5 1.2M323.5 540.9l-2.3 0.6M323.6 535.6L319.1 534.0L323.6 532.4M323.6 523.3L319.1 521.7L323.6 520.1M323.6 511.0L319.1 509.4L323.6 507.8M335.3 584.9l-4.5 1.2M335.3 583.1l-4.5 1.2M335.3 572.6l-4.5 1.2M335.3 570.8l-4.5 1.2M335.3 569.1l-4.5 1.2M335.3 560.2l-4.5 1.2M335.3 558.5l-4.5 1.2M335.3 556.7l-4.5 1.2M335.2 555.0l-4.5 1.2M335.3 547.9l-4.5 1.2M335.3 546.2l-4.5 1.2M335.3 544.4l-4.5 1.2M335.2 542.7l-4.5 1.2M335.2 540.9l-2.3 0.6M335.3 535.6l-4.5 1.2M335.3 533.8l-4.5 1.2M335.3 532.1l-4.5 1.2M335.2 530.3l-4.5 1.2M335.2 528.6l-2.3 0.6M335.3 523.3L330.8 521.8L335.3 520.1M335.3 511.0L330.8 509.4L335.3 507.8M335.3 498.6L330.8 497.1L335.3 495.4M335.3 486.3L330.8 484.8L335.3 483.1M347.1 584.9l-4.5 1.3M347.0 583.1l-4.5 1.3M347.1 572.6l-4.5 1.3M347.0 570.8l-4.5 1.3M347.0 569.1l-4.5 1.3M347.1 560.2l-4.5 1.3M347.0 558.5l-4.5 1.3M347.0 556.7l-4.5 1.3M346.9 555.0l-4.5 1.3M347.1 547.9l-4.5 1.3M347.0 546.2l-4.5 1.3M347.0 544.4l-4.5 1.3M346.9 542.7l-4.5 1.3M346.8 540.9l-2.3 0.6M347.1 535.6l-4.5 1.3M347.0 533.8l-4.5 1.3M347.0 532.1l-4.5 1.3M346.9 530.3l-4.5 1.3M346.8 528.6l-2.3 0.6M347.1 523.3l-4.5 1.3M347.0 521.5l-4.5 1.3M347.0 519.8l-4.5 1.3M346.9 518.0l-4.5 1.3M346.8 516.3l-2.3 0.6M347.1 510.9l-4.5 1.3M347.0 509.2l-4.5 1.3M347.0 507.4l-4.5 1.3M346.9 505.7l-4.5 1.3M346.8 504.0l-2.3 0.6M347.1 498.6l-4.5 1.3M347.0 496.9l-4.5 1.3M347.0 495.1l-4.5 1.3M346.9 493.4l-4.5 1.3M346.8 491.6l-2.3 0.6M347.1 486.3l-4.5 1.3M347.0 484.6l-4.5 1.3M347.0 482.8l-4.5 1.3M346.9 481.1l-4.5 1.3M346.8 479.3l-2.3 0.6M347.1 474.0L342.6 472.5L347.0 470.8M347.1 461.7L342.6 460.2L347.0 458.5M347.1 449.3L342.6 447.9L347.0 446.1M347.1 437.0L342.6 435.6L347.0 433.8M347.1 424.7L342.6 423.2L347.0 421.5M347.1 412.4L342.6 410.9L347.0 409.2M358.8 584.9l-4.5 1.3M358.7 583.1l-4.5 1.3M358.8 572.6l-4.5 1.3M358.7 570.8l-4.5 1.3M358.7 569.1l-4.5 1.3M358.8 560.2l-4.5 1.3M358.7 558.5l-4.5 1.3M358.7 556.7l-4.5 1.3M358.6 555.0l-4.5 1.3M358.8 547.9l-4.5 1.3M358.7 546.2l-4.5 1.3M358.7 544.4l-4.5 1.3M358.6 542.7l-4.5 1.3M358.8 535.6l-4.5 1.3M358.7 533.8l-4.5 1.3M358.7 532.1l-4.5 1.3M358.6 530.3l-4.5 1.3M358.5 528.6l-2.3 0.7M358.8 523.3l-4.5 1.3M358.7 521.5l-4.5 1.3M358.7 519.8l-4.5 1.3M358.6 518.0l-4.5 1.3M358.5 516.3l-2.3 0.7M358.8 510.9l-4.5 1.3M358.7 509.2l-4.5 1.3M358.7 507.4l-4.5 1.3M358.6 505.7l-4.5 1.3M358.5 503.9l-2.3 0.7M358.8 498.6l-4.5 1.3M358.7 496.9l-4.5 1.3M358.7 495.1l-4.5 1.3M358.6 493.4l-4.5 1.3M358.5 491.6l-2.3 0.7M358.8 486.3l-4.5 1.3M358.7 484.5l-4.5 1.3M358.7 482.8l-4.5 1.3M358.6 481.1l-4.5 1.3M358.5 479.3l-2.3 0.7M358.8 474.0l-4.5 1.3M358.7 472.2l-4.5 1.3M358.7 470.5l-4.5 1.3M358.6 468.7l-4.5 1.3M358.5 467.0l-2.3 0.7M358.8 461.6L354.3 460.2L358.7 458.5M358.8 449.3L354.3 447.9L358.7 446.1M358.8 437.0L354.3 435.6L358.7 433.8M358.8 424.7L354.3 423.3L358.7 421.5M358.8 412.4L354.3 411.0L358.7 409.2M358.8 363.1L354.3 361.7L358.7 359.9M358.6 359.1l-2.3 0.7M371.3 584.8l-4.4 1.6M371.1 583.1l-4.4 1.6M371.2 572.5l-4.4 1.6M371.0 570.8l-4.4 1.6M370.8 569.0l-4.4 1.6M371.1 560.2l-4.4 1.6M371.0 558.4l-4.4 1.6M370.8 556.7l-4.4 1.6M370.6 555.0l-2.2 0.8M371.1 547.9l-4.4 1.6M370.9 546.1l-4.4 1.6M370.7 544.4l-4.4 1.6M370.6 542.6l-4.4 1.6M371.0 535.5l-4.4 1.5M370.8 533.8l-4.4 1.5M370.7 532.1l-4.4 1.5M370.5 530.3l-4.4 1.5M370.9 523.2l-4.4 1.5M370.8 521.5l-4.4 1.5M370.6 519.7l-4.4 1.5M370.5 518.0l-4.4 1.5M370.9 510.9l-4.5 1.5M370.7 509.2l-4.5 1.5M370.6 507.4l-4.5 1.5M370.5 505.7l-4.5 1.5M370.8 498.6l-4.5 1.5M370.7 496.8l-4.5 1.5M370.6 495.1l-4.5 1.5M370.4 493.4l-4.5 1.5M370.8 486.3l-4.5 1.5M370.6 484.5l-4.5 1.5M370.5 482.8l-4.5 1.5M370.4 481.0l-4.5 1.5M370.7 474.0l-4.5 1.4M370.6 472.2l-4.5 1.4M370.5 470.5l-4.5 1.4M370.3 468.7l-4.5 1.4M370.2 467.0l-2.2 0.7M370.7 461.6l-4.5 1.4M370.6 459.9l-4.5 1.4M370.4 458.1l-4.5 1.4M370.3 456.4l-4.5 1.4M370.2 454.6l-2.2 0.7M370.7 449.3l-4.5 1.4M370.6 447.6l-4.5 1.4M370.4 445.8l-4.5 1.4M370.3 444.1l-4.5 1.4M370.2 442.3l-2.2 0.7M370.7 437.0l-4.5 1.4M370.6 435.2l-4.5 1.4M370.4 433.5l-4.5 1.4M370.3 431.7l-4.5 1.4M370.2 430.0l-2.2 0.7M370.7 424.7l-4.5 1.4M370.6 422.9l-4.5 1.4M370.4 421.2l-4.5 1.4M370.3 419.4l-4.5 1.4M370.2 417.7l-2.2 0.7M370.7 412.3l-4.5 1.4M370.6 410.6l-4.5 1.4M370.4 408.8l-4.5 1.4M370.3 407.1l-4.5 1.4M370.2 405.4l-2.2 0.7M385.8 584.2l-3.9 2.6M385.2 582.5l-3.9 2.6M385.5 571.9l-4.0 2.5M384.9 570.3l-4.0 2.5M384.4 568.6l-4.0 2.5M385.2 559.7l-4.1 2.4M384.7 558.0l-4.1 2.4M384.2 556.3l-4.1 2.4M383.7 554.7l-2.0 1.2M384.9 547.5l-4.1 2.3M384.4 545.8l-4.1 2.3M384.0 544.1l-4.1 2.3M383.5 542.4l-2.1 1.1M384.6 535.2l-4.2 2.2M384.2 533.5l-4.2 2.2M383.8 531.8l-4.2 2.2M383.3 530.1l-4.2 2.2M384.3 523.0l-4.2 2.1M383.9 521.2l-4.2 2.1M383.5 519.5l-4.2 2.1M383.2 517.8l-4.2 2.1M384.0 510.7l-4.3 2.0M383.7 509.0l-4.3 2.0M383.3 507.3l-4.3 2.0M383.0 505.5l-4.3 2.0M383.7 498.4l-4.3 1.9M383.4 496.7l-4.3 1.9M383.1 495.0l-4.3 1.9M382.8 493.3l-4.3 1.9M383.4 486.2l-4.3 1.8M383.1 484.4l-4.3 1.8M382.9 482.7l-4.3 1.8M382.6 481.0l-4.3 1.8M383.1 473.9l-4.4 1.7M382.9 472.1l-4.4 1.7M382.6 470.4l-4.4 1.7M382.4 468.7l-4.4 1.7M382.9 461.6l-4.4 1.6M382.7 459.8l-4.4 1.6M382.5 458.1l-4.4 1.6M382.3 456.4l-4.4 1.6M382.9 449.3l-4.4 1.6M382.7 447.5l-4.4 1.6M382.5 445.8l-4.4 1.6M382.3 444.0l-4.4 1.6M382.9 436.9l-4.4 1.6M382.7 435.2l-4.4 1.6M382.5 433.5l-4.4 1.6M382.3 431.7l-4.4 1.6M382.9 424.6l-4.4 1.6M382.7 422.9l-4.4 1.6M382.5 421.1l-4.4 1.6M382.3 419.4l-4.4 1.6M400.1 582.9l-3.3 3.4M399.2 581.4l-3.3 3.4M399.6 570.8l-3.4 3.2M398.7 569.3l-3.4 3.2M397.9 567.8l-3.4 3.2M399.1 558.8l-3.5 3.1M398.3 557.2l-3.5 3.1M397.5 555.6l-3.5 3.1M396.7 554.1l-1.8 1.5M398.6 546.7l-3.7 2.9M397.9 545.1l-3.7 2.9M397.1 543.5l-3.7 2.9M396.4 541.9l-1.8 1.5M398.1 534.6l-3.8 2.8M397.4 533.0l-3.8 2.8M396.8 531.3l-3.8 2.8M396.1 529.7l-1.9 1.4M397.6 522.5l-3.9 2.6M397.0 520.8l-3.9 2.6M396.4 519.2l-3.9 2.6M395.8 517.5l-1.9 1.3M397.1 510.3l-4.0 2.5M396.5 508.6l-4.0 2.5M396.0 507.0l-4.0 2.5M395.5 505.3l-2.0 1.2M396.5 498.1l-4.1 2.3M396.1 496.5l-4.1 2.3M395.6 494.8l-4.1 2.3M395.1 493.1l-2.0 1.1M396.0 486.0l-4.2 2.1M395.6 484.3l-4.2 2.1M395.2 482.6l-4.2 2.1M394.8 480.8l-2.1 1.1M395.5 473.8l-4.3 2.0M395.1 472.0l-4.3 2.0M394.8 470.3l-4.3 2.0M394.5 468.6l-4.3 2.0M395.1 461.5l-4.3 1.8M394.9 459.8l-4.3 1.8M394.6 458.0l-4.3 1.8M394.3 456.3l-4.3 1.8M395.1 449.2l-4.3 1.8M394.9 447.4l-4.3 1.8M394.6 445.7l-4.3 1.8M394.3 444.0l-4.3 1.8M395.1 436.8l-4.3 1.8M394.9 435.1l-4.3 1.8M394.6 433.4l-4.3 1.8M394.3 431.7l-4.3 1.8M395.1 424.5l-4.3 1.8M394.9 422.8l-4.3 1.8M394.6 421.1l-4.3 1.8M394.3 419.3l-4.3 1.8M395.1 412.2l-4.3 1.8M394.9 410.5l-4.3 1.8M394.6 408.7l-4.3 1.8M394.3 407.0l-4.3 1.8M395.1 399.9l-4.3 1.8M394.9 398.1l-4.3 1.8M394.6 396.4l-4.3 1.8M394.3 394.7l-4.3 1.8M395.1 387.5l-4.3 1.8M394.9 385.8l-4.3 1.8M394.6 384.1l-4.3 1.8M394.3 382.4l-4.3 1.8M412.8 582.1l-2.9 3.7M411.7 580.7l-2.9 3.7M412.3 570.2l-3.1 3.5M411.3 568.7l-3.1 3.5M410.3 567.3l-3.1 3.5M411.7 558.2l-3.3 3.4M410.8 556.7l-3.3 3.4M409.8 555.2l-3.3 3.4M408.9 553.7l-1.6 1.7M411.1 546.2l-3.4 3.2M410.3 544.7l-3.4 3.2M409.4 543.1l-3.4 3.2M408.6 541.6l-1.7 1.6M410.6 534.2l-3.6 3.0M409.8 532.6l-3.6 3.0M409.0 531.0l-3.6 3.0M408.2 529.5l-1.8 1.5M410.0 522.1l-3.7 2.9M409.3 520.5l-3.7 2.9M408.6 518.9l-3.7 2.9M407.9 517.3l-1.9 1.4M409.4 510.1l-3.9 2.7M408.7 508.4l-3.9 2.7M408.1 506.8l-3.9 2.7M407.5 505.2l-1.9 1.3M408.8 498.0l-4.0 2.5M408.2 496.3l-4.0 2.5M407.7 494.6l-4.0 2.5M407.1 493.0l-2.0 1.2M408.1 485.8l-4.1 2.3M407.7 484.1l-4.1 2.3M407.2 482.4l-4.1 2.3M406.7 480.8l-2.0 1.1M407.5 473.7l-4.2 2.1M407.1 472.0l-4.2 2.1M406.7 470.2l-4.2 2.1M406.3 468.5l-2.1 1.0M407.1 461.4l-4.3 2.0M406.8 459.7l-4.3 2.0M406.5 458.0l-4.3 2.0M406.1 456.3l-2.1 1.0M407.1 449.1l-4.3 2.0M406.8 447.4l-4.3 2.0M406.5 445.7l-4.3 2.0M406.1 443.9l-4.3 2.0M407.1 436.8l-4.3 2.0M406.8 435.1l-4.3 2.0M406.5 433.3l-4.3 2.0M406.1 431.6l-4.3 2.0M407.1 424.4l-4.3 2.0M406.8 422.7l-4.3 2.0M406.5 421.0l-4.3 2.0M406.1 419.3l-4.3 2.0M407.1 412.1l-4.3 2.0M406.8 410.4l-4.3 2.0M406.5 408.7l-4.3 2.0M406.1 407.0l-4.3 2.0M407.1 399.8l-4.3 2.0M406.8 398.1l-4.3 2.0M406.5 396.4l-4.3 2.0M406.1 394.6l-4.3 2.0M407.1 387.5l-4.3 2.0M406.8 385.8l-4.3 2.0M406.5 384.0l-4.3 2.0M406.1 382.3l-2.1 1.0M425.0 581.6l-2.7 3.8M423.8 580.3l-2.7 3.8M424.5 569.7l-2.9 3.7M423.4 568.3l-2.9 3.7M422.3 566.9l-2.9 3.7M423.9 557.8l-3.1 3.5M422.9 556.4l-3.1 3.5M421.9 554.9l-3.1 3.5M420.9 553.5l-1.5 1.8M423.3 545.9l-3.3 3.4M422.4 544.4l-3.3 3.4M421.4 542.9l-3.3 3.4M420.5 541.4l-1.6 1.7M422.7 533.9l-3.4 3.2M421.8 532.4l-3.4 3.2M421.0 530.8l-3.4 3.2M420.1 529.3l-1.7 1.6M422.1 521.9l-3.6 3.0M421.3 520.3l-3.6 3.0M420.5 518.8l-3.6 3.0M419.8 517.2l-1.8 1.5M421.4 509.9l-3.8 2.8M420.7 508.3l-3.8 2.8M420.0 506.7l-3.8 2.8M419.4 505.0l-1.9 1.4M420.8 497.8l-3.9 2.6M420.2 496.2l-3.9 2.6M419.6 494.5l-3.9 2.6M419.0 492.9l-1.9 1.3M420.1 485.7l-4.0 2.4M419.6 484.0l-4.0 2.4M419.1 482.4l-4.0 2.4M418.6 480.7l-2.0 1.2M419.4 473.6l-4.1 2.2M419.0 471.9l-4.1 2.2M418.6 470.2l-4.1 2.2M418.1 468.5l-2.1 1.1M419.0 461.4l-4.2 2.1M418.6 459.6l-4.2 2.1M418.3 457.9l-4.2 2.1M417.9 456.2l-2.1 1.0M419.0 449.0l-4.2 2.1M418.6 447.3l-4.2 2.1M418.3 445.6l-4.2 2.1M417.9 443.9l-4.2 2.1M419.0 436.7l-4.2 2.1M418.6 435.0l-4.2 2.1M418.3 433.3l-4.2 2.1M417.9 431.6l-2.1 1.0M419.0 424.4l-4.2 2.1M418.6 422.7l-4.2 2.1M418.3 421.0l-4.2 2.1M417.9 419.3l-2.1 1.0M419.0 412.1l-4.2 2.1M418.6 410.3l-4.2 2.1M418.3 408.6l-4.2 2.1M417.9 406.9l-2.1 1.0M419.0 399.7l-4.2 2.1M418.6 398.0l-4.2 2.1M418.3 396.3l-4.2 2.1M417.9 394.6l-2.1 1.0M437.2 581.0l-2.5 4.0M435.9 579.8l-2.5 4.0M436.6 569.2l-2.7 3.9M435.5 567.9l-2.7 3.9M434.3 566.6l-2.7 3.9M436.0 557.4l-2.9 3.7M435.0 556.0l-2.9 3.7M433.9 554.6l-2.9 3.7M432.8 553.2l-1.4 1.9M435.4 545.5l-3.1 3.5M434.4 544.1l-3.1 3.5M433.4 542.6l-3.1 3.5M432.4 541.2l-3.1 3.5M434.8 533.6l-3.3 3.4M433.9 532.1l-3.3 3.4M433.0 530.6l-3.3 3.4M432.0 529.1l-3.3 3.4M434.1 521.6l-3.5 3.2M433.3 520.1l-3.5 3.2M432.5 518.6l-3.5 3.2M431.6 517.0l-3.5 3.2M433.5 509.7l-3.6 3.0M432.7 508.1l-3.6 3.0M432.0 506.5l-3.6 3.0M431.2 504.9l-3.6 3.0M432.8 497.6l-3.8 2.8M432.1 496.0l-3.8 2.8M431.5 494.4l-3.8 2.8M430.8 492.8l-3.8 2.8M432.1 485.6l-4.0 2.5M431.5 483.9l-4.0 2.5M430.9 482.3l-4.0 2.5M430.4 480.6l-4.0 2.5M431.3 473.5l-4.1 2.3M430.9 471.8l-4.1 2.3M430.4 470.1l-4.1 2.3M429.9 468.4l-4.1 2.3M430.9 461.3l-4.2 2.2M430.5 459.6l-4.2 2.2M430.1 457.9l-4.2 2.2M429.7 456.2l-4.2 2.2M430.9 449.0l-4.2 2.2M430.5 447.3l-4.2 2.2M430.1 445.6l-4.2 2.2M429.7 443.9l-4.2 2.2M430.9 436.6l-4.2 2.2M430.5 434.9l-4.2 2.2M430.1 433.2l-4.2 2.2M429.7 431.5l-4.2 2.2M430.9 424.3l-4.2 2.2M430.5 422.6l-4.2 2.2M430.1 420.9l-4.2 2.2M429.7 419.2l-2.1 1.1M430.9 412.0l-4.2 2.2M430.5 410.3l-4.2 2.2M430.1 408.6l-4.2 2.2M429.7 406.9l-2.1 1.1M430.9 399.7l-4.2 2.2M430.5 398.0l-4.2 2.2M430.1 396.3l-4.2 2.2M429.7 394.6l-2.1 1.1M430.9 387.3l-4.2 2.2M430.5 385.6l-4.2 2.2M430.1 383.9l-4.2 2.2M429.7 382.2l-2.1 1.1M430.9 375.0l-4.2 2.2M430.5 373.3l-4.2 2.2M430.1 371.6l-4.2 2.2M429.7 369.9l-2.1 1.1M449.3 580.4l-2.2 4.1M448.0 579.3l-2.2 4.1M448.8 568.7l-2.5 4.0M447.5 567.4l-2.5 4.0M446.3 566.2l-2.5 4.0M448.2 556.9l-2.7 3.8M447.0 555.6l-2.7 3.8M445.9 554.3l-2.7 3.8M444.7 553.0l-2.7 3.8M447.5 545.1l-2.9 3.7M446.5 543.7l-2.9 3.7M445.4 542.3l-2.9 3.7M444.3 541.0l-2.9 3.7M446.9 533.3l-3.1 3.5M445.9 531.8l-3.1 3.5M444.9 530.4l-3.1 3.5M443.9 528.9l-3.1 3.5M442.9 527.5l-1.6 1.7M446.2 521.4l-3.3 3.3M445.3 519.9l-3.3 3.3M444.4 518.4l-3.3 3.3M443.5 516.9l-3.3 3.3M442.6 515.4l-1.7 1.7M445.5 509.4l-3.5 3.1M444.7 507.9l-3.5 3.1M443.9 506.3l-3.5 3.1M443.1 504.8l-3.5 3.1M442.3 503.2l-1.8 1.5M444.8 497.5l-3.7 2.9M444.1 495.9l-3.7 2.9M443.3 494.3l-3.7 2.9M442.6 492.7l-3.7 2.9M441.9 491.1l-1.9 1.4M444.0 485.5l-3.9 2.7M443.4 483.8l-3.9 2.7M442.8 482.2l-3.9 2.7M442.2 480.5l-3.9 2.7M441.6 478.9l-1.9 1.3M443.2 473.4l-4.0 2.4M442.7 471.7l-4.0 2.4M442.2 470.0l-4.0 2.4M441.7 468.4l-4.0 2.4M441.2 466.7l-2.0 1.2M461.0 580.3l-2.2 4.2M459.7 579.2l-2.2 4.2M460.4 568.6l-2.4 4.0M459.2 567.4l-2.4 4.0M458.0 566.1l-2.4 4.0M459.9 556.8l-2.7 3.9M458.7 555.5l-2.7 3.9M457.5 554.2l-2.7 3.9M456.4 552.9l-2.7 3.9M459.2 545.0l-2.9 3.7M458.2 543.6l-2.9 3.7M457.1 542.3l-2.9 3.7M456.0 540.9l-2.9 3.7M454.9 539.5l-1.4 1.9M458.6 533.2l-3.1 3.5M457.6 531.7l-3.1 3.5M456.6 530.3l-3.1 3.5M455.6 528.9l-3.1 3.5M454.6 527.4l-1.5 1.8M457.9 521.3l-3.3 3.3M457.0 519.8l-3.3 3.3M456.1 518.3l-3.3 3.3M455.2 516.8l-3.3 3.3M454.3 515.3l-1.6 1.7M457.3 509.4l-3.5 3.1M456.4 507.8l-3.5 3.1M455.6 506.3l-3.5 3.1M454.8 504.7l-3.5 3.1M453.9 503.2l-1.7 1.6M456.5 497.4l-3.7 2.9M455.8 495.8l-3.7 2.9M455.1 494.2l-3.7 2.9M454.3 492.6l-3.7 2.9M453.6 491.0l-1.8 1.5M455.8 485.4l-3.8 2.7M455.2 483.7l-3.8 2.7M454.5 482.1l-3.8 2.7M453.9 480.5l-3.8 2.7M453.3 478.9l-1.9 1.4M455.1 473.3l-4.0 2.5M454.5 471.7l-4.0 2.5M454.0 470.0l-4.0 2.5M453.4 468.3l-4.0 2.5M452.9 466.7l-2.0 1.2M454.6 461.1l-4.1 2.3M454.1 459.5l-4.1 2.3M453.7 457.8l-4.1 2.3M453.2 456.1l-4.1 2.3M452.7 454.4l-2.0 1.2M454.6 448.8l-4.1 2.3M454.1 447.1l-4.1 2.3M453.7 445.4l-4.1 2.3M453.2 443.8l-4.1 2.3M452.7 442.1l-2.0 1.2M472.6 580.3l-2.1 4.2M471.3 579.1l-2.1 4.2M472.1 568.5l-2.4 4.0M470.9 567.3l-2.4 4.0M469.6 566.1l-2.4 4.0M471.5 556.7l-2.6 3.9M470.4 555.4l-2.6 3.9M469.2 554.1l-2.6 3.9M468.0 552.8l-2.6 3.9M471.0 544.9l-2.8 3.7M469.9 543.6l-2.8 3.7M468.7 542.2l-2.8 3.7M467.6 540.8l-2.8 3.7M466.5 539.5l-1.4 1.9M470.3 533.1l-3.0 3.6M469.3 531.6l-3.0 3.6M468.3 530.2l-3.0 3.6M467.3 528.8l-3.0 3.6M466.3 527.4l-1.5 1.8M469.7 521.2l-3.2 3.4M468.8 519.7l-3.2 3.4M467.8 518.2l-3.2 3.4M466.9 516.7l-3.2 3.4M465.9 515.3l-1.6 1.7M469.0 509.3l-3.4 3.2M468.2 507.7l-3.4 3.2M467.3 506.2l-3.4 3.2M466.5 504.7l-3.4 3.2M465.6 503.1l-1.7 1.6M468.3 497.3l-3.6 3.0M467.6 495.7l-3.6 3.0M466.8 494.1l-3.6 3.0M466.0 492.6l-3.6 3.0M465.3 491.0l-1.8 1.5M467.6 485.3l-3.8 2.8M466.9 483.7l-3.8 2.8M466.3 482.0l-3.8 2.8M465.6 480.4l-3.8 2.8M464.9 478.8l-1.9 1.4M466.9 473.2l-3.9 2.6M466.3 471.6l-3.9 2.6M465.7 469.9l-3.9 2.6M465.2 468.3l-3.9 2.6M464.6 466.6l-2.0 1.3M466.5 461.1l-4.0 2.4M465.9 459.4l-4.0 2.4M465.4 457.7l-4.0 2.4M464.9 456.0l-4.0 2.4M464.4 454.4l-2.0 1.2M466.5 448.7l-4.0 2.4M465.9 447.1l-4.0 2.4M465.4 445.4l-4.0 2.4M464.9 443.7l-4.0 2.4M464.4 442.0l-2.0 1.2M484.3 580.2l-2.1 4.2M483.0 579.0l-2.1 4.2M483.8 568.4l-2.3 4.1M482.5 567.2l-2.3 4.1M481.2 566.0l-2.3 4.1M483.2 556.6l-2.6 3.9M482.0 555.4l-2.6 3.9M480.8 554.1l-2.6 3.9M479.7 552.8l-2.6 3.9M482.7 544.8l-2.8 3.8M481.5 543.5l-2.8 3.8M480.4 542.1l-2.8 3.8M479.3 540.8l-2.8 3.8M478.2 539.4l-1.4 1.9M482.1 533.0l-3.0 3.6M481.0 531.6l-3.0 3.6M480.0 530.1l-3.0 3.6M478.9 528.7l-3.0 3.6M477.9 527.3l-1.5 1.8M481.4 521.1l-3.2 3.4M480.5 519.6l-3.2 3.4M479.5 518.1l-3.2 3.4M478.6 516.7l-3.2 3.4M477.6 515.2l-1.6 1.7M480.8 509.2l-3.4 3.3M479.9 507.6l-3.4 3.3M479.0 506.1l-3.4 3.3M478.2 504.6l-3.4 3.3M477.3 503.1l-1.7 1.6M480.1 497.2l-3.6 3.1M479.3 495.6l-3.6 3.1M478.5 494.1l-3.6 3.1M477.7 492.5l-3.6 3.1M477.0 490.9l-1.8 1.5M479.4 485.2l-3.7 2.9M478.7 483.6l-3.7 2.9M478.0 482.0l-3.7 2.9M477.3 480.4l-3.7 2.9M476.6 478.8l-1.9 1.4M478.7 473.2l-3.9 2.6M478.1 471.5l-3.9 2.6M477.5 469.9l-3.9 2.6M476.9 468.2l-3.9 2.6M476.3 466.6l-1.9 1.3M478.3 461.0l-4.0 2.5M477.7 459.3l-4.0 2.5M477.2 457.7l-4.0 2.5M476.6 456.0l-4.0 2.5M476.1 454.3l-2.0 1.3M478.3 448.7l-4.0 2.5M477.7 447.0l-4.0 2.5M477.2 445.3l-4.0 2.5M476.6 443.7l-4.0 2.5M476.1 442.0l-2.0 1.3M495.9 580.1l-2.1 4.2M494.6 579.0l-2.1 4.2M495.4 568.3l-2.3 4.1M494.2 567.1l-2.3 4.1M492.9 565.9l-2.3 4.1M494.9 556.5l-2.5 4.0M493.7 555.3l-2.5 4.0M492.5 554.0l-2.5 4.0M491.3 552.7l-2.5 4.0M494.4 544.7l-2.7 3.8M493.2 543.4l-2.7 3.8M492.1 542.1l-2.7 3.8M491.0 540.7l-2.7 3.8M489.8 539.4l-1.4 1.9M493.8 532.9l-3.0 3.7M492.7 531.5l-3.0 3.7M491.7 530.1l-3.0 3.7M490.6 528.7l-3.0 3.7M489.5 527.3l-1.5 1.8M493.2 521.0l-3.2 3.5M492.2 519.5l-3.2 3.5M491.2 518.1l-3.2 3.5M490.2 516.6l-3.2 3.5M489.3 515.2l-1.6 1.7M492.5 509.1l-3.3 3.3M491.6 507.5l-3.3 3.3M490.7 506.0l-3.3 3.3M489.8 504.5l-3.3 3.3M489.0 503.0l-1.7 1.7M491.9 497.1l-3.5 3.1M491.1 495.5l-3.5 3.1M490.3 494.0l-3.5 3.1M489.5 492.4l-3.5 3.1M488.6 490.9l-1.8 1.6M491.2 485.1l-3.7 2.9M490.5 483.5l-3.7 2.9M489.8 481.9l-3.7 2.9M489.0 480.3l-3.7 2.9M488.3 478.7l-1.8 1.5M490.5 473.1l-3.8 2.7M489.9 471.4l-3.8 2.7M489.3 469.8l-3.8 2.7M488.6 468.2l-3.8 2.7M488.0 466.5l-1.9 1.4M490.1 460.9l-3.9 2.6M489.5 459.2l-3.9 2.6M489.0 457.6l-3.9 2.6M488.4 455.9l-3.9 2.6M487.8 454.3l-2.0 1.3M490.1 448.6l-3.9 2.6M489.5 446.9l-3.9 2.6M489.0 445.3l-3.9 2.6M488.4 443.6l-3.9 2.6M487.8 442.0l-2.0 1.3" fill="none" stroke="#1c1c1c" stroke-opacity="0.88" stroke-width="1"/>
<rect x="76.3" y="341.0" width="417.0" height="236.3" fill="none" stroke="#555" stroke-width="0.8"/>
<path d="M76.3 577.3v-3.5M76.3 341.0v3.5M128.4 577.3v-3.5M128.4 341.0v3.5M180.6 577.3v-3.5M180.6 341.0v3.5M232.7 577.3v-3.5M232.7 341.0v3.5M284.8 577.3v-3.5M284.8 341.0v3.5M336.9 577.3v-3.5M336.9 341.0v3.5M389.1 577.3v-3.5M389.1 341.0v3.5M441.2 577.3v-3.5M441.2 341.0v3.5M493.3 577.3v-3.5M493.3 341.0v3.5M76.3 341.0h3.5M493.3 341.0h-3.5M76.3 400.1h3.5M493.3 400.1h-3.5M76.3 459.1h3.5M493.3 459.1h-3.5M76.3 518.2h3.5M493.3 518.2h-3.5M76.3 577.3h3.5M493.3 577.3h-3.5" stroke="#555" stroke-width="0.8" fill="none"/>
<text x="76.3" y="592.6" text-anchor="middle" class="tk">00:00</text>
<text x="128.4" y="592.6" text-anchor="middle" class="tk">03:00</text>
<text x="180.6" y="592.6" text-anchor="middle" class="tk">06:00</text>
<text x="232.7" y="592.6" text-anchor="middle" class="tk">09:00</text>
<text x="284.8" y="592.6" text-anchor="middle" class="tk">12:00</text>
<text x="336.9" y="592.6" text-anchor="middle" class="tk">15:00</text>
<text x="389.1" y="592.6" text-anchor="middle" class="tk">18:00</text>
<text x="441.2" y="592.6" text-anchor="middle" class="tk">21:00</text>
<text x="493.3" y="592.6" text-anchor="middle" class="tk">00:00</text>
<text x="72.5" y="345.2" text-anchor="end" class="tk">2000</text>
<text x="72.5" y="404.3" text-anchor="end" class="tk">1500</text>
<text x="72.5" y="463.3" text-anchor="end" class="tk">1000</text>
<text x="72.5" y="522.4" text-anchor="end" class="tk">500</text>
<text x="72.5" y="581.5" text-anchor="end" class="tk">0</text>
<text x="284.8" y="608.8" text-anchor="middle" class="lb">Time (HH:MM)</text>
<text transform="translate(43.0 459.1) rotate(-90)" text-anchor="middle" class="lb">Height (m)</text>
<text x="284.8" y="337.4" text-anchor="middle" class="tt">20240916 Horizontal Wind Speed</text>
<text x="116.5" y="401.0" class="cn">奉贤</text>
<rect x="515.2" y="341.0" width="15.6" height="236.3" fill="url(#cb)" stroke="#555" stroke-width="0.6"/>
<text x="534.4" y="581.5" class="tk">0</text>
<text x="534.4" y="547.7" class="tk">5</text>
<path d="M530.8 543.5h-2" stroke="#555" stroke-width="0.6"/>
<text x="534.4" y="514.0" class="tk">10</text>
<path d="M530.8 509.8h-2" stroke="#555" stroke-width="0.6"/>
<text x="534.4" y="480.2" class="tk">15</text>
<path d="M530.8 476.0h-2" stroke="#555" stroke-width="0.6"/>
<text x="534.4" y="446.5" class="tk">20</text>
<path d="M530.8 442.3h-2" stroke="#555" stroke-width="0.6"/>
<text x="534.4" y="412.7" class="tk">25</text>
<path d="M530.8 408.5h-2" stroke="#555" stroke-width="0.6"/>
<text x="534.4" y="379.0" class="tk">30</text>
<path d="M530.8 374.8h-2" stroke="#555" stroke-width="0.6"/>
<text x="534.4" y="345.2" class="tk">35</text>
<path d="M668.4 341.0V577.3M720.5 341.0V577.3M772.7 341.0V577.3M824.8 341.0V577.3M876.9 341.0V577.3M929.0 341.0V577.3M981.2 341.0V577.3M616.3 400.1H1033.3M616.3 459.1H1033.3M616.3 518.2H1033.3" stroke="#e9e9e9" stroke-width="0.8" fill="none"/>
<g shape-rendering="crispEdges"><rect x="619.05" y="453.5" width="3.20" height="118.5" fill="url(#g3_0)"/><rect x="619.05" y="435.9" width="3.20" height="5.6" fill="url(#g3_0)"/><rect x="619.05" y="411.1" width="3.20" height="3.2" fill="url(#g3_0)"/><rect x="619.05" y="389.4" width="3.20" height="6.4" fill="url(#g3_0)"/><rect x="621.94" y="417.4" width="3.20" height="154.5" fill="url(#g3_1)"/><rect x="621.94" y="409.5" width="3.20" height="4.7" fill="url(#g3_1)"/><rect x="624.84" y="420.6" width="3.20" height="151.4" fill="url(#g3_1)"/><rect x="627.73" y="463.8" width="3.20" height="108.2" fill="url(#g3_2)"/><rect x="630.63" y="492.9" width="3.20" height="79.0" fill="url(#g3_2)"/><rect x="633.52" y="497.4" width="3.20" height="74.6" fill="url(#g3_3)"/><rect x="636.42" y="485.1" width="3.20" height="86.8" fill="url(#g3_3)"/><rect x="639.32" y="485.1" width="3.20" height="86.8" fill="url(#g3_4)"/><rect x="642.21" y="508.7" width="3.20" height="63.3" fill="url(#g3_4)"/><rect x="645.11" y="516.5" width="3.20" height="55.5" fill="url(#g3_5)"/><rect x="648.00" y="515.4" width="3.20" height="56.6" fill="url(#g3_5)"/><rect x="650.90" y="518.7" width="3.20" height="53.3" fill="url(#g3_6)"/><rect x="653.80" y="510.9" width="3.20" height="61.1" fill="url(#g3_6)"/><rect x="656.69" y="517.6" width="3.20" height="54.3" fill="url(#g3_7)"/><rect x="659.59" y="494.1" width="3.20" height="77.9" fill="url(#g3_7)"/><rect x="662.48" y="494.1" width="3.20" height="77.9" fill="url(#g3_8)"/><rect x="665.38" y="479.5" width="3.20" height="92.5" fill="url(#g3_8)"/><rect x="668.27" y="487.3" width="3.20" height="84.7" fill="url(#g3_9)"/><rect x="671.17" y="481.7" width="3.20" height="90.3" fill="url(#g3_9)"/><rect x="674.07" y="494.1" width="3.20" height="77.9" fill="url(#g3_10)"/><rect x="676.96" y="494.1" width="3.20" height="77.9" fill="url(#g3_10)"/><rect x="679.86" y="501.9" width="3.20" height="70.1" fill="url(#g3_11)"/><rect x="682.75" y="509.8" width="3.20" height="62.1" fill="url(#g3_11)"/><rect x="685.65" y="509.8" width="3.20" height="62.1" fill="url(#g3_12)"/><rect x="688.55" y="500.9" width="3.20" height="71.1" fill="url(#g3_12)"/><rect x="691.44" y="504.2" width="3.20" height="67.8" fill="url(#g3_13)"/><rect x="694.34" y="504.2" width="3.20" height="67.8" fill="url(#g3_13)"/><rect x="697.23" y="507.6" width="3.20" height="64.4" fill="url(#g3_14)"/><rect x="700.13" y="510.9" width="3.20" height="61.1" fill="url(#g3_14)"/><rect x="703.02" y="518.7" width="3.20" height="53.3" fill="url(#g3_15)"/><rect x="705.92" y="523.2" width="3.20" height="48.8" fill="url(#g3_15)"/><rect x="708.82" y="518.7" width="3.20" height="53.3" fill="url(#g3_16)"/><rect x="711.71" y="524.4" width="3.20" height="47.6" fill="url(#g3_16)"/><rect x="714.61" y="524.4" width="3.20" height="47.6" fill="url(#g3_17)"/><rect x="717.50" y="525.4" width="3.20" height="46.6" fill="url(#g3_17)"/><rect x="720.40" y="526.6" width="3.20" height="45.4" fill="url(#g3_18)"/><rect x="723.30" y="526.6" width="3.20" height="45.4" fill="url(#g3_18)"/><rect x="726.19" y="530.0" width="3.20" height="41.9" fill="url(#g3_19)"/><rect x="729.09" y="538.9" width="3.20" height="33.1" fill="url(#g3_19)"/><rect x="731.98" y="540.1" width="3.20" height="31.9" fill="url(#g3_20)"/><rect x="734.88" y="540.1" width="3.20" height="31.9" fill="url(#g3_20)"/><rect x="737.77" y="540.1" width="3.20" height="31.9" fill="url(#g3_21)"/><rect x="740.67" y="540.1" width="3.20" height="31.9" fill="url(#g3_21)"/><rect x="743.57" y="540.1" width="3.20" height="31.9" fill="url(#g3_22)"/><rect x="746.46" y="538.9" width="3.20" height="33.1" fill="url(#g3_22)"/><rect x="749.36" y="538.9" width="3.20" height="33.1" fill="url(#g3_23)"/><rect x="752.25" y="532.4" width="3.20" height="39.6" fill="url(#g3_23)"/><rect x="755.15" y="530.0" width="3.20" height="41.9" fill="url(#g3_24)"/><rect x="758.05" y="518.7" width="3.20" height="53.3" fill="url(#o3_49)"/><rect x="760.94" y="540.1" width="3.20" height="31.9" fill="url(#o3_50)"/><rect x="763.84" y="546.8" width="3.20" height="25.2" fill="url(#o3_51)"/><rect x="766.73" y="541.1" width="3.20" height="30.8" fill="url(#g3_26)"/><rect x="769.63" y="546.8" width="3.20" height="25.2" fill="url(#g3_26)"/><rect x="772.52" y="546.8" width="3.20" height="25.2" fill="url(#g3_27)"/><rect x="775.42" y="544.6" width="3.20" height="27.4" fill="url(#g3_27)"/><rect x="778.32" y="546.8" width="3.20" height="25.2" fill="url(#g3_28)"/><rect x="778.32" y="538.9" width="3.20" height="3.4" fill="url(#g3_28)"/><rect x="781.21" y="546.8" width="3.20" height="25.2" fill="url(#g3_28)"/><rect x="784.11" y="541.1" width="3.20" height="30.8" fill="url(#g3_29)"/><rect x="787.00" y="541.1" width="3.20" height="30.8" fill="url(#g3_29)"/><rect x="789.90" y="541.1" width="3.20" height="30.8" fill="url(#g3_30)"/><rect x="792.80" y="540.1" width="3.20" height="31.9" fill="url(#g3_30)"/><rect x="795.69" y="534.4" width="3.20" height="37.6" fill="url(#g3_31)"/><rect x="798.59" y="531.1" width="3.20" height="40.9" fill="url(#g3_31)"/><rect x="801.48" y="531.1" width="3.20" height="40.9" fill="url(#g3_32)"/><rect x="804.38" y="517.6" width="3.20" height="54.3" fill="url(#g3_32)"/><rect x="807.27" y="514.2" width="3.20" height="57.8" fill="url(#g3_33)"/><rect x="810.17" y="500.7" width="3.20" height="71.2" fill="url(#g3_33)"/><rect x="813.07" y="500.7" width="3.20" height="71.2" fill="url(#g3_34)"/><rect x="815.96" y="499.7" width="3.20" height="72.3" fill="url(#g3_34)"/><rect x="818.86" y="497.4" width="3.20" height="74.6" fill="url(#g3_35)"/><rect x="821.75" y="488.5" width="3.20" height="83.5" fill="url(#g3_35)"/><rect x="824.65" y="494.1" width="3.20" height="77.9" fill="url(#g3_36)"/><rect x="827.55" y="499.7" width="3.20" height="72.3" fill="url(#g3_36)"/><rect x="830.44" y="497.4" width="3.20" height="74.6" fill="url(#g3_37)"/><rect x="833.34" y="500.7" width="3.20" height="71.2" fill="url(#g3_37)"/><rect x="836.23" y="507.6" width="3.20" height="64.4" fill="url(#g3_38)"/><rect x="839.13" y="504.2" width="3.20" height="67.8" fill="url(#g3_38)"/><rect x="842.02" y="490.7" width="3.20" height="81.3" fill="url(#g3_39)"/><rect x="844.92" y="488.5" width="3.20" height="83.5" fill="url(#g3_39)"/><rect x="847.82" y="482.8" width="3.20" height="89.2" fill="url(#g3_40)"/><rect x="850.71" y="473.9" width="3.20" height="98.1" fill="url(#g3_40)"/><rect x="853.61" y="471.7" width="3.20" height="100.3" fill="url(#g3_41)"/><rect x="856.50" y="464.9" width="3.20" height="107.0" fill="url(#g3_41)"/><rect x="859.40" y="457.0" width="3.20" height="115.0" fill="url(#g3_42)"/><rect x="859.40" y="402.0" width="3.20" height="14.5" fill="url(#g3_42)"/><rect x="862.30" y="452.5" width="3.20" height="119.4" fill="url(#g3_42)"/><rect x="862.30" y="407.5" width="3.20" height="6.7" fill="url(#g3_42)"/><rect x="865.19" y="447.0" width="3.20" height="125.0" fill="url(#g3_43)"/><rect x="868.09" y="426.5" width="3.20" height="145.4" fill="url(#g3_43)"/><rect x="870.98" y="433.3" width="3.20" height="138.7" fill="url(#g3_44)"/><rect x="873.88" y="433.3" width="3.20" height="138.7" fill="url(#g3_44)"/><rect x="876.77" y="433.3" width="3.20" height="138.7" fill="url(#g3_45)"/><rect x="879.67" y="491.9" width="3.20" height="80.1" fill="url(#g3_45)"/><rect x="879.67" y="452.4" width="3.20" height="1.3" fill="url(#g3_45)"/><rect x="882.57" y="452.4" width="3.20" height="119.6" fill="url(#g3_46)"/><rect x="885.46" y="485.1" width="3.20" height="86.8" fill="url(#g3_46)"/><rect x="885.46" y="442.3" width="3.20" height="2.5" fill="url(#g3_46)"/><rect x="888.36" y="424.3" width="3.20" height="147.7" fill="url(#g3_47)"/><rect x="891.25" y="412.0" width="3.20" height="160.0" fill="url(#g3_47)"/><rect x="894.15" y="412.0" width="3.20" height="160.0" fill="url(#g3_48)"/><rect x="897.05" y="412.0" width="3.20" height="160.0" fill="url(#g3_48)"/><rect x="899.94" y="403.0" width="3.20" height="169.0" fill="url(#g3_49)"/><rect x="902.84" y="393.0" width="3.20" height="179.0" fill="url(#g3_49)"/><rect x="905.73" y="405.3" width="3.20" height="166.7" fill="url(#g3_50)"/><rect x="908.63" y="412.0" width="3.20" height="160.0" fill="url(#g3_50)"/><rect x="911.52" y="412.0" width="3.20" height="160.0" fill="url(#g3_51)"/><rect x="914.42" y="407.5" width="3.20" height="164.5" fill="url(#g3_51)"/><rect x="917.32" y="402.0" width="3.20" height="170.0" fill="url(#g3_52)"/><rect x="920.21" y="417.6" width="3.20" height="154.4" fill="url(#g3_52)"/><rect x="923.11" y="410.9" width="3.20" height="161.0" fill="url(#g3_53)"/><rect x="926.00" y="373.8" width="3.20" height="198.1" fill="url(#g3_53)"/><rect x="928.90" y="373.8" width="3.20" height="198.1" fill="url(#g3_54)"/><rect x="931.80" y="387.3" width="3.20" height="184.7" fill="url(#g3_54)"/><rect x="934.69" y="419.8" width="3.20" height="152.2" fill="url(#g3_55)"/><rect x="937.59" y="402.0" width="3.20" height="170.0" fill="url(#g3_55)"/><rect x="940.48" y="456.8" width="3.20" height="115.2" fill="url(#g3_56)"/><rect x="940.48" y="440.2" width="3.20" height="7.1" fill="url(#g3_56)"/><rect x="940.48" y="402.0" width="3.20" height="33.6" fill="url(#g3_56)"/><rect x="943.38" y="478.8" width="3.20" height="93.2" fill="url(#g3_56)"/><rect x="946.27" y="478.8" width="3.20" height="93.2" fill="url(#g3_57)"/><rect x="949.17" y="451.8" width="3.20" height="120.2" fill="url(#g3_57)"/><rect x="952.07" y="463.0" width="3.20" height="108.9" fill="url(#g3_58)"/><rect x="954.96" y="478.8" width="3.20" height="93.2" fill="url(#g3_58)"/><rect x="957.86" y="454.1" width="3.20" height="117.9" fill="url(#g3_59)"/><rect x="960.75" y="433.9" width="3.20" height="138.1" fill="url(#g3_59)"/><rect x="963.65" y="420.4" width="3.20" height="151.6" fill="url(#g3_60)"/><rect x="966.55" y="433.9" width="3.20" height="138.1" fill="url(#g3_60)"/><rect x="969.44" y="421.6" width="3.20" height="150.4" fill="url(#g3_61)"/><rect x="972.34" y="421.6" width="3.20" height="150.4" fill="url(#g3_61)"/><rect x="975.23" y="418.2" width="3.20" height="153.8" fill="url(#g3_62)"/><rect x="978.13" y="441.8" width="3.20" height="130.2" fill="url(#g3_62)"/><rect x="981.02" y="463.0" width="3.20" height="108.9" fill="url(#g3_63)"/><rect x="983.92" y="464.1" width="3.20" height="107.9" fill="url(#g3_63)"/><rect x="986.82" y="465.3" width="3.20" height="106.7" fill="url(#g3_64)"/><rect x="989.71" y="459.6" width="3.20" height="112.4" fill="url(#g3_64)"/><rect x="992.61" y="455.1" width="3.20" height="116.9" fill="url(#g3_65)"/><rect x="995.50" y="451.8" width="3.20" height="120.2" fill="url(#g3_65)"/><rect x="998.40" y="423.7" width="3.20" height="148.3" fill="url(#g3_66)"/><rect x="1001.30" y="448.5" width="3.20" height="123.5" fill="url(#g3_66)"/><rect x="1004.19" y="461.9" width="3.20" height="110.1" fill="url(#g3_67)"/><rect x="1007.09" y="461.9" width="3.20" height="110.1" fill="url(#g3_67)"/><rect x="1009.98" y="477.6" width="3.20" height="94.4" fill="url(#g3_68)"/><rect x="1012.88" y="463.0" width="3.20" height="108.9" fill="url(#g3_68)"/><rect x="1015.77" y="451.8" width="3.20" height="120.2" fill="url(#g3_69)"/><rect x="1018.67" y="438.4" width="3.20" height="133.6" fill="url(#g3_69)"/><rect x="1021.57" y="433.9" width="3.20" height="138.1" fill="url(#g3_70)"/><rect x="1024.46" y="452.9" width="3.20" height="119.1" fill="url(#g3_70)"/><rect x="1027.36" y="439.5" width="3.20" height="132.4" fill="url(#g3_71)"/><rect x="1030.25" y="448.5" width="3.20" height="123.5" fill="url(#g3_71)"/></g>
<path clip-path="url(#clip3)" d="M620.2 571.4L626.3 559.4M620.2 559.1L626.7 547.2M620.2 546.7L627.1 535.1M620.2 534.4L627.5 523.1M620.2 522.1L627.9 511.0M620.2 509.8L628.1 498.9M620.2 497.5L628.1 486.5M620.2 485.1L628.1 474.2M620.2 472.8L628.1 461.9M620.2 460.5L628.1 449.6M631.8 571.4L637.9 559.4M631.8 559.1L638.3 547.2M631.8 546.7L638.7 535.1M631.8 534.4L639.1 523.1M631.8 522.1L639.4 511.0M631.8 509.8L639.7 498.9M631.8 497.5L639.7 486.5M643.4 571.4L649.5 559.4M643.4 559.1L649.9 547.2M643.4 546.7L650.3 535.1M643.4 534.4L650.7 523.1M643.4 522.1L651.0 511.0M643.4 509.8L651.3 498.9M655.0 571.4L661.1 559.4M655.0 559.1L661.5 547.2M655.0 546.7L661.9 535.1M655.0 534.4L662.2 523.1M655.0 522.1L662.6 511.0M655.0 509.8L662.9 498.9M666.5 571.4L672.7 559.4M666.5 559.1L673.1 547.2M666.5 546.7L673.4 535.1M666.5 534.4L673.8 523.1M666.5 522.1L674.2 511.0M666.5 509.8L674.5 498.9M666.5 497.5L674.5 486.5M666.5 485.1L674.5 474.2M678.1 571.4L684.3 559.4M678.1 559.1L684.6 547.2M678.1 546.7L685.0 535.1M678.1 534.4L685.4 523.1M678.1 522.1L685.8 511.0M678.1 509.8L686.1 498.9M678.1 497.5L686.1 486.5M689.7 571.4L695.8 559.4M689.7 559.1L696.2 547.2M689.7 546.7L696.6 535.1M689.7 534.4L697.0 523.1M689.7 522.1L697.4 511.0M689.7 509.8L697.6 498.9M701.3 571.4L707.4 559.4M701.3 559.1L707.8 547.2M701.3 546.7L708.2 535.1M701.3 534.4L708.6 523.1M701.3 522.1L708.9 511.0M701.3 509.8L709.2 498.9M712.9 571.4L719.0 559.4M712.9 559.1L719.4 547.2M712.9 546.7L719.8 535.1M712.9 534.4L720.2 523.1M724.5 571.4L730.6 559.4M724.5 559.1L731.0 547.2M724.5 546.7L731.4 535.1M724.5 534.4L731.7 523.1M736.0 571.4L744.4 560.8M736.0 559.1L744.6 548.6M736.0 546.7L744.8 536.5M747.6 571.4L754.4 583.1M747.6 559.1L754.4 570.8M747.6 546.7L754.4 558.4M759.2 571.4L753.5 583.6M759.2 559.1L753.5 571.3M759.2 546.7L753.5 559.0M759.2 534.4L753.5 546.7M759.2 522.1L753.5 534.3M770.8 571.4L764.4 583.3M770.8 559.1L764.4 570.9M770.8 546.7L764.4 558.6M782.4 571.4L775.2 582.8M782.4 559.1L775.2 570.5M782.4 546.7L775.2 558.2M794.0 571.4L786.0 582.3M794.0 559.1L786.0 570.0M794.0 546.7L786.0 557.7M805.5 571.4L796.9 581.7M805.5 559.1L796.9 569.4M805.5 546.7L796.9 557.1M805.5 534.4L796.9 544.8M805.5 522.1L796.9 532.4M817.1 571.4L808.6 581.9M817.1 559.1L808.6 569.6M817.1 546.7L808.6 557.2M817.1 534.4L808.6 544.9M817.1 522.1L808.6 532.6M817.1 509.8L808.6 520.3M828.7 571.4L820.4 582.0M828.7 559.1L820.4 569.7M828.7 546.7L820.4 557.4M828.7 534.4L820.4 545.1M828.7 522.1L820.4 532.7M828.7 509.8L820.4 520.4M840.3 571.4L832.2 582.2M840.3 559.1L832.2 569.9M840.3 546.7L832.2 557.5M840.3 534.4L832.2 545.2M840.3 522.1L832.2 532.9M840.3 509.8L832.2 520.6M851.9 571.4L843.9 582.3M851.9 559.1L843.9 570.0M851.9 546.7L843.9 557.7M851.9 534.4L843.9 545.3M851.9 522.1L843.9 533.0M851.9 509.8L843.9 520.7M851.9 497.5L843.9 508.4M851.9 485.1L843.9 496.1M851.9 472.8L843.9 483.7M863.5 571.4L855.7 582.5M863.5 559.1L855.7 570.1M863.5 546.7L855.7 557.8M863.5 534.4L855.7 545.5M863.5 522.1L855.7 533.2M863.5 509.8L855.7 520.8M863.5 497.5L855.7 508.5M863.5 485.1L855.7 496.2M863.5 472.8L855.7 483.9M863.5 460.5L855.7 471.5M875.0 571.4L868.5 583.2M875.0 559.1L868.5 570.9M875.0 546.7L868.5 558.6M875.0 534.4L868.5 546.2M875.0 522.1L868.5 533.9M875.0 509.8L868.5 521.6M875.0 497.5L868.5 509.3M875.0 485.1L868.5 496.9M875.0 472.8L868.5 484.6M875.0 460.5L868.5 472.3M875.0 448.2L868.5 460.0M875.0 435.8L868.5 447.6M886.6 571.4L881.4 583.8M886.6 559.1L881.4 571.5M886.6 546.7L881.4 559.2M886.6 534.4L881.4 546.9M886.6 522.1L881.4 534.5M886.6 509.8L881.4 522.2M886.6 497.5L881.4 509.9M886.6 485.1L881.4 497.6M898.2 571.4L894.0 584.2M898.2 559.1L894.0 571.9M898.2 546.7L894.0 559.6M898.2 534.4L894.0 547.3M898.2 522.1L894.0 534.9M898.2 509.8L894.0 522.6M898.2 497.5L894.0 510.3M898.2 485.1L894.0 498.0M898.2 472.8L894.0 485.6M898.2 460.5L894.0 473.3M898.2 448.2L894.0 461.0M898.2 435.8L894.0 448.7M898.2 423.5L894.0 436.4M898.2 411.2L894.0 424.0M909.8 571.4L906.5 584.5M909.8 559.1L906.5 572.2M909.8 546.7L906.5 559.8M909.8 534.4L906.5 547.5M909.8 522.1L906.5 535.2M909.8 509.8L906.5 522.9M909.8 497.5L906.5 510.6M909.8 485.1L906.5 498.2M909.8 472.8L906.5 485.9M909.8 460.5L906.5 473.6M909.8 448.2L906.5 461.3M909.8 435.8L906.5 448.9M909.8 423.5L906.5 436.6M909.8 411.2L906.5 424.3M921.4 571.4L919.0 584.7M921.4 559.1L919.0 572.4M921.4 546.7L919.0 560.0M921.4 534.4L919.0 547.7M921.4 522.1L919.0 535.4M921.4 509.8L919.0 523.1M921.4 497.5L919.0 510.7M921.4 485.1L919.0 498.4M921.4 472.8L919.0 486.1M921.4 460.5L919.0 473.8M921.4 448.2L919.0 461.5M921.4 435.8L919.0 449.1M921.4 423.5L919.0 436.8M933.0 571.4L931.5 584.8M933.0 559.1L931.5 572.5M933.0 546.7L931.5 560.2M933.0 534.4L931.5 547.8M933.0 522.1L931.5 535.5M933.0 509.8L931.5 523.2M933.0 497.5L931.5 510.9M933.0 485.1L931.5 498.6M933.0 472.8L931.5 486.2M933.0 460.5L931.5 473.9M933.0 448.2L931.5 461.6M933.0 435.8L931.5 449.3M933.0 423.5L931.5 436.9M933.0 411.2L931.5 424.6M933.0 398.9L931.5 412.3M933.0 386.5L931.5 400.0M944.5 571.4L944.1 584.9M944.5 559.1L944.1 572.6M944.5 546.7L944.1 560.2M944.5 534.4L944.1 547.9M944.5 522.1L944.1 535.6M944.5 509.8L944.1 523.3M944.5 497.5L944.1 510.9M944.5 485.1L944.1 498.6M956.1 571.4L956.5 584.9M956.1 559.1L956.5 572.6M956.1 546.7L956.5 560.2M956.1 534.4L956.5 547.9M956.1 522.1L956.5 535.6M956.1 509.8L956.5 523.3M956.1 497.5L956.5 510.9M956.1 485.1L956.5 498.6M967.7 571.4L968.8 584.8M967.7 559.1L968.8 572.5M967.7 546.7L968.8 560.2M967.7 534.4L968.8 547.9M967.7 522.1L968.8 535.6M967.7 509.8L968.8 523.2M967.7 497.5L968.8 510.9M967.7 485.1L968.8 498.6M967.7 472.8L968.8 486.3M967.7 460.5L968.8 473.9M967.7 448.2L968.8 461.6M967.7 435.8L968.8 449.3M979.3 571.4L981.2 584.8M979.3 559.1L981.2 572.4M979.3 546.7L981.2 560.1M979.3 534.4L981.2 547.8M979.3 522.1L981.2 535.5M979.3 509.8L981.2 523.1M979.3 497.5L981.2 510.8M979.3 485.1L981.2 498.5M979.3 472.8L981.2 486.2M979.3 460.5L981.2 473.9M979.3 448.2L981.2 461.5M990.9 571.4L993.0 584.7M990.9 559.1L993.0 572.4M990.9 546.7L993.0 560.1M990.9 534.4L993.0 547.8M990.9 522.1L993.0 535.4M990.9 509.8L993.0 523.1M990.9 497.5L993.0 510.8M990.9 485.1L993.0 498.5M990.9 472.8L993.0 486.1M990.9 460.5L993.0 473.8M1002.5 571.4L1004.8 584.7M1002.5 559.1L1004.8 572.4M1002.5 546.7L1004.8 560.1M1002.5 534.4L1004.8 547.7M1002.5 522.1L1004.8 535.4M1002.5 509.8L1004.8 523.1M1002.5 497.5L1004.8 510.8M1002.5 485.1L1004.8 498.4M1002.5 472.8L1004.8 486.1M1002.5 460.5L1004.8 473.8M1002.5 448.2L1004.8 461.5M1014.0 571.4L1016.5 584.7M1014.0 559.1L1016.5 572.3M1014.0 546.7L1016.5 560.0M1014.0 534.4L1016.5 547.7M1014.0 522.1L1016.5 535.4M1014.0 509.8L1016.5 523.0M1014.0 497.5L1016.5 510.7M1014.0 485.1L1016.5 498.4M1014.0 472.8L1016.5 486.1M1025.6 571.4L1028.3 584.6M1025.6 559.1L1028.3 572.3M1025.6 546.7L1028.3 560.0M1025.6 534.4L1028.3 547.6M1025.6 522.1L1028.3 535.3M1025.6 509.8L1028.3 523.0M1025.6 497.5L1028.3 510.7M1025.6 485.1L1028.3 498.4M1025.6 472.8L1028.3 486.0M1025.6 460.5L1028.3 473.7" fill="none" stroke="#1c1c1c" stroke-opacity="0.88" stroke-width="0.95"/><path clip-path="url(#clipf3)" d="M626.3 559.4l4.6 1.1M625.5 560.9l4.6 1.1M624.7 562.5l4.6 1.1M626.7 547.2l4.5 1.2M625.9 548.8l4.5 1.2M625.0 550.3l4.5 1.2M624.2 551.8l4.5 1.2M623.3 553.4l2.3 0.6M627.1 535.1L630.1 538.8L625.5 537.9M627.5 523.1L630.4 526.8L625.8 525.7M625.3 526.4l2.2 0.8M627.9 511.0L630.6 514.8L626.0 513.6M625.6 514.3l4.4 1.7M628.1 498.9L630.8 502.8L626.3 501.4M625.8 502.1l4.4 1.8M628.1 486.5L630.8 490.5L626.3 489.1M625.8 489.8l4.4 1.8M628.1 474.2L630.8 478.1L626.3 476.8M625.8 477.4l4.4 1.8M628.1 461.9L630.8 465.8L626.3 464.5M625.8 465.1l4.4 1.8M624.8 466.5l2.2 0.9M628.1 449.6L630.8 453.5L626.3 452.2M625.8 452.8l4.4 1.8M624.8 454.2l2.2 0.9M637.9 559.4l4.6 1.1M637.1 560.9l4.6 1.1M636.3 562.5l4.6 1.1M638.3 547.2l4.5 1.2M637.5 548.8l4.5 1.2M636.6 550.3l4.5 1.2M635.8 551.8l4.5 1.2M634.9 553.4l2.3 0.6M638.7 535.1L641.7 538.8L637.1 537.9M639.1 523.1L642.0 526.8L637.3 525.7M636.9 526.4l2.2 0.8M639.4 511.0L642.2 514.8L637.6 513.6M637.2 514.3l4.4 1.7M639.7 498.9L642.4 502.8L637.8 501.4M637.4 502.1l4.4 1.8M636.3 503.5l2.2 0.9M639.7 486.5L642.4 490.5L637.8 489.1M637.4 489.8l4.4 1.8M636.3 491.2l2.2 0.9M649.5 559.4l4.6 1.1M648.7 560.9l4.6 1.1M647.9 562.5l4.6 1.1M649.9 547.2l4.5 1.2M649.1 548.8l4.5 1.2M648.2 550.3l4.5 1.2M647.4 551.8l4.5 1.2M646.5 553.4l2.3 0.6M650.3 535.1L653.3 538.8L648.6 537.9M650.7 523.1L653.6 526.8L648.9 525.7M648.5 526.4l4.4 1.5M651.0 511.0L653.8 514.8L649.2 513.6M648.8 514.3l4.4 1.7M651.3 498.9L654.0 502.8L649.4 501.4M649.0 502.1l4.4 1.8M647.9 503.5l2.2 0.9M661.1 559.4l4.6 1.1M660.3 560.9l4.6 1.1M659.5 562.5l4.6 1.1M661.5 547.2l4.5 1.2M660.6 548.8l4.5 1.2M659.8 550.3l4.5 1.2M658.9 551.8l4.5 1.2M658.1 553.4l2.3 0.6M661.9 535.1L664.9 538.8L660.2 537.9M662.2 523.1L665.1 526.8L660.5 525.7M660.1 526.4l4.4 1.5M662.6 511.0L665.4 514.8L660.8 513.6M660.3 514.3l4.4 1.7M662.9 498.9L665.6 502.8L661.0 501.4M660.5 502.1l4.4 1.8M659.5 503.5l2.2 0.9M672.7 559.4l4.6 1.1M671.9 560.9l4.6 1.1M671.1 562.5l4.6 1.1M673.1 547.2l4.5 1.2M672.2 548.8l4.5 1.2M671.4 550.3l4.5 1.2M670.5 551.8l4.5 1.2M669.7 553.4l2.3 0.6M673.4 535.1L676.5 538.8L671.8 537.9M671.4 538.6l2.2 0.7M673.8 523.1L676.7 526.8L672.1 525.7M671.7 526.4l4.4 1.5M674.2 511.0L677.0 514.8L672.4 513.6M671.9 514.3l4.4 1.7M670.9 515.7l4.4 1.7M674.5 498.9L677.1 502.8L672.6 501.4M672.1 502.1l4.4 1.8M671.1 503.5l4.4 1.8M674.5 486.5L677.1 490.5L672.6 489.1M672.1 489.8l4.4 1.8M671.1 491.2l4.4 1.8M670.1 492.6l2.2 0.9M674.5 474.2L677.1 478.1L672.6 476.8M672.1 477.4l4.4 1.8M671.1 478.9l4.4 1.8M670.1 480.3l2.2 0.9M684.3 559.4l4.6 1.1M683.5 560.9l4.6 1.1M682.7 562.5l4.6 1.1M684.6 547.2l4.5 1.2M683.8 548.8l4.5 1.2M683.0 550.3l4.5 1.2M682.1 551.8l4.5 1.2M681.3 553.4l2.3 0.6M685.0 535.1L688.0 538.8L683.4 537.9M683.0 538.6l2.2 0.7M685.4 523.1L688.3 526.8L683.7 525.7M683.2 526.4l4.4 1.5M685.8 511.0L688.5 514.8L684.0 513.6M683.5 514.3l4.4 1.7M682.5 515.7l4.4 1.7M686.1 498.9L688.7 502.8L684.2 501.4M683.7 502.1l4.4 1.8M682.7 503.5l4.4 1.8M686.1 486.5L688.7 490.5L684.2 489.1M683.7 489.8l4.4 1.8M682.7 491.2l4.4 1.8M681.7 492.6l2.2 0.9M695.8 559.4l4.6 1.1M695.0 560.9l4.6 1.1M694.2 562.5l4.6 1.1M696.2 547.2l4.5 1.2M695.4 548.8l4.5 1.2M694.5 550.3l4.5 1.2M693.7 551.8l4.5 1.2M692.8 553.4l2.3 0.6M696.6 535.1L699.6 538.8L695.0 537.9M694.6 538.6l4.5 1.4M697.0 523.1L699.9 526.8L695.3 525.7M694.8 526.4l4.4 1.5M693.9 527.9l2.2 0.8M697.4 511.0L700.1 514.8L695.5 513.6M695.1 514.3l4.4 1.7M694.1 515.7l4.4 1.7M697.6 498.9L700.3 502.8L695.8 501.4M695.3 502.1l4.4 1.8M694.3 503.5l4.4 1.8M693.2 504.9l2.2 0.9M707.4 559.4l4.6 1.1M706.6 560.9l4.6 1.1M705.8 562.5l4.6 1.1M707.8 547.2L710.9 550.8L706.3 550.1M708.2 535.1L711.2 538.8L706.6 537.9M706.2 538.6l4.5 1.4M708.6 523.1L711.5 526.8L706.8 525.7M706.4 526.4l4.4 1.5M705.5 527.9l4.4 1.5M708.9 511.0L711.7 514.8L707.1 513.6M706.7 514.3l4.4 1.7M705.7 515.7l4.4 1.7M704.7 517.2l2.2 0.8M709.2 498.9L711.9 502.8L707.3 501.4M706.9 502.1l4.4 1.8M705.8 503.5l4.4 1.8M704.8 504.9l2.2 0.9M719.0 559.4l4.6 1.1M718.2 560.9l4.6 1.1M717.4 562.5l4.6 1.1M716.6 564.0l2.3 0.5M719.4 547.2L722.5 550.8L717.9 550.1M719.8 535.1L722.8 538.8L718.1 537.9M717.7 538.6l4.5 1.4M716.8 540.1l2.2 0.7M720.2 523.1L723.1 526.8L718.4 525.7M718.0 526.4l4.4 1.5M717.1 527.9l4.4 1.5M716.1 529.4l2.2 0.8M730.6 559.4l4.6 1.1M729.8 560.9l4.6 1.1M729.0 562.5l4.6 1.1M728.2 564.0l2.3 0.5M731.0 547.2L734.1 550.8L729.4 550.1M729.0 550.8l2.3 0.6M731.4 535.1L734.4 538.8L729.7 537.9M729.3 538.6l4.5 1.4M728.4 540.1l2.2 0.7M731.7 523.1L734.6 526.8L730.0 525.7M729.6 526.4l4.4 1.5M728.6 527.9l4.4 1.5M727.7 529.4l2.2 0.8M744.4 560.8l4.3 1.9M743.3 562.1l4.3 1.9M742.2 563.5l4.3 1.9M741.1 564.9l2.1 1.0M744.6 548.6L747.0 552.7L742.6 551.1M744.8 536.5L747.2 540.6L742.7 538.9M742.2 539.5l2.1 1.1M754.4 583.1l-3.4 3.3M753.5 581.6l-3.4 3.3M754.4 570.8l-3.4 3.3M753.5 569.2l-3.4 3.3M754.4 558.4l-3.4 3.3M753.5 556.9l-3.4 3.3M753.5 583.6l-4.6 -0.9M753.5 571.3l-4.6 -0.9M753.5 559.0l-4.6 -0.9M753.5 546.7l-4.6 -0.9M753.5 534.3l-4.6 -0.9M764.4 583.3L761.2 579.7L765.9 580.4M766.3 579.7l-2.3 -0.6M764.4 570.9L761.2 567.4L765.9 568.1M766.3 567.4l-4.5 -1.2M767.1 565.9l-4.5 -1.2M767.9 564.3l-2.3 -0.6M764.4 558.6L761.2 555.1L765.9 555.8M766.3 555.1l-4.5 -1.2M767.1 553.6l-4.5 -1.2M767.9 552.0l-4.5 -1.2M768.8 550.5l-4.5 -1.2M775.2 582.8L772.3 579.1L776.9 580.1M777.3 579.4l-2.2 -0.7M775.2 570.5L772.3 566.8L776.9 567.8M777.3 567.1l-4.5 -1.5M778.3 565.6l-4.5 -1.5M779.2 564.2l-2.2 -0.7M775.2 558.2L772.3 554.5L776.9 555.5M777.3 554.8l-4.5 -1.5M778.3 553.3l-4.5 -1.5M779.2 551.8l-4.5 -1.5M780.1 550.4l-4.5 -1.5M786.0 582.3L783.4 578.4L787.9 579.7M788.4 579.1l-2.2 -0.9M786.0 570.0L783.4 566.1L787.9 567.4M788.4 566.8l-4.4 -1.8M789.4 565.3l-4.4 -1.8M790.4 563.9l-2.2 -0.9M786.0 557.7L783.4 553.7L787.9 555.1M788.4 554.4l-4.4 -1.8M789.4 553.0l-4.4 -1.8M790.4 551.6l-4.4 -1.8M791.5 550.2l-2.2 -0.9M796.9 581.7l-4.2 -2.1M798.0 580.4l-4.2 -2.1M799.1 579.1l-4.2 -2.1M800.2 577.7l-4.2 -2.1M796.9 569.4L794.5 565.3L798.9 567.0M799.4 566.3l-2.1 -1.0M796.9 557.1L794.5 553.0L798.9 554.6M799.4 554.0l-4.2 -2.1M800.6 552.7l-2.1 -1.0M796.9 544.8L794.5 540.7L798.9 542.3M799.4 541.7l-4.2 -2.1M800.6 540.4l-4.2 -2.1M796.9 532.4L794.5 528.3L798.9 530.0M799.4 529.4l-4.2 -2.1M800.6 528.0l-4.2 -2.1M808.6 581.9l-4.3 -2.0M809.7 580.5l-4.3 -2.0M810.8 579.2l-4.3 -2.0M808.6 569.6l-4.3 -2.0M809.7 568.2l-4.3 -2.0M810.8 566.8l-4.3 -2.0M811.9 565.5l-4.3 -2.0M813.0 564.1l-2.1 -1.0M808.6 557.2L806.2 553.2L810.6 554.8M808.6 544.9L806.2 540.9L810.6 542.4M811.1 541.8l-2.1 -1.0M808.6 532.6L806.2 528.5L810.6 530.1M811.1 529.5l-4.3 -2.0M808.6 520.3L806.2 516.2L810.6 517.8M811.1 517.2l-4.3 -2.0M820.4 582.0l-4.3 -1.9M821.5 580.7l-4.3 -1.9M822.6 579.3l-2.1 -1.0M820.4 569.7l-4.3 -1.9M821.5 568.3l-4.3 -1.9M822.6 566.9l-4.3 -1.9M823.6 565.6l-2.1 -1.0M820.4 557.4l-4.3 -1.9M821.5 556.0l-4.3 -1.9M822.6 554.6l-4.3 -1.9M823.6 553.2l-4.3 -1.9M824.7 551.9l-2.1 -1.0M820.4 545.1L817.9 541.1L822.4 542.5M820.4 532.7L817.9 528.7L822.4 530.2M820.4 520.4L817.9 516.4L822.4 517.9M832.2 582.2l-4.3 -1.8M833.2 580.8l-4.3 -1.8M832.2 569.9l-4.3 -1.8M833.2 568.5l-4.3 -1.8M834.3 567.1l-4.3 -1.8M835.3 565.7l-2.2 -0.9M832.2 557.5l-4.3 -1.8M833.2 556.1l-4.3 -1.8M834.3 554.7l-4.3 -1.8M835.3 553.3l-4.3 -1.8M832.2 545.2l-4.3 -1.8M833.2 543.8l-4.3 -1.8M834.3 542.4l-4.3 -1.8M835.3 541.0l-4.3 -1.8M836.4 539.6l-2.2 -0.9M832.2 532.9l-4.3 -1.8M833.2 531.5l-4.3 -1.8M834.3 530.1l-4.3 -1.8M835.3 528.7l-4.3 -1.8M836.4 527.3l-2.2 -0.9M832.2 520.6L829.6 516.6L834.1 518.0M843.9 582.3l-4.4 -1.8M845.0 580.9l-4.4 -1.8M843.9 570.0l-4.4 -1.8M845.0 568.6l-4.4 -1.8M846.0 567.2l-4.4 -1.8M843.9 557.7l-4.4 -1.8M845.0 556.3l-4.4 -1.8M846.0 554.8l-4.4 -1.8M847.0 553.4l-4.4 -1.8M843.9 545.3l-4.4 -1.8M845.0 543.9l-4.4 -1.8M846.0 542.5l-4.4 -1.8M847.0 541.1l-4.4 -1.8M843.9 533.0l-4.4 -1.8M845.0 531.6l-4.4 -1.8M846.0 530.2l-4.4 -1.8M847.0 528.8l-4.4 -1.8M848.1 527.4l-2.2 -0.9M843.9 520.7l-4.4 -1.8M845.0 519.3l-4.4 -1.8M846.0 517.9l-4.4 -1.8M847.0 516.5l-4.4 -1.8M848.1 515.0l-2.2 -0.9M843.9 508.4l-4.4 -1.8M845.0 507.0l-4.4 -1.8M846.0 505.5l-4.4 -1.8M847.0 504.1l-4.4 -1.8M848.1 502.7l-2.2 -0.9M843.9 496.1l-4.4 -1.8M845.0 494.6l-4.4 -1.8M846.0 493.2l-4.4 -1.8M847.0 491.8l-4.4 -1.8M848.1 490.4l-2.2 -0.9M843.9 483.7l-4.4 -1.8M845.0 482.3l-4.4 -1.8M846.0 480.9l-4.4 -1.8M847.0 479.5l-4.4 -1.8M848.1 478.1l-2.2 -0.9M855.7 582.5l-4.4 -1.7M856.7 581.0l-4.4 -1.7M855.7 570.1l-4.4 -1.7M856.7 568.7l-4.4 -1.7M857.7 567.3l-4.4 -1.7M855.7 557.8l-4.4 -1.7M856.7 556.4l-4.4 -1.7M857.7 554.9l-4.4 -1.7M858.7 553.5l-4.4 -1.7M855.7 545.5l-4.4 -1.7M856.7 544.0l-4.4 -1.7M857.7 542.6l-4.4 -1.7M858.7 541.2l-4.4 -1.7M855.7 533.2l-4.4 -1.7M856.7 531.7l-4.4 -1.7M857.7 530.3l-4.4 -1.7M858.7 528.9l-4.4 -1.7M855.7 520.8l-4.4 -1.7M856.7 519.4l-4.4 -1.7M857.7 518.0l-4.4 -1.7M858.7 516.5l-4.4 -1.7M855.7 508.5l-4.4 -1.7M856.7 507.1l-4.4 -1.7M857.7 505.6l-4.4 -1.7M858.7 504.2l-4.4 -1.7M855.7 496.2l-4.4 -1.7M856.7 494.8l-4.4 -1.7M857.7 493.3l-4.4 -1.7M858.7 491.9l-4.4 -1.7M855.7 483.9l-4.4 -1.7M856.7 482.4l-4.4 -1.7M857.7 481.0l-4.4 -1.7M858.7 479.6l-4.4 -1.7M855.7 471.5l-4.4 -1.7M856.7 470.1l-4.4 -1.7M857.7 468.7l-4.4 -1.7M858.7 467.2l-4.4 -1.7M859.7 465.8l-2.2 -0.8M868.5 583.2l-4.5 -1.2M869.3 581.7l-4.5 -1.2M868.5 570.9l-4.5 -1.2M869.3 569.3l-4.5 -1.2M870.2 567.8l-4.5 -1.2M868.5 558.6l-4.5 -1.2M869.3 557.0l-4.5 -1.2M870.2 555.5l-4.5 -1.2M871.0 554.0l-2.3 -0.6M868.5 546.2l-4.5 -1.2M869.3 544.7l-4.5 -1.2M870.2 543.2l-4.5 -1.2M871.0 541.6l-4.5 -1.2M868.5 533.9l-4.5 -1.2M869.3 532.4l-4.5 -1.2M870.2 530.8l-4.5 -1.2M871.0 529.3l-4.5 -1.2M868.5 521.6l-4.5 -1.2M869.3 520.1l-4.5 -1.2M870.2 518.5l-4.5 -1.2M871.0 517.0l-4.5 -1.2M868.5 509.3l-4.5 -1.2M869.3 507.7l-4.5 -1.2M870.2 506.2l-4.5 -1.2M871.0 504.7l-4.5 -1.2M868.5 496.9l-4.5 -1.2M869.3 495.4l-4.5 -1.2M870.2 493.9l-4.5 -1.2M871.0 492.3l-4.5 -1.2M868.5 484.6l-4.5 -1.2M869.3 483.1l-4.5 -1.2M870.2 481.6l-4.5 -1.2M871.0 480.0l-4.5 -1.2M868.5 472.3l-4.5 -1.2M869.3 470.8l-4.5 -1.2M870.2 469.2l-4.5 -1.2M871.0 467.7l-4.5 -1.2M868.5 460.0l-4.5 -1.2M869.3 458.4l-4.5 -1.2M870.2 456.9l-4.5 -1.2M871.0 455.4l-4.5 -1.2M868.5 447.6l-4.5 -1.2M869.3 446.1l-4.5 -1.2M870.2 444.6l-4.5 -1.2M871.0 443.1l-4.5 -1.2M881.4 583.8l-4.6 -0.7M882.0 582.2l-2.3 -0.4M881.4 571.5l-4.6 -0.7M882.0 569.9l-4.6 -0.7M882.7 568.3l-2.3 -0.4M881.4 559.2l-4.6 -0.7M882.0 557.6l-4.6 -0.7M882.7 556.0l-4.6 -0.7M881.4 546.9l-4.6 -0.7M882.0 545.2l-4.6 -0.7M882.7 543.6l-4.6 -0.7M881.4 534.5l-4.6 -0.7M882.0 532.9l-4.6 -0.7M882.7 531.3l-4.6 -0.7M881.4 522.2l-4.6 -0.7M882.0 520.6l-4.6 -0.7M882.7 519.0l-4.6 -0.7M881.4 509.9l-4.6 -0.7M882.0 508.3l-4.6 -0.7M882.7 506.7l-4.6 -0.7M883.4 505.0l-2.3 -0.4M881.4 497.6l-4.6 -0.7M882.0 495.9l-4.6 -0.7M882.7 494.3l-4.6 -0.7M883.4 492.7l-2.3 -0.4M894.0 584.2l-4.7 -0.3M894.6 582.6l-2.3 -0.2M894.0 571.9l-4.7 -0.3M894.6 570.2l-4.7 -0.3M895.1 568.6l-2.3 -0.2M894.0 559.6l-4.7 -0.3M894.6 557.9l-4.7 -0.3M895.1 556.3l-4.7 -0.3M894.0 547.3l-4.7 -0.3M894.6 545.6l-4.7 -0.3M895.1 543.9l-4.7 -0.3M894.0 534.9l-4.7 -0.3M894.6 533.3l-4.7 -0.3M895.1 531.6l-4.7 -0.3M894.0 522.6l-4.7 -0.3M894.6 521.0l-4.7 -0.3M895.1 519.3l-4.7 -0.3M895.7 517.6l-2.3 -0.2M894.0 510.3l-4.7 -0.3M894.6 508.6l-4.7 -0.3M895.1 507.0l-4.7 -0.3M895.7 505.3l-2.3 -0.2M894.0 498.0l-4.7 -0.3M894.6 496.3l-4.7 -0.3M895.1 494.6l-4.7 -0.3M895.7 493.0l-2.3 -0.2M894.0 485.6l-4.7 -0.3M894.6 484.0l-4.7 -0.3M895.1 482.3l-4.7 -0.3M895.7 480.7l-2.3 -0.2M894.0 473.3l-4.7 -0.3M894.6 471.7l-4.7 -0.3M895.1 470.0l-4.7 -0.3M895.7 468.3l-2.3 -0.2M894.0 461.0l-4.7 -0.3M894.6 459.3l-4.7 -0.3M895.1 457.7l-4.7 -0.3M895.7 456.0l-2.3 -0.2M894.0 448.7l-4.7 -0.3M894.6 447.0l-4.7 -0.3M895.1 445.3l-4.7 -0.3M895.7 443.7l-2.3 -0.2M894.0 436.4l-4.7 -0.3M894.6 434.7l-4.7 -0.3M895.1 433.0l-4.7 -0.3M895.7 431.4l-2.3 -0.2M894.0 424.0l-4.7 -0.3M894.6 422.4l-4.7 -0.3M895.1 420.7l-4.7 -0.3M895.7 419.0l-2.3 -0.2M906.5 584.5l-4.7 -0.0M907.0 582.8l-2.3 -0.0M906.5 572.2l-4.7 -0.0M907.0 570.5l-4.7 -0.0M907.4 568.8l-2.3 -0.0M906.5 559.8l-4.7 -0.0M907.0 558.1l-4.7 -0.0M907.4 556.4l-4.7 -0.0M906.5 547.5l-4.7 -0.0M907.0 545.8l-4.7 -0.0M907.4 544.1l-4.7 -0.0M906.5 535.2l-4.7 -0.0M907.0 533.5l-4.7 -0.0M907.4 531.8l-4.7 -0.0M906.5 522.9l-4.7 -0.0M907.0 521.2l-4.7 -0.0M907.4 519.5l-4.7 -0.0M907.8 517.8l-2.3 -0.0M906.5 510.6l-4.7 -0.0M907.0 508.9l-4.7 -0.0M907.4 507.2l-4.7 -0.0M907.8 505.5l-2.3 -0.0M906.5 498.2l-4.7 -0.0M907.0 496.5l-4.7 -0.0M907.4 494.8l-4.7 -0.0M907.8 493.1l-2.3 -0.0M906.5 485.9l-4.7 -0.0M907.0 484.2l-4.7 -0.0M907.4 482.5l-4.7 -0.0M907.8 480.8l-2.3 -0.0M906.5 473.6l-4.7 -0.0M907.0 471.9l-4.7 -0.0M907.4 470.2l-4.7 -0.0M907.8 468.5l-2.3 -0.0M906.5 461.3l-4.7 -0.0M907.0 459.6l-4.7 -0.0M907.4 457.9l-4.7 -0.0M907.8 456.2l-2.3 -0.0M906.5 448.9l-4.7 -0.0M907.0 447.2l-4.7 -0.0M907.4 445.5l-4.7 -0.0M907.8 443.8l-2.3 -0.0M906.5 436.6l-4.7 -0.0M907.0 434.9l-4.7 -0.0M907.4 433.2l-4.7 -0.0M907.8 431.5l-2.3 -0.0M906.5 424.3l-4.7 -0.0M907.0 422.6l-4.7 -0.0M907.4 420.9l-4.7 -0.0M907.8 419.2l-2.3 -0.0M919.0 584.7l-4.7 0.3M919.3 583.0l-2.3 0.2M919.0 572.4l-4.7 0.3M919.3 570.6l-4.7 0.3M919.6 568.9l-2.3 0.2M919.0 560.0l-4.7 0.3M919.3 558.3l-4.7 0.3M919.6 556.6l-4.7 0.3M919.0 547.7l-4.7 0.3M919.3 546.0l-4.7 0.3M919.6 544.3l-4.7 0.3M919.0 535.4l-4.7 0.3M919.3 533.7l-4.7 0.3M919.6 531.9l-4.7 0.3M919.0 523.1l-4.7 0.3M919.3 521.3l-4.7 0.3M919.6 519.6l-4.7 0.3M919.9 517.9l-2.3 0.2M919.0 510.7l-4.7 0.3M919.3 509.0l-4.7 0.3M919.6 507.3l-4.7 0.3M919.9 505.6l-2.3 0.2M919.0 498.4l-4.7 0.3M919.3 496.7l-4.7 0.3M919.6 495.0l-4.7 0.3M919.9 493.3l-2.3 0.2M919.0 486.1l-4.7 0.3M919.3 484.4l-4.7 0.3M919.6 482.7l-4.7 0.3M919.9 480.9l-2.3 0.2M919.0 473.8l-4.7 0.3M919.3 472.1l-4.7 0.3M919.6 470.3l-4.7 0.3M919.9 468.6l-2.3 0.2M919.0 461.5l-4.7 0.3M919.3 459.7l-4.7 0.3M919.6 458.0l-4.7 0.3M919.9 456.3l-2.3 0.2M919.0 449.1l-4.7 0.3M919.3 447.4l-4.7 0.3M919.6 445.7l-4.7 0.3M919.9 444.0l-2.3 0.2M919.0 436.8l-4.7 0.3M919.3 435.1l-4.7 0.3M919.6 433.4l-4.7 0.3M919.9 431.6l-2.3 0.2M931.5 584.8l-4.7 0.6M931.7 583.1l-4.7 0.6M931.5 572.5l-4.7 0.6M931.7 570.8l-4.7 0.6M931.9 569.0l-2.3 0.3M931.5 560.2l-4.7 0.6M931.7 558.4l-4.7 0.6M931.9 556.7l-4.7 0.6M931.5 547.8l-4.7 0.6M931.7 546.1l-4.7 0.6M931.9 544.4l-4.7 0.6M932.1 542.6l-2.3 0.3M931.5 535.5l-4.7 0.6M931.7 533.8l-4.7 0.6M931.9 532.0l-4.7 0.6M932.1 530.3l-2.3 0.3M931.5 523.2l-4.7 0.6M931.7 521.5l-4.7 0.6M931.9 519.7l-4.7 0.6M932.1 518.0l-2.3 0.3M931.5 510.9l-4.7 0.6M931.7 509.1l-4.7 0.6M931.9 507.4l-4.7 0.6M932.1 505.7l-2.3 0.3M931.5 498.6l-4.7 0.6M931.7 496.8l-4.7 0.6M931.9 495.1l-4.7 0.6M932.1 493.3l-2.3 0.3M931.5 486.2l-4.7 0.6M931.7 484.5l-4.7 0.6M931.9 482.8l-4.7 0.6M932.1 481.0l-2.3 0.3M931.5 473.9l-4.7 0.6M931.7 472.2l-4.7 0.6M931.9 470.4l-4.7 0.6M932.1 468.7l-2.3 0.3M931.5 461.6l-4.7 0.6M931.7 459.8l-4.7 0.6M931.9 458.1l-4.7 0.6M932.1 456.4l-2.3 0.3M931.5 449.3l-4.7 0.6M931.7 447.5l-4.7 0.6M931.9 445.8l-4.7 0.6M932.1 444.0l-2.3 0.3M931.5 436.9l-4.7 0.6M931.7 435.2l-4.7 0.6M931.9 433.5l-4.7 0.6M932.1 431.7l-2.3 0.3M931.5 424.6l-4.7 0.6M931.7 422.9l-4.7 0.6M931.9 421.1l-4.7 0.6M932.1 419.4l-2.3 0.3M931.5 412.3l-4.7 0.6M931.7 410.6l-4.7 0.6M931.9 408.8l-4.7 0.6M932.1 407.1l-2.3 0.3M931.5 400.0l-4.7 0.6M931.7 398.2l-4.7 0.6M931.9 396.5l-4.7 0.6M932.1 394.8l-2.3 0.3M944.1 584.9l-4.6 1.0M944.1 583.1l-4.6 1.0M944.1 572.6l-4.6 1.0M944.1 570.8l-4.6 1.0M944.2 569.1l-4.6 1.0M944.1 560.2l-4.6 1.0M944.1 558.5l-4.6 1.0M944.2 556.7l-4.6 1.0M944.3 555.0l-2.3 0.5M944.1 547.9l-4.6 1.0M944.1 546.2l-4.6 1.0M944.2 544.4l-4.6 1.0M944.3 542.7l-2.3 0.5M944.1 535.6l-4.6 1.0M944.1 533.8l-4.6 1.0M944.2 532.1l-4.6 1.0M944.3 530.3l-2.3 0.5M944.1 523.3l-4.6 1.0M944.1 521.5l-4.6 1.0M944.2 519.8l-4.6 1.0M944.3 518.0l-4.6 1.0M944.1 510.9l-4.6 1.0M944.1 509.2l-4.6 1.0M944.2 507.4l-4.6 1.0M944.3 505.7l-4.6 1.0M944.1 498.6l-4.6 1.0M944.1 496.9l-4.6 1.0M944.2 495.1l-4.6 1.0M944.3 493.4l-4.6 1.0M956.5 584.9l-4.5 1.3M956.5 583.1l-4.5 1.3M956.5 572.6l-4.5 1.3M956.5 570.8l-4.5 1.3M956.4 569.1l-4.5 1.3M956.5 560.2l-4.5 1.3M956.5 558.5l-4.5 1.3M956.4 556.7l-4.5 1.3M956.4 555.0l-2.3 0.6M956.5 547.9l-4.5 1.3M956.5 546.2l-4.5 1.3M956.4 544.4l-4.5 1.3M956.4 542.7l-2.3 0.6M956.5 535.6l-4.5 1.3M956.5 533.8l-4.5 1.3M956.4 532.1l-4.5 1.3M956.4 530.3l-4.5 1.3M956.5 523.3l-4.5 1.3M956.5 521.5l-4.5 1.3M956.4 519.8l-4.5 1.3M956.4 518.0l-4.5 1.3M956.5 510.9l-4.5 1.3M956.5 509.2l-4.5 1.3M956.4 507.5l-4.5 1.3M956.4 505.7l-4.5 1.3M956.5 498.6l-4.5 1.3M956.5 496.9l-4.5 1.3M956.4 495.1l-4.5 1.3M956.4 493.4l-4.5 1.3M968.8 584.8l-4.4 1.5M968.7 583.1l-4.4 1.5M968.8 572.5l-4.4 1.5M968.7 570.8l-4.4 1.5M968.5 569.0l-4.4 1.5M968.8 560.2l-4.4 1.5M968.7 558.5l-4.4 1.5M968.5 556.7l-4.4 1.5M968.4 555.0l-2.2 0.8M968.8 547.9l-4.4 1.5M968.7 546.1l-4.4 1.5M968.5 544.4l-4.4 1.5M968.4 542.6l-4.4 1.5M968.8 535.6l-4.4 1.5M968.7 533.8l-4.4 1.5M968.5 532.1l-4.4 1.5M968.4 530.3l-4.4 1.5M968.8 523.2l-4.4 1.5M968.7 521.5l-4.4 1.5M968.5 519.7l-4.4 1.5M968.4 518.0l-4.4 1.5M968.8 510.9l-4.4 1.5M968.7 509.2l-4.4 1.5M968.5 507.4l-4.4 1.5M968.4 505.7l-4.4 1.5M968.8 498.6l-4.4 1.5M968.7 496.8l-4.4 1.5M968.5 495.1l-4.4 1.5M968.4 493.4l-4.4 1.5M968.8 486.3l-4.4 1.5M968.7 484.5l-4.4 1.5M968.5 482.8l-4.4 1.5M968.4 481.0l-4.4 1.5M968.8 473.9l-4.4 1.5M968.7 472.2l-4.4 1.5M968.5 470.5l-4.4 1.5M968.4 468.7l-4.4 1.5M968.8 461.6l-4.4 1.5M968.7 459.9l-4.4 1.5M968.5 458.1l-4.4 1.5M968.4 456.4l-4.4 1.5M968.8 449.3l-4.4 1.5M968.7 447.5l-4.4 1.5M968.5 445.8l-4.4 1.5M968.4 444.1l-2.2 0.8M981.2 584.8l-4.4 1.8M980.9 583.0l-4.4 1.8M981.2 572.4l-4.4 1.8M980.9 570.7l-4.4 1.8M980.7 569.0l-4.4 1.8M981.2 560.1l-4.4 1.8M980.9 558.4l-4.4 1.8M980.7 556.6l-4.4 1.8M980.4 554.9l-2.2 0.9M981.2 547.8l-4.4 1.8M980.9 546.1l-4.4 1.8M980.7 544.3l-4.4 1.8M980.4 542.6l-4.4 1.8M981.2 535.5l-4.4 1.8M980.9 533.7l-4.4 1.8M980.7 532.0l-4.4 1.8M980.4 530.3l-4.4 1.8M981.2 523.1l-4.4 1.8M980.9 521.4l-4.4 1.8M980.7 519.7l-4.4 1.8M980.4 517.9l-4.4 1.8M981.2 510.8l-4.4 1.8M980.9 509.1l-4.4 1.8M980.7 507.4l-4.4 1.8M980.4 505.6l-4.4 1.8M981.2 498.5l-4.4 1.8M980.9 496.8l-4.4 1.8M980.7 495.0l-4.4 1.8M980.4 493.3l-4.4 1.8M981.2 486.2l-4.4 1.8M980.9 484.4l-4.4 1.8M980.7 482.7l-4.4 1.8M980.4 481.0l-4.4 1.8M981.2 473.9l-4.4 1.8M980.9 472.1l-4.4 1.8M980.7 470.4l-4.4 1.8M980.4 468.7l-4.4 1.8M981.2 461.5l-4.4 1.8M980.9 459.8l-4.4 1.8M980.7 458.1l-4.4 1.8M980.4 456.3l-4.4 1.8M993.0 584.7l-4.3 1.8M992.7 583.0l-4.3 1.8M993.0 572.4l-4.3 1.8M992.7 570.7l-4.3 1.8M992.4 568.9l-4.3 1.8M993.0 560.1l-4.3 1.8M992.7 558.4l-4.3 1.8M992.4 556.6l-4.3 1.8M992.2 554.9l-2.2 0.9M993.0 547.8l-4.3 1.8M992.7 546.0l-4.3 1.8M992.4 544.3l-4.3 1.8M992.2 542.6l-4.3 1.8M993.0 535.4l-4.3 1.8M992.7 533.7l-4.3 1.8M992.4 532.0l-4.3 1.8M992.2 530.3l-4.3 1.8M993.0 523.1l-4.3 1.8M992.7 521.4l-4.3 1.8M992.4 519.7l-4.3 1.8M992.2 517.9l-4.3 1.8M993.0 510.8l-4.3 1.8M992.7 509.1l-4.3 1.8M992.4 507.3l-4.3 1.8M992.2 505.6l-4.3 1.8M993.0 498.5l-4.3 1.8M992.7 496.7l-4.3 1.8M992.4 495.0l-4.3 1.8M992.2 493.3l-4.3 1.8M993.0 486.1l-4.3 1.8M992.7 484.4l-4.3 1.8M992.4 482.7l-4.3 1.8M992.2 481.0l-4.3 1.8M993.0 473.8l-4.3 1.8M992.7 472.1l-4.3 1.8M992.4 470.4l-4.3 1.8M992.2 468.6l-4.3 1.8M1004.8 584.7l-4.3 1.9M1004.5 583.0l-4.3 1.9M1004.8 572.4l-4.3 1.9M1004.5 570.6l-4.3 1.9M1004.2 568.9l-4.3 1.9M1004.8 560.1l-4.3 1.9M1004.5 558.3l-4.3 1.9M1004.2 556.6l-4.3 1.9M1003.9 554.9l-2.2 0.9M1004.8 547.7l-4.3 1.9M1004.5 546.0l-4.3 1.9M1004.2 544.3l-4.3 1.9M1003.9 542.6l-4.3 1.9M1004.8 535.4l-4.3 1.9M1004.5 533.7l-4.3 1.9M1004.2 532.0l-4.3 1.9M1003.9 530.2l-4.3 1.9M1004.8 523.1l-4.3 1.9M1004.5 521.4l-4.3 1.9M1004.2 519.6l-4.3 1.9M1003.9 517.9l-4.3 1.9M1004.8 510.8l-4.3 1.9M1004.5 509.0l-4.3 1.9M1004.2 507.3l-4.3 1.9M1003.9 505.6l-4.3 1.9M1004.8 498.4l-4.3 1.9M1004.5 496.7l-4.3 1.9M1004.2 495.0l-4.3 1.9M1003.9 493.3l-4.3 1.9M1004.8 486.1l-4.3 1.9M1004.5 484.4l-4.3 1.9M1004.2 482.7l-4.3 1.9M1003.9 480.9l-4.3 1.9M1004.8 473.8l-4.3 1.9M1004.5 472.1l-4.3 1.9M1004.2 470.3l-4.3 1.9M1003.9 468.6l-4.3 1.9M1004.8 461.5l-4.3 1.9M1004.5 459.7l-4.3 1.9M1004.2 458.0l-4.3 1.9M1003.9 456.3l-4.3 1.9M1016.5 584.7l-4.3 2.0M1016.2 582.9l-4.3 2.0M1016.5 572.3l-4.3 2.0M1016.2 570.6l-4.3 2.0M1015.9 568.9l-4.3 2.0M1016.5 560.0l-4.3 2.0M1016.2 558.3l-4.3 2.0M1015.9 556.6l-4.3 2.0M1015.6 554.9l-2.1 1.0M1016.5 547.7l-4.3 2.0M1016.2 546.0l-4.3 2.0M1015.9 544.3l-4.3 2.0M1015.6 542.5l-4.3 2.0M1016.5 535.4l-4.3 2.0M1016.2 533.6l-4.3 2.0M1015.9 531.9l-4.3 2.0M1015.6 530.2l-4.3 2.0M1016.5 523.0l-4.3 2.0M1016.2 521.3l-4.3 2.0M1015.9 519.6l-4.3 2.0M1015.6 517.9l-4.3 2.0M1016.5 510.7l-4.3 2.0M1016.2 509.0l-4.3 2.0M1015.9 507.3l-4.3 2.0M1015.6 505.6l-4.3 2.0M1016.5 498.4l-4.3 2.0M1016.2 496.7l-4.3 2.0M1015.9 495.0l-4.3 2.0M1015.6 493.2l-4.3 2.0M1016.5 486.1l-4.3 2.0M1016.2 484.4l-4.3 2.0M1015.9 482.6l-4.3 2.0M1015.6 480.9l-4.3 2.0M1028.3 584.6l-4.2 2.0M1028.0 582.9l-4.2 2.0M1028.3 572.3l-4.2 2.0M1028.0 570.6l-4.2 2.0M1027.6 568.9l-4.2 2.0M1028.3 560.0l-4.2 2.0M1028.0 558.3l-4.2 2.0M1027.6 556.5l-4.2 2.0M1027.3 554.8l-2.1 1.0M1028.3 547.6l-4.2 2.0M1028.0 545.9l-4.2 2.0M1027.6 544.2l-4.2 2.0M1027.3 542.5l-2.1 1.0M1028.3 535.3l-4.2 2.0M1028.0 533.6l-4.2 2.0M1027.6 531.9l-4.2 2.0M1027.3 530.2l-4.2 2.0M1028.3 523.0l-4.2 2.0M1028.0 521.3l-4.2 2.0M1027.6 519.6l-4.2 2.0M1027.3 517.9l-4.2 2.0M1028.3 510.7l-4.2 2.0M1028.0 509.0l-4.2 2.0M1027.6 507.3l-4.2 2.0M1027.3 505.5l-4.2 2.0M1028.3 498.4l-4.2 2.0M1028.0 496.6l-4.2 2.0M1027.6 494.9l-4.2 2.0M1027.3 493.2l-4.2 2.0M1028.3 486.0l-4.2 2.0M1028.0 484.3l-4.2 2.0M1027.6 482.6l-4.2 2.0M1027.3 480.9l-4.2 2.0M1028.3 473.7l-4.2 2.0M1028.0 472.0l-4.2 2.0M1027.6 470.3l-4.2 2.0M1027.3 468.6l-4.2 2.0" fill="none" stroke="#1c1c1c" stroke-opacity="0.88" stroke-width="1"/>
<rect x="616.3" y="341.0" width="417.0" height="236.3" fill="none" stroke="#555" stroke-width="0.8"/>
<path d="M616.3 577.3v-3.5M616.3 341.0v3.5M668.4 577.3v-3.5M668.4 341.0v3.5M720.5 577.3v-3.5M720.5 341.0v3.5M772.7 577.3v-3.5M772.7 341.0v3.5M824.8 577.3v-3.5M824.8 341.0v3.5M876.9 577.3v-3.5M876.9 341.0v3.5M929.0 577.3v-3.5M929.0 341.0v3.5M981.2 577.3v-3.5M981.2 341.0v3.5M1033.3 577.3v-3.5M1033.3 341.0v3.5M616.3 341.0h3.5M1033.3 341.0h-3.5M616.3 400.1h3.5M1033.3 400.1h-3.5M616.3 459.1h3.5M1033.3 459.1h-3.5M616.3 518.2h3.5M1033.3 518.2h-3.5M616.3 577.3h3.5M1033.3 577.3h-3.5" stroke="#555" stroke-width="0.8" fill="none"/>
<text x="616.3" y="592.6" text-anchor="middle" class="tk">00:00</text>
<text x="668.4" y="592.6" text-anchor="middle" class="tk">03:00</text>
<text x="720.5" y="592.6" text-anchor="middle" class="tk">06:00</text>
<text x="772.7" y="592.6" text-anchor="middle" class="tk">09:00</text>
<text x="824.8" y="592.6" text-anchor="middle" class="tk">12:00</text>
<text x="876.9" y="592.6" text-anchor="middle" class="tk">15:00</text>
<text x="929.0" y="592.6" text-anchor="middle" class="tk">18:00</text>
<text x="981.2" y="592.6" text-anchor="middle" class="tk">21:00</text>
<text x="1033.3" y="592.6" text-anchor="middle" class="tk">00:00</text>
<text x="612.5" y="345.2" text-anchor="end" class="tk">2000</text>
<text x="612.5" y="404.3" text-anchor="end" class="tk">1500</text>
<text x="612.5" y="463.3" text-anchor="end" class="tk">1000</text>
<text x="612.5" y="522.4" text-anchor="end" class="tk">500</text>
<text x="612.5" y="581.5" text-anchor="end" class="tk">0</text>
<text x="824.8" y="608.8" text-anchor="middle" class="lb">Time (HH:MM)</text>
<text transform="translate(583.0 459.1) rotate(-90)" text-anchor="middle" class="lb">Height (m)</text>
<text x="824.8" y="337.4" text-anchor="middle" class="tt">20240916 Horizontal Wind Speed</text>
<text x="658.5" y="401.0" class="cn">浦东</text>
<rect x="1055.2" y="341.0" width="15.6" height="236.3" fill="url(#cb)" stroke="#555" stroke-width="0.6"/>
<text x="1074.4" y="581.5" class="tk">0</text>
<text x="1074.4" y="547.7" class="tk">5</text>
<path d="M1070.8 543.5h-2" stroke="#555" stroke-width="0.6"/>
<text x="1074.4" y="514.0" class="tk">10</text>
<path d="M1070.8 509.8h-2" stroke="#555" stroke-width="0.6"/>
<text x="1074.4" y="480.2" class="tk">15</text>
<path d="M1070.8 476.0h-2" stroke="#555" stroke-width="0.6"/>
<text x="1074.4" y="446.5" class="tk">20</text>
<path d="M1070.8 442.3h-2" stroke="#555" stroke-width="0.6"/>
<text x="1074.4" y="412.7" class="tk">25</text>
<path d="M1070.8 408.5h-2" stroke="#555" stroke-width="0.6"/>
<text x="1074.4" y="379.0" class="tk">30</text>
<path d="M1070.8 374.8h-2" stroke="#555" stroke-width="0.6"/>
<text x="1074.4" y="345.2" class="tk">35</text>
<text class="wm" transform="translate(385.5 611) scale(1.19 1)">www.anhui-autoparts.com</text>
</svg>
</body></html>
